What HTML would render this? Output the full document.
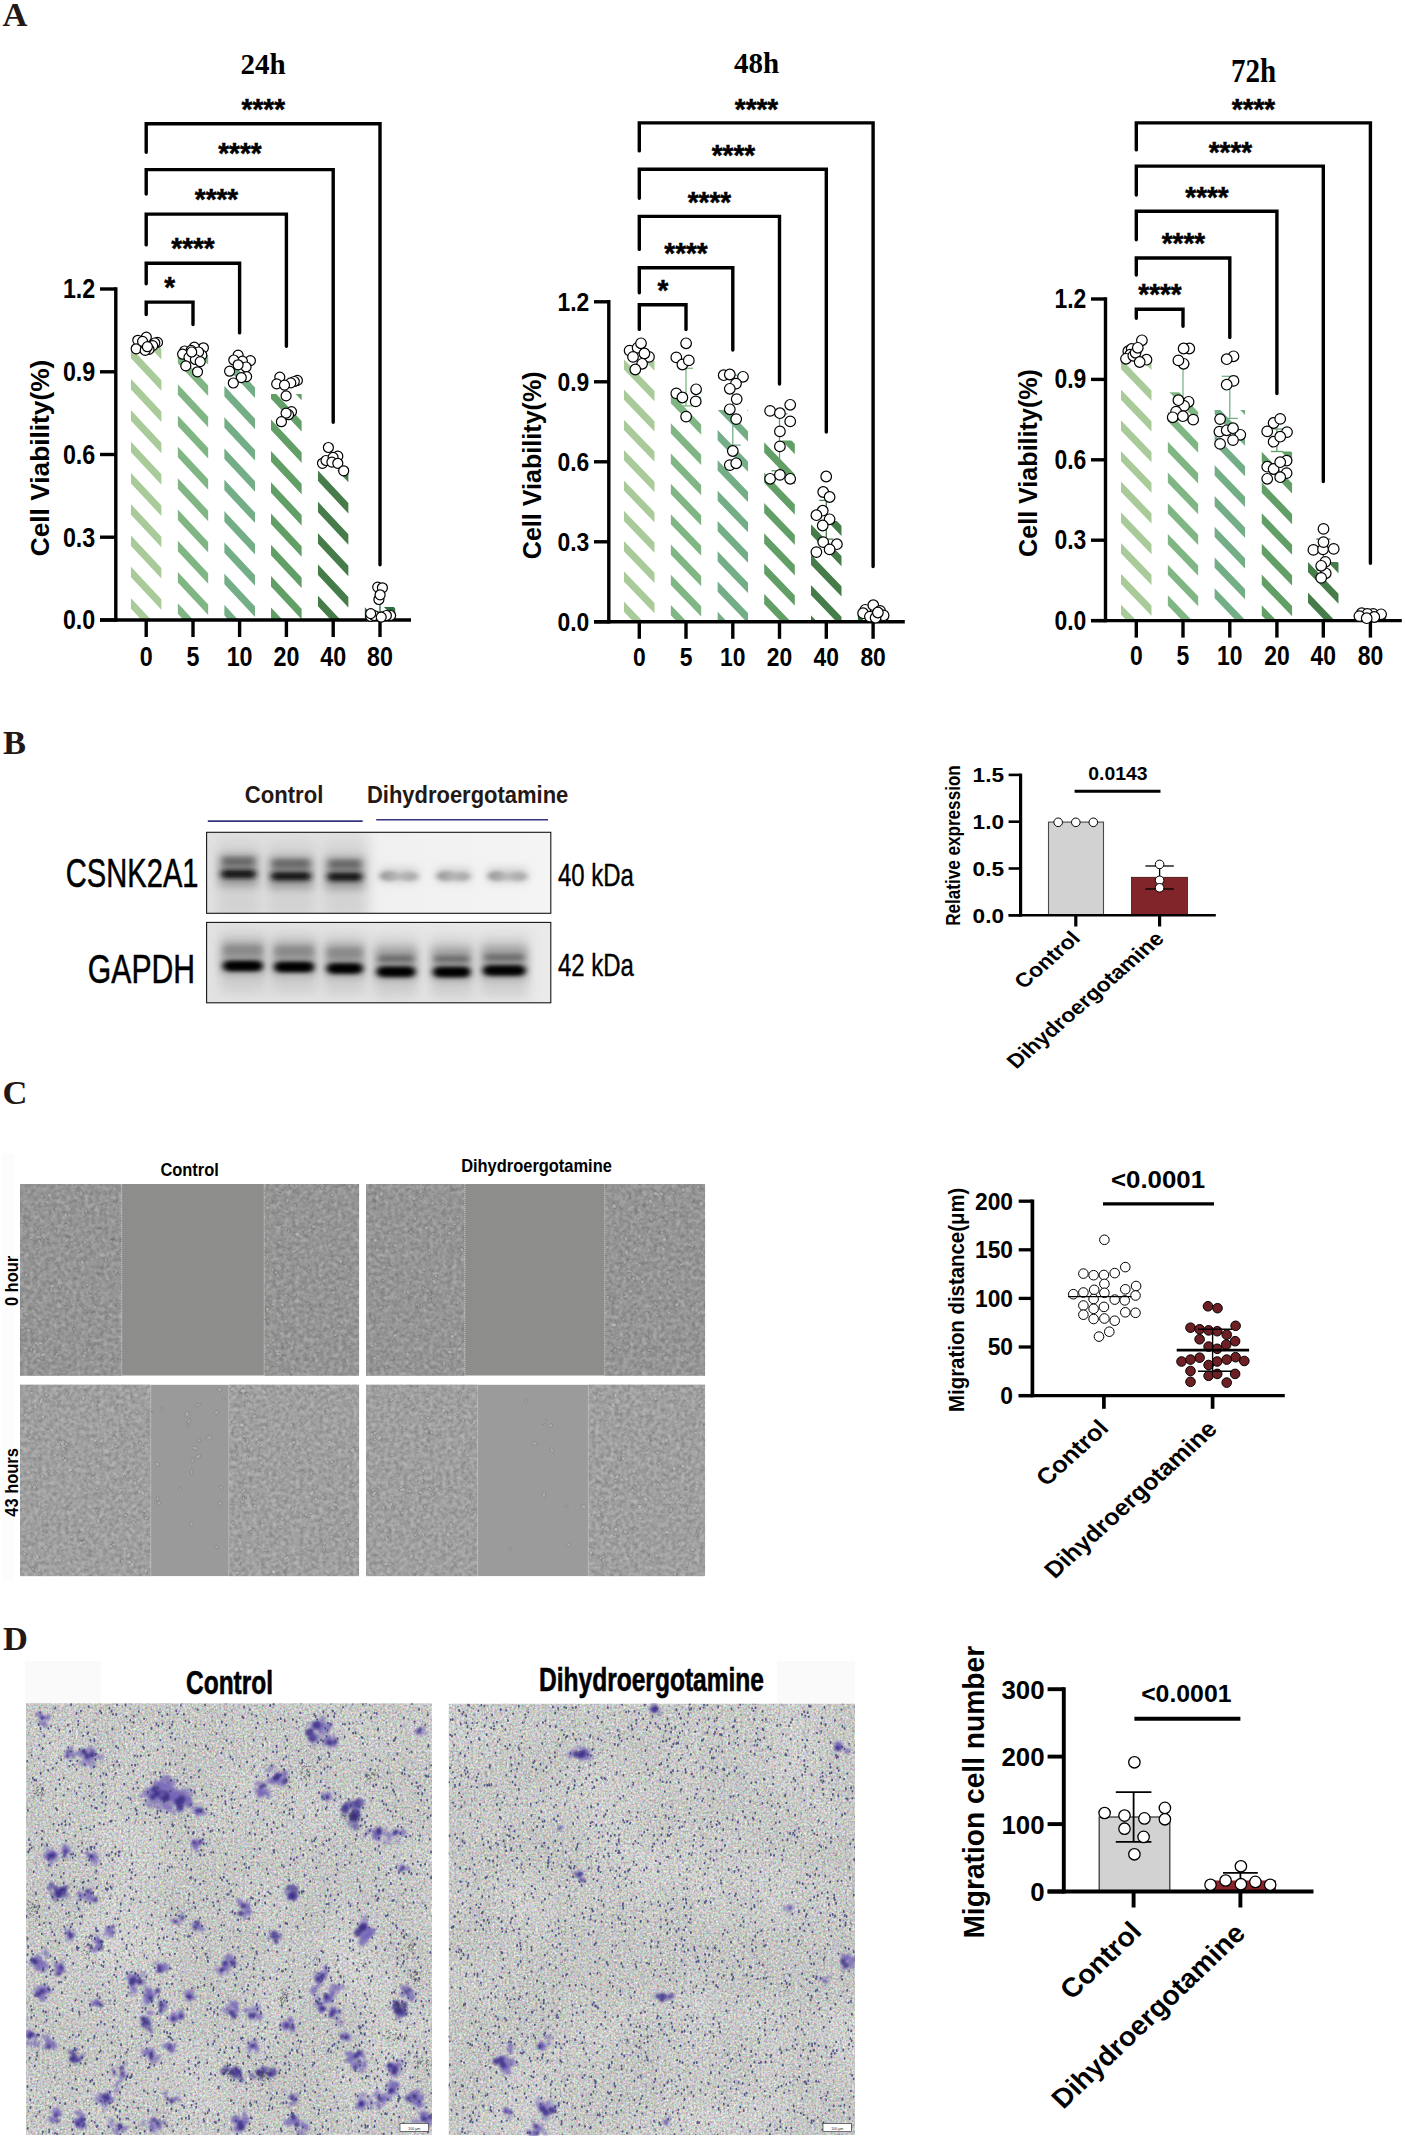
<!DOCTYPE html>
<html><head><meta charset="utf-8"><title>Figure</title>
<style>html,body{margin:0;padding:0;background:#fff}svg{display:block}</style></head><body>
<svg width="1405" height="2144" viewBox="0 0 1405 2144">
<rect width="1405" height="2144" fill="#fff"/>
<defs>
<filter id="blur2" x="-20%" y="-50%" width="140%" height="200%"><feGaussianBlur stdDeviation="2.2 1.6"/></filter>
<filter id="blur3" x="-20%" y="-80%" width="140%" height="260%"><feGaussianBlur stdDeviation="3 2.4"/></filter>
<filter id="blur1" x="-20%" y="-20%" width="140%" height="140%"><feGaussianBlur stdDeviation="1"/></filter>
<filter id="cellTex" x="0" y="0" width="100%" height="100%" color-interpolation-filters="sRGB">
 <feTurbulence type="fractalNoise" baseFrequency="0.21" numOctaves="2" seed="3" result="n"/>
 <feColorMatrix in="n" type="matrix" values="0 0 0 0 1  0 0 0 0 1  0 0 0 0 1  0.45 0 0 0 -0.16"/>
 <feComposite in2="SourceGraphic" operator="in"/>
</filter>
<filter id="cellTex2" x="0" y="0" width="100%" height="100%" color-interpolation-filters="sRGB">
 <feTurbulence type="fractalNoise" baseFrequency="0.26" numOctaves="2" seed="11" result="n"/>
 <feColorMatrix in="n" type="matrix" values="0 0 0 0 0.15  0 0 0 0 0.15  0 0 0 0 0.15  0.45 0 0 0 -0.16"/>
 <feComposite in2="SourceGraphic" operator="in"/>
</filter>
<filter id="grain" x="0" y="0" width="100%" height="100%" color-interpolation-filters="sRGB">
 <feTurbulence type="fractalNoise" baseFrequency="0.55" numOctaves="2" seed="7" result="n"/>
 <feColorMatrix in="n" type="matrix" values="2.4 0 0 0 -0.7  0 2.4 0 0 -0.7  0 0 2.4 0 -0.7  0 0 0 0 0.2"/>
 <feComposite in2="SourceGraphic" operator="in"/>
</filter>
<filter id="grainD" x="0" y="0" width="100%" height="100%" color-interpolation-filters="sRGB">
 <feTurbulence type="fractalNoise" baseFrequency="0.42" numOctaves="2" seed="33" result="n"/>
 <feColorMatrix in="n" type="matrix" values="0 0 0 0 0.6  0 0 0 0 0.62  0 0 0 0 0.6  1.8 0 0 0 -0.78"/>
 <feComposite in2="SourceGraphic" operator="in"/>
</filter>
<filter id="lowf" x="0" y="0" width="100%" height="100%" color-interpolation-filters="sRGB">
 <feTurbulence type="fractalNoise" baseFrequency="0.012" numOctaves="2" seed="4" result="n"/>
 <feColorMatrix in="n" type="matrix" values="0 0 0 0 1  0 0 0 0 1  0 0 0 0 1  1.2 0 0 0 -0.45"/>
 <feComposite in2="SourceGraphic" operator="in"/>
</filter>
<filter id="grainW" x="0" y="0" width="100%" height="100%" color-interpolation-filters="sRGB">
 <feTurbulence type="fractalNoise" baseFrequency="0.42" numOctaves="2" seed="21" result="n"/>
 <feColorMatrix in="n" type="matrix" values="0 0 0 0 1  0 0 0 0 1  0 0 0 0 1  2.4 0 0 0 -0.95"/>
 <feComposite in2="SourceGraphic" operator="in"/>
</filter>
</defs>
<text transform="translate(2.6,26.0)" font-family='"Liberation Serif", "Times New Roman", serif' font-size="34.5" font-weight="bold" text-anchor="start" fill="#231815" >A</text>
<text transform="translate(3.0,754.0)" font-family='"Liberation Serif", "Times New Roman", serif' font-size="34.5" font-weight="bold" text-anchor="start" fill="#231815" >B</text>
<text transform="translate(2.5,1104.0)" font-family='"Liberation Serif", "Times New Roman", serif' font-size="34.5" font-weight="bold" text-anchor="start" fill="#231815" >C</text>
<text transform="translate(3.0,1650.0)" font-family='"Liberation Serif", "Times New Roman", serif' font-size="34.5" font-weight="bold" text-anchor="start" fill="#231815" >D</text>
<clipPath id="c1"><rect x="130.8" y="347.0" width="30.8" height="273.0"/></clipPath>
<g clip-path="url(#c1)" fill="#A9CB99">
<path d="M130.8,253.6L130.8,264.1L161.6,297.1L161.6,286.6ZM130.8,284.9L130.8,295.4L161.6,328.4L161.6,317.9ZM130.8,316.2L130.8,326.7L161.6,359.7L161.6,349.2ZM130.8,347.5L130.8,358.0L161.6,391.0L161.6,380.5ZM130.8,378.8L130.8,389.3L161.6,422.3L161.6,411.8ZM130.8,410.1L130.8,420.6L161.6,453.6L161.6,443.1ZM130.8,441.4L130.8,451.9L161.6,484.9L161.6,474.4ZM130.8,472.7L130.8,483.2L161.6,516.2L161.6,505.7ZM130.8,504.0L130.8,514.5L161.6,547.5L161.6,537.0ZM130.8,535.3L130.8,545.8L161.6,578.8L161.6,568.3ZM130.8,566.6L130.8,577.1L161.6,610.1L161.6,599.6ZM130.8,597.9L130.8,608.4L161.6,641.4L161.6,630.9ZM130.8,629.2L130.8,639.7L161.6,672.7L161.6,662.2ZM130.8,660.5L130.8,671.0L161.6,704.0L161.6,693.5Z"/>
</g>
<clipPath id="c2"><rect x="177.6" y="355.0" width="30.8" height="265.0"/></clipPath>
<g clip-path="url(#c2)" fill="#80B684">
<path d="M177.6,258.8L177.6,269.3L208.4,302.3L208.4,291.8ZM177.6,290.1L177.6,300.6L208.4,333.6L208.4,323.1ZM177.6,321.4L177.6,331.9L208.4,364.9L208.4,354.4ZM177.6,352.7L177.6,363.2L208.4,396.2L208.4,385.7ZM177.6,384.0L177.6,394.5L208.4,427.5L208.4,417.0ZM177.6,415.3L177.6,425.8L208.4,458.8L208.4,448.3ZM177.6,446.6L177.6,457.1L208.4,490.1L208.4,479.6ZM177.6,477.9L177.6,488.4L208.4,521.4L208.4,510.9ZM177.6,509.2L177.6,519.7L208.4,552.7L208.4,542.2ZM177.6,540.5L177.6,551.0L208.4,584.0L208.4,573.5ZM177.6,571.8L177.6,582.3L208.4,615.3L208.4,604.8ZM177.6,603.1L177.6,613.6L208.4,646.6L208.4,636.1ZM177.6,634.4L177.6,644.9L208.4,677.9L208.4,667.4ZM177.6,665.7L177.6,676.2L208.4,709.2L208.4,698.7Z"/>
</g>
<clipPath id="c3"><rect x="224.2" y="368.0" width="30.8" height="252.0"/></clipPath>
<g clip-path="url(#c3)" fill="#73AE87">
<path d="M224.2,291.8L224.2,302.3L255.0,335.3L255.0,324.8ZM224.2,323.1L224.2,333.6L255.0,366.6L255.0,356.1ZM224.2,354.4L224.2,364.9L255.0,397.9L255.0,387.4ZM224.2,385.7L224.2,396.2L255.0,429.2L255.0,418.7ZM224.2,417.0L224.2,427.5L255.0,460.5L255.0,450.0ZM224.2,448.3L224.2,458.8L255.0,491.8L255.0,481.3ZM224.2,479.6L224.2,490.1L255.0,523.1L255.0,512.6ZM224.2,510.9L224.2,521.4L255.0,554.4L255.0,543.9ZM224.2,542.2L224.2,552.7L255.0,585.7L255.0,575.2ZM224.2,573.5L224.2,584.0L255.0,617.0L255.0,606.5ZM224.2,604.8L224.2,615.3L255.0,648.3L255.0,637.8ZM224.2,636.1L224.2,646.6L255.0,679.6L255.0,669.1ZM224.2,667.4L224.2,677.9L255.0,710.9L255.0,700.4Z"/>
</g>
<clipPath id="c4"><rect x="271.0" y="394.0" width="30.8" height="226.0"/></clipPath>
<g clip-path="url(#c4)" fill="#629F66">
<path d="M271.0,294.4L271.0,304.9L301.8,337.9L301.8,327.4ZM271.0,325.7L271.0,336.2L301.8,369.2L301.8,358.7ZM271.0,357.0L271.0,367.5L301.8,400.5L301.8,390.0ZM271.0,388.3L271.0,398.8L301.8,431.8L301.8,421.3ZM271.0,419.6L271.0,430.1L301.8,463.1L301.8,452.6ZM271.0,450.9L271.0,461.4L301.8,494.4L301.8,483.9ZM271.0,482.2L271.0,492.7L301.8,525.7L301.8,515.2ZM271.0,513.5L271.0,524.0L301.8,557.0L301.8,546.5ZM271.0,544.8L271.0,555.3L301.8,588.3L301.8,577.8ZM271.0,576.1L271.0,586.6L301.8,619.6L301.8,609.1ZM271.0,607.4L271.0,617.9L301.8,650.9L301.8,640.4ZM271.0,638.7L271.0,649.2L301.8,682.2L301.8,671.7ZM271.0,670.0L271.0,680.5L301.8,713.5L301.8,703.0Z"/>
</g>
<clipPath id="c5"><rect x="317.8" y="470.3" width="30.8" height="149.7"/></clipPath>
<g clip-path="url(#c5)" fill="#467C4A">
<path d="M317.8,376.4L317.8,386.9L348.6,419.9L348.6,409.4ZM317.8,407.7L317.8,418.2L348.6,451.2L348.6,440.7ZM317.8,439.0L317.8,449.5L348.6,482.5L348.6,472.0ZM317.8,470.3L317.8,480.8L348.6,513.8L348.6,503.3ZM317.8,501.6L317.8,512.1L348.6,545.1L348.6,534.6ZM317.8,532.9L317.8,543.4L348.6,576.4L348.6,565.9ZM317.8,564.2L317.8,574.7L348.6,607.7L348.6,597.2ZM317.8,595.5L317.8,606.0L348.6,639.0L348.6,628.5ZM317.8,626.8L317.8,637.3L348.6,670.3L348.6,659.8ZM317.8,658.1L317.8,668.6L348.6,701.6L348.6,691.1Z"/>
</g>
<clipPath id="c6"><rect x="364.6" y="607.0" width="30.8" height="13.0"/></clipPath>
<g clip-path="url(#c6)" fill="#2E6B3A">
<path d="M364.6,513.1L364.6,523.6L395.4,556.6L395.4,546.1ZM364.6,544.4L364.6,554.9L395.4,587.9L395.4,577.4ZM364.6,575.7L364.6,586.2L395.4,619.2L395.4,608.7ZM364.6,607.0L364.6,617.5L395.4,650.5L395.4,640.0ZM364.6,638.3L364.6,648.8L395.4,681.8L395.4,671.3ZM364.6,669.6L364.6,680.1L395.4,713.1L395.4,702.6Z"/>
</g>
<line x1="380.0" y1="593.0" x2="380.0" y2="612.0" stroke="#2E6B3A" stroke-width="1.3" stroke-linecap="butt" />
<line x1="376.0" y1="593.0" x2="384.0" y2="593.0" stroke="#2E6B3A" stroke-width="1.3" stroke-linecap="butt" />
<line x1="376.0" y1="612.0" x2="384.0" y2="612.0" stroke="#2E6B3A" stroke-width="1.3" stroke-linecap="butt" />
<line x1="115.8" y1="287.3" x2="115.8" y2="621.7" stroke="#000" stroke-width="3.4" stroke-linecap="butt" />
<line x1="100.0" y1="620.0" x2="411.0" y2="620.0" stroke="#000" stroke-width="3.4" stroke-linecap="butt" />
<line x1="100.0" y1="289.0" x2="115.8" y2="289.0" stroke="#000" stroke-width="3.4" stroke-linecap="butt" />
<text transform="translate(95.3,298.4) scale(0.826,1)" font-family='"Liberation Sans", Arial, sans-serif' font-size="28.2" font-weight="bold" text-anchor="end" fill="#000" >1.2</text>
<line x1="100.0" y1="371.8" x2="115.8" y2="371.8" stroke="#000" stroke-width="3.4" stroke-linecap="butt" />
<text transform="translate(95.3,381.1) scale(0.826,1)" font-family='"Liberation Sans", Arial, sans-serif' font-size="28.2" font-weight="bold" text-anchor="end" fill="#000" >0.9</text>
<line x1="100.0" y1="454.5" x2="115.8" y2="454.5" stroke="#000" stroke-width="3.4" stroke-linecap="butt" />
<text transform="translate(95.3,463.9) scale(0.826,1)" font-family='"Liberation Sans", Arial, sans-serif' font-size="28.2" font-weight="bold" text-anchor="end" fill="#000" >0.6</text>
<line x1="100.0" y1="537.2" x2="115.8" y2="537.2" stroke="#000" stroke-width="3.4" stroke-linecap="butt" />
<text transform="translate(95.3,546.6) scale(0.826,1)" font-family='"Liberation Sans", Arial, sans-serif' font-size="28.2" font-weight="bold" text-anchor="end" fill="#000" >0.3</text>
<line x1="100.0" y1="620.0" x2="115.8" y2="620.0" stroke="#000" stroke-width="3.4" stroke-linecap="butt" />
<text transform="translate(95.3,629.4) scale(0.826,1)" font-family='"Liberation Sans", Arial, sans-serif' font-size="28.2" font-weight="bold" text-anchor="end" fill="#000" >0.0</text>
<line x1="146.2" y1="620.0" x2="146.2" y2="637.0" stroke="#000" stroke-width="3.4" stroke-linecap="butt" />
<text transform="translate(146.2,665.5) scale(0.826,1)" font-family='"Liberation Sans", Arial, sans-serif' font-size="28.2" font-weight="bold" text-anchor="middle" fill="#000" >0</text>
<line x1="193.0" y1="620.0" x2="193.0" y2="637.0" stroke="#000" stroke-width="3.4" stroke-linecap="butt" />
<text transform="translate(193.0,665.5) scale(0.826,1)" font-family='"Liberation Sans", Arial, sans-serif' font-size="28.2" font-weight="bold" text-anchor="middle" fill="#000" >5</text>
<line x1="239.6" y1="620.0" x2="239.6" y2="637.0" stroke="#000" stroke-width="3.4" stroke-linecap="butt" />
<text transform="translate(239.6,665.5) scale(0.826,1)" font-family='"Liberation Sans", Arial, sans-serif' font-size="28.2" font-weight="bold" text-anchor="middle" fill="#000" >10</text>
<line x1="286.4" y1="620.0" x2="286.4" y2="637.0" stroke="#000" stroke-width="3.4" stroke-linecap="butt" />
<text transform="translate(286.4,665.5) scale(0.826,1)" font-family='"Liberation Sans", Arial, sans-serif' font-size="28.2" font-weight="bold" text-anchor="middle" fill="#000" >20</text>
<line x1="333.2" y1="620.0" x2="333.2" y2="637.0" stroke="#000" stroke-width="3.4" stroke-linecap="butt" />
<text transform="translate(333.2,665.5) scale(0.826,1)" font-family='"Liberation Sans", Arial, sans-serif' font-size="28.2" font-weight="bold" text-anchor="middle" fill="#000" >40</text>
<line x1="380.0" y1="620.0" x2="380.0" y2="637.0" stroke="#000" stroke-width="3.4" stroke-linecap="butt" />
<text transform="translate(380.0,665.5) scale(0.826,1)" font-family='"Liberation Sans", Arial, sans-serif' font-size="28.2" font-weight="bold" text-anchor="middle" fill="#000" >80</text>
<text transform="translate(49.0,458.0) rotate(-90) scale(1.03,1)" font-family='"Liberation Sans", Arial, sans-serif' font-size="25.5" font-weight="bold" text-anchor="middle" fill="#000" >Cell Viability(%)</text>
<g fill="#fff" stroke="#000" stroke-width="1.2">
<circle cx="146.3" cy="337.1" r="5.0"/>
<circle cx="137.8" cy="340.3" r="5.0"/>
<circle cx="157.5" cy="342.4" r="5.0"/>
<circle cx="154.8" cy="343.0" r="5.0"/>
<circle cx="152.7" cy="345.6" r="5.0"/>
<circle cx="136.2" cy="348.8" r="5.0"/>
<circle cx="149.0" cy="349.4" r="5.0"/>
<circle cx="145.2" cy="350.4" r="5.0"/>
<circle cx="142.6" cy="341.4" r="5.0"/>
<circle cx="147.4" cy="346.7" r="5.0"/>
</g>
<g fill="#fff" stroke="#000" stroke-width="1.2">
<circle cx="203.4" cy="347.8" r="5.0"/>
<circle cx="194.3" cy="347.2" r="5.0"/>
<circle cx="184.7" cy="351.0" r="5.0"/>
<circle cx="191.1" cy="350.4" r="5.0"/>
<circle cx="201.8" cy="355.2" r="5.0"/>
<circle cx="182.6" cy="354.2" r="5.0"/>
<circle cx="198.6" cy="352.0" r="5.0"/>
<circle cx="189.0" cy="357.4" r="5.0"/>
<circle cx="195.4" cy="359.5" r="5.0"/>
<circle cx="200.2" cy="361.6" r="5.0"/>
<circle cx="185.8" cy="365.9" r="5.0"/>
<circle cx="197.5" cy="371.8" r="5.0"/>
<circle cx="191.7" cy="352.0" r="5.0"/>
</g>
<g fill="#fff" stroke="#000" stroke-width="1.2">
<circle cx="238.1" cy="355.2" r="5.0"/>
<circle cx="250.4" cy="360.6" r="5.0"/>
<circle cx="242.4" cy="361.1" r="5.0"/>
<circle cx="246.1" cy="367.0" r="5.0"/>
<circle cx="233.8" cy="360.0" r="5.0"/>
<circle cx="238.1" cy="364.8" r="5.0"/>
<circle cx="229.6" cy="371.2" r="5.0"/>
<circle cx="246.6" cy="376.6" r="5.0"/>
<circle cx="241.3" cy="377.6" r="5.0"/>
<circle cx="233.3" cy="383.0" r="5.0"/>
</g>
<g fill="#fff" stroke="#000" stroke-width="1.2">
<circle cx="297.4" cy="380.4" r="5.0"/>
<circle cx="294.3" cy="381.5" r="5.0"/>
<circle cx="290.8" cy="382.9" r="5.0"/>
<circle cx="279.8" cy="377.1" r="5.0"/>
<circle cx="276.7" cy="383.9" r="5.0"/>
<circle cx="284.5" cy="385.1" r="5.0"/>
<circle cx="286.1" cy="395.9" r="5.0"/>
<circle cx="291.5" cy="411.6" r="5.0"/>
<circle cx="288.5" cy="414.7" r="5.0"/>
<circle cx="286.1" cy="413.2" r="5.0"/>
<circle cx="281.4" cy="421.7" r="5.0"/>
</g>
<g fill="#fff" stroke="#000" stroke-width="1.2">
<circle cx="328.4" cy="447.5" r="5.0"/>
<circle cx="322.5" cy="463.3" r="5.0"/>
<circle cx="326.0" cy="460.5" r="5.0"/>
<circle cx="337.8" cy="456.2" r="5.0"/>
<circle cx="333.1" cy="457.4" r="5.0"/>
<circle cx="331.9" cy="462.1" r="5.0"/>
<circle cx="337.8" cy="463.3" r="5.0"/>
<circle cx="343.7" cy="470.8" r="5.0"/>
</g>
<g fill="#fff" stroke="#000" stroke-width="1.2">
<circle cx="377.7" cy="587.1" r="5.0"/>
<circle cx="382.4" cy="587.8" r="5.0"/>
<circle cx="378.9" cy="599.5" r="5.0"/>
<circle cx="380.1" cy="594.8" r="5.0"/>
<circle cx="370.7" cy="616.4" r="5.0"/>
<circle cx="374.2" cy="615.5" r="5.0"/>
<circle cx="390.6" cy="615.5" r="5.0"/>
<circle cx="386.4" cy="615.5" r="5.0"/>
<circle cx="370.7" cy="613.6" r="5.0"/>
<circle cx="381.2" cy="617.1" r="5.0"/>
</g>
<path d="M146.2,152.2L146.2,123.8L380.0,123.8L380.0,564.7" stroke="#000" stroke-width="3.4" fill="none" stroke-linejoin="miter" stroke-linecap="round"/>
<path d="M146.2,194.0L146.2,169.6L333.2,169.6L333.2,422.2" stroke="#000" stroke-width="3.4" fill="none" stroke-linejoin="miter" stroke-linecap="round"/>
<path d="M146.2,244.9L146.2,214.1L286.4,214.1L286.4,346.3" stroke="#000" stroke-width="3.4" fill="none" stroke-linejoin="miter" stroke-linecap="round"/>
<path d="M146.2,283.7L146.2,263.3L239.6,263.3L239.6,332.9" stroke="#000" stroke-width="3.4" fill="none" stroke-linejoin="miter" stroke-linecap="round"/>
<path d="M146.2,314.5L146.2,302.1L193.0,302.1L193.0,324.5" stroke="#000" stroke-width="3.4" fill="none" stroke-linejoin="miter" stroke-linecap="round"/>
<text transform="translate(263.3,119.0) scale(0.93,1)" font-family='"Liberation Sans", Arial, sans-serif' font-size="30" font-weight="bold" text-anchor="middle" fill="#000" stroke="#000" stroke-width="0.5">****</text>
<text transform="translate(239.9,163.0) scale(0.93,1)" font-family='"Liberation Sans", Arial, sans-serif' font-size="30" font-weight="bold" text-anchor="middle" fill="#000" stroke="#000" stroke-width="0.5">****</text>
<text transform="translate(216.5,208.5) scale(0.93,1)" font-family='"Liberation Sans", Arial, sans-serif' font-size="30" font-weight="bold" text-anchor="middle" fill="#000" stroke="#000" stroke-width="0.5">****</text>
<text transform="translate(193.0,257.7) scale(0.93,1)" font-family='"Liberation Sans", Arial, sans-serif' font-size="30" font-weight="bold" text-anchor="middle" fill="#000" stroke="#000" stroke-width="0.5">****</text>
<text transform="translate(169.6,297.2) scale(0.93,1)" font-family='"Liberation Sans", Arial, sans-serif' font-size="30" font-weight="bold" text-anchor="middle" fill="#000" stroke="#000" stroke-width="0.5">*</text>
<text transform="translate(263.0,73.6)" font-family='"Liberation Serif", "Times New Roman", serif' font-size="29" font-weight="bold" text-anchor="middle" fill="#000" >24h</text>
<clipPath id="c7"><rect x="623.9" y="358.1" width="30.8" height="263.7"/></clipPath>
<g clip-path="url(#c7)" fill="#A9CB99">
<path d="M623.9,268.3L623.9,278.5L654.7,310.5L654.7,300.3ZM623.9,298.6L623.9,308.8L654.7,340.8L654.7,330.6ZM623.9,328.9L623.9,339.1L654.7,371.1L654.7,360.9ZM623.9,359.2L623.9,369.4L654.7,401.4L654.7,391.2ZM623.9,389.5L623.9,399.7L654.7,431.7L654.7,421.5ZM623.9,419.8L623.9,430.0L654.7,462.0L654.7,451.8ZM623.9,450.1L623.9,460.3L654.7,492.3L654.7,482.1ZM623.9,480.4L623.9,490.6L654.7,522.6L654.7,512.4ZM623.9,510.7L623.9,520.9L654.7,552.9L654.7,542.7ZM623.9,541.0L623.9,551.2L654.7,583.2L654.7,573.0ZM623.9,571.3L623.9,581.5L654.7,613.5L654.7,603.3ZM623.9,601.6L623.9,611.8L654.7,643.8L654.7,633.6ZM623.9,631.9L623.9,642.1L654.7,674.1L654.7,663.9ZM623.9,662.2L623.9,672.4L654.7,704.4L654.7,694.2Z"/>
</g>
<clipPath id="c8"><rect x="670.6" y="396.7" width="30.8" height="225.1"/></clipPath>
<g clip-path="url(#c8)" fill="#80B684">
<path d="M670.6,301.8L670.6,312.0L701.4,344.0L701.4,333.8ZM670.6,332.1L670.6,342.3L701.4,374.3L701.4,364.1ZM670.6,362.4L670.6,372.6L701.4,404.6L701.4,394.4ZM670.6,392.7L670.6,402.9L701.4,434.9L701.4,424.7ZM670.6,423.0L670.6,433.2L701.4,465.2L701.4,455.0ZM670.6,453.3L670.6,463.5L701.4,495.5L701.4,485.3ZM670.6,483.6L670.6,493.8L701.4,525.8L701.4,515.6ZM670.6,513.9L670.6,524.1L701.4,556.1L701.4,545.9ZM670.6,544.2L670.6,554.4L701.4,586.4L701.4,576.2ZM670.6,574.5L670.6,584.7L701.4,616.7L701.4,606.5ZM670.6,604.8L670.6,615.0L701.4,647.0L701.4,636.8ZM670.6,635.1L670.6,645.3L701.4,677.3L701.4,667.1ZM670.6,665.4L670.6,675.6L701.4,707.6L701.4,697.4Z"/>
</g>
<clipPath id="c9"><rect x="717.4" y="410.0" width="30.8" height="211.8"/></clipPath>
<g clip-path="url(#c9)" fill="#73AE87">
<path d="M717.4,308.6L717.4,318.8L748.2,350.8L748.2,340.6ZM717.4,338.9L717.4,349.1L748.2,381.1L748.2,370.9ZM717.4,369.2L717.4,379.4L748.2,411.4L748.2,401.2ZM717.4,399.5L717.4,409.7L748.2,441.7L748.2,431.5ZM717.4,429.8L717.4,440.0L748.2,472.0L748.2,461.8ZM717.4,460.1L717.4,470.3L748.2,502.3L748.2,492.1ZM717.4,490.4L717.4,500.6L748.2,532.6L748.2,522.4ZM717.4,520.7L717.4,530.9L748.2,562.9L748.2,552.7ZM717.4,551.0L717.4,561.2L748.2,593.2L748.2,583.0ZM717.4,581.3L717.4,591.5L748.2,623.5L748.2,613.3ZM717.4,611.6L717.4,621.8L748.2,653.8L748.2,643.6ZM717.4,641.9L717.4,652.1L748.2,684.1L748.2,673.9ZM717.4,672.2L717.4,682.4L748.2,714.4L748.2,704.2Z"/>
</g>
<clipPath id="c10"><rect x="764.1" y="440.5" width="30.8" height="181.3"/></clipPath>
<g clip-path="url(#c10)" fill="#629F66">
<path d="M764.1,351.4L764.1,361.6L794.9,393.6L794.9,383.4ZM764.1,381.7L764.1,391.9L794.9,423.9L794.9,413.7ZM764.1,412.0L764.1,422.2L794.9,454.2L794.9,444.0ZM764.1,442.3L764.1,452.5L794.9,484.5L794.9,474.3ZM764.1,472.6L764.1,482.8L794.9,514.8L794.9,504.6ZM764.1,502.9L764.1,513.1L794.9,545.1L794.9,534.9ZM764.1,533.2L764.1,543.4L794.9,575.4L794.9,565.2ZM764.1,563.5L764.1,573.7L794.9,605.7L794.9,595.5ZM764.1,593.8L764.1,604.0L794.9,636.0L794.9,625.8ZM764.1,624.1L764.1,634.3L794.9,666.3L794.9,656.1ZM764.1,654.4L764.1,664.6L794.9,696.6L794.9,686.4Z"/>
</g>
<clipPath id="c11"><rect x="810.9" y="521.0" width="30.8" height="100.8"/></clipPath>
<g clip-path="url(#c11)" fill="#467C4A">
<path d="M810.9,433.4L810.9,443.6L841.7,475.6L841.7,465.4ZM810.9,463.7L810.9,473.9L841.7,505.9L841.7,495.7ZM810.9,494.0L810.9,504.2L841.7,536.2L841.7,526.0ZM810.9,524.3L810.9,534.5L841.7,566.5L841.7,556.3ZM810.9,554.6L810.9,564.8L841.7,596.8L841.7,586.6ZM810.9,584.9L810.9,595.1L841.7,627.1L841.7,616.9ZM810.9,615.2L810.9,625.4L841.7,657.4L841.7,647.2ZM810.9,645.5L810.9,655.7L841.7,687.7L841.7,677.5ZM810.9,675.8L810.9,686.0L841.7,718.0L841.7,707.8Z"/>
</g>
<clipPath id="c12"><rect x="857.7" y="614.0" width="30.8" height="7.8"/></clipPath>
<g clip-path="url(#c12)" fill="#2E6B3A">
<path d="M857.7,523.1L857.7,533.3L888.5,565.3L888.5,555.1ZM857.7,553.4L857.7,563.6L888.5,595.6L888.5,585.4ZM857.7,583.7L857.7,593.9L888.5,625.9L888.5,615.7ZM857.7,614.0L857.7,624.2L888.5,656.2L888.5,646.0ZM857.7,644.3L857.7,654.5L888.5,686.5L888.5,676.3ZM857.7,674.6L857.7,684.8L888.5,716.8L888.5,706.6Z"/>
</g>
<line x1="686.0" y1="368.3" x2="686.0" y2="405.9" stroke="#80B684" stroke-width="1.3" stroke-linecap="butt" />
<line x1="679.0" y1="368.3" x2="693.0" y2="368.3" stroke="#80B684" stroke-width="1.3" stroke-linecap="butt" />
<line x1="679.0" y1="405.9" x2="693.0" y2="405.9" stroke="#80B684" stroke-width="1.3" stroke-linecap="butt" />
<line x1="732.8" y1="375.2" x2="732.8" y2="445.1" stroke="#73AE87" stroke-width="1.3" stroke-linecap="butt" />
<line x1="724.8" y1="375.2" x2="740.8" y2="375.2" stroke="#73AE87" stroke-width="1.3" stroke-linecap="butt" />
<line x1="724.8" y1="445.1" x2="740.8" y2="445.1" stroke="#73AE87" stroke-width="1.3" stroke-linecap="butt" />
<line x1="779.5" y1="413.9" x2="779.5" y2="470.8" stroke="#629F66" stroke-width="1.3" stroke-linecap="butt" />
<line x1="771.5" y1="413.9" x2="787.5" y2="413.9" stroke="#629F66" stroke-width="1.3" stroke-linecap="butt" />
<line x1="771.5" y1="470.8" x2="787.5" y2="470.8" stroke="#629F66" stroke-width="1.3" stroke-linecap="butt" />
<line x1="826.3" y1="500.4" x2="826.3" y2="539.1" stroke="#467C4A" stroke-width="1.3" stroke-linecap="butt" />
<line x1="819.3" y1="500.4" x2="833.3" y2="500.4" stroke="#467C4A" stroke-width="1.3" stroke-linecap="butt" />
<line x1="819.3" y1="539.1" x2="833.3" y2="539.1" stroke="#467C4A" stroke-width="1.3" stroke-linecap="butt" />
<line x1="608.8" y1="300.1" x2="608.8" y2="623.5" stroke="#000" stroke-width="3.4" stroke-linecap="butt" />
<line x1="594.0" y1="621.8" x2="904.8" y2="621.8" stroke="#000" stroke-width="3.4" stroke-linecap="butt" />
<line x1="594.0" y1="301.8" x2="608.8" y2="301.8" stroke="#000" stroke-width="3.4" stroke-linecap="butt" />
<text transform="translate(589.3,310.7) scale(0.86,1)" font-family='"Liberation Sans", Arial, sans-serif' font-size="26.6" font-weight="bold" text-anchor="end" fill="#000" >1.2</text>
<line x1="594.0" y1="381.8" x2="608.8" y2="381.8" stroke="#000" stroke-width="3.4" stroke-linecap="butt" />
<text transform="translate(589.3,390.7) scale(0.86,1)" font-family='"Liberation Sans", Arial, sans-serif' font-size="26.6" font-weight="bold" text-anchor="end" fill="#000" >0.9</text>
<line x1="594.0" y1="461.8" x2="608.8" y2="461.8" stroke="#000" stroke-width="3.4" stroke-linecap="butt" />
<text transform="translate(589.3,470.7) scale(0.86,1)" font-family='"Liberation Sans", Arial, sans-serif' font-size="26.6" font-weight="bold" text-anchor="end" fill="#000" >0.6</text>
<line x1="594.0" y1="541.8" x2="608.8" y2="541.8" stroke="#000" stroke-width="3.4" stroke-linecap="butt" />
<text transform="translate(589.3,550.7) scale(0.86,1)" font-family='"Liberation Sans", Arial, sans-serif' font-size="26.6" font-weight="bold" text-anchor="end" fill="#000" >0.3</text>
<line x1="594.0" y1="621.8" x2="608.8" y2="621.8" stroke="#000" stroke-width="3.4" stroke-linecap="butt" />
<text transform="translate(589.3,630.7) scale(0.86,1)" font-family='"Liberation Sans", Arial, sans-serif' font-size="26.6" font-weight="bold" text-anchor="end" fill="#000" >0.0</text>
<line x1="639.3" y1="621.8" x2="639.3" y2="638.8" stroke="#000" stroke-width="3.4" stroke-linecap="butt" />
<text transform="translate(639.3,665.8) scale(0.86,1)" font-family='"Liberation Sans", Arial, sans-serif' font-size="26.6" font-weight="bold" text-anchor="middle" fill="#000" >0</text>
<line x1="686.0" y1="621.8" x2="686.0" y2="638.8" stroke="#000" stroke-width="3.4" stroke-linecap="butt" />
<text transform="translate(686.0,665.8) scale(0.86,1)" font-family='"Liberation Sans", Arial, sans-serif' font-size="26.6" font-weight="bold" text-anchor="middle" fill="#000" >5</text>
<line x1="732.8" y1="621.8" x2="732.8" y2="638.8" stroke="#000" stroke-width="3.4" stroke-linecap="butt" />
<text transform="translate(732.8,665.8) scale(0.86,1)" font-family='"Liberation Sans", Arial, sans-serif' font-size="26.6" font-weight="bold" text-anchor="middle" fill="#000" >10</text>
<line x1="779.5" y1="621.8" x2="779.5" y2="638.8" stroke="#000" stroke-width="3.4" stroke-linecap="butt" />
<text transform="translate(779.5,665.8) scale(0.86,1)" font-family='"Liberation Sans", Arial, sans-serif' font-size="26.6" font-weight="bold" text-anchor="middle" fill="#000" >20</text>
<line x1="826.3" y1="621.8" x2="826.3" y2="638.8" stroke="#000" stroke-width="3.4" stroke-linecap="butt" />
<text transform="translate(826.3,665.8) scale(0.86,1)" font-family='"Liberation Sans", Arial, sans-serif' font-size="26.6" font-weight="bold" text-anchor="middle" fill="#000" >40</text>
<line x1="873.1" y1="621.8" x2="873.1" y2="638.8" stroke="#000" stroke-width="3.4" stroke-linecap="butt" />
<text transform="translate(873.1,665.8) scale(0.86,1)" font-family='"Liberation Sans", Arial, sans-serif' font-size="26.6" font-weight="bold" text-anchor="middle" fill="#000" >80</text>
<text transform="translate(541.0,465.3) rotate(-90) scale(0.985,1)" font-family='"Liberation Sans", Arial, sans-serif' font-size="25.5" font-weight="bold" text-anchor="middle" fill="#000" >Cell Viability(%)</text>
<g fill="#fff" stroke="#000" stroke-width="1.2">
<circle cx="629.6" cy="350.6" r="5.3"/>
<circle cx="637.6" cy="347.8" r="5.3"/>
<circle cx="641.0" cy="343.3" r="5.3"/>
<circle cx="649.0" cy="356.9" r="5.3"/>
<circle cx="633.0" cy="356.9" r="5.3"/>
<circle cx="644.4" cy="353.5" r="5.3"/>
<circle cx="642.1" cy="363.8" r="5.3"/>
<circle cx="635.3" cy="369.5" r="5.3"/>
</g>
<g fill="#fff" stroke="#000" stroke-width="1.2">
<circle cx="686.1" cy="343.3" r="5.3"/>
<circle cx="676.3" cy="357.4" r="5.3"/>
<circle cx="682.4" cy="364.5" r="5.3"/>
<circle cx="688.8" cy="360.4" r="5.3"/>
<circle cx="696.1" cy="389.3" r="5.3"/>
<circle cx="676.3" cy="393.4" r="5.3"/>
<circle cx="695.7" cy="401.4" r="5.3"/>
<circle cx="682.4" cy="397.5" r="5.3"/>
<circle cx="686.1" cy="416.6" r="5.3"/>
</g>
<g fill="#fff" stroke="#000" stroke-width="1.2">
<circle cx="723.7" cy="375.2" r="5.3"/>
<circle cx="743.0" cy="376.8" r="5.3"/>
<circle cx="729.8" cy="374.5" r="5.3"/>
<circle cx="736.0" cy="383.6" r="5.3"/>
<circle cx="729.8" cy="388.8" r="5.3"/>
<circle cx="736.7" cy="399.1" r="5.3"/>
<circle cx="729.8" cy="409.3" r="5.3"/>
<circle cx="736.2" cy="419.1" r="5.3"/>
<circle cx="732.8" cy="451.0" r="5.3"/>
<circle cx="729.8" cy="465.1" r="5.3"/>
<circle cx="736.2" cy="463.3" r="5.3"/>
</g>
<g fill="#fff" stroke="#000" stroke-width="1.2">
<circle cx="790.2" cy="404.8" r="5.3"/>
<circle cx="770.1" cy="410.9" r="5.3"/>
<circle cx="779.9" cy="413.2" r="5.3"/>
<circle cx="790.2" cy="421.4" r="5.3"/>
<circle cx="779.9" cy="431.4" r="5.3"/>
<circle cx="779.9" cy="446.4" r="5.3"/>
<circle cx="770.1" cy="478.8" r="5.3"/>
<circle cx="790.2" cy="478.8" r="5.3"/>
<circle cx="779.9" cy="474.9" r="5.3"/>
</g>
<g fill="#fff" stroke="#000" stroke-width="1.2">
<circle cx="826.2" cy="476.5" r="5.3"/>
<circle cx="823.2" cy="492.0" r="5.3"/>
<circle cx="829.6" cy="497.0" r="5.3"/>
<circle cx="822.7" cy="510.7" r="5.3"/>
<circle cx="816.4" cy="515.2" r="5.3"/>
<circle cx="829.6" cy="519.3" r="5.3"/>
<circle cx="822.7" cy="525.5" r="5.3"/>
<circle cx="836.9" cy="544.2" r="5.3"/>
<circle cx="823.2" cy="542.1" r="5.3"/>
<circle cx="816.4" cy="552.1" r="5.3"/>
<circle cx="829.6" cy="549.4" r="5.3"/>
</g>
<g fill="#fff" stroke="#000" stroke-width="1.2">
<circle cx="865.3" cy="609.8" r="5.3"/>
<circle cx="873.3" cy="605.2" r="5.3"/>
<circle cx="863.1" cy="613.2" r="5.3"/>
<circle cx="880.1" cy="610.9" r="5.3"/>
<circle cx="883.6" cy="615.4" r="5.3"/>
<circle cx="869.9" cy="616.6" r="5.3"/>
<circle cx="875.6" cy="617.7" r="5.3"/>
<circle cx="877.9" cy="612.5" r="5.3"/>
</g>
<path d="M639.3,150.9L639.3,122.9L873.1,122.9L873.1,566.5" stroke="#000" stroke-width="3.4" fill="none" stroke-linejoin="miter" stroke-linecap="round"/>
<path d="M639.3,198.3L639.3,169.3L826.3,169.3L826.3,432.0" stroke="#000" stroke-width="3.4" fill="none" stroke-linejoin="miter" stroke-linecap="round"/>
<path d="M639.3,249.4L639.3,216.4L779.5,216.4L779.5,384.0" stroke="#000" stroke-width="3.4" fill="none" stroke-linejoin="miter" stroke-linecap="round"/>
<path d="M639.3,292.7L639.3,267.7L732.8,267.7L732.8,350.0" stroke="#000" stroke-width="3.4" fill="none" stroke-linejoin="miter" stroke-linecap="round"/>
<path d="M639.3,329.4L639.3,304.8L686.0,304.8L686.0,329.5" stroke="#000" stroke-width="3.4" fill="none" stroke-linejoin="miter" stroke-linecap="round"/>
<text transform="translate(756.5,118.5) scale(0.93,1)" font-family='"Liberation Sans", Arial, sans-serif' font-size="30" font-weight="bold" text-anchor="middle" fill="#000" stroke="#000" stroke-width="0.5">****</text>
<text transform="translate(733.4,164.5) scale(0.93,1)" font-family='"Liberation Sans", Arial, sans-serif' font-size="30" font-weight="bold" text-anchor="middle" fill="#000" stroke="#000" stroke-width="0.5">****</text>
<text transform="translate(709.4,211.5) scale(0.93,1)" font-family='"Liberation Sans", Arial, sans-serif' font-size="30" font-weight="bold" text-anchor="middle" fill="#000" stroke="#000" stroke-width="0.5">****</text>
<text transform="translate(686.0,262.9) scale(0.93,1)" font-family='"Liberation Sans", Arial, sans-serif' font-size="30" font-weight="bold" text-anchor="middle" fill="#000" stroke="#000" stroke-width="0.5">****</text>
<text transform="translate(663.0,299.5) scale(0.93,1)" font-family='"Liberation Sans", Arial, sans-serif' font-size="30" font-weight="bold" text-anchor="middle" fill="#000" stroke="#000" stroke-width="0.5">*</text>
<text transform="translate(756.5,73.2)" font-family='"Liberation Serif", "Times New Roman", serif' font-size="29" font-weight="bold" text-anchor="middle" fill="#000" >48h</text>
<clipPath id="c13"><rect x="1120.9" y="361.5" width="30.8" height="259.1"/></clipPath>
<g clip-path="url(#c13)" fill="#A9CB99">
<path d="M1120.9,266.7L1120.9,276.9L1151.7,308.9L1151.7,298.7ZM1120.9,297.4L1120.9,307.6L1151.7,339.6L1151.7,329.4ZM1120.9,328.1L1120.9,338.3L1151.7,370.3L1151.7,360.1ZM1120.9,358.8L1120.9,369.0L1151.7,401.0L1151.7,390.8ZM1120.9,389.5L1120.9,399.7L1151.7,431.7L1151.7,421.5ZM1120.9,420.2L1120.9,430.4L1151.7,462.4L1151.7,452.2ZM1120.9,450.9L1120.9,461.1L1151.7,493.1L1151.7,482.9ZM1120.9,481.6L1120.9,491.8L1151.7,523.8L1151.7,513.6ZM1120.9,512.3L1120.9,522.5L1151.7,554.5L1151.7,544.3ZM1120.9,543.0L1120.9,553.2L1151.7,585.2L1151.7,575.0ZM1120.9,573.7L1120.9,583.9L1151.7,615.9L1151.7,605.7ZM1120.9,604.4L1120.9,614.6L1151.7,646.6L1151.7,636.4ZM1120.9,635.1L1120.9,645.3L1151.7,677.3L1151.7,667.1ZM1120.9,665.8L1120.9,676.0L1151.7,708.0L1151.7,697.8Z"/>
</g>
<clipPath id="c14"><rect x="1167.6" y="392.2" width="30.8" height="228.4"/></clipPath>
<g clip-path="url(#c14)" fill="#80B684">
<path d="M1167.6,318.8L1167.6,329.0L1198.4,361.0L1198.4,350.8ZM1167.6,349.5L1167.6,359.7L1198.4,391.7L1198.4,381.5ZM1167.6,380.2L1167.6,390.4L1198.4,422.4L1198.4,412.2ZM1167.6,410.9L1167.6,421.1L1198.4,453.1L1198.4,442.9ZM1167.6,441.6L1167.6,451.8L1198.4,483.8L1198.4,473.6ZM1167.6,472.3L1167.6,482.5L1198.4,514.5L1198.4,504.3ZM1167.6,503.0L1167.6,513.2L1198.4,545.2L1198.4,535.0ZM1167.6,533.7L1167.6,543.9L1198.4,575.9L1198.4,565.7ZM1167.6,564.4L1167.6,574.6L1198.4,606.6L1198.4,596.4ZM1167.6,595.1L1167.6,605.3L1198.4,637.3L1198.4,627.1ZM1167.6,625.8L1167.6,636.0L1198.4,668.0L1198.4,657.8ZM1167.6,656.5L1167.6,666.7L1198.4,698.7L1198.4,688.5Z"/>
</g>
<clipPath id="c15"><rect x="1214.4" y="410.0" width="30.8" height="210.6"/></clipPath>
<g clip-path="url(#c15)" fill="#73AE87">
<path d="M1214.4,311.6L1214.4,321.8L1245.2,353.8L1245.2,343.6ZM1214.4,342.3L1214.4,352.5L1245.2,384.5L1245.2,374.3ZM1214.4,373.0L1214.4,383.2L1245.2,415.2L1245.2,405.0ZM1214.4,403.7L1214.4,413.9L1245.2,445.9L1245.2,435.7ZM1214.4,434.4L1214.4,444.6L1245.2,476.6L1245.2,466.4ZM1214.4,465.1L1214.4,475.3L1245.2,507.3L1245.2,497.1ZM1214.4,495.8L1214.4,506.0L1245.2,538.0L1245.2,527.8ZM1214.4,526.5L1214.4,536.7L1245.2,568.7L1245.2,558.5ZM1214.4,557.2L1214.4,567.4L1245.2,599.4L1245.2,589.2ZM1214.4,587.9L1214.4,598.1L1245.2,630.1L1245.2,619.9ZM1214.4,618.6L1214.4,628.8L1245.2,660.8L1245.2,650.6ZM1214.4,649.3L1214.4,659.5L1245.2,691.5L1245.2,681.3ZM1214.4,680.0L1214.4,690.2L1245.2,722.2L1245.2,712.0Z"/>
</g>
<clipPath id="c16"><rect x="1261.5" y="451.5" width="30.8" height="169.1"/></clipPath>
<g clip-path="url(#c16)" fill="#629F66">
<path d="M1261.5,359.4L1261.5,369.6L1292.3,401.6L1292.3,391.4ZM1261.5,390.1L1261.5,400.3L1292.3,432.3L1292.3,422.1ZM1261.5,420.8L1261.5,431.0L1292.3,463.0L1292.3,452.8ZM1261.5,451.5L1261.5,461.7L1292.3,493.7L1292.3,483.5ZM1261.5,482.2L1261.5,492.4L1292.3,524.4L1292.3,514.2ZM1261.5,512.9L1261.5,523.1L1292.3,555.1L1292.3,544.9ZM1261.5,543.6L1261.5,553.8L1292.3,585.8L1292.3,575.6ZM1261.5,574.3L1261.5,584.5L1292.3,616.5L1292.3,606.3ZM1261.5,605.0L1261.5,615.2L1292.3,647.2L1292.3,637.0ZM1261.5,635.7L1261.5,645.9L1292.3,677.9L1292.3,667.7ZM1261.5,666.4L1261.5,676.6L1292.3,708.6L1292.3,698.4Z"/>
</g>
<clipPath id="c17"><rect x="1307.9" y="561.9" width="30.8" height="58.7"/></clipPath>
<g clip-path="url(#c17)" fill="#467C4A">
<path d="M1307.9,469.8L1307.9,480.0L1338.7,512.0L1338.7,501.8ZM1307.9,500.5L1307.9,510.7L1338.7,542.7L1338.7,532.5ZM1307.9,531.2L1307.9,541.4L1338.7,573.4L1338.7,563.2ZM1307.9,561.9L1307.9,572.1L1338.7,604.1L1338.7,593.9ZM1307.9,592.6L1307.9,602.8L1338.7,634.8L1338.7,624.6ZM1307.9,623.3L1307.9,633.5L1338.7,665.5L1338.7,655.3ZM1307.9,654.0L1307.9,664.2L1338.7,696.2L1338.7,686.0Z"/>
</g>
<clipPath id="c18"><rect x="1355.0" y="614.0" width="30.8" height="6.6"/></clipPath>
<g clip-path="url(#c18)" fill="#2E6B3A">
<path d="M1355.0,521.9L1355.0,532.1L1385.8,564.1L1385.8,553.9ZM1355.0,552.6L1355.0,562.8L1385.8,594.8L1385.8,584.6ZM1355.0,583.3L1355.0,593.5L1385.8,625.5L1385.8,615.3ZM1355.0,614.0L1355.0,624.2L1385.8,656.2L1385.8,646.0ZM1355.0,644.7L1355.0,654.9L1385.8,686.9L1385.8,676.7ZM1355.0,675.4L1355.0,685.6L1385.8,717.6L1385.8,707.4Z"/>
</g>
<line x1="1183.0" y1="363.8" x2="1183.0" y2="420.0" stroke="#80B684" stroke-width="1.3" stroke-linecap="butt" />
<line x1="1176.0" y1="363.8" x2="1190.0" y2="363.8" stroke="#80B684" stroke-width="1.3" stroke-linecap="butt" />
<line x1="1176.0" y1="420.0" x2="1190.0" y2="420.0" stroke="#80B684" stroke-width="1.3" stroke-linecap="butt" />
<line x1="1229.8" y1="376.3" x2="1229.8" y2="418.4" stroke="#73AE87" stroke-width="1.3" stroke-linecap="butt" />
<line x1="1221.8" y1="376.3" x2="1237.8" y2="376.3" stroke="#73AE87" stroke-width="1.3" stroke-linecap="butt" />
<line x1="1221.8" y1="418.4" x2="1237.8" y2="418.4" stroke="#73AE87" stroke-width="1.3" stroke-linecap="butt" />
<line x1="1276.9" y1="429.0" x2="1276.9" y2="451.5" stroke="#629F66" stroke-width="1.3" stroke-linecap="butt" />
<line x1="1270.9" y1="429.0" x2="1282.9" y2="429.0" stroke="#629F66" stroke-width="1.3" stroke-linecap="butt" />
<line x1="1270.9" y1="451.5" x2="1282.9" y2="451.5" stroke="#629F66" stroke-width="1.3" stroke-linecap="butt" />
<line x1="1323.3" y1="539.1" x2="1323.3" y2="570.0" stroke="#467C4A" stroke-width="1.3" stroke-linecap="butt" />
<line x1="1316.3" y1="539.1" x2="1330.3" y2="539.1" stroke="#467C4A" stroke-width="1.3" stroke-linecap="butt" />
<line x1="1316.3" y1="570.0" x2="1330.3" y2="570.0" stroke="#467C4A" stroke-width="1.3" stroke-linecap="butt" />
<line x1="1105.5" y1="297.3" x2="1105.5" y2="622.3" stroke="#000" stroke-width="3.4" stroke-linecap="butt" />
<line x1="1091.0" y1="620.6" x2="1401.8" y2="620.6" stroke="#000" stroke-width="3.4" stroke-linecap="butt" />
<line x1="1091.0" y1="299.0" x2="1105.5" y2="299.0" stroke="#000" stroke-width="3.4" stroke-linecap="butt" />
<text transform="translate(1086.3,307.9) scale(0.855,1)" font-family='"Liberation Sans", Arial, sans-serif' font-size="26.8" font-weight="bold" text-anchor="end" fill="#000" >1.2</text>
<line x1="1091.0" y1="379.4" x2="1105.5" y2="379.4" stroke="#000" stroke-width="3.4" stroke-linecap="butt" />
<text transform="translate(1086.3,388.3) scale(0.855,1)" font-family='"Liberation Sans", Arial, sans-serif' font-size="26.8" font-weight="bold" text-anchor="end" fill="#000" >0.9</text>
<line x1="1091.0" y1="459.8" x2="1105.5" y2="459.8" stroke="#000" stroke-width="3.4" stroke-linecap="butt" />
<text transform="translate(1086.3,468.7) scale(0.855,1)" font-family='"Liberation Sans", Arial, sans-serif' font-size="26.8" font-weight="bold" text-anchor="end" fill="#000" >0.6</text>
<line x1="1091.0" y1="540.2" x2="1105.5" y2="540.2" stroke="#000" stroke-width="3.4" stroke-linecap="butt" />
<text transform="translate(1086.3,549.1) scale(0.855,1)" font-family='"Liberation Sans", Arial, sans-serif' font-size="26.8" font-weight="bold" text-anchor="end" fill="#000" >0.3</text>
<line x1="1091.0" y1="620.6" x2="1105.5" y2="620.6" stroke="#000" stroke-width="3.4" stroke-linecap="butt" />
<text transform="translate(1086.3,629.5) scale(0.855,1)" font-family='"Liberation Sans", Arial, sans-serif' font-size="26.8" font-weight="bold" text-anchor="end" fill="#000" >0.0</text>
<line x1="1136.3" y1="620.6" x2="1136.3" y2="637.6" stroke="#000" stroke-width="3.4" stroke-linecap="butt" />
<text transform="translate(1136.3,665.1) scale(0.855,1)" font-family='"Liberation Sans", Arial, sans-serif' font-size="26.8" font-weight="bold" text-anchor="middle" fill="#000" >0</text>
<line x1="1183.0" y1="620.6" x2="1183.0" y2="637.6" stroke="#000" stroke-width="3.4" stroke-linecap="butt" />
<text transform="translate(1183.0,665.1) scale(0.855,1)" font-family='"Liberation Sans", Arial, sans-serif' font-size="26.8" font-weight="bold" text-anchor="middle" fill="#000" >5</text>
<line x1="1229.8" y1="620.6" x2="1229.8" y2="637.6" stroke="#000" stroke-width="3.4" stroke-linecap="butt" />
<text transform="translate(1229.8,665.1) scale(0.855,1)" font-family='"Liberation Sans", Arial, sans-serif' font-size="26.8" font-weight="bold" text-anchor="middle" fill="#000" >10</text>
<line x1="1276.9" y1="620.6" x2="1276.9" y2="637.6" stroke="#000" stroke-width="3.4" stroke-linecap="butt" />
<text transform="translate(1276.9,665.1) scale(0.855,1)" font-family='"Liberation Sans", Arial, sans-serif' font-size="26.8" font-weight="bold" text-anchor="middle" fill="#000" >20</text>
<line x1="1323.3" y1="620.6" x2="1323.3" y2="637.6" stroke="#000" stroke-width="3.4" stroke-linecap="butt" />
<text transform="translate(1323.3,665.1) scale(0.855,1)" font-family='"Liberation Sans", Arial, sans-serif' font-size="26.8" font-weight="bold" text-anchor="middle" fill="#000" >40</text>
<line x1="1370.4" y1="620.6" x2="1370.4" y2="637.6" stroke="#000" stroke-width="3.4" stroke-linecap="butt" />
<text transform="translate(1370.4,665.1) scale(0.855,1)" font-family='"Liberation Sans", Arial, sans-serif' font-size="26.8" font-weight="bold" text-anchor="middle" fill="#000" >80</text>
<text transform="translate(1037.0,463.0) rotate(-90) scale(0.985,1)" font-family='"Liberation Sans", Arial, sans-serif' font-size="25.5" font-weight="bold" text-anchor="middle" fill="#000" >Cell Viability(%)</text>
<g fill="#fff" stroke="#000" stroke-width="1.2">
<circle cx="1141.9" cy="340.3" r="5.3"/>
<circle cx="1128.3" cy="351.2" r="5.3"/>
<circle cx="1131.7" cy="349.0" r="5.3"/>
<circle cx="1130.1" cy="354.7" r="5.3"/>
<circle cx="1126.0" cy="358.8" r="5.3"/>
<circle cx="1133.3" cy="355.8" r="5.3"/>
<circle cx="1135.6" cy="352.8" r="5.3"/>
<circle cx="1146.5" cy="359.7" r="5.3"/>
<circle cx="1137.8" cy="347.8" r="5.3"/>
<circle cx="1139.7" cy="362.0" r="5.3"/>
</g>
<g fill="#fff" stroke="#000" stroke-width="1.2">
<circle cx="1189.3" cy="348.5" r="5.3"/>
<circle cx="1183.6" cy="348.5" r="5.3"/>
<circle cx="1183.6" cy="363.8" r="5.3"/>
<circle cx="1178.4" cy="360.4" r="5.3"/>
<circle cx="1188.6" cy="401.8" r="5.3"/>
<circle cx="1184.1" cy="405.9" r="5.3"/>
<circle cx="1178.4" cy="400.2" r="5.3"/>
<circle cx="1176.1" cy="411.6" r="5.3"/>
<circle cx="1172.7" cy="417.3" r="5.3"/>
<circle cx="1193.2" cy="419.6" r="5.3"/>
<circle cx="1182.9" cy="416.2" r="5.3"/>
</g>
<g fill="#fff" stroke="#000" stroke-width="1.2">
<circle cx="1233.5" cy="356.3" r="5.3"/>
<circle cx="1226.7" cy="359.2" r="5.3"/>
<circle cx="1233.5" cy="380.9" r="5.3"/>
<circle cx="1226.7" cy="384.7" r="5.3"/>
<circle cx="1220.1" cy="419.1" r="5.3"/>
<circle cx="1219.4" cy="431.6" r="5.3"/>
<circle cx="1226.7" cy="430.3" r="5.3"/>
<circle cx="1240.3" cy="434.8" r="5.3"/>
<circle cx="1233.0" cy="428.2" r="5.3"/>
<circle cx="1233.0" cy="440.1" r="5.3"/>
<circle cx="1220.1" cy="443.9" r="5.3"/>
</g>
<g fill="#fff" stroke="#000" stroke-width="1.2">
<circle cx="1273.6" cy="423.0" r="5.3"/>
<circle cx="1280.2" cy="418.9" r="5.3"/>
<circle cx="1267.2" cy="431.4" r="5.3"/>
<circle cx="1287.0" cy="432.1" r="5.3"/>
<circle cx="1273.6" cy="441.7" r="5.3"/>
<circle cx="1280.2" cy="436.7" r="5.3"/>
<circle cx="1286.6" cy="460.6" r="5.3"/>
<circle cx="1267.2" cy="466.7" r="5.3"/>
<circle cx="1273.6" cy="469.0" r="5.3"/>
<circle cx="1280.2" cy="462.2" r="5.3"/>
<circle cx="1286.6" cy="473.1" r="5.3"/>
<circle cx="1267.2" cy="478.8" r="5.3"/>
<circle cx="1280.2" cy="477.2" r="5.3"/>
</g>
<g fill="#fff" stroke="#000" stroke-width="1.2">
<circle cx="1323.5" cy="528.9" r="5.3"/>
<circle cx="1313.4" cy="549.9" r="5.3"/>
<circle cx="1333.7" cy="548.9" r="5.3"/>
<circle cx="1323.0" cy="549.4" r="5.3"/>
<circle cx="1323.5" cy="542.1" r="5.3"/>
<circle cx="1325.3" cy="561.9" r="5.3"/>
<circle cx="1325.7" cy="573.3" r="5.3"/>
<circle cx="1321.2" cy="565.8" r="5.3"/>
<circle cx="1321.2" cy="577.9" r="5.3"/>
</g>
<g fill="#fff" stroke="#000" stroke-width="1.2">
<circle cx="1361.7" cy="613.2" r="5.3"/>
<circle cx="1373.1" cy="613.9" r="5.3"/>
<circle cx="1367.4" cy="613.9" r="5.3"/>
<circle cx="1381.1" cy="614.3" r="5.3"/>
<circle cx="1359.4" cy="616.1" r="5.3"/>
<circle cx="1374.3" cy="617.0" r="5.3"/>
<circle cx="1366.7" cy="618.2" r="5.3"/>
</g>
<path d="M1136.3,149.9L1136.3,122.9L1370.4,122.9L1370.4,563.3" stroke="#000" stroke-width="3.4" fill="none" stroke-linejoin="miter" stroke-linecap="round"/>
<path d="M1136.3,195.1L1136.3,166.1L1323.3,166.1L1323.3,481.6" stroke="#000" stroke-width="3.4" fill="none" stroke-linejoin="miter" stroke-linecap="round"/>
<path d="M1136.3,239.8L1136.3,211.3L1276.9,211.3L1276.9,393.5" stroke="#000" stroke-width="3.4" fill="none" stroke-linejoin="miter" stroke-linecap="round"/>
<path d="M1136.3,275.0L1136.3,258.0L1229.8,258.0L1229.8,337.5" stroke="#000" stroke-width="3.4" fill="none" stroke-linejoin="miter" stroke-linecap="round"/>
<path d="M1136.3,318.3L1136.3,309.3L1183.0,309.3L1183.0,326.3" stroke="#000" stroke-width="3.4" fill="none" stroke-linejoin="miter" stroke-linecap="round"/>
<text transform="translate(1253.5,118.5) scale(0.93,1)" font-family='"Liberation Sans", Arial, sans-serif' font-size="30" font-weight="bold" text-anchor="middle" fill="#000" stroke="#000" stroke-width="0.5">****</text>
<text transform="translate(1230.4,162.0) scale(0.93,1)" font-family='"Liberation Sans", Arial, sans-serif' font-size="30" font-weight="bold" text-anchor="middle" fill="#000" stroke="#000" stroke-width="0.5">****</text>
<text transform="translate(1207.0,206.8) scale(0.93,1)" font-family='"Liberation Sans", Arial, sans-serif' font-size="30" font-weight="bold" text-anchor="middle" fill="#000" stroke="#000" stroke-width="0.5">****</text>
<text transform="translate(1183.4,253.3) scale(0.93,1)" font-family='"Liberation Sans", Arial, sans-serif' font-size="30" font-weight="bold" text-anchor="middle" fill="#000" stroke="#000" stroke-width="0.5">****</text>
<text transform="translate(1160.0,303.5) scale(0.93,1)" font-family='"Liberation Sans", Arial, sans-serif' font-size="30" font-weight="bold" text-anchor="middle" fill="#000" stroke="#000" stroke-width="0.5">****</text>
<text transform="translate(1253.5,82.2) scale(1,1.19)" font-family='"Liberation Serif", "Times New Roman", serif' font-size="29" font-weight="bold" text-anchor="middle" fill="#000" >72h</text>
<text transform="translate(284.0,803.0) scale(0.9,1)" font-family='"Liberation Sans", Arial, sans-serif' font-size="24.6" font-weight="bold" text-anchor="middle" fill="#231815" >Control</text>
<text transform="translate(467.6,803.0) scale(0.893,1)" font-family='"Liberation Sans", Arial, sans-serif' font-size="24.6" font-weight="bold" text-anchor="middle" fill="#231815" >Dihydroergotamine</text>
<line x1="207.8" y1="821.1" x2="362.7" y2="821.1" stroke="#33337f" stroke-width="1.6" stroke-linecap="butt" />
<line x1="376.2" y1="819.7" x2="548.0" y2="819.7" stroke="#33337f" stroke-width="1.6" stroke-linecap="butt" />
<text transform="translate(198.5,886.6) scale(0.71,1)" font-family='"Liberation Sans", Arial, sans-serif' font-size="41" font-weight="normal" text-anchor="end" fill="#000" stroke="#000" stroke-width="0.55">CSNK2A1</text>
<text transform="translate(195.0,983.0) scale(0.735,1)" font-family='"Liberation Sans", Arial, sans-serif' font-size="41" font-weight="normal" text-anchor="end" fill="#000" stroke="#000" stroke-width="0.55">GAPDH</text>
<text transform="translate(558.0,886.0) scale(0.76,1)" font-family='"Liberation Sans", Arial, sans-serif' font-size="31.5" font-weight="normal" text-anchor="start" fill="#000" stroke="#000" stroke-width="0.4">40 kDa</text>
<text transform="translate(558.0,975.5) scale(0.76,1)" font-family='"Liberation Sans", Arial, sans-serif' font-size="31.5" font-weight="normal" text-anchor="start" fill="#000" stroke="#000" stroke-width="0.4">42 kDa</text>
<clipPath id="bl1"><rect x="206.6" y="832.3" width="344.2" height="81"/></clipPath>
<clipPath id="bl2"><rect x="206.6" y="922.4" width="344.2" height="80.4"/></clipPath>
<linearGradient id="blg" x1="0" x2="1" y1="0" y2="0"><stop offset="0" stop-color="#e2e2e2"/><stop offset="0.44" stop-color="#e4e4e4"/><stop offset="0.5" stop-color="#f0f0f0"/><stop offset="1" stop-color="#f4f4f4"/></linearGradient>
<linearGradient id="blg2" x1="0" x2="1" y1="0" y2="0"><stop offset="0" stop-color="#e3e3e3"/><stop offset="1" stop-color="#eaeaea"/></linearGradient>
<filter id="bA" x="-30%" y="-100%" width="160%" height="300%"><feGaussianBlur stdDeviation="3.2 2.1"/></filter>
<filter id="bB" x="-30%" y="-100%" width="160%" height="300%"><feGaussianBlur stdDeviation="5 4"/></filter>
<filter id="bC" x="-30%" y="-100%" width="160%" height="300%"><feGaussianBlur stdDeviation="6 7"/></filter>
<rect x="206.6" y="832.3" width="344.2" height="81" fill="url(#blg)"/>
<rect x="206.6" y="922.4" width="344.2" height="80.4" fill="url(#blg2)"/>
<g clip-path="url(#bl1)">
<rect x="217.2" y="840" width="42.5" height="80" fill="#cfcfcf" filter="url(#bC)" opacity="0.8"/>
<rect x="219.2" y="854.3" width="38.5" height="32" fill="#9a9a9a" filter="url(#bB)"/>
<rect x="223.2" y="857.3" width="30.5" height="9" fill="#6a6a6a" filter="url(#bA)"/>
<rect x="221.2" y="869.8" width="34.5" height="8.5" rx="4" fill="#161616" filter="url(#bA)"/>
<rect x="267.2" y="840" width="47.5" height="80" fill="#cfcfcf" filter="url(#bC)" opacity="0.8"/>
<rect x="269.2" y="856.5" width="43.5" height="32" fill="#9a9a9a" filter="url(#bB)"/>
<rect x="273.2" y="859.5" width="35.5" height="9" fill="#6a6a6a" filter="url(#bA)"/>
<rect x="271.2" y="872.0" width="39.5" height="8.5" rx="4" fill="#161616" filter="url(#bA)"/>
<rect x="323.5" y="840" width="42.5" height="80" fill="#cfcfcf" filter="url(#bC)" opacity="0.8"/>
<rect x="325.5" y="857" width="38.5" height="32" fill="#9a9a9a" filter="url(#bB)"/>
<rect x="329.5" y="860" width="30.5" height="9" fill="#6a6a6a" filter="url(#bA)"/>
<rect x="327.5" y="872.5" width="34.5" height="8.5" rx="4" fill="#161616" filter="url(#bA)"/>
<rect x="380" y="868" width="38" height="14" fill="#cfcfcf" filter="url(#bB)"/>
<ellipse cx="388" cy="876" rx="8" ry="4" fill="#8e8e8e" filter="url(#bA)"/>
<ellipse cx="410" cy="876.5" rx="8" ry="3.6" fill="#a0a0a0" filter="url(#bA)"/>
<rect x="386" y="874" width="26" height="5" fill="#b4b4b4" filter="url(#bA)"/>
<rect x="437" y="868" width="33.30000000000001" height="14" fill="#cfcfcf" filter="url(#bB)"/>
<ellipse cx="445" cy="876" rx="8" ry="4" fill="#8e8e8e" filter="url(#bA)"/>
<ellipse cx="462.3" cy="876.5" rx="8" ry="3.6" fill="#a0a0a0" filter="url(#bA)"/>
<rect x="443" y="874" width="21.30000000000001" height="5" fill="#b4b4b4" filter="url(#bA)"/>
<rect x="488" y="868" width="39" height="14" fill="#cfcfcf" filter="url(#bB)"/>
<ellipse cx="496" cy="876" rx="8" ry="4" fill="#8e8e8e" filter="url(#bA)"/>
<ellipse cx="519" cy="876.5" rx="8" ry="3.6" fill="#a0a0a0" filter="url(#bA)"/>
<rect x="494" y="874" width="27" height="5" fill="#b4b4b4" filter="url(#bA)"/>
</g>
<g clip-path="url(#bl2)">
<rect x="220" y="932" width="45.80000000000001" height="60" fill="#c6c6c6" filter="url(#bC)" opacity="0.8"/>
<rect x="222" y="942" width="41.80000000000001" height="32" fill="#9c9c9c" filter="url(#bB)"/>
<rect x="225" y="946" width="35.80000000000001" height="9" fill="#8a8a8a" filter="url(#bA)"/>
<rect x="223" y="961" width="39.80000000000001" height="10" rx="5" fill="#000" filter="url(#bA)"/>
<rect x="228" y="963" width="29.80000000000001" height="6" rx="3" fill="#000" filter="url(#bA)" opacity="0.7"/>
<rect x="271.3" y="933" width="45.69999999999999" height="60" fill="#c6c6c6" filter="url(#bC)" opacity="0.8"/>
<rect x="273.3" y="943" width="41.69999999999999" height="32" fill="#9c9c9c" filter="url(#bB)"/>
<rect x="276.3" y="947" width="35.69999999999999" height="9" fill="#8a8a8a" filter="url(#bA)"/>
<rect x="274.3" y="962" width="39.69999999999999" height="10" rx="5" fill="#000" filter="url(#bA)"/>
<rect x="279.3" y="964" width="29.69999999999999" height="6" rx="3" fill="#000" filter="url(#bA)" opacity="0.7"/>
<rect x="323.8" y="934.5" width="41.89999999999998" height="60" fill="#c6c6c6" filter="url(#bC)" opacity="0.8"/>
<rect x="325.8" y="944.5" width="37.89999999999998" height="32" fill="#9c9c9c" filter="url(#bB)"/>
<rect x="328.8" y="948.5" width="31.899999999999977" height="9" fill="#8a8a8a" filter="url(#bA)"/>
<rect x="326.8" y="963.5" width="35.89999999999998" height="10" rx="5" fill="#000" filter="url(#bA)"/>
<rect x="331.8" y="965.5" width="25.899999999999977" height="6" rx="3" fill="#000" filter="url(#bA)" opacity="0.7"/>
<rect x="373.8" y="937.7" width="44.39999999999998" height="60" fill="#c6c6c6" filter="url(#bC)" opacity="0.8"/>
<rect x="375.8" y="947.7" width="40.39999999999998" height="32" fill="#9c9c9c" filter="url(#bB)"/>
<rect x="378.8" y="955.7" width="34.39999999999998" height="6" fill="#6a6a6a" filter="url(#bA)"/>
<rect x="376.8" y="966.7" width="38.39999999999998" height="10" rx="5" fill="#000" filter="url(#bA)"/>
<rect x="381.8" y="968.7" width="28.399999999999977" height="6" rx="3" fill="#000" filter="url(#bA)" opacity="0.7"/>
<rect x="430.2" y="938" width="43.10000000000002" height="60" fill="#c6c6c6" filter="url(#bC)" opacity="0.8"/>
<rect x="432.2" y="948" width="39.10000000000002" height="32" fill="#9c9c9c" filter="url(#bB)"/>
<rect x="435.2" y="956" width="33.10000000000002" height="6" fill="#6a6a6a" filter="url(#bA)"/>
<rect x="433.2" y="967" width="37.10000000000002" height="10" rx="5" fill="#000" filter="url(#bA)"/>
<rect x="438.2" y="969" width="27.100000000000023" height="6" rx="3" fill="#000" filter="url(#bA)" opacity="0.7"/>
<rect x="480.1" y="936.5" width="48.299999999999955" height="60" fill="#c6c6c6" filter="url(#bC)" opacity="0.8"/>
<rect x="482.1" y="946.5" width="44.299999999999955" height="32" fill="#9c9c9c" filter="url(#bB)"/>
<rect x="485.1" y="954.5" width="38.299999999999955" height="6" fill="#6a6a6a" filter="url(#bA)"/>
<rect x="483.1" y="965.5" width="42.299999999999955" height="10" rx="5" fill="#000" filter="url(#bA)"/>
<rect x="488.1" y="967.5" width="32.299999999999955" height="6" rx="3" fill="#000" filter="url(#bA)" opacity="0.7"/>
</g>
<rect x="206.6" y="832.3" width="344.2" height="81" fill="none" stroke="#151515" stroke-width="1.1"/>
<rect x="206.6" y="922.4" width="344.2" height="80.4" fill="none" stroke="#151515" stroke-width="1.1"/>
<rect x="1048.5" y="822.1" width="55" height="93" fill="#D2D2D2" stroke="#4d4644" stroke-width="1.1"/>
<rect x="1131.6" y="877.3" width="55.8" height="38" fill="#82252B" stroke="#3a1012" stroke-width="0.8"/>
<line x1="1159.6" y1="866.0" x2="1159.6" y2="889.0" stroke="#000" stroke-width="1.3" stroke-linecap="butt" />
<line x1="1145.4" y1="866.0" x2="1173.8" y2="866.0" stroke="#000" stroke-width="1.3" stroke-linecap="butt" />
<line x1="1145.4" y1="889.0" x2="1173.8" y2="889.0" stroke="#000" stroke-width="1.3" stroke-linecap="butt" />
<line x1="1020.6" y1="773.6" x2="1020.6" y2="916.6" stroke="#000" stroke-width="3.2" stroke-linecap="butt" />
<line x1="1008.6" y1="915.3" x2="1215.8" y2="915.3" stroke="#000" stroke-width="2.6" stroke-linecap="butt" />
<line x1="1008.6" y1="774.9" x2="1020.6" y2="774.9" stroke="#000" stroke-width="2.6" stroke-linecap="butt" />
<text transform="translate(1004.0,782.3) scale(1.083,1)" font-family='"Liberation Sans", Arial, sans-serif' font-size="20.9" font-weight="bold" text-anchor="end" fill="#000" >1.5</text>
<line x1="1008.6" y1="821.7" x2="1020.6" y2="821.7" stroke="#000" stroke-width="2.6" stroke-linecap="butt" />
<text transform="translate(1004.0,829.1) scale(1.083,1)" font-family='"Liberation Sans", Arial, sans-serif' font-size="20.9" font-weight="bold" text-anchor="end" fill="#000" >1.0</text>
<line x1="1008.6" y1="868.5" x2="1020.6" y2="868.5" stroke="#000" stroke-width="2.6" stroke-linecap="butt" />
<text transform="translate(1004.0,875.9) scale(1.083,1)" font-family='"Liberation Sans", Arial, sans-serif' font-size="20.9" font-weight="bold" text-anchor="end" fill="#000" >0.5</text>
<line x1="1008.6" y1="915.3" x2="1020.6" y2="915.3" stroke="#000" stroke-width="2.6" stroke-linecap="butt" />
<text transform="translate(1004.0,922.7) scale(1.083,1)" font-family='"Liberation Sans", Arial, sans-serif' font-size="20.9" font-weight="bold" text-anchor="end" fill="#000" >0.0</text>
<line x1="1075.8" y1="915.3" x2="1075.8" y2="926.5" stroke="#000" stroke-width="3.2" stroke-linecap="butt" />
<line x1="1159.6" y1="915.3" x2="1159.6" y2="926.5" stroke="#000" stroke-width="3.2" stroke-linecap="butt" />
<g fill="#fff" stroke="#000" stroke-width="1">
<circle cx="1058.2" cy="822.3" r="4.3"/>
<circle cx="1075.8" cy="822.3" r="4.3"/>
<circle cx="1093.3" cy="822.3" r="4.3"/>
</g>
<g fill="#fff" stroke="#000" stroke-width="1">
<circle cx="1159.6" cy="864.4" r="4.3"/>
<circle cx="1159.6" cy="880.3" r="4.3"/>
<circle cx="1159.6" cy="887.8" r="4.3"/>
</g>
<line x1="1074.6" y1="791.3" x2="1160.5" y2="791.3" stroke="#000" stroke-width="3" stroke-linecap="butt" />
<text transform="translate(1117.9,780.2) scale(1.04,1)" font-family='"Liberation Sans", Arial, sans-serif' font-size="18.6" font-weight="bold" text-anchor="middle" fill="#000" >0.0143</text>
<text transform="translate(959.6,845.5) scale(1.2,1) rotate(-90)" font-family='"Liberation Sans", Arial, sans-serif' font-size="17.1" font-weight="bold" text-anchor="middle" fill="#000" >Relative expression</text>
<text transform="translate(1081.5,939.5) scale(1.15,1) rotate(-45)" font-family='"Liberation Sans", Arial, sans-serif' font-size="20" font-weight="bold" text-anchor="end" fill="#000" >Control</text>
<text transform="translate(1165.3,940.0) scale(1.15,1) rotate(-45)" font-family='"Liberation Sans", Arial, sans-serif' font-size="20" font-weight="bold" text-anchor="end" fill="#000" >Dihydroergotamine</text>
<rect x="2.5" y="1154" width="11.5" height="426" fill="#fcfcfc"/>
<clipPath id="sc1"><rect x="20" y="1184" width="339.2" height="191.7"/></clipPath>
<g clip-path="url(#sc1)">
<rect x="20" y="1184" width="339.2" height="191.7" fill="#8d8d8c"/>
<rect x="20" y="1184" width="101.7" height="191.7" fill="#979797"/>
<rect x="264.2" y="1184" width="95.0" height="191.7" fill="#979797"/>
<rect x="20" y="1184" width="101.7" height="191.7" fill="#fff" filter="url(#cellTex)"/>
<rect x="264.2" y="1184" width="95.0" height="191.7" fill="#fff" filter="url(#cellTex)"/>
<rect x="20" y="1184" width="101.7" height="191.7" fill="#fff" filter="url(#cellTex2)"/>
<rect x="264.2" y="1184" width="95.0" height="191.7" fill="#fff" filter="url(#cellTex2)"/>
<g fill="#fff" fill-opacity="0.16" stroke="#2a2a2a" stroke-opacity="0.28" stroke-width="0.6">
<ellipse cx="110.5" cy="1314.8" rx="2.7" ry="2.1" transform="rotate(47 110.5 1314.8)"/>
<ellipse cx="84.1" cy="1355.9" rx="2.9" ry="1.7" transform="rotate(30 84.1 1355.9)"/>
<ellipse cx="62.2" cy="1372.5" rx="1.4" ry="1.4" transform="rotate(171 62.2 1372.5)"/>
<ellipse cx="65.9" cy="1225.2" rx="1.8" ry="2.1" transform="rotate(60 65.9 1225.2)"/>
<ellipse cx="63.8" cy="1303.8" rx="2.8" ry="1.6" transform="rotate(15 63.8 1303.8)"/>
<ellipse cx="78.0" cy="1192.6" rx="1.4" ry="1.2" transform="rotate(125 78.0 1192.6)"/>
<ellipse cx="49.7" cy="1315.6" rx="1.5" ry="1.1" transform="rotate(4 49.7 1315.6)"/>
<ellipse cx="91.0" cy="1347.3" rx="1.6" ry="1.3" transform="rotate(2 91.0 1347.3)"/>
<ellipse cx="85.0" cy="1242.5" rx="1.5" ry="1.8" transform="rotate(108 85.0 1242.5)"/>
<ellipse cx="65.7" cy="1214.7" rx="2.5" ry="1.7" transform="rotate(78 65.7 1214.7)"/>
<ellipse cx="38.1" cy="1360.3" rx="2.9" ry="1.8" transform="rotate(179 38.1 1360.3)"/>
<ellipse cx="78.7" cy="1250.7" rx="1.4" ry="1.7" transform="rotate(94 78.7 1250.7)"/>
<ellipse cx="64.6" cy="1372.3" rx="2.9" ry="1.1" transform="rotate(159 64.6 1372.3)"/>
<ellipse cx="22.2" cy="1308.3" rx="1.8" ry="1.9" transform="rotate(171 22.2 1308.3)"/>
<ellipse cx="73.8" cy="1329.2" rx="1.3" ry="1.8" transform="rotate(21 73.8 1329.2)"/>
<ellipse cx="66.5" cy="1248.6" rx="1.3" ry="1.9" transform="rotate(17 66.5 1248.6)"/>
<ellipse cx="47.1" cy="1202.1" rx="2.5" ry="1.4" transform="rotate(8 47.1 1202.1)"/>
<ellipse cx="24.7" cy="1227.2" rx="2.2" ry="1.0" transform="rotate(4 24.7 1227.2)"/>
<ellipse cx="87.1" cy="1285.0" rx="1.5" ry="1.4" transform="rotate(23 87.1 1285.0)"/>
<ellipse cx="48.9" cy="1258.8" rx="1.6" ry="1.2" transform="rotate(41 48.9 1258.8)"/>
<ellipse cx="51.4" cy="1290.2" rx="3.0" ry="1.8" transform="rotate(81 51.4 1290.2)"/>
<ellipse cx="22.3" cy="1221.4" rx="2.5" ry="1.5" transform="rotate(152 22.3 1221.4)"/>
<ellipse cx="110.8" cy="1241.6" rx="1.9" ry="1.4" transform="rotate(122 110.8 1241.6)"/>
<ellipse cx="31.6" cy="1237.8" rx="3.0" ry="1.4" transform="rotate(175 31.6 1237.8)"/>
<ellipse cx="60.7" cy="1343.1" rx="2.1" ry="1.1" transform="rotate(104 60.7 1343.1)"/>
<ellipse cx="42.6" cy="1358.3" rx="2.6" ry="1.6" transform="rotate(166 42.6 1358.3)"/>
<ellipse cx="75.4" cy="1367.4" rx="2.6" ry="1.2" transform="rotate(53 75.4 1367.4)"/>
<ellipse cx="104.7" cy="1204.7" rx="3.2" ry="1.0" transform="rotate(135 104.7 1204.7)"/>
<ellipse cx="82.4" cy="1262.2" rx="2.4" ry="1.7" transform="rotate(65 82.4 1262.2)"/>
<ellipse cx="49.6" cy="1195.4" rx="2.5" ry="2.1" transform="rotate(68 49.6 1195.4)"/>
<ellipse cx="105.8" cy="1260.6" rx="1.7" ry="2.0" transform="rotate(167 105.8 1260.6)"/>
<ellipse cx="31.0" cy="1349.5" rx="1.8" ry="1.9" transform="rotate(53 31.0 1349.5)"/>
<ellipse cx="118.7" cy="1249.2" rx="1.6" ry="1.1" transform="rotate(24 118.7 1249.2)"/>
<ellipse cx="30.9" cy="1339.9" rx="1.2" ry="1.1" transform="rotate(43 30.9 1339.9)"/>
<ellipse cx="35.8" cy="1331.6" rx="1.2" ry="1.8" transform="rotate(63 35.8 1331.6)"/>
<ellipse cx="36.3" cy="1229.1" rx="2.3" ry="1.3" transform="rotate(70 36.3 1229.1)"/>
<ellipse cx="59.9" cy="1286.6" rx="2.6" ry="1.3" transform="rotate(110 59.9 1286.6)"/>
<ellipse cx="91.8" cy="1241.7" rx="2.7" ry="1.1" transform="rotate(89 91.8 1241.7)"/>
<ellipse cx="56.4" cy="1209.6" rx="2.5" ry="2.0" transform="rotate(87 56.4 1209.6)"/>
<ellipse cx="56.5" cy="1355.8" rx="3.2" ry="1.8" transform="rotate(101 56.5 1355.8)"/>
<ellipse cx="84.4" cy="1318.0" rx="2.6" ry="1.6" transform="rotate(135 84.4 1318.0)"/>
<ellipse cx="94.9" cy="1307.1" rx="2.3" ry="1.4" transform="rotate(39 94.9 1307.1)"/>
<ellipse cx="71.6" cy="1243.6" rx="2.1" ry="1.2" transform="rotate(163 71.6 1243.6)"/>
<ellipse cx="34.6" cy="1351.1" rx="2.3" ry="2.1" transform="rotate(159 34.6 1351.1)"/>
<ellipse cx="38.7" cy="1237.5" rx="3.2" ry="1.8" transform="rotate(15 38.7 1237.5)"/>
<ellipse cx="47.8" cy="1204.0" rx="1.8" ry="1.1" transform="rotate(7 47.8 1204.0)"/>
<ellipse cx="26.3" cy="1274.7" rx="2.6" ry="1.6" transform="rotate(121 26.3 1274.7)"/>
<ellipse cx="85.9" cy="1211.3" rx="2.6" ry="1.6" transform="rotate(75 85.9 1211.3)"/>
<ellipse cx="115.9" cy="1271.5" rx="2.6" ry="1.9" transform="rotate(87 115.9 1271.5)"/>
<ellipse cx="37.0" cy="1221.7" rx="1.8" ry="1.2" transform="rotate(72 37.0 1221.7)"/>
<ellipse cx="28.6" cy="1330.4" rx="2.7" ry="1.8" transform="rotate(21 28.6 1330.4)"/>
<ellipse cx="43.2" cy="1354.7" rx="2.9" ry="1.9" transform="rotate(156 43.2 1354.7)"/>
<ellipse cx="42.2" cy="1240.2" rx="2.1" ry="1.6" transform="rotate(66 42.2 1240.2)"/>
<ellipse cx="45.9" cy="1338.5" rx="1.6" ry="1.7" transform="rotate(147 45.9 1338.5)"/>
<ellipse cx="36.7" cy="1248.9" rx="2.0" ry="1.3" transform="rotate(165 36.7 1248.9)"/>
<ellipse cx="107.8" cy="1210.2" rx="1.3" ry="1.7" transform="rotate(91 107.8 1210.2)"/>
<ellipse cx="25.6" cy="1348.3" rx="3.0" ry="1.7" transform="rotate(16 25.6 1348.3)"/>
<ellipse cx="40.8" cy="1343.1" rx="2.6" ry="1.5" transform="rotate(168 40.8 1343.1)"/>
<ellipse cx="26.2" cy="1314.4" rx="2.9" ry="2.0" transform="rotate(17 26.2 1314.4)"/>
<ellipse cx="90.8" cy="1291.8" rx="2.5" ry="1.2" transform="rotate(173 90.8 1291.8)"/>
<ellipse cx="116.6" cy="1208.0" rx="2.3" ry="1.6" transform="rotate(80 116.6 1208.0)"/>
<ellipse cx="54.8" cy="1230.6" rx="2.7" ry="1.6" transform="rotate(81 54.8 1230.6)"/>
<ellipse cx="71.5" cy="1239.6" rx="3.0" ry="1.9" transform="rotate(47 71.5 1239.6)"/>
<ellipse cx="52.0" cy="1286.1" rx="2.5" ry="2.1" transform="rotate(167 52.0 1286.1)"/>
<ellipse cx="28.2" cy="1348.5" rx="1.2" ry="1.7" transform="rotate(139 28.2 1348.5)"/>
<ellipse cx="39.4" cy="1228.9" rx="1.3" ry="1.5" transform="rotate(150 39.4 1228.9)"/>
<ellipse cx="22.1" cy="1327.8" rx="2.0" ry="2.1" transform="rotate(101 22.1 1327.8)"/>
<ellipse cx="67.2" cy="1239.8" rx="2.9" ry="1.6" transform="rotate(126 67.2 1239.8)"/>
<ellipse cx="86.6" cy="1339.7" rx="1.8" ry="1.1" transform="rotate(34 86.6 1339.7)"/>
<ellipse cx="82.8" cy="1208.4" rx="1.3" ry="1.4" transform="rotate(119 82.8 1208.4)"/>
<ellipse cx="39.6" cy="1241.0" rx="1.4" ry="2.2" transform="rotate(164 39.6 1241.0)"/>
<ellipse cx="118.4" cy="1305.3" rx="2.0" ry="1.3" transform="rotate(61 118.4 1305.3)"/>
<ellipse cx="337.2" cy="1288.0" rx="1.5" ry="2.1" transform="rotate(154 337.2 1288.0)"/>
<ellipse cx="267.2" cy="1203.4" rx="2.2" ry="1.6" transform="rotate(149 267.2 1203.4)"/>
<ellipse cx="285.3" cy="1370.6" rx="1.9" ry="1.2" transform="rotate(176 285.3 1370.6)"/>
<ellipse cx="335.6" cy="1334.8" rx="1.5" ry="2.2" transform="rotate(55 335.6 1334.8)"/>
<ellipse cx="308.6" cy="1349.6" rx="1.4" ry="1.0" transform="rotate(111 308.6 1349.6)"/>
<ellipse cx="312.6" cy="1364.0" rx="3.1" ry="1.4" transform="rotate(135 312.6 1364.0)"/>
<ellipse cx="268.3" cy="1320.7" rx="2.1" ry="1.4" transform="rotate(51 268.3 1320.7)"/>
<ellipse cx="309.0" cy="1271.2" rx="1.8" ry="1.0" transform="rotate(6 309.0 1271.2)"/>
<ellipse cx="268.0" cy="1345.3" rx="2.0" ry="1.6" transform="rotate(165 268.0 1345.3)"/>
<ellipse cx="273.9" cy="1339.4" rx="3.0" ry="1.5" transform="rotate(127 273.9 1339.4)"/>
<ellipse cx="268.4" cy="1259.9" rx="1.2" ry="1.9" transform="rotate(175 268.4 1259.9)"/>
<ellipse cx="350.6" cy="1284.7" rx="2.8" ry="1.8" transform="rotate(1 350.6 1284.7)"/>
<ellipse cx="294.9" cy="1205.1" rx="2.1" ry="1.4" transform="rotate(5 294.9 1205.1)"/>
<ellipse cx="267.3" cy="1208.0" rx="2.3" ry="2.0" transform="rotate(115 267.3 1208.0)"/>
<ellipse cx="346.1" cy="1229.1" rx="1.7" ry="1.4" transform="rotate(13 346.1 1229.1)"/>
<ellipse cx="313.8" cy="1208.0" rx="1.3" ry="2.0" transform="rotate(45 313.8 1208.0)"/>
<ellipse cx="307.1" cy="1272.8" rx="1.3" ry="1.0" transform="rotate(156 307.1 1272.8)"/>
<ellipse cx="349.2" cy="1328.0" rx="2.1" ry="1.2" transform="rotate(28 349.2 1328.0)"/>
<ellipse cx="313.7" cy="1226.6" rx="2.4" ry="2.2" transform="rotate(169 313.7 1226.6)"/>
<ellipse cx="288.5" cy="1230.8" rx="1.3" ry="2.1" transform="rotate(174 288.5 1230.8)"/>
<ellipse cx="341.9" cy="1322.4" rx="2.4" ry="2.1" transform="rotate(57 341.9 1322.4)"/>
<ellipse cx="311.0" cy="1358.5" rx="2.4" ry="1.4" transform="rotate(36 311.0 1358.5)"/>
<ellipse cx="292.0" cy="1347.7" rx="2.4" ry="1.9" transform="rotate(152 292.0 1347.7)"/>
<ellipse cx="332.8" cy="1285.5" rx="1.3" ry="1.9" transform="rotate(42 332.8 1285.5)"/>
<ellipse cx="282.5" cy="1192.4" rx="2.2" ry="1.8" transform="rotate(19 282.5 1192.4)"/>
<ellipse cx="275.9" cy="1272.0" rx="2.2" ry="1.3" transform="rotate(163 275.9 1272.0)"/>
<ellipse cx="305.8" cy="1232.8" rx="2.8" ry="1.9" transform="rotate(56 305.8 1232.8)"/>
<ellipse cx="297.9" cy="1266.2" rx="1.3" ry="2.1" transform="rotate(37 297.9 1266.2)"/>
<ellipse cx="286.0" cy="1321.5" rx="2.1" ry="1.8" transform="rotate(27 286.0 1321.5)"/>
<ellipse cx="326.3" cy="1366.3" rx="3.1" ry="1.0" transform="rotate(26 326.3 1366.3)"/>
<ellipse cx="286.0" cy="1295.3" rx="2.2" ry="1.6" transform="rotate(46 286.0 1295.3)"/>
<ellipse cx="276.1" cy="1272.8" rx="1.7" ry="1.8" transform="rotate(176 276.1 1272.8)"/>
<ellipse cx="278.4" cy="1354.0" rx="3.1" ry="1.5" transform="rotate(5 278.4 1354.0)"/>
<ellipse cx="297.4" cy="1234.3" rx="2.6" ry="2.2" transform="rotate(173 297.4 1234.3)"/>
<ellipse cx="286.0" cy="1228.7" rx="2.0" ry="1.3" transform="rotate(117 286.0 1228.7)"/>
<ellipse cx="322.3" cy="1188.1" rx="1.7" ry="1.5" transform="rotate(76 322.3 1188.1)"/>
<ellipse cx="333.8" cy="1201.1" rx="1.4" ry="1.5" transform="rotate(32 333.8 1201.1)"/>
<ellipse cx="277.6" cy="1368.4" rx="2.6" ry="1.1" transform="rotate(135 277.6 1368.4)"/>
<ellipse cx="277.0" cy="1362.6" rx="1.6" ry="1.4" transform="rotate(8 277.0 1362.6)"/>
<ellipse cx="287.1" cy="1211.8" rx="2.6" ry="2.1" transform="rotate(20 287.1 1211.8)"/>
<ellipse cx="289.1" cy="1342.4" rx="2.3" ry="2.0" transform="rotate(57 289.1 1342.4)"/>
<ellipse cx="272.6" cy="1269.2" rx="2.0" ry="1.1" transform="rotate(114 272.6 1269.2)"/>
<ellipse cx="333.2" cy="1292.5" rx="2.6" ry="1.9" transform="rotate(157 333.2 1292.5)"/>
<ellipse cx="330.5" cy="1244.9" rx="3.0" ry="2.1" transform="rotate(153 330.5 1244.9)"/>
<ellipse cx="349.9" cy="1187.0" rx="2.9" ry="2.0" transform="rotate(61 349.9 1187.0)"/>
<ellipse cx="281.5" cy="1333.4" rx="2.9" ry="1.5" transform="rotate(9 281.5 1333.4)"/>
<ellipse cx="280.0" cy="1242.6" rx="2.5" ry="1.9" transform="rotate(18 280.0 1242.6)"/>
<ellipse cx="273.0" cy="1304.6" rx="2.1" ry="1.6" transform="rotate(165 273.0 1304.6)"/>
<ellipse cx="267.5" cy="1309.0" rx="2.0" ry="1.7" transform="rotate(37 267.5 1309.0)"/>
<ellipse cx="340.8" cy="1261.6" rx="2.2" ry="1.7" transform="rotate(75 340.8 1261.6)"/>
<ellipse cx="278.5" cy="1283.4" rx="1.5" ry="1.6" transform="rotate(123 278.5 1283.4)"/>
<ellipse cx="346.5" cy="1282.8" rx="2.3" ry="1.7" transform="rotate(102 346.5 1282.8)"/>
<ellipse cx="288.9" cy="1258.1" rx="1.3" ry="1.1" transform="rotate(141 288.9 1258.1)"/>
<ellipse cx="278.0" cy="1193.5" rx="3.1" ry="1.2" transform="rotate(19 278.0 1193.5)"/>
<ellipse cx="277.8" cy="1275.3" rx="2.3" ry="1.3" transform="rotate(140 277.8 1275.3)"/>
<ellipse cx="336.9" cy="1273.5" rx="1.6" ry="1.2" transform="rotate(159 336.9 1273.5)"/>
<ellipse cx="283.8" cy="1357.3" rx="1.9" ry="2.2" transform="rotate(59 283.8 1357.3)"/>
<ellipse cx="332.0" cy="1195.4" rx="1.9" ry="1.9" transform="rotate(161 332.0 1195.4)"/>
<ellipse cx="347.0" cy="1359.7" rx="3.1" ry="1.8" transform="rotate(79 347.0 1359.7)"/>
<ellipse cx="282.6" cy="1305.2" rx="2.8" ry="1.7" transform="rotate(36 282.6 1305.2)"/>
<ellipse cx="322.1" cy="1304.9" rx="2.1" ry="1.2" transform="rotate(134 322.1 1304.9)"/>
<ellipse cx="281.1" cy="1194.4" rx="2.6" ry="1.7" transform="rotate(176 281.1 1194.4)"/>
<ellipse cx="293.7" cy="1251.6" rx="2.9" ry="1.7" transform="rotate(157 293.7 1251.6)"/>
<ellipse cx="340.3" cy="1306.5" rx="1.7" ry="1.6" transform="rotate(176 340.3 1306.5)"/>
<ellipse cx="267.2" cy="1310.0" rx="3.0" ry="1.9" transform="rotate(86 267.2 1310.0)"/>
<ellipse cx="324.4" cy="1280.3" rx="1.9" ry="2.2" transform="rotate(163 324.4 1280.3)"/>
<ellipse cx="287.3" cy="1200.8" rx="2.8" ry="1.6" transform="rotate(103 287.3 1200.8)"/>
</g>
<path d="M41.9,1368.7Q46.4,1365.5 47.3,1365.6M80.4,1206.1Q83.2,1203.6 84.0,1201.6M36.0,1242.3Q34.8,1242.1 30.1,1239.5M97.8,1346.8Q94.5,1348.5 93.8,1351.2M101.3,1237.5Q99.9,1239.0 102.4,1242.1M35.0,1274.5Q35.9,1279.0 36.4,1281.5M50.9,1293.1Q54.4,1293.5 58.4,1292.7M82.5,1215.2Q84.0,1212.0 85.6,1212.1M91.6,1313.1Q92.2,1310.9 95.8,1312.0M26.2,1337.6Q25.7,1338.7 25.0,1341.2M110.4,1192.5Q113.7,1188.7 113.5,1186.8M87.4,1194.3Q85.3,1192.6 87.0,1190.6M108.9,1321.1Q110.4,1319.2 110.5,1314.7M23.7,1237.8Q26.6,1237.0 26.2,1239.9M114.6,1239.5Q112.8,1238.9 110.1,1239.1M43.6,1198.1Q45.5,1198.3 45.7,1195.8M24.7,1195.7Q21.3,1196.9 20.6,1201.0M88.3,1347.3Q86.3,1351.2 88.1,1355.1M65.3,1342.9Q69.2,1343.0 71.0,1342.0M33.5,1343.3Q36.8,1346.4 36.7,1346.2M90.3,1272.1Q88.0,1272.4 89.0,1276.4M30.0,1291.6Q28.1,1289.4 23.4,1287.8M29.8,1309.8Q28.7,1309.7 30.6,1305.7M87.1,1252.5Q86.1,1252.5 87.1,1249.2M65.6,1319.4Q65.2,1315.6 65.8,1313.0M67.7,1323.9Q65.9,1323.9 64.6,1323.9M78.4,1269.0Q75.9,1268.3 71.4,1269.1M27.8,1337.3Q26.4,1337.1 25.1,1335.8M117.6,1251.8Q117.9,1255.0 121.1,1255.6M34.6,1373.1Q39.7,1372.5 40.7,1373.9M50.6,1210.9Q47.4,1209.7 45.7,1207.2M75.6,1302.7Q77.7,1301.8 78.4,1298.4M63.5,1289.5Q65.1,1290.0 67.8,1288.7M118.6,1253.4Q117.9,1251.6 119.8,1250.2M51.6,1247.1Q50.0,1244.7 47.5,1241.6M22.7,1345.7Q22.4,1342.6 22.3,1342.3M24.6,1291.4Q21.7,1287.1 19.5,1286.1M51.0,1259.9Q53.6,1263.2 57.8,1263.6M54.5,1332.7Q53.0,1332.6 50.1,1333.9M59.6,1356.2Q57.4,1356.6 52.6,1354.8M107.3,1363.2Q110.3,1364.7 112.3,1365.4M39.4,1282.2Q41.0,1282.6 44.4,1281.6M95.7,1301.5Q97.9,1299.9 100.9,1296.0M109.9,1238.7Q114.3,1238.7 116.3,1241.3M91.9,1282.7Q90.5,1285.5 92.3,1285.8M34.4,1343.4Q36.9,1344.2 36.7,1346.8M64.5,1309.5Q66.3,1309.4 68.0,1309.8M58.2,1347.7Q60.1,1351.2 61.9,1350.7M94.6,1273.4Q99.6,1274.5 102.2,1273.0M102.6,1228.5Q99.2,1226.9 97.5,1228.6M24.3,1217.5Q28.7,1220.0 30.6,1221.2M81.4,1255.2Q85.4,1256.5 87.0,1260.5M83.3,1234.4Q85.5,1236.9 86.3,1238.1M86.5,1345.9Q91.2,1343.7 91.9,1343.9M109.6,1260.7Q106.5,1260.4 103.5,1260.7M63.1,1219.3Q64.7,1222.5 68.4,1224.2M59.8,1303.9Q60.5,1302.0 57.6,1298.4M84.2,1215.5Q81.7,1218.7 78.5,1219.6M49.3,1313.8Q49.6,1315.4 50.0,1318.3M39.9,1267.7Q42.5,1269.5 46.4,1269.4M93.9,1297.5Q90.1,1296.1 86.4,1298.0M90.4,1255.0Q92.3,1252.2 92.9,1248.6M46.9,1302.2Q48.7,1302.8 52.8,1306.9M43.7,1361.8Q44.7,1360.9 42.8,1357.4M70.5,1247.7Q71.5,1247.8 74.0,1246.5M30.2,1331.8Q25.6,1328.3 24.7,1328.0M105.3,1207.6Q104.2,1208.7 102.9,1210.0M81.8,1256.7Q82.1,1260.0 85.3,1261.8M94.2,1339.1Q90.2,1340.6 87.9,1340.5M105.5,1257.3Q104.1,1257.5 99.4,1258.5M33.9,1284.5Q34.3,1283.1 32.1,1278.3M59.6,1194.9Q61.9,1196.5 65.6,1195.1M104.8,1319.5Q108.8,1318.6 109.0,1319.8M26.4,1250.6Q25.3,1249.6 21.2,1251.0M77.2,1237.3Q76.4,1237.6 73.3,1234.5M93.3,1217.6Q91.3,1221.9 92.8,1222.7M77.3,1355.0Q76.3,1352.7 73.8,1348.3M76.2,1250.9Q73.5,1249.1 71.9,1246.5M89.7,1317.8Q88.2,1317.0 86.2,1319.0M114.6,1240.5Q114.1,1237.7 114.9,1234.8M87.5,1302.6Q89.3,1304.9 92.1,1304.0M95.8,1228.6Q98.6,1229.3 102.0,1228.0M40.5,1289.3Q40.9,1290.3 38.7,1294.6M26.2,1363.9Q26.7,1362.8 30.2,1362.3M101.2,1270.3Q104.2,1267.1 103.2,1264.0M66.2,1235.0Q69.8,1238.9 71.1,1239.7M84.1,1219.5Q85.7,1218.7 91.3,1217.6M105.4,1224.1Q107.0,1222.5 105.5,1217.3M35.3,1188.6Q34.3,1190.4 33.6,1194.4M86.7,1314.3Q86.5,1311.3 90.0,1312.2M80.8,1191.3Q80.4,1190.3 83.7,1192.4M30.0,1295.2Q27.7,1297.0 26.0,1295.8M309.6,1304.7Q306.6,1304.7 305.9,1303.0M346.4,1341.2Q347.4,1338.2 348.0,1338.4M290.7,1221.9Q288.6,1220.9 287.3,1222.4M332.7,1186.9Q336.1,1186.4 338.6,1183.2M295.9,1360.7Q296.0,1358.3 298.1,1356.9M296.7,1228.8Q295.9,1225.1 294.3,1222.6M272.4,1204.0Q273.2,1201.4 271.3,1198.0M278.3,1271.5Q282.6,1270.8 283.5,1267.2M308.4,1293.2Q309.1,1289.4 311.1,1287.2M291.3,1272.2Q293.8,1274.3 292.8,1279.4M339.8,1325.7Q338.7,1323.1 337.5,1320.8M279.6,1190.3Q280.1,1189.9 278.4,1193.0M293.9,1265.0Q294.4,1267.2 292.5,1268.8M288.5,1370.2Q289.6,1373.1 291.4,1376.3M353.7,1200.5Q354.4,1200.5 352.5,1204.3M338.4,1329.6Q338.4,1329.5 340.1,1332.6M295.5,1186.0Q294.5,1185.1 292.7,1183.5M330.6,1275.6Q326.7,1274.1 325.4,1275.7M342.7,1187.0Q342.5,1184.3 344.3,1181.6M311.1,1303.5Q306.2,1302.2 304.2,1300.9M331.6,1268.8Q333.1,1268.0 336.8,1270.4M328.0,1341.9Q327.8,1341.3 324.0,1339.5M341.9,1327.3Q339.7,1327.4 334.8,1330.3M295.3,1189.2Q295.3,1190.7 298.2,1196.1M326.4,1294.3Q324.8,1298.8 325.3,1301.1M330.8,1346.6Q327.5,1348.1 327.6,1349.3M351.6,1357.0Q346.8,1355.9 344.4,1354.6M298.7,1302.3Q303.0,1305.9 303.6,1306.6M279.8,1295.2Q278.2,1298.1 278.8,1299.4M323.9,1302.8Q325.4,1303.1 327.5,1301.8M296.3,1371.9Q295.3,1370.5 295.1,1366.3M337.8,1304.7Q340.1,1300.1 339.6,1297.9M312.5,1212.2Q317.4,1210.1 320.0,1210.6M332.8,1239.8Q329.0,1240.9 327.6,1243.1M302.9,1315.8Q305.5,1318.0 305.9,1319.0M356.4,1325.4Q355.1,1327.8 351.9,1326.4M304.9,1256.6Q304.9,1255.9 301.7,1257.5M320.9,1354.0Q321.5,1355.5 324.5,1357.6M350.1,1260.6Q346.2,1257.8 345.8,1257.0M357.2,1199.8Q357.9,1197.2 358.7,1193.4M337.6,1331.7Q339.7,1332.7 342.6,1336.4M342.5,1264.5Q345.2,1263.4 348.8,1266.2M273.9,1189.1Q273.8,1185.2 277.0,1182.7M335.7,1227.5Q338.6,1227.5 340.6,1227.8M305.8,1236.2Q306.3,1232.3 307.3,1230.2M314.9,1327.4Q310.7,1330.7 309.1,1330.2M343.1,1365.4Q340.7,1360.9 342.2,1358.5M296.9,1292.5Q296.8,1295.6 295.0,1297.8M281.5,1347.9Q281.2,1343.5 283.4,1342.4M314.9,1352.9Q319.0,1351.6 321.6,1353.1M280.4,1246.5Q282.2,1246.3 287.9,1248.2M290.4,1371.6Q291.6,1375.8 292.8,1376.4M271.0,1187.3Q272.7,1186.8 273.3,1183.3M277.0,1329.5Q279.9,1329.9 281.5,1326.6M326.9,1369.8Q324.7,1373.2 324.7,1374.9M346.8,1243.3Q342.1,1242.5 339.1,1245.0M289.8,1281.8Q288.8,1283.6 287.9,1288.2M277.1,1245.9Q281.0,1243.2 281.0,1241.8M337.5,1201.4Q336.3,1203.8 338.7,1207.7M308.5,1196.9Q306.8,1200.1 308.0,1202.1M269.7,1318.7Q265.1,1319.9 263.6,1318.7M328.1,1227.9Q326.3,1231.4 327.4,1234.0M346.5,1344.5Q343.7,1344.3 342.2,1340.5M337.4,1239.8Q339.9,1239.1 343.7,1241.4M269.4,1371.1Q268.8,1369.5 269.0,1367.6M309.4,1312.0Q307.7,1312.6 303.5,1312.1M294.3,1189.5Q293.1,1187.7 295.5,1184.8M284.1,1313.6Q282.8,1313.6 278.1,1310.1M282.7,1296.0Q280.1,1292.0 278.6,1290.2M338.7,1268.4Q340.8,1265.8 342.8,1267.1M326.9,1355.5Q326.3,1355.1 327.1,1352.4M283.8,1222.2Q282.5,1224.5 277.6,1225.4M343.0,1344.2Q345.4,1344.4 344.8,1347.4M301.6,1368.2Q301.2,1370.4 298.2,1371.0M309.5,1233.1Q306.6,1232.3 304.6,1233.6M282.6,1355.0Q282.0,1356.9 285.2,1357.4M291.2,1367.9Q291.3,1369.7 293.5,1369.9M312.1,1306.6Q311.4,1310.4 307.5,1313.1M315.3,1255.1Q318.4,1253.4 321.1,1252.2M286.0,1288.9Q283.6,1287.8 282.8,1286.9M317.7,1254.5Q317.1,1256.7 312.6,1256.0M343.4,1213.2Q342.8,1212.1 340.3,1213.0M292.0,1188.7Q288.6,1187.3 288.8,1183.8M355.4,1273.6Q350.9,1272.7 349.0,1268.9M320.7,1337.5Q316.6,1337.9 314.0,1335.3M304.9,1288.4Q302.8,1287.4 301.2,1289.4" fill="none" stroke="#3a3a3a" stroke-opacity="0.22" stroke-width="0.7"/>
<line x1="121.7" y1="1184.0" x2="121.7" y2="1375.7" stroke="#e8e8e8" stroke-width="0.6" stroke-linecap="butt" stroke-dasharray="1.2 0.8"/>
<line x1="264.2" y1="1184.0" x2="264.2" y2="1375.7" stroke="#e8e8e8" stroke-width="0.6" stroke-linecap="butt" stroke-dasharray="1.2 0.8"/>
</g>
<clipPath id="sc2"><rect x="366" y="1184" width="339.2" height="191.7"/></clipPath>
<g clip-path="url(#sc2)">
<rect x="366" y="1184" width="339.2" height="191.7" fill="#8d8d8c"/>
<rect x="366" y="1184" width="98.8" height="191.7" fill="#979797"/>
<rect x="604.7" y="1184" width="100.5" height="191.7" fill="#979797"/>
<rect x="366" y="1184" width="98.8" height="191.7" fill="#fff" filter="url(#cellTex)"/>
<rect x="604.7" y="1184" width="100.5" height="191.7" fill="#fff" filter="url(#cellTex)"/>
<rect x="366" y="1184" width="98.8" height="191.7" fill="#fff" filter="url(#cellTex2)"/>
<rect x="604.7" y="1184" width="100.5" height="191.7" fill="#fff" filter="url(#cellTex2)"/>
<g fill="#fff" fill-opacity="0.16" stroke="#2a2a2a" stroke-opacity="0.28" stroke-width="0.6">
<ellipse cx="432.7" cy="1203.2" rx="2.4" ry="2.0" transform="rotate(150 432.7 1203.2)"/>
<ellipse cx="416.8" cy="1304.4" rx="1.9" ry="1.6" transform="rotate(19 416.8 1304.4)"/>
<ellipse cx="432.7" cy="1298.7" rx="1.8" ry="1.5" transform="rotate(133 432.7 1298.7)"/>
<ellipse cx="410.1" cy="1366.1" rx="3.1" ry="2.0" transform="rotate(16 410.1 1366.1)"/>
<ellipse cx="375.1" cy="1240.2" rx="1.9" ry="1.8" transform="rotate(149 375.1 1240.2)"/>
<ellipse cx="421.3" cy="1306.0" rx="2.3" ry="1.0" transform="rotate(95 421.3 1306.0)"/>
<ellipse cx="388.2" cy="1264.3" rx="1.2" ry="1.8" transform="rotate(164 388.2 1264.3)"/>
<ellipse cx="374.5" cy="1294.9" rx="1.2" ry="1.4" transform="rotate(29 374.5 1294.9)"/>
<ellipse cx="449.6" cy="1322.7" rx="3.0" ry="1.3" transform="rotate(129 449.6 1322.7)"/>
<ellipse cx="434.3" cy="1281.9" rx="3.0" ry="1.7" transform="rotate(51 434.3 1281.9)"/>
<ellipse cx="436.0" cy="1276.3" rx="1.6" ry="1.7" transform="rotate(9 436.0 1276.3)"/>
<ellipse cx="410.6" cy="1290.5" rx="1.2" ry="1.8" transform="rotate(16 410.6 1290.5)"/>
<ellipse cx="429.6" cy="1250.0" rx="1.3" ry="2.2" transform="rotate(12 429.6 1250.0)"/>
<ellipse cx="382.8" cy="1280.9" rx="1.7" ry="1.6" transform="rotate(85 382.8 1280.9)"/>
<ellipse cx="422.7" cy="1288.0" rx="1.8" ry="1.3" transform="rotate(125 422.7 1288.0)"/>
<ellipse cx="408.7" cy="1283.7" rx="3.0" ry="1.0" transform="rotate(50 408.7 1283.7)"/>
<ellipse cx="421.4" cy="1196.1" rx="2.7" ry="1.5" transform="rotate(57 421.4 1196.1)"/>
<ellipse cx="386.4" cy="1367.5" rx="1.3" ry="2.0" transform="rotate(127 386.4 1367.5)"/>
<ellipse cx="453.1" cy="1317.6" rx="1.9" ry="1.7" transform="rotate(166 453.1 1317.6)"/>
<ellipse cx="371.9" cy="1345.5" rx="2.5" ry="1.2" transform="rotate(174 371.9 1345.5)"/>
<ellipse cx="396.4" cy="1186.9" rx="1.7" ry="1.6" transform="rotate(5 396.4 1186.9)"/>
<ellipse cx="424.1" cy="1269.4" rx="1.9" ry="1.9" transform="rotate(111 424.1 1269.4)"/>
<ellipse cx="459.5" cy="1349.2" rx="2.9" ry="2.1" transform="rotate(153 459.5 1349.2)"/>
<ellipse cx="414.1" cy="1198.8" rx="2.1" ry="1.7" transform="rotate(174 414.1 1198.8)"/>
<ellipse cx="430.0" cy="1293.8" rx="1.4" ry="1.8" transform="rotate(7 430.0 1293.8)"/>
<ellipse cx="381.6" cy="1194.1" rx="2.7" ry="2.1" transform="rotate(107 381.6 1194.1)"/>
<ellipse cx="376.3" cy="1324.7" rx="1.5" ry="1.9" transform="rotate(122 376.3 1324.7)"/>
<ellipse cx="457.6" cy="1217.1" rx="1.7" ry="1.4" transform="rotate(14 457.6 1217.1)"/>
<ellipse cx="457.6" cy="1302.9" rx="1.4" ry="1.6" transform="rotate(18 457.6 1302.9)"/>
<ellipse cx="459.4" cy="1253.5" rx="1.2" ry="1.9" transform="rotate(60 459.4 1253.5)"/>
<ellipse cx="429.6" cy="1332.9" rx="1.3" ry="1.7" transform="rotate(171 429.6 1332.9)"/>
<ellipse cx="389.6" cy="1232.8" rx="2.5" ry="1.1" transform="rotate(148 389.6 1232.8)"/>
<ellipse cx="444.0" cy="1363.7" rx="2.9" ry="1.7" transform="rotate(83 444.0 1363.7)"/>
<ellipse cx="418.8" cy="1305.4" rx="3.2" ry="1.2" transform="rotate(89 418.8 1305.4)"/>
<ellipse cx="410.7" cy="1232.1" rx="1.5" ry="1.9" transform="rotate(105 410.7 1232.1)"/>
<ellipse cx="433.3" cy="1234.3" rx="2.2" ry="1.2" transform="rotate(27 433.3 1234.3)"/>
<ellipse cx="380.8" cy="1307.8" rx="2.9" ry="1.7" transform="rotate(140 380.8 1307.8)"/>
<ellipse cx="375.5" cy="1283.3" rx="1.5" ry="1.6" transform="rotate(45 375.5 1283.3)"/>
<ellipse cx="392.1" cy="1358.4" rx="2.3" ry="1.3" transform="rotate(88 392.1 1358.4)"/>
<ellipse cx="395.0" cy="1335.2" rx="2.0" ry="2.0" transform="rotate(107 395.0 1335.2)"/>
<ellipse cx="429.8" cy="1300.2" rx="2.4" ry="1.1" transform="rotate(142 429.8 1300.2)"/>
<ellipse cx="426.2" cy="1228.0" rx="2.2" ry="2.1" transform="rotate(118 426.2 1228.0)"/>
<ellipse cx="420.4" cy="1285.6" rx="1.3" ry="1.6" transform="rotate(78 420.4 1285.6)"/>
<ellipse cx="428.9" cy="1254.0" rx="1.5" ry="2.0" transform="rotate(45 428.9 1254.0)"/>
<ellipse cx="389.4" cy="1267.7" rx="3.1" ry="1.8" transform="rotate(25 389.4 1267.7)"/>
<ellipse cx="377.1" cy="1279.9" rx="1.3" ry="1.3" transform="rotate(20 377.1 1279.9)"/>
<ellipse cx="449.9" cy="1352.2" rx="2.9" ry="1.8" transform="rotate(7 449.9 1352.2)"/>
<ellipse cx="394.1" cy="1341.4" rx="1.3" ry="1.6" transform="rotate(143 394.1 1341.4)"/>
<ellipse cx="392.3" cy="1251.1" rx="2.5" ry="1.8" transform="rotate(28 392.3 1251.1)"/>
<ellipse cx="442.9" cy="1201.6" rx="1.5" ry="1.4" transform="rotate(36 442.9 1201.6)"/>
<ellipse cx="411.2" cy="1252.0" rx="2.7" ry="2.0" transform="rotate(139 411.2 1252.0)"/>
<ellipse cx="449.4" cy="1233.4" rx="2.5" ry="1.9" transform="rotate(151 449.4 1233.4)"/>
<ellipse cx="407.9" cy="1354.2" rx="1.9" ry="2.1" transform="rotate(121 407.9 1354.2)"/>
<ellipse cx="374.1" cy="1358.1" rx="2.7" ry="1.7" transform="rotate(172 374.1 1358.1)"/>
<ellipse cx="452.0" cy="1336.5" rx="2.7" ry="1.9" transform="rotate(21 452.0 1336.5)"/>
<ellipse cx="423.6" cy="1187.2" rx="2.2" ry="1.2" transform="rotate(127 423.6 1187.2)"/>
<ellipse cx="454.7" cy="1224.4" rx="2.3" ry="1.3" transform="rotate(176 454.7 1224.4)"/>
<ellipse cx="414.9" cy="1218.6" rx="2.5" ry="1.6" transform="rotate(93 414.9 1218.6)"/>
<ellipse cx="410.6" cy="1215.5" rx="1.4" ry="1.7" transform="rotate(23 410.6 1215.5)"/>
<ellipse cx="404.8" cy="1292.0" rx="2.8" ry="1.2" transform="rotate(68 404.8 1292.0)"/>
<ellipse cx="378.8" cy="1230.8" rx="3.1" ry="1.9" transform="rotate(12 378.8 1230.8)"/>
<ellipse cx="461.1" cy="1249.0" rx="2.3" ry="1.9" transform="rotate(40 461.1 1249.0)"/>
<ellipse cx="395.2" cy="1245.4" rx="2.4" ry="2.2" transform="rotate(28 395.2 1245.4)"/>
<ellipse cx="460.0" cy="1293.8" rx="2.1" ry="1.1" transform="rotate(129 460.0 1293.8)"/>
<ellipse cx="375.3" cy="1344.3" rx="1.7" ry="2.0" transform="rotate(135 375.3 1344.3)"/>
<ellipse cx="403.0" cy="1240.2" rx="2.3" ry="1.6" transform="rotate(73 403.0 1240.2)"/>
<ellipse cx="462.1" cy="1250.0" rx="1.9" ry="1.9" transform="rotate(80 462.1 1250.0)"/>
<ellipse cx="392.5" cy="1264.6" rx="1.4" ry="1.2" transform="rotate(147 392.5 1264.6)"/>
<ellipse cx="412.3" cy="1270.9" rx="2.1" ry="1.2" transform="rotate(22 412.3 1270.9)"/>
<ellipse cx="607.8" cy="1297.2" rx="1.8" ry="1.8" transform="rotate(58 607.8 1297.2)"/>
<ellipse cx="682.0" cy="1360.3" rx="1.9" ry="1.7" transform="rotate(30 682.0 1360.3)"/>
<ellipse cx="664.5" cy="1239.2" rx="2.1" ry="2.0" transform="rotate(157 664.5 1239.2)"/>
<ellipse cx="646.8" cy="1313.4" rx="2.3" ry="1.5" transform="rotate(15 646.8 1313.4)"/>
<ellipse cx="611.7" cy="1213.4" rx="2.0" ry="1.4" transform="rotate(34 611.7 1213.4)"/>
<ellipse cx="635.1" cy="1250.0" rx="2.7" ry="2.0" transform="rotate(143 635.1 1250.0)"/>
<ellipse cx="661.2" cy="1194.1" rx="2.9" ry="1.9" transform="rotate(21 661.2 1194.1)"/>
<ellipse cx="630.0" cy="1271.2" rx="1.6" ry="2.2" transform="rotate(113 630.0 1271.2)"/>
<ellipse cx="661.8" cy="1232.5" rx="2.0" ry="1.7" transform="rotate(139 661.8 1232.5)"/>
<ellipse cx="639.5" cy="1265.3" rx="1.9" ry="1.6" transform="rotate(58 639.5 1265.3)"/>
<ellipse cx="630.2" cy="1291.3" rx="3.0" ry="2.1" transform="rotate(170 630.2 1291.3)"/>
<ellipse cx="640.8" cy="1364.9" rx="1.5" ry="1.3" transform="rotate(38 640.8 1364.9)"/>
<ellipse cx="666.9" cy="1234.0" rx="1.8" ry="1.1" transform="rotate(125 666.9 1234.0)"/>
<ellipse cx="667.6" cy="1272.4" rx="2.4" ry="2.0" transform="rotate(172 667.6 1272.4)"/>
<ellipse cx="627.8" cy="1346.2" rx="2.4" ry="1.9" transform="rotate(26 627.8 1346.2)"/>
<ellipse cx="699.9" cy="1255.8" rx="1.4" ry="1.6" transform="rotate(59 699.9 1255.8)"/>
<ellipse cx="676.8" cy="1304.9" rx="2.8" ry="2.0" transform="rotate(142 676.8 1304.9)"/>
<ellipse cx="642.3" cy="1281.8" rx="2.2" ry="1.8" transform="rotate(110 642.3 1281.8)"/>
<ellipse cx="663.4" cy="1249.0" rx="2.2" ry="1.5" transform="rotate(142 663.4 1249.0)"/>
<ellipse cx="699.0" cy="1313.3" rx="1.9" ry="1.3" transform="rotate(176 699.0 1313.3)"/>
<ellipse cx="698.3" cy="1343.2" rx="3.0" ry="1.7" transform="rotate(133 698.3 1343.2)"/>
<ellipse cx="655.0" cy="1193.4" rx="2.3" ry="2.2" transform="rotate(68 655.0 1193.4)"/>
<ellipse cx="671.8" cy="1210.1" rx="2.5" ry="1.5" transform="rotate(175 671.8 1210.1)"/>
<ellipse cx="657.3" cy="1315.5" rx="1.9" ry="1.4" transform="rotate(142 657.3 1315.5)"/>
<ellipse cx="655.5" cy="1303.2" rx="3.0" ry="1.1" transform="rotate(64 655.5 1303.2)"/>
<ellipse cx="692.7" cy="1309.4" rx="2.8" ry="1.8" transform="rotate(131 692.7 1309.4)"/>
<ellipse cx="614.1" cy="1206.0" rx="2.7" ry="1.9" transform="rotate(56 614.1 1206.0)"/>
<ellipse cx="650.2" cy="1350.0" rx="3.0" ry="1.3" transform="rotate(178 650.2 1350.0)"/>
<ellipse cx="702.2" cy="1252.5" rx="2.2" ry="1.2" transform="rotate(77 702.2 1252.5)"/>
<ellipse cx="626.0" cy="1238.3" rx="2.5" ry="2.0" transform="rotate(75 626.0 1238.3)"/>
<ellipse cx="701.2" cy="1203.7" rx="2.6" ry="2.2" transform="rotate(21 701.2 1203.7)"/>
<ellipse cx="627.9" cy="1270.9" rx="1.7" ry="2.0" transform="rotate(94 627.9 1270.9)"/>
<ellipse cx="607.1" cy="1247.2" rx="2.0" ry="1.8" transform="rotate(37 607.1 1247.2)"/>
<ellipse cx="681.7" cy="1264.4" rx="2.4" ry="1.5" transform="rotate(167 681.7 1264.4)"/>
<ellipse cx="613.9" cy="1324.9" rx="2.9" ry="2.2" transform="rotate(6 613.9 1324.9)"/>
<ellipse cx="626.6" cy="1252.3" rx="2.9" ry="1.8" transform="rotate(86 626.6 1252.3)"/>
<ellipse cx="669.1" cy="1282.5" rx="3.0" ry="1.6" transform="rotate(74 669.1 1282.5)"/>
<ellipse cx="623.6" cy="1319.1" rx="1.4" ry="1.6" transform="rotate(18 623.6 1319.1)"/>
<ellipse cx="654.7" cy="1308.1" rx="2.9" ry="1.7" transform="rotate(127 654.7 1308.1)"/>
<ellipse cx="621.5" cy="1257.6" rx="1.3" ry="1.6" transform="rotate(66 621.5 1257.6)"/>
<ellipse cx="657.0" cy="1194.1" rx="3.1" ry="2.0" transform="rotate(34 657.0 1194.1)"/>
<ellipse cx="688.5" cy="1294.5" rx="2.6" ry="1.7" transform="rotate(171 688.5 1294.5)"/>
<ellipse cx="618.6" cy="1347.3" rx="2.7" ry="1.8" transform="rotate(179 618.6 1347.3)"/>
<ellipse cx="698.6" cy="1186.8" rx="1.7" ry="1.8" transform="rotate(106 698.6 1186.8)"/>
<ellipse cx="661.7" cy="1287.3" rx="2.6" ry="1.1" transform="rotate(36 661.7 1287.3)"/>
<ellipse cx="633.5" cy="1278.6" rx="2.3" ry="1.5" transform="rotate(62 633.5 1278.6)"/>
<ellipse cx="667.0" cy="1207.6" rx="1.6" ry="2.2" transform="rotate(126 667.0 1207.6)"/>
<ellipse cx="624.7" cy="1262.3" rx="1.8" ry="1.6" transform="rotate(154 624.7 1262.3)"/>
<ellipse cx="683.0" cy="1190.0" rx="2.5" ry="2.1" transform="rotate(74 683.0 1190.0)"/>
<ellipse cx="638.2" cy="1218.8" rx="1.8" ry="2.1" transform="rotate(59 638.2 1218.8)"/>
<ellipse cx="630.5" cy="1261.0" rx="3.0" ry="1.0" transform="rotate(0 630.5 1261.0)"/>
<ellipse cx="673.5" cy="1192.8" rx="1.7" ry="1.5" transform="rotate(80 673.5 1192.8)"/>
<ellipse cx="636.9" cy="1310.2" rx="1.8" ry="1.7" transform="rotate(158 636.9 1310.2)"/>
<ellipse cx="679.7" cy="1351.5" rx="1.5" ry="1.5" transform="rotate(113 679.7 1351.5)"/>
<ellipse cx="639.0" cy="1245.1" rx="1.4" ry="1.4" transform="rotate(171 639.0 1245.1)"/>
<ellipse cx="645.6" cy="1197.9" rx="1.9" ry="1.0" transform="rotate(138 645.6 1197.9)"/>
<ellipse cx="625.7" cy="1296.5" rx="3.1" ry="1.6" transform="rotate(167 625.7 1296.5)"/>
<ellipse cx="656.6" cy="1217.6" rx="2.1" ry="1.1" transform="rotate(108 656.6 1217.6)"/>
<ellipse cx="644.6" cy="1292.4" rx="1.5" ry="1.4" transform="rotate(154 644.6 1292.4)"/>
<ellipse cx="669.0" cy="1312.8" rx="1.8" ry="1.3" transform="rotate(79 669.0 1312.8)"/>
<ellipse cx="616.8" cy="1337.9" rx="1.7" ry="1.1" transform="rotate(26 616.8 1337.9)"/>
<ellipse cx="639.5" cy="1236.3" rx="2.9" ry="1.7" transform="rotate(102 639.5 1236.3)"/>
<ellipse cx="692.2" cy="1246.1" rx="1.7" ry="1.9" transform="rotate(98 692.2 1246.1)"/>
<ellipse cx="650.9" cy="1201.5" rx="2.8" ry="1.8" transform="rotate(52 650.9 1201.5)"/>
<ellipse cx="689.5" cy="1244.8" rx="1.6" ry="1.9" transform="rotate(17 689.5 1244.8)"/>
<ellipse cx="615.0" cy="1225.2" rx="2.2" ry="1.6" transform="rotate(151 615.0 1225.2)"/>
<ellipse cx="691.5" cy="1356.3" rx="1.9" ry="1.5" transform="rotate(30 691.5 1356.3)"/>
<ellipse cx="622.4" cy="1264.5" rx="1.9" ry="1.1" transform="rotate(88 622.4 1264.5)"/>
<ellipse cx="663.8" cy="1354.0" rx="1.7" ry="2.1" transform="rotate(29 663.8 1354.0)"/>
<ellipse cx="651.3" cy="1218.7" rx="2.9" ry="1.2" transform="rotate(62 651.3 1218.7)"/>
<ellipse cx="614.9" cy="1350.6" rx="2.9" ry="1.2" transform="rotate(122 614.9 1350.6)"/>
</g>
<path d="M381.9,1361.3Q379.3,1361.5 379.1,1359.1M424.1,1301.1Q427.2,1305.9 426.8,1308.2M456.9,1215.5Q455.8,1218.4 451.8,1220.0M461.2,1215.0Q459.9,1218.3 456.2,1218.8M451.7,1251.2Q456.4,1249.9 457.7,1247.9M378.0,1348.5Q380.6,1351.0 383.0,1351.2M437.4,1356.9Q442.9,1357.1 445.2,1357.8M384.9,1301.4Q384.0,1302.6 379.4,1301.3M414.1,1206.2Q415.8,1203.9 413.5,1199.9M407.0,1323.7Q410.7,1321.3 414.1,1321.5M388.1,1217.4Q387.4,1219.4 386.0,1224.8M383.2,1296.4Q388.0,1295.5 390.2,1293.9M388.0,1275.2Q387.4,1273.5 389.7,1271.2M387.8,1241.7Q389.3,1244.5 389.9,1245.2M450.5,1191.6Q450.9,1189.6 454.8,1189.8M412.5,1296.1Q413.4,1299.4 414.2,1299.9M445.7,1191.4Q448.7,1189.2 449.0,1188.1M385.5,1345.1Q382.0,1346.9 378.7,1347.9M428.0,1258.9Q427.5,1261.3 426.0,1265.4M377.1,1238.0Q379.5,1239.2 380.8,1242.0M383.4,1336.0Q382.2,1331.5 380.0,1330.9M393.3,1345.4Q390.9,1346.4 390.6,1347.7M430.7,1289.3Q429.1,1291.8 430.5,1292.7M407.8,1338.8Q410.4,1334.9 411.6,1332.4M411.1,1316.5Q410.4,1318.3 410.1,1321.6M422.4,1275.2Q424.7,1275.8 429.3,1273.8M384.9,1215.3Q386.6,1218.1 385.3,1221.5M440.2,1373.4Q436.9,1372.7 433.1,1370.6M373.1,1219.5Q373.1,1224.3 371.9,1227.3M430.2,1335.0Q426.4,1333.2 426.0,1333.9M421.6,1373.2Q422.4,1371.5 420.5,1369.9M377.5,1364.1Q373.7,1365.0 372.5,1367.0M449.8,1346.9Q451.2,1344.6 449.3,1339.4M377.0,1187.8Q375.3,1189.4 373.5,1190.0M387.2,1324.5Q387.3,1322.8 385.9,1321.8M434.0,1330.7Q432.7,1327.2 431.7,1327.1M461.2,1289.2Q462.3,1287.2 464.9,1287.1M441.7,1239.3Q443.4,1239.0 441.4,1235.5M407.4,1327.4Q406.5,1328.0 404.2,1329.0M411.6,1302.4Q409.0,1301.6 408.4,1298.3M371.5,1355.0Q370.9,1356.3 367.4,1360.3M375.1,1201.8Q374.5,1201.9 370.1,1201.5M438.4,1334.4Q443.1,1338.4 444.1,1339.6M423.9,1296.8Q424.0,1295.7 422.8,1292.0M369.8,1313.6Q371.5,1315.2 369.2,1317.2M389.6,1302.2Q385.1,1300.5 383.9,1299.9M458.9,1237.4Q456.0,1233.3 454.6,1231.4M410.7,1365.7Q408.0,1365.2 405.1,1367.5M407.4,1233.1Q409.2,1229.0 412.9,1228.7M379.5,1336.4Q378.0,1333.1 376.1,1331.0M383.9,1204.6Q383.3,1200.9 381.6,1200.5M420.3,1304.6Q418.6,1307.0 418.5,1310.3M423.1,1372.0Q421.0,1375.3 418.9,1376.0M386.8,1271.5Q386.7,1274.1 384.2,1274.5M433.8,1301.8Q431.8,1301.9 427.7,1303.9M442.2,1362.0Q441.2,1363.5 441.2,1366.7M429.8,1366.3Q426.1,1370.0 426.1,1373.4M443.1,1224.1Q444.3,1225.8 448.1,1225.1M395.6,1298.8Q398.7,1296.4 399.3,1297.1M451.7,1364.2Q454.1,1366.1 456.1,1369.0M396.8,1330.4Q395.6,1333.6 393.8,1333.7M408.7,1322.7Q409.4,1319.4 410.9,1318.7M453.8,1361.2Q455.4,1359.9 460.7,1361.9M382.8,1198.8Q383.9,1198.8 386.8,1198.2M371.6,1191.2Q372.7,1193.3 370.4,1196.1M374.3,1286.5Q373.5,1285.6 370.3,1283.4M443.8,1364.5Q446.2,1368.6 447.0,1371.5M428.6,1211.7Q427.1,1213.8 429.5,1215.6M375.9,1205.3Q376.1,1201.4 373.4,1198.6M382.3,1322.4Q384.7,1321.6 386.0,1324.5M370.0,1186.4Q369.5,1187.2 370.8,1189.4M459.9,1233.9Q462.3,1233.8 465.1,1232.6M372.2,1362.8Q371.9,1357.9 371.8,1355.7M425.1,1195.0Q420.4,1195.2 418.3,1199.1M430.9,1301.9Q434.5,1303.7 434.5,1308.6M431.7,1222.2Q430.8,1222.0 431.5,1218.1M445.7,1319.4Q444.3,1318.3 442.2,1320.2M417.6,1224.0Q417.6,1224.6 420.9,1225.4M371.9,1227.9Q371.2,1231.2 374.2,1230.7M381.4,1222.8Q382.5,1219.8 383.3,1219.7M380.8,1317.7Q379.1,1317.1 374.7,1320.0M420.1,1238.5Q416.8,1237.1 415.7,1236.6M460.3,1202.2Q459.2,1197.5 459.7,1196.7M373.3,1296.9Q373.2,1294.7 370.3,1293.4M444.9,1214.3Q446.6,1212.4 450.8,1214.2M420.7,1219.5Q419.3,1223.6 421.3,1226.8M376.8,1258.4Q375.4,1255.7 372.2,1255.2M414.0,1360.4Q415.6,1357.6 415.6,1353.1M395.4,1304.6Q396.7,1308.5 398.0,1310.2M675.6,1343.4Q679.5,1341.0 683.5,1342.4M608.8,1272.1Q604.2,1272.9 602.2,1273.3M685.4,1206.3Q680.6,1208.5 679.2,1208.2M651.3,1195.5Q648.9,1197.8 650.3,1199.1M672.0,1268.5Q670.1,1271.6 669.3,1271.3M661.1,1241.6Q659.8,1243.9 656.8,1245.1M689.9,1352.2Q691.4,1348.2 691.3,1346.7M682.3,1217.9Q681.6,1215.8 679.4,1215.3M631.4,1315.9Q632.8,1314.3 637.6,1313.4M682.4,1333.5Q679.6,1336.0 678.0,1336.4M660.2,1257.6Q663.3,1254.4 665.3,1254.2M630.4,1193.8Q630.0,1196.7 629.2,1198.8M654.1,1234.4Q650.4,1233.8 648.3,1235.0M635.4,1335.5Q632.8,1333.5 632.3,1332.6M684.9,1254.1Q688.2,1257.7 689.9,1259.7M645.9,1204.8Q646.2,1201.0 642.7,1200.3M698.3,1334.6Q698.6,1332.0 695.6,1328.8M675.9,1216.9Q675.0,1216.8 671.8,1216.6M622.2,1343.8Q623.9,1338.4 625.8,1337.0M622.3,1319.0Q620.1,1316.2 621.0,1312.7M702.7,1315.7Q704.5,1315.7 706.1,1315.2M658.4,1262.3Q658.8,1260.4 660.8,1257.2M618.4,1256.6Q619.6,1254.8 617.6,1253.6M609.1,1308.6Q605.0,1310.7 604.4,1311.5M686.5,1223.2Q688.2,1227.9 686.5,1230.6M696.4,1275.3Q693.9,1274.2 692.5,1276.7M629.2,1275.0Q626.7,1277.0 626.3,1281.8M649.3,1340.5Q648.0,1338.4 648.5,1334.4M678.4,1341.0Q678.1,1339.6 680.4,1336.5M631.7,1239.6Q634.3,1240.1 634.4,1243.8M634.7,1210.9Q636.2,1212.5 640.0,1212.4M638.3,1261.6Q639.4,1264.4 643.7,1263.9M680.1,1273.8Q677.6,1269.8 677.9,1266.6M639.8,1358.0Q642.0,1358.1 644.6,1354.8M633.9,1192.5Q636.1,1191.3 640.6,1192.0M657.9,1245.6Q655.8,1246.9 655.0,1251.1M643.5,1329.4Q642.7,1332.2 643.3,1333.8M637.7,1201.5Q635.3,1201.9 633.5,1200.8M628.3,1195.4Q630.8,1195.8 630.5,1192.8M654.1,1259.5Q653.4,1254.6 652.7,1253.3M643.8,1364.4Q641.7,1367.8 641.6,1367.5M676.8,1333.5Q676.0,1329.9 678.2,1326.0M662.9,1191.4Q666.5,1194.9 667.7,1196.7M644.5,1208.8Q643.7,1204.3 644.1,1203.8M661.4,1255.2Q662.0,1258.6 660.8,1261.6M701.1,1301.4Q698.6,1301.1 693.9,1303.3M611.2,1262.5Q610.2,1264.2 609.1,1267.7M632.2,1307.1Q635.0,1304.6 636.7,1303.3M625.0,1281.7Q628.3,1280.7 628.5,1280.9M681.3,1238.4Q680.6,1235.1 682.0,1232.6M618.0,1327.7Q618.5,1330.1 621.9,1330.1M670.4,1340.9Q670.2,1340.7 668.3,1343.5M691.8,1365.9Q690.7,1370.5 692.3,1372.6M701.8,1250.2Q701.0,1252.9 703.0,1256.0M650.3,1297.9Q654.3,1296.2 654.3,1297.2M680.6,1260.9Q679.6,1261.6 676.6,1262.0M630.8,1237.1Q628.1,1234.5 628.0,1232.0M637.8,1236.2Q633.6,1235.1 630.9,1235.5M694.0,1201.3Q693.3,1201.1 696.3,1196.9M621.3,1262.7Q619.9,1262.3 616.9,1264.9M673.6,1296.0Q669.2,1295.0 666.2,1293.3M656.4,1246.8Q655.3,1243.9 653.9,1243.1M674.1,1300.6Q676.3,1301.8 678.7,1301.7M672.3,1304.5Q674.4,1306.1 676.0,1306.4M692.3,1322.4Q694.2,1324.7 694.2,1325.8M664.4,1307.3Q666.0,1310.2 666.2,1313.1M698.9,1264.0Q702.8,1263.3 703.8,1262.7M654.7,1345.8Q656.8,1346.1 658.1,1347.7M666.6,1221.7Q669.4,1218.1 671.3,1217.8M638.8,1293.4Q637.3,1291.7 637.5,1290.6M608.7,1227.4Q607.7,1224.2 608.0,1224.2M703.2,1246.7Q701.7,1246.3 699.5,1245.9M615.7,1296.2Q613.1,1300.1 613.4,1303.8M697.2,1280.1Q701.6,1280.2 702.4,1283.9M694.1,1296.6Q697.5,1294.7 697.2,1289.6M697.3,1267.1Q694.3,1272.3 693.2,1273.5M695.2,1260.8Q697.8,1257.2 700.2,1254.9M674.3,1206.0Q676.7,1204.5 678.5,1201.8M647.5,1233.6Q646.5,1229.8 648.8,1229.7M645.9,1334.6Q646.6,1336.2 650.2,1338.7M616.4,1230.9Q619.6,1229.2 619.4,1225.3M609.6,1288.6Q607.1,1289.1 604.9,1291.2M694.6,1196.2Q693.3,1193.3 692.5,1190.9M677.4,1311.9Q674.1,1309.0 670.2,1308.4M639.9,1351.5Q644.2,1351.1 646.3,1348.9M615.4,1239.1Q615.8,1237.7 614.0,1234.7M687.3,1250.7Q684.1,1250.5 682.8,1246.7M680.3,1216.5Q678.5,1213.6 679.7,1209.1M624.6,1335.6Q626.1,1333.5 627.8,1331.2M664.9,1217.6Q660.6,1216.4 657.2,1217.9M696.2,1372.6Q693.5,1374.3 692.5,1375.7" fill="none" stroke="#3a3a3a" stroke-opacity="0.22" stroke-width="0.7"/>
<line x1="464.8" y1="1184.0" x2="464.8" y2="1375.7" stroke="#e8e8e8" stroke-width="0.6" stroke-linecap="butt" stroke-dasharray="1.2 0.8"/>
<line x1="604.7" y1="1184.0" x2="604.7" y2="1375.7" stroke="#e8e8e8" stroke-width="0.6" stroke-linecap="butt" stroke-dasharray="1.2 0.8"/>
</g>
<clipPath id="sc3"><rect x="20" y="1384.6" width="339.2" height="191.7"/></clipPath>
<g clip-path="url(#sc3)">
<rect x="20" y="1384.6" width="339.2" height="191.7" fill="#9a9a9a"/>
<rect x="20" y="1384.6" width="130.7" height="191.7" fill="#a3a3a3"/>
<rect x="228.8" y="1384.6" width="130.4" height="191.7" fill="#a3a3a3"/>
<rect x="20" y="1384.6" width="130.7" height="191.7" fill="#fff" filter="url(#cellTex)"/>
<rect x="228.8" y="1384.6" width="130.4" height="191.7" fill="#fff" filter="url(#cellTex)"/>
<rect x="20" y="1384.6" width="130.7" height="191.7" fill="#fff" filter="url(#cellTex2)"/>
<rect x="228.8" y="1384.6" width="130.4" height="191.7" fill="#fff" filter="url(#cellTex2)"/>
<g fill="#fff" fill-opacity="0.16" stroke="#2a2a2a" stroke-opacity="0.28" stroke-width="0.6">
<ellipse cx="137.8" cy="1412.4" rx="2.3" ry="1.6" transform="rotate(173 137.8 1412.4)"/>
<ellipse cx="70.2" cy="1470.4" rx="2.4" ry="1.5" transform="rotate(164 70.2 1470.4)"/>
<ellipse cx="133.3" cy="1522.4" rx="1.3" ry="2.2" transform="rotate(99 133.3 1522.4)"/>
<ellipse cx="97.7" cy="1488.4" rx="2.2" ry="2.1" transform="rotate(49 97.7 1488.4)"/>
<ellipse cx="40.0" cy="1574.2" rx="1.7" ry="1.3" transform="rotate(79 40.0 1574.2)"/>
<ellipse cx="135.7" cy="1457.2" rx="1.2" ry="1.3" transform="rotate(41 135.7 1457.2)"/>
<ellipse cx="24.6" cy="1554.1" rx="2.7" ry="1.2" transform="rotate(44 24.6 1554.1)"/>
<ellipse cx="146.2" cy="1518.1" rx="2.1" ry="1.7" transform="rotate(177 146.2 1518.1)"/>
<ellipse cx="52.3" cy="1505.2" rx="1.2" ry="1.6" transform="rotate(42 52.3 1505.2)"/>
<ellipse cx="65.1" cy="1460.4" rx="2.1" ry="2.1" transform="rotate(66 65.1 1460.4)"/>
<ellipse cx="24.4" cy="1543.8" rx="3.0" ry="2.0" transform="rotate(53 24.4 1543.8)"/>
<ellipse cx="66.9" cy="1530.4" rx="1.4" ry="1.1" transform="rotate(91 66.9 1530.4)"/>
<ellipse cx="51.1" cy="1473.5" rx="1.5" ry="2.2" transform="rotate(89 51.1 1473.5)"/>
<ellipse cx="65.9" cy="1443.8" rx="1.7" ry="1.9" transform="rotate(143 65.9 1443.8)"/>
<ellipse cx="122.1" cy="1561.4" rx="2.4" ry="1.5" transform="rotate(76 122.1 1561.4)"/>
<ellipse cx="38.8" cy="1455.3" rx="2.2" ry="2.0" transform="rotate(104 38.8 1455.3)"/>
<ellipse cx="34.4" cy="1487.3" rx="1.9" ry="2.0" transform="rotate(151 34.4 1487.3)"/>
<ellipse cx="97.4" cy="1510.1" rx="2.0" ry="1.3" transform="rotate(144 97.4 1510.1)"/>
<ellipse cx="119.9" cy="1491.1" rx="3.1" ry="2.0" transform="rotate(126 119.9 1491.1)"/>
<ellipse cx="35.4" cy="1566.9" rx="1.4" ry="1.2" transform="rotate(22 35.4 1566.9)"/>
<ellipse cx="44.5" cy="1517.9" rx="2.3" ry="1.2" transform="rotate(36 44.5 1517.9)"/>
<ellipse cx="116.2" cy="1446.2" rx="1.6" ry="2.0" transform="rotate(47 116.2 1446.2)"/>
<ellipse cx="32.9" cy="1484.2" rx="2.7" ry="1.0" transform="rotate(113 32.9 1484.2)"/>
<ellipse cx="45.4" cy="1549.8" rx="2.1" ry="1.4" transform="rotate(60 45.4 1549.8)"/>
<ellipse cx="31.7" cy="1393.3" rx="2.2" ry="1.6" transform="rotate(29 31.7 1393.3)"/>
<ellipse cx="36.6" cy="1470.4" rx="3.0" ry="1.1" transform="rotate(121 36.6 1470.4)"/>
<ellipse cx="140.1" cy="1442.9" rx="1.9" ry="1.7" transform="rotate(42 140.1 1442.9)"/>
<ellipse cx="25.7" cy="1414.5" rx="3.0" ry="1.5" transform="rotate(158 25.7 1414.5)"/>
<ellipse cx="43.7" cy="1527.7" rx="1.7" ry="1.4" transform="rotate(134 43.7 1527.7)"/>
<ellipse cx="148.6" cy="1571.3" rx="2.8" ry="1.1" transform="rotate(115 148.6 1571.3)"/>
<ellipse cx="114.1" cy="1437.8" rx="2.3" ry="1.4" transform="rotate(123 114.1 1437.8)"/>
<ellipse cx="118.4" cy="1515.2" rx="1.6" ry="1.0" transform="rotate(46 118.4 1515.2)"/>
<ellipse cx="83.6" cy="1397.9" rx="2.7" ry="1.9" transform="rotate(126 83.6 1397.9)"/>
<ellipse cx="86.8" cy="1568.3" rx="2.1" ry="1.4" transform="rotate(151 86.8 1568.3)"/>
<ellipse cx="96.5" cy="1488.3" rx="2.1" ry="1.2" transform="rotate(48 96.5 1488.3)"/>
<ellipse cx="71.8" cy="1536.9" rx="2.0" ry="1.4" transform="rotate(26 71.8 1536.9)"/>
<ellipse cx="125.8" cy="1451.2" rx="2.0" ry="1.1" transform="rotate(128 125.8 1451.2)"/>
<ellipse cx="66.9" cy="1444.3" rx="1.9" ry="1.3" transform="rotate(65 66.9 1444.3)"/>
<ellipse cx="62.6" cy="1442.8" rx="2.8" ry="2.1" transform="rotate(95 62.6 1442.8)"/>
<ellipse cx="42.6" cy="1417.0" rx="1.9" ry="2.1" transform="rotate(172 42.6 1417.0)"/>
<ellipse cx="35.4" cy="1406.4" rx="3.0" ry="1.9" transform="rotate(88 35.4 1406.4)"/>
<ellipse cx="107.6" cy="1490.0" rx="1.5" ry="2.1" transform="rotate(7 107.6 1490.0)"/>
<ellipse cx="66.9" cy="1393.3" rx="1.3" ry="1.2" transform="rotate(31 66.9 1393.3)"/>
<ellipse cx="139.8" cy="1491.4" rx="2.5" ry="2.0" transform="rotate(106 139.8 1491.4)"/>
<ellipse cx="48.4" cy="1431.5" rx="1.4" ry="1.5" transform="rotate(145 48.4 1431.5)"/>
<ellipse cx="144.5" cy="1511.1" rx="1.6" ry="2.0" transform="rotate(115 144.5 1511.1)"/>
<ellipse cx="83.8" cy="1542.3" rx="2.0" ry="2.0" transform="rotate(76 83.8 1542.3)"/>
<ellipse cx="94.8" cy="1440.7" rx="1.6" ry="1.9" transform="rotate(153 94.8 1440.7)"/>
<ellipse cx="31.5" cy="1431.9" rx="2.8" ry="2.2" transform="rotate(108 31.5 1431.9)"/>
<ellipse cx="142.5" cy="1492.5" rx="3.1" ry="1.6" transform="rotate(76 142.5 1492.5)"/>
<ellipse cx="130.8" cy="1572.2" rx="1.6" ry="1.2" transform="rotate(62 130.8 1572.2)"/>
<ellipse cx="39.7" cy="1418.2" rx="2.2" ry="2.2" transform="rotate(147 39.7 1418.2)"/>
<ellipse cx="60.1" cy="1442.3" rx="1.8" ry="2.0" transform="rotate(56 60.1 1442.3)"/>
<ellipse cx="37.4" cy="1556.8" rx="2.9" ry="1.7" transform="rotate(77 37.4 1556.8)"/>
<ellipse cx="42.1" cy="1476.3" rx="1.9" ry="2.0" transform="rotate(34 42.1 1476.3)"/>
<ellipse cx="128.6" cy="1562.1" rx="3.1" ry="2.0" transform="rotate(18 128.6 1562.1)"/>
<ellipse cx="109.2" cy="1469.4" rx="1.3" ry="1.1" transform="rotate(104 109.2 1469.4)"/>
<ellipse cx="125.3" cy="1479.0" rx="1.6" ry="1.1" transform="rotate(103 125.3 1479.0)"/>
<ellipse cx="66.7" cy="1393.9" rx="2.9" ry="1.6" transform="rotate(122 66.7 1393.9)"/>
<ellipse cx="35.6" cy="1570.0" rx="2.5" ry="1.0" transform="rotate(123 35.6 1570.0)"/>
<ellipse cx="28.9" cy="1441.5" rx="2.4" ry="2.1" transform="rotate(103 28.9 1441.5)"/>
<ellipse cx="26.9" cy="1543.7" rx="1.9" ry="2.0" transform="rotate(94 26.9 1543.7)"/>
<ellipse cx="96.1" cy="1403.9" rx="2.7" ry="1.3" transform="rotate(132 96.1 1403.9)"/>
<ellipse cx="92.2" cy="1528.7" rx="3.0" ry="1.2" transform="rotate(153 92.2 1528.7)"/>
<ellipse cx="46.6" cy="1395.2" rx="1.7" ry="1.8" transform="rotate(34 46.6 1395.2)"/>
<ellipse cx="101.1" cy="1441.1" rx="3.1" ry="1.8" transform="rotate(127 101.1 1441.1)"/>
<ellipse cx="28.3" cy="1472.3" rx="2.8" ry="2.0" transform="rotate(27 28.3 1472.3)"/>
<ellipse cx="131.9" cy="1445.5" rx="3.0" ry="1.5" transform="rotate(115 131.9 1445.5)"/>
<ellipse cx="113.9" cy="1544.5" rx="2.3" ry="1.4" transform="rotate(177 113.9 1544.5)"/>
<ellipse cx="131.4" cy="1472.7" rx="2.8" ry="2.1" transform="rotate(144 131.4 1472.7)"/>
<ellipse cx="125.3" cy="1515.3" rx="1.8" ry="1.6" transform="rotate(8 125.3 1515.3)"/>
<ellipse cx="81.5" cy="1542.8" rx="2.4" ry="2.0" transform="rotate(159 81.5 1542.8)"/>
<ellipse cx="98.2" cy="1520.5" rx="2.9" ry="2.0" transform="rotate(63 98.2 1520.5)"/>
<ellipse cx="72.3" cy="1406.5" rx="1.4" ry="1.2" transform="rotate(80 72.3 1406.5)"/>
<ellipse cx="67.8" cy="1447.9" rx="1.4" ry="1.4" transform="rotate(152 67.8 1447.9)"/>
<ellipse cx="118.6" cy="1452.8" rx="1.6" ry="1.4" transform="rotate(145 118.6 1452.8)"/>
<ellipse cx="123.9" cy="1464.2" rx="1.5" ry="1.7" transform="rotate(31 123.9 1464.2)"/>
<ellipse cx="101.3" cy="1416.7" rx="1.7" ry="1.1" transform="rotate(32 101.3 1416.7)"/>
<ellipse cx="93.3" cy="1477.7" rx="1.6" ry="1.7" transform="rotate(127 93.3 1477.7)"/>
<ellipse cx="63.0" cy="1457.8" rx="1.8" ry="1.7" transform="rotate(85 63.0 1457.8)"/>
<ellipse cx="63.9" cy="1449.4" rx="2.0" ry="2.0" transform="rotate(148 63.9 1449.4)"/>
<ellipse cx="124.6" cy="1477.7" rx="1.4" ry="1.1" transform="rotate(105 124.6 1477.7)"/>
<ellipse cx="128.9" cy="1555.0" rx="3.1" ry="2.0" transform="rotate(113 128.9 1555.0)"/>
<ellipse cx="54.5" cy="1455.2" rx="1.8" ry="1.5" transform="rotate(64 54.5 1455.2)"/>
<ellipse cx="110.6" cy="1546.4" rx="3.1" ry="1.4" transform="rotate(173 110.6 1546.4)"/>
<ellipse cx="46.3" cy="1426.9" rx="1.8" ry="1.5" transform="rotate(143 46.3 1426.9)"/>
<ellipse cx="41.3" cy="1400.6" rx="3.2" ry="1.7" transform="rotate(104 41.3 1400.6)"/>
<ellipse cx="84.1" cy="1437.9" rx="1.5" ry="1.4" transform="rotate(36 84.1 1437.9)"/>
<ellipse cx="145.9" cy="1571.0" rx="2.5" ry="1.8" transform="rotate(110 145.9 1571.0)"/>
<ellipse cx="89.8" cy="1463.9" rx="2.4" ry="1.3" transform="rotate(171 89.8 1463.9)"/>
<ellipse cx="134.9" cy="1483.1" rx="1.6" ry="2.1" transform="rotate(3 134.9 1483.1)"/>
<ellipse cx="141.9" cy="1447.6" rx="2.5" ry="1.7" transform="rotate(1 141.9 1447.6)"/>
<ellipse cx="33.1" cy="1568.9" rx="1.5" ry="1.8" transform="rotate(53 33.1 1568.9)"/>
<ellipse cx="293.7" cy="1442.2" rx="2.5" ry="1.7" transform="rotate(28 293.7 1442.2)"/>
<ellipse cx="311.9" cy="1493.0" rx="3.2" ry="2.1" transform="rotate(126 311.9 1493.0)"/>
<ellipse cx="232.5" cy="1565.6" rx="1.4" ry="1.1" transform="rotate(51 232.5 1565.6)"/>
<ellipse cx="273.7" cy="1438.5" rx="2.4" ry="1.2" transform="rotate(145 273.7 1438.5)"/>
<ellipse cx="286.5" cy="1557.9" rx="3.2" ry="1.6" transform="rotate(151 286.5 1557.9)"/>
<ellipse cx="351.9" cy="1555.6" rx="2.9" ry="1.7" transform="rotate(28 351.9 1555.6)"/>
<ellipse cx="308.4" cy="1548.8" rx="2.8" ry="1.1" transform="rotate(161 308.4 1548.8)"/>
<ellipse cx="261.4" cy="1463.0" rx="2.1" ry="1.7" transform="rotate(113 261.4 1463.0)"/>
<ellipse cx="297.6" cy="1461.4" rx="2.2" ry="1.6" transform="rotate(61 297.6 1461.4)"/>
<ellipse cx="309.2" cy="1461.9" rx="2.0" ry="1.1" transform="rotate(70 309.2 1461.9)"/>
<ellipse cx="242.7" cy="1492.2" rx="1.9" ry="1.8" transform="rotate(154 242.7 1492.2)"/>
<ellipse cx="347.1" cy="1552.8" rx="3.0" ry="1.3" transform="rotate(119 347.1 1552.8)"/>
<ellipse cx="327.4" cy="1413.0" rx="3.1" ry="1.0" transform="rotate(33 327.4 1413.0)"/>
<ellipse cx="273.7" cy="1571.8" rx="2.0" ry="2.2" transform="rotate(97 273.7 1571.8)"/>
<ellipse cx="323.1" cy="1497.3" rx="1.9" ry="2.2" transform="rotate(143 323.1 1497.3)"/>
<ellipse cx="271.6" cy="1480.6" rx="1.3" ry="1.7" transform="rotate(60 271.6 1480.6)"/>
<ellipse cx="243.8" cy="1436.2" rx="1.7" ry="1.8" transform="rotate(7 243.8 1436.2)"/>
<ellipse cx="356.6" cy="1540.6" rx="1.7" ry="1.9" transform="rotate(80 356.6 1540.6)"/>
<ellipse cx="350.7" cy="1482.6" rx="1.4" ry="1.4" transform="rotate(162 350.7 1482.6)"/>
<ellipse cx="349.6" cy="1401.5" rx="1.6" ry="1.9" transform="rotate(128 349.6 1401.5)"/>
<ellipse cx="232.6" cy="1388.9" rx="3.0" ry="1.9" transform="rotate(149 232.6 1388.9)"/>
<ellipse cx="255.0" cy="1499.0" rx="2.2" ry="1.1" transform="rotate(160 255.0 1499.0)"/>
<ellipse cx="324.7" cy="1543.4" rx="1.8" ry="2.0" transform="rotate(35 324.7 1543.4)"/>
<ellipse cx="331.9" cy="1462.0" rx="1.8" ry="1.8" transform="rotate(79 331.9 1462.0)"/>
<ellipse cx="264.2" cy="1392.0" rx="3.2" ry="2.1" transform="rotate(67 264.2 1392.0)"/>
<ellipse cx="247.6" cy="1457.3" rx="1.6" ry="1.3" transform="rotate(85 247.6 1457.3)"/>
<ellipse cx="328.3" cy="1389.8" rx="2.4" ry="1.8" transform="rotate(138 328.3 1389.8)"/>
<ellipse cx="243.1" cy="1391.0" rx="3.1" ry="2.2" transform="rotate(170 243.1 1391.0)"/>
<ellipse cx="301.4" cy="1391.5" rx="1.7" ry="1.9" transform="rotate(62 301.4 1391.5)"/>
<ellipse cx="290.1" cy="1407.5" rx="1.6" ry="1.8" transform="rotate(154 290.1 1407.5)"/>
<ellipse cx="332.3" cy="1550.3" rx="1.5" ry="1.2" transform="rotate(35 332.3 1550.3)"/>
<ellipse cx="242.4" cy="1501.9" rx="2.4" ry="1.1" transform="rotate(177 242.4 1501.9)"/>
<ellipse cx="322.7" cy="1560.3" rx="1.9" ry="1.4" transform="rotate(93 322.7 1560.3)"/>
<ellipse cx="315.9" cy="1499.0" rx="2.2" ry="1.5" transform="rotate(110 315.9 1499.0)"/>
<ellipse cx="261.2" cy="1445.7" rx="3.2" ry="1.4" transform="rotate(142 261.2 1445.7)"/>
<ellipse cx="306.1" cy="1514.7" rx="1.8" ry="1.9" transform="rotate(63 306.1 1514.7)"/>
<ellipse cx="258.9" cy="1546.7" rx="2.1" ry="2.0" transform="rotate(35 258.9 1546.7)"/>
<ellipse cx="280.7" cy="1471.8" rx="2.6" ry="2.2" transform="rotate(50 280.7 1471.8)"/>
<ellipse cx="348.0" cy="1541.4" rx="1.8" ry="2.0" transform="rotate(80 348.0 1541.4)"/>
<ellipse cx="311.6" cy="1473.0" rx="2.6" ry="1.5" transform="rotate(96 311.6 1473.0)"/>
<ellipse cx="329.7" cy="1483.6" rx="1.3" ry="1.9" transform="rotate(139 329.7 1483.6)"/>
<ellipse cx="243.5" cy="1498.3" rx="2.5" ry="1.2" transform="rotate(97 243.5 1498.3)"/>
<ellipse cx="327.3" cy="1462.1" rx="1.5" ry="2.1" transform="rotate(29 327.3 1462.1)"/>
<ellipse cx="242.9" cy="1405.1" rx="1.3" ry="1.2" transform="rotate(166 242.9 1405.1)"/>
<ellipse cx="292.6" cy="1509.1" rx="3.2" ry="1.4" transform="rotate(105 292.6 1509.1)"/>
<ellipse cx="291.2" cy="1425.6" rx="2.4" ry="1.6" transform="rotate(113 291.2 1425.6)"/>
<ellipse cx="323.8" cy="1546.1" rx="2.3" ry="1.1" transform="rotate(106 323.8 1546.1)"/>
<ellipse cx="276.5" cy="1412.5" rx="1.4" ry="1.6" transform="rotate(165 276.5 1412.5)"/>
<ellipse cx="233.9" cy="1503.6" rx="2.6" ry="1.1" transform="rotate(161 233.9 1503.6)"/>
<ellipse cx="250.9" cy="1532.0" rx="1.6" ry="1.5" transform="rotate(142 250.9 1532.0)"/>
<ellipse cx="276.4" cy="1562.7" rx="2.8" ry="1.5" transform="rotate(28 276.4 1562.7)"/>
<ellipse cx="236.7" cy="1446.4" rx="1.3" ry="1.0" transform="rotate(68 236.7 1446.4)"/>
<ellipse cx="291.0" cy="1392.5" rx="2.8" ry="1.0" transform="rotate(82 291.0 1392.5)"/>
<ellipse cx="310.5" cy="1513.3" rx="2.6" ry="1.3" transform="rotate(6 310.5 1513.3)"/>
<ellipse cx="345.7" cy="1515.2" rx="1.9" ry="1.8" transform="rotate(46 345.7 1515.2)"/>
<ellipse cx="234.3" cy="1421.6" rx="2.6" ry="2.0" transform="rotate(162 234.3 1421.6)"/>
<ellipse cx="238.8" cy="1562.7" rx="1.2" ry="1.9" transform="rotate(91 238.8 1562.7)"/>
<ellipse cx="321.6" cy="1532.2" rx="2.6" ry="1.1" transform="rotate(37 321.6 1532.2)"/>
<ellipse cx="237.3" cy="1572.8" rx="2.7" ry="1.8" transform="rotate(11 237.3 1572.8)"/>
<ellipse cx="329.6" cy="1441.5" rx="2.0" ry="1.3" transform="rotate(156 329.6 1441.5)"/>
<ellipse cx="342.2" cy="1523.1" rx="3.1" ry="2.0" transform="rotate(164 342.2 1523.1)"/>
<ellipse cx="328.2" cy="1537.0" rx="1.6" ry="1.0" transform="rotate(159 328.2 1537.0)"/>
<ellipse cx="284.5" cy="1456.1" rx="1.7" ry="2.2" transform="rotate(109 284.5 1456.1)"/>
<ellipse cx="239.5" cy="1539.5" rx="1.6" ry="2.0" transform="rotate(46 239.5 1539.5)"/>
<ellipse cx="352.8" cy="1449.9" rx="3.1" ry="2.1" transform="rotate(138 352.8 1449.9)"/>
<ellipse cx="303.0" cy="1476.2" rx="1.7" ry="1.1" transform="rotate(96 303.0 1476.2)"/>
<ellipse cx="331.5" cy="1428.0" rx="1.6" ry="1.3" transform="rotate(123 331.5 1428.0)"/>
<ellipse cx="349.4" cy="1522.7" rx="1.2" ry="1.7" transform="rotate(52 349.4 1522.7)"/>
<ellipse cx="343.4" cy="1532.9" rx="1.3" ry="1.2" transform="rotate(26 343.4 1532.9)"/>
<ellipse cx="356.6" cy="1448.6" rx="2.6" ry="1.1" transform="rotate(34 356.6 1448.6)"/>
<ellipse cx="282.3" cy="1518.7" rx="2.4" ry="1.7" transform="rotate(48 282.3 1518.7)"/>
<ellipse cx="335.5" cy="1504.8" rx="3.2" ry="1.9" transform="rotate(27 335.5 1504.8)"/>
<ellipse cx="260.7" cy="1453.0" rx="3.0" ry="1.4" transform="rotate(97 260.7 1453.0)"/>
<ellipse cx="254.9" cy="1505.6" rx="2.3" ry="1.3" transform="rotate(12 254.9 1505.6)"/>
<ellipse cx="352.9" cy="1485.0" rx="1.9" ry="1.5" transform="rotate(167 352.9 1485.0)"/>
<ellipse cx="279.9" cy="1527.2" rx="2.0" ry="1.8" transform="rotate(35 279.9 1527.2)"/>
<ellipse cx="307.4" cy="1395.0" rx="2.1" ry="2.1" transform="rotate(35 307.4 1395.0)"/>
<ellipse cx="347.7" cy="1466.1" rx="2.0" ry="2.1" transform="rotate(114 347.7 1466.1)"/>
<ellipse cx="284.8" cy="1570.8" rx="1.6" ry="1.2" transform="rotate(169 284.8 1570.8)"/>
<ellipse cx="354.1" cy="1433.3" rx="1.4" ry="1.8" transform="rotate(151 354.1 1433.3)"/>
<ellipse cx="232.6" cy="1522.6" rx="1.8" ry="1.8" transform="rotate(67 232.6 1522.6)"/>
<ellipse cx="254.6" cy="1416.4" rx="2.6" ry="1.7" transform="rotate(170 254.6 1416.4)"/>
<ellipse cx="244.1" cy="1490.7" rx="2.1" ry="1.6" transform="rotate(86 244.1 1490.7)"/>
<ellipse cx="351.2" cy="1494.1" rx="3.0" ry="1.2" transform="rotate(11 351.2 1494.1)"/>
<ellipse cx="247.7" cy="1394.5" rx="2.7" ry="1.8" transform="rotate(38 247.7 1394.5)"/>
<ellipse cx="320.4" cy="1521.0" rx="1.2" ry="1.3" transform="rotate(59 320.4 1521.0)"/>
<ellipse cx="352.1" cy="1498.4" rx="1.9" ry="1.4" transform="rotate(127 352.1 1498.4)"/>
<ellipse cx="247.5" cy="1441.4" rx="2.9" ry="1.6" transform="rotate(86 247.5 1441.4)"/>
<ellipse cx="352.8" cy="1550.6" rx="2.0" ry="2.0" transform="rotate(68 352.8 1550.6)"/>
<ellipse cx="242.0" cy="1425.2" rx="2.2" ry="2.0" transform="rotate(137 242.0 1425.2)"/>
<ellipse cx="314.3" cy="1394.5" rx="3.0" ry="1.3" transform="rotate(62 314.3 1394.5)"/>
<ellipse cx="337.8" cy="1506.9" rx="2.5" ry="1.1" transform="rotate(118 337.8 1506.9)"/>
<ellipse cx="343.0" cy="1394.3" rx="2.1" ry="1.6" transform="rotate(51 343.0 1394.3)"/>
<ellipse cx="209.2" cy="1437.8" rx="3.0" ry="1.9" transform="rotate(151 209.2 1437.8)"/>
<ellipse cx="157.6" cy="1498.9" rx="2.9" ry="1.3" transform="rotate(83 157.6 1498.9)"/>
<ellipse cx="221.5" cy="1487.6" rx="2.4" ry="1.5" transform="rotate(62 221.5 1487.6)"/>
<ellipse cx="199.2" cy="1440.4" rx="1.6" ry="1.8" transform="rotate(81 199.2 1440.4)"/>
<ellipse cx="188.4" cy="1425.7" rx="1.6" ry="1.0" transform="rotate(44 188.4 1425.7)"/>
<ellipse cx="198.1" cy="1404.8" rx="2.9" ry="1.2" transform="rotate(162 198.1 1404.8)"/>
<ellipse cx="191.6" cy="1523.9" rx="2.3" ry="1.8" transform="rotate(89 191.6 1523.9)"/>
<ellipse cx="219.5" cy="1389.6" rx="2.4" ry="1.9" transform="rotate(48 219.5 1389.6)"/>
<ellipse cx="198.2" cy="1456.5" rx="2.6" ry="1.8" transform="rotate(151 198.2 1456.5)"/>
<ellipse cx="220.0" cy="1503.4" rx="2.5" ry="1.6" transform="rotate(43 220.0 1503.4)"/>
<ellipse cx="191.6" cy="1472.0" rx="2.8" ry="1.3" transform="rotate(91 191.6 1472.0)"/>
<ellipse cx="223.8" cy="1398.6" rx="1.5" ry="1.2" transform="rotate(98 223.8 1398.6)"/>
<ellipse cx="216.7" cy="1546.9" rx="1.7" ry="1.6" transform="rotate(48 216.7 1546.9)"/>
<ellipse cx="216.5" cy="1412.6" rx="2.2" ry="2.0" transform="rotate(147 216.5 1412.6)"/>
<ellipse cx="158.9" cy="1503.0" rx="1.8" ry="1.9" transform="rotate(152 158.9 1503.0)"/>
<ellipse cx="157.3" cy="1464.3" rx="2.7" ry="1.8" transform="rotate(31 157.3 1464.3)"/>
<ellipse cx="192.4" cy="1460.8" rx="3.0" ry="1.3" transform="rotate(105 192.4 1460.8)"/>
<ellipse cx="188.8" cy="1421.0" rx="3.1" ry="1.3" transform="rotate(124 188.8 1421.0)"/>
<ellipse cx="180.1" cy="1488.4" rx="1.8" ry="1.0" transform="rotate(35 180.1 1488.4)"/>
<ellipse cx="162.3" cy="1408.8" rx="1.6" ry="1.0" transform="rotate(93 162.3 1408.8)"/>
<ellipse cx="194.9" cy="1448.1" rx="3.1" ry="1.7" transform="rotate(15 194.9 1448.1)"/>
<ellipse cx="187.1" cy="1414.2" rx="2.9" ry="2.0" transform="rotate(77 187.1 1414.2)"/>
</g>
<path d="M129.1,1420.5Q130.7,1421.0 134.1,1418.9M38.9,1478.3Q40.5,1476.9 42.1,1475.0M91.6,1455.9Q88.4,1457.0 86.7,1455.0M94.3,1500.3Q93.5,1498.7 89.4,1494.6M117.0,1481.5Q115.1,1480.4 114.5,1479.1M88.6,1524.1Q91.3,1525.4 92.1,1526.2M37.8,1500.9Q36.2,1505.3 37.0,1507.1M135.4,1486.5Q135.8,1486.0 140.1,1484.6M23.9,1539.7Q24.1,1541.1 27.1,1541.7M131.0,1437.8Q135.2,1433.5 135.5,1432.9M26.6,1436.2Q27.8,1436.6 29.4,1440.3M67.6,1504.7Q67.3,1508.1 65.9,1511.4M118.5,1431.5Q123.6,1432.4 125.7,1430.9M31.0,1436.5Q34.1,1437.0 36.4,1441.2M139.0,1525.5Q142.1,1522.8 142.8,1523.7M129.0,1446.7Q131.3,1445.8 135.1,1444.7M39.2,1431.9Q33.5,1433.6 31.8,1433.0M82.2,1477.3Q83.6,1480.6 86.6,1482.4M129.5,1565.3Q129.9,1563.3 133.1,1561.5M32.0,1408.4Q34.3,1409.9 35.0,1407.8M23.0,1521.9Q22.0,1520.3 24.6,1518.0M93.2,1526.9Q94.1,1524.8 92.6,1523.5M54.7,1474.9Q52.6,1475.4 51.6,1477.1M47.0,1529.3Q45.5,1532.3 47.0,1533.5M115.2,1501.7Q116.2,1503.5 118.7,1501.6M27.6,1451.4Q29.8,1452.3 35.0,1454.4M63.8,1398.8Q66.8,1397.5 67.6,1396.3M92.3,1436.3Q91.2,1432.0 92.3,1430.3M111.6,1529.6Q112.6,1530.2 116.3,1528.5M112.1,1528.4Q109.9,1528.3 109.9,1530.6M128.3,1471.6Q130.9,1472.8 131.9,1473.2M143.3,1488.4Q146.9,1487.4 147.2,1485.6M131.4,1516.6Q127.1,1513.8 124.8,1512.9M112.2,1507.7Q109.7,1510.9 108.3,1511.1M95.4,1563.7Q99.3,1561.5 102.0,1560.5M121.8,1435.8Q124.3,1437.4 128.7,1439.3M44.4,1440.9Q45.6,1441.8 47.5,1443.7M147.6,1412.3Q151.4,1411.0 154.0,1412.1M102.7,1563.4Q103.1,1560.8 101.4,1557.7M94.1,1544.3Q94.0,1540.5 97.6,1539.8M135.7,1567.7Q135.5,1566.7 133.2,1561.8M50.1,1413.7Q50.6,1416.5 50.9,1417.3M98.2,1400.0Q98.5,1401.8 96.0,1406.3M63.7,1549.3Q62.2,1550.8 58.0,1554.3M90.3,1550.8Q91.8,1555.1 91.1,1557.6M44.7,1549.9Q41.8,1548.1 41.8,1547.7M70.6,1515.0Q68.0,1516.0 66.1,1519.7M125.3,1431.2Q124.5,1433.8 121.7,1433.9M141.5,1389.0Q145.4,1386.6 147.3,1387.3M146.3,1415.8Q148.6,1411.8 152.5,1411.0M94.8,1463.6Q100.0,1465.5 102.2,1463.7M41.2,1467.3Q38.5,1464.4 36.9,1462.2M72.1,1416.4Q72.3,1414.9 73.5,1411.5M146.5,1432.0Q150.3,1435.1 152.8,1435.6M34.6,1420.3Q37.0,1422.0 37.6,1422.8M133.5,1411.8Q131.4,1413.6 129.6,1414.3M87.2,1391.3Q85.7,1388.8 84.3,1389.7M59.7,1501.4Q62.2,1498.1 61.9,1498.6M109.2,1496.7Q114.1,1497.7 116.1,1495.1M76.6,1536.3Q79.7,1534.0 79.1,1529.1M84.2,1541.1Q79.5,1539.5 76.8,1539.6M116.9,1396.9Q118.8,1394.3 121.1,1393.2M68.9,1426.0Q66.1,1429.7 64.5,1431.3M70.8,1504.3Q72.2,1498.6 73.2,1496.9M120.9,1404.1Q117.5,1403.9 113.7,1407.6M50.4,1410.6Q49.8,1411.1 45.4,1412.5M109.5,1418.7Q108.4,1422.1 107.7,1422.6M112.9,1432.5Q115.4,1431.7 116.6,1432.3M23.4,1547.4Q24.1,1546.0 23.8,1541.7M79.1,1531.2Q81.2,1531.4 84.1,1534.5M92.6,1551.7Q89.2,1550.9 86.9,1546.8M36.4,1487.0Q36.2,1489.6 38.1,1489.8M120.9,1413.5Q121.8,1410.8 122.4,1410.3M126.1,1437.1Q122.3,1441.6 122.0,1442.7M56.5,1519.8Q53.7,1516.8 51.8,1516.4M87.1,1434.4Q88.0,1439.7 89.8,1440.9M95.2,1398.3Q98.5,1398.0 101.3,1396.2M59.4,1397.1Q58.3,1397.0 55.4,1398.8M143.8,1425.2Q144.9,1422.8 149.8,1420.7M58.3,1407.9Q57.8,1402.6 57.9,1400.0M89.5,1462.5Q91.4,1459.1 90.7,1456.6M111.8,1394.5Q112.7,1396.3 111.9,1398.9M69.8,1528.0Q72.9,1527.5 74.6,1524.2M48.4,1397.6Q47.8,1398.4 49.4,1402.2M81.2,1541.1Q83.1,1540.5 84.2,1537.1M60.6,1448.7Q62.5,1447.4 60.5,1444.5M55.0,1393.6Q55.4,1392.1 57.6,1389.4M98.7,1446.2Q96.5,1445.6 93.7,1441.6M85.7,1565.0Q88.1,1568.5 87.3,1569.5M35.5,1497.7Q38.6,1496.6 39.4,1497.1M70.2,1397.7Q71.0,1394.0 75.0,1392.2M84.0,1481.8Q85.3,1480.0 86.6,1477.6M55.2,1515.7Q57.0,1517.9 59.3,1519.1M109.5,1403.0Q111.3,1402.2 113.6,1401.7M132.7,1428.3Q129.9,1428.1 129.1,1428.2M98.6,1503.4Q101.4,1501.4 102.1,1498.8M130.8,1550.2Q133.1,1553.6 137.6,1553.9M23.5,1425.4Q23.7,1420.7 24.8,1417.6M126.0,1549.2Q125.7,1552.5 128.1,1553.3M100.1,1490.9Q100.6,1494.2 101.2,1496.8M105.1,1535.8Q103.0,1537.9 102.8,1539.1M88.1,1485.9Q87.2,1487.4 89.2,1489.5M83.3,1572.5Q87.6,1573.5 88.9,1572.2M98.5,1508.0Q99.6,1507.8 101.2,1506.6M106.8,1467.3Q110.9,1467.5 113.5,1468.4M38.4,1526.2Q39.7,1530.2 39.0,1532.3M50.0,1400.6Q53.5,1401.1 55.0,1403.5M96.9,1493.5Q96.1,1495.0 93.0,1495.0M134.4,1458.3Q132.7,1458.7 128.7,1455.3M41.6,1508.0Q43.7,1506.6 46.9,1505.7M126.2,1436.2Q124.3,1435.6 124.4,1433.3M113.6,1405.5Q114.1,1401.9 116.3,1400.1M138.3,1462.1Q138.8,1462.5 139.8,1465.4M44.9,1483.5Q46.5,1482.7 51.0,1481.2M90.6,1477.7Q89.8,1475.0 92.2,1473.8M138.7,1402.4Q142.1,1404.3 143.0,1406.5M56.7,1419.5Q56.3,1417.3 55.3,1414.9M126.3,1493.9Q125.6,1493.2 122.6,1495.9M67.7,1573.5Q67.4,1571.7 63.5,1569.1M65.0,1447.0Q65.3,1450.9 62.2,1451.0M264.0,1517.3Q261.6,1518.8 258.7,1517.4M311.0,1553.0Q312.0,1556.5 311.1,1556.6M286.7,1420.0Q288.4,1418.7 288.3,1413.5M322.2,1549.6Q320.9,1553.5 323.0,1553.5M309.0,1570.5Q308.6,1564.8 307.2,1562.9M333.5,1487.1Q331.5,1485.7 326.3,1487.4M330.8,1509.4Q330.3,1511.4 328.2,1513.3M302.9,1490.1Q298.1,1489.0 295.5,1489.2M249.6,1453.1Q249.3,1448.9 250.8,1446.4M350.0,1555.1Q350.9,1557.7 353.0,1557.5M283.0,1459.7Q285.5,1459.2 286.6,1462.3M249.5,1482.1Q251.4,1479.4 250.7,1474.7M303.7,1429.0Q302.7,1431.9 305.3,1433.8M350.9,1394.9Q352.8,1390.1 355.2,1388.6M345.8,1522.0Q345.1,1519.7 344.4,1518.3M277.9,1505.2Q280.6,1506.1 281.5,1504.3M329.6,1464.9Q330.9,1463.3 334.0,1459.5M308.4,1491.0Q305.4,1494.0 304.7,1496.1M346.2,1420.1Q349.7,1422.4 350.0,1423.3M354.6,1561.0Q351.1,1564.7 349.8,1565.6M335.5,1527.0Q335.5,1529.5 337.1,1531.8M339.3,1562.9Q340.3,1560.9 340.4,1559.1M295.2,1451.2Q298.4,1450.3 298.1,1447.5M254.0,1536.2Q255.2,1534.6 258.9,1535.5M268.9,1550.6Q267.7,1552.6 264.0,1551.3M305.0,1515.8Q301.1,1513.6 300.7,1511.8M337.0,1552.7Q336.0,1550.8 333.7,1550.5M300.0,1451.9Q298.0,1447.6 300.0,1445.1M273.3,1535.4Q271.2,1533.6 270.9,1530.4M292.0,1470.2Q294.4,1472.9 298.1,1471.7M283.0,1571.4Q285.4,1572.3 286.1,1575.6M239.3,1558.1Q240.4,1562.7 240.4,1565.3M308.3,1454.8Q308.5,1453.6 309.1,1451.6M262.7,1454.7Q265.2,1458.0 267.4,1460.9M326.0,1513.9Q328.2,1517.6 329.5,1517.5M306.0,1441.5Q304.8,1437.4 306.1,1436.2M349.2,1510.0Q348.6,1509.2 346.2,1508.9M325.5,1410.2Q325.3,1411.0 326.2,1413.5M343.9,1518.3Q342.9,1517.6 341.1,1513.0M311.7,1488.7Q311.8,1488.6 314.2,1490.5M267.3,1535.5Q264.4,1539.3 265.3,1542.4M336.0,1474.4Q333.4,1470.8 334.8,1468.3M344.4,1435.9Q342.1,1440.6 340.9,1442.8M261.0,1526.0Q260.5,1521.5 261.4,1520.9M237.5,1463.4Q237.8,1464.9 241.0,1463.4M249.8,1409.5Q250.5,1408.1 249.1,1403.9M264.9,1406.8Q264.2,1408.4 266.6,1409.9M336.6,1508.9Q332.2,1511.4 329.9,1510.7M354.2,1492.4Q352.0,1496.2 353.4,1496.4M274.6,1406.8Q271.0,1405.3 269.3,1407.7M341.4,1468.1Q341.8,1465.7 343.1,1463.2M249.5,1437.1Q245.1,1439.6 242.4,1438.4M355.6,1538.1Q351.3,1537.8 349.7,1540.0M323.2,1405.1Q327.1,1404.2 327.9,1399.4M261.2,1436.9Q260.4,1441.0 256.3,1441.4M302.8,1410.9Q304.3,1405.9 306.6,1404.6M243.7,1483.2Q240.3,1484.4 238.4,1482.4M341.2,1448.4Q338.6,1446.0 336.3,1442.6M233.6,1558.5Q237.4,1560.7 238.7,1561.4M292.8,1477.1Q294.0,1476.6 291.9,1474.0M268.2,1444.4Q271.8,1444.5 275.3,1441.4M311.6,1480.1Q309.1,1482.4 306.4,1481.3M325.7,1529.0Q328.5,1529.8 329.0,1526.8M331.9,1563.3Q331.2,1567.0 333.5,1568.0M240.3,1551.3Q237.8,1547.3 237.6,1543.9M330.9,1499.8Q326.0,1498.5 323.9,1500.4M241.3,1489.8Q242.4,1487.2 243.7,1484.7M287.9,1533.6Q285.9,1535.6 282.7,1535.6M306.4,1468.4Q304.3,1473.0 304.3,1473.9M241.6,1397.3Q242.1,1392.6 239.6,1391.3M334.7,1536.7Q330.6,1534.5 328.9,1534.9M275.9,1543.7Q278.0,1544.3 282.1,1546.9M328.3,1479.5Q328.4,1478.0 332.3,1476.6M314.2,1566.4Q311.0,1564.1 309.9,1562.3M352.0,1549.7Q356.5,1553.0 357.9,1552.4M339.1,1542.8Q336.7,1541.7 332.3,1539.2M346.4,1481.1Q344.3,1480.0 342.3,1481.7M297.3,1408.7Q298.1,1408.2 302.6,1406.7M346.5,1525.5Q343.8,1527.0 343.6,1530.1M302.6,1527.2Q305.6,1527.3 307.7,1527.9M236.5,1454.3Q235.8,1452.5 234.5,1450.5M325.8,1394.1Q324.8,1395.5 327.5,1399.8M269.1,1493.0Q268.7,1492.7 272.1,1489.5M307.3,1539.1Q310.2,1540.1 309.9,1543.7M350.4,1466.7Q351.3,1465.9 351.8,1461.8M286.2,1464.5Q283.2,1462.6 283.0,1463.2M267.8,1468.5Q265.3,1469.5 264.2,1472.6M256.8,1407.9Q259.1,1408.4 259.8,1407.0M308.6,1562.1Q309.1,1559.1 310.8,1556.2M272.2,1534.7Q276.2,1537.3 277.1,1538.8M263.0,1564.8Q260.9,1562.6 260.9,1559.8M237.3,1451.3Q239.3,1451.8 237.4,1455.6M339.6,1459.4Q337.4,1461.1 336.7,1461.0M312.9,1392.9Q312.2,1393.3 308.1,1392.7M263.9,1467.3Q260.1,1469.0 257.5,1468.5M316.6,1388.6Q316.7,1387.8 318.1,1383.3M271.1,1532.4Q275.6,1532.0 277.4,1528.7M298.3,1421.9Q296.4,1423.9 296.0,1424.6M288.0,1566.8Q285.5,1570.7 284.2,1573.5M253.3,1528.0Q252.4,1527.9 250.3,1531.0M271.7,1558.5Q267.3,1561.6 266.5,1561.0M339.3,1492.6Q338.7,1494.4 335.8,1494.0M340.1,1486.0Q340.3,1482.9 340.2,1481.3M286.2,1448.3Q287.8,1447.5 291.9,1445.4M252.5,1549.4Q255.3,1549.7 256.5,1549.9M232.0,1433.1Q232.4,1430.3 234.1,1426.5M240.8,1529.9Q244.2,1531.5 244.9,1535.4M280.4,1516.0Q279.2,1516.6 282.0,1513.2M354.0,1448.9Q355.6,1445.6 354.6,1445.3M255.8,1424.3Q255.6,1428.1 256.0,1430.1M308.8,1509.1Q312.6,1508.6 314.5,1509.3M243.6,1456.7Q243.4,1453.6 240.4,1453.8M330.8,1412.9Q334.6,1412.2 335.7,1413.8M350.1,1573.4Q351.5,1574.5 354.6,1573.9M284.6,1441.5Q282.5,1440.4 280.4,1443.0M337.5,1532.1Q341.1,1529.8 342.8,1530.8M291.0,1544.5Q286.6,1542.4 285.6,1539.2M327.2,1484.7Q328.4,1484.2 330.9,1487.5M300.3,1470.9Q305.0,1470.1 306.1,1466.7M329.3,1548.2Q328.6,1546.6 330.4,1542.6" fill="none" stroke="#3a3a3a" stroke-opacity="0.22" stroke-width="0.7"/>
<line x1="150.7" y1="1384.6" x2="150.7" y2="1576.3" stroke="#e8e8e8" stroke-width="0.6" stroke-linecap="butt" stroke-dasharray="1.2 0.8"/>
<line x1="228.8" y1="1384.6" x2="228.8" y2="1576.3" stroke="#e8e8e8" stroke-width="0.6" stroke-linecap="butt" stroke-dasharray="1.2 0.8"/>
</g>
<clipPath id="sc4"><rect x="366" y="1384.6" width="339.2" height="191.7"/></clipPath>
<g clip-path="url(#sc4)">
<rect x="366" y="1384.6" width="339.2" height="191.7" fill="#9b9b9b"/>
<rect x="366" y="1384.6" width="111.6" height="191.7" fill="#a3a3a3"/>
<rect x="588.3" y="1384.6" width="116.9" height="191.7" fill="#a3a3a3"/>
<rect x="366" y="1384.6" width="111.6" height="191.7" fill="#fff" filter="url(#cellTex)"/>
<rect x="588.3" y="1384.6" width="116.9" height="191.7" fill="#fff" filter="url(#cellTex)"/>
<rect x="366" y="1384.6" width="111.6" height="191.7" fill="#fff" filter="url(#cellTex2)"/>
<rect x="588.3" y="1384.6" width="116.9" height="191.7" fill="#fff" filter="url(#cellTex2)"/>
<g fill="#fff" fill-opacity="0.16" stroke="#2a2a2a" stroke-opacity="0.28" stroke-width="0.6">
<ellipse cx="402.8" cy="1503.0" rx="1.2" ry="2.2" transform="rotate(148 402.8 1503.0)"/>
<ellipse cx="475.5" cy="1436.0" rx="1.6" ry="1.1" transform="rotate(35 475.5 1436.0)"/>
<ellipse cx="370.6" cy="1516.4" rx="1.9" ry="2.0" transform="rotate(137 370.6 1516.4)"/>
<ellipse cx="405.6" cy="1417.9" rx="1.9" ry="1.0" transform="rotate(117 405.6 1417.9)"/>
<ellipse cx="388.4" cy="1414.5" rx="3.0" ry="1.5" transform="rotate(170 388.4 1414.5)"/>
<ellipse cx="473.5" cy="1511.2" rx="1.7" ry="1.2" transform="rotate(44 473.5 1511.2)"/>
<ellipse cx="447.3" cy="1482.7" rx="1.8" ry="1.0" transform="rotate(63 447.3 1482.7)"/>
<ellipse cx="410.3" cy="1399.6" rx="1.7" ry="1.4" transform="rotate(75 410.3 1399.6)"/>
<ellipse cx="421.1" cy="1492.8" rx="2.9" ry="1.4" transform="rotate(17 421.1 1492.8)"/>
<ellipse cx="400.6" cy="1427.1" rx="2.4" ry="1.6" transform="rotate(58 400.6 1427.1)"/>
<ellipse cx="378.2" cy="1527.6" rx="2.4" ry="1.7" transform="rotate(127 378.2 1527.6)"/>
<ellipse cx="460.0" cy="1393.2" rx="1.6" ry="1.6" transform="rotate(126 460.0 1393.2)"/>
<ellipse cx="422.3" cy="1481.4" rx="1.8" ry="1.3" transform="rotate(157 422.3 1481.4)"/>
<ellipse cx="473.8" cy="1480.4" rx="2.1" ry="1.2" transform="rotate(108 473.8 1480.4)"/>
<ellipse cx="390.8" cy="1504.0" rx="1.8" ry="1.6" transform="rotate(156 390.8 1504.0)"/>
<ellipse cx="401.5" cy="1487.0" rx="1.8" ry="1.6" transform="rotate(156 401.5 1487.0)"/>
<ellipse cx="421.0" cy="1567.7" rx="2.0" ry="1.5" transform="rotate(116 421.0 1567.7)"/>
<ellipse cx="421.9" cy="1512.7" rx="1.8" ry="1.0" transform="rotate(76 421.9 1512.7)"/>
<ellipse cx="374.9" cy="1433.2" rx="2.4" ry="1.8" transform="rotate(164 374.9 1433.2)"/>
<ellipse cx="441.0" cy="1490.8" rx="1.9" ry="1.6" transform="rotate(52 441.0 1490.8)"/>
<ellipse cx="379.0" cy="1487.0" rx="2.5" ry="1.4" transform="rotate(133 379.0 1487.0)"/>
<ellipse cx="425.0" cy="1444.7" rx="2.9" ry="1.0" transform="rotate(48 425.0 1444.7)"/>
<ellipse cx="402.5" cy="1512.9" rx="1.7" ry="2.2" transform="rotate(19 402.5 1512.9)"/>
<ellipse cx="416.4" cy="1474.8" rx="2.7" ry="1.3" transform="rotate(29 416.4 1474.8)"/>
<ellipse cx="448.1" cy="1534.4" rx="2.4" ry="2.1" transform="rotate(71 448.1 1534.4)"/>
<ellipse cx="416.3" cy="1480.2" rx="1.5" ry="2.0" transform="rotate(11 416.3 1480.2)"/>
<ellipse cx="376.3" cy="1557.5" rx="2.1" ry="1.2" transform="rotate(160 376.3 1557.5)"/>
<ellipse cx="388.4" cy="1471.7" rx="1.2" ry="1.2" transform="rotate(87 388.4 1471.7)"/>
<ellipse cx="443.4" cy="1410.9" rx="2.7" ry="1.8" transform="rotate(121 443.4 1410.9)"/>
<ellipse cx="471.9" cy="1476.8" rx="1.2" ry="1.1" transform="rotate(157 471.9 1476.8)"/>
<ellipse cx="379.7" cy="1437.9" rx="2.5" ry="1.9" transform="rotate(136 379.7 1437.9)"/>
<ellipse cx="428.2" cy="1447.9" rx="3.0" ry="1.0" transform="rotate(46 428.2 1447.9)"/>
<ellipse cx="474.2" cy="1421.9" rx="2.9" ry="1.7" transform="rotate(114 474.2 1421.9)"/>
<ellipse cx="436.1" cy="1471.0" rx="2.9" ry="1.1" transform="rotate(51 436.1 1471.0)"/>
<ellipse cx="451.0" cy="1525.0" rx="2.5" ry="1.8" transform="rotate(53 451.0 1525.0)"/>
<ellipse cx="432.7" cy="1493.6" rx="2.8" ry="1.3" transform="rotate(51 432.7 1493.6)"/>
<ellipse cx="402.5" cy="1425.4" rx="2.7" ry="1.6" transform="rotate(12 402.5 1425.4)"/>
<ellipse cx="464.0" cy="1484.8" rx="2.8" ry="1.9" transform="rotate(72 464.0 1484.8)"/>
<ellipse cx="402.5" cy="1489.7" rx="3.1" ry="2.0" transform="rotate(172 402.5 1489.7)"/>
<ellipse cx="429.6" cy="1488.9" rx="1.8" ry="1.7" transform="rotate(100 429.6 1488.9)"/>
<ellipse cx="450.0" cy="1543.8" rx="3.0" ry="1.3" transform="rotate(116 450.0 1543.8)"/>
<ellipse cx="375.1" cy="1439.3" rx="2.4" ry="1.0" transform="rotate(155 375.1 1439.3)"/>
<ellipse cx="426.0" cy="1431.5" rx="2.0" ry="1.9" transform="rotate(16 426.0 1431.5)"/>
<ellipse cx="466.1" cy="1510.0" rx="2.3" ry="1.2" transform="rotate(113 466.1 1510.0)"/>
<ellipse cx="391.9" cy="1399.7" rx="2.9" ry="1.4" transform="rotate(139 391.9 1399.7)"/>
<ellipse cx="420.1" cy="1492.3" rx="2.0" ry="2.0" transform="rotate(140 420.1 1492.3)"/>
<ellipse cx="409.8" cy="1491.2" rx="1.8" ry="2.1" transform="rotate(82 409.8 1491.2)"/>
<ellipse cx="432.7" cy="1494.5" rx="1.4" ry="1.4" transform="rotate(140 432.7 1494.5)"/>
<ellipse cx="431.4" cy="1432.6" rx="1.5" ry="2.0" transform="rotate(146 431.4 1432.6)"/>
<ellipse cx="463.2" cy="1419.8" rx="2.3" ry="1.5" transform="rotate(77 463.2 1419.8)"/>
<ellipse cx="406.8" cy="1506.9" rx="2.3" ry="1.1" transform="rotate(7 406.8 1506.9)"/>
<ellipse cx="387.0" cy="1538.7" rx="2.9" ry="1.8" transform="rotate(66 387.0 1538.7)"/>
<ellipse cx="425.2" cy="1506.9" rx="1.5" ry="2.2" transform="rotate(165 425.2 1506.9)"/>
<ellipse cx="371.8" cy="1434.4" rx="1.7" ry="2.0" transform="rotate(164 371.8 1434.4)"/>
<ellipse cx="469.5" cy="1466.9" rx="2.3" ry="1.2" transform="rotate(5 469.5 1466.9)"/>
<ellipse cx="436.6" cy="1489.4" rx="3.0" ry="2.1" transform="rotate(97 436.6 1489.4)"/>
<ellipse cx="374.0" cy="1493.6" rx="3.1" ry="1.6" transform="rotate(116 374.0 1493.6)"/>
<ellipse cx="423.3" cy="1470.6" rx="2.0" ry="1.3" transform="rotate(81 423.3 1470.6)"/>
<ellipse cx="453.7" cy="1525.6" rx="1.3" ry="1.3" transform="rotate(13 453.7 1525.6)"/>
<ellipse cx="377.8" cy="1388.3" rx="2.7" ry="1.2" transform="rotate(119 377.8 1388.3)"/>
<ellipse cx="457.4" cy="1415.7" rx="1.7" ry="1.1" transform="rotate(24 457.4 1415.7)"/>
<ellipse cx="473.6" cy="1551.3" rx="3.1" ry="1.2" transform="rotate(77 473.6 1551.3)"/>
<ellipse cx="427.6" cy="1399.0" rx="2.5" ry="2.0" transform="rotate(167 427.6 1399.0)"/>
<ellipse cx="461.1" cy="1443.6" rx="2.8" ry="1.2" transform="rotate(83 461.1 1443.6)"/>
<ellipse cx="375.9" cy="1404.5" rx="1.4" ry="1.4" transform="rotate(134 375.9 1404.5)"/>
<ellipse cx="428.1" cy="1418.0" rx="1.8" ry="1.4" transform="rotate(21 428.1 1418.0)"/>
<ellipse cx="385.5" cy="1564.3" rx="2.8" ry="1.8" transform="rotate(16 385.5 1564.3)"/>
<ellipse cx="422.9" cy="1534.6" rx="2.8" ry="1.3" transform="rotate(68 422.9 1534.6)"/>
<ellipse cx="433.7" cy="1414.9" rx="2.4" ry="1.1" transform="rotate(147 433.7 1414.9)"/>
<ellipse cx="392.0" cy="1454.9" rx="2.6" ry="1.7" transform="rotate(178 392.0 1454.9)"/>
<ellipse cx="439.0" cy="1436.3" rx="1.5" ry="1.9" transform="rotate(130 439.0 1436.3)"/>
<ellipse cx="388.9" cy="1540.3" rx="2.0" ry="1.2" transform="rotate(27 388.9 1540.3)"/>
<ellipse cx="415.7" cy="1534.3" rx="2.2" ry="1.4" transform="rotate(116 415.7 1534.3)"/>
<ellipse cx="370.1" cy="1524.4" rx="2.6" ry="1.5" transform="rotate(12 370.1 1524.4)"/>
<ellipse cx="411.6" cy="1556.2" rx="3.1" ry="1.9" transform="rotate(127 411.6 1556.2)"/>
<ellipse cx="473.7" cy="1437.5" rx="3.0" ry="2.1" transform="rotate(150 473.7 1437.5)"/>
<ellipse cx="393.0" cy="1508.1" rx="1.3" ry="1.3" transform="rotate(151 393.0 1508.1)"/>
<ellipse cx="383.5" cy="1507.7" rx="1.6" ry="2.2" transform="rotate(168 383.5 1507.7)"/>
<ellipse cx="471.8" cy="1497.1" rx="3.2" ry="1.2" transform="rotate(105 471.8 1497.1)"/>
<ellipse cx="601.8" cy="1498.9" rx="3.2" ry="1.9" transform="rotate(142 601.8 1498.9)"/>
<ellipse cx="692.5" cy="1549.7" rx="2.4" ry="1.9" transform="rotate(28 692.5 1549.7)"/>
<ellipse cx="618.5" cy="1522.2" rx="2.6" ry="1.5" transform="rotate(84 618.5 1522.2)"/>
<ellipse cx="628.2" cy="1535.9" rx="2.1" ry="1.4" transform="rotate(40 628.2 1535.9)"/>
<ellipse cx="642.0" cy="1552.6" rx="1.7" ry="1.0" transform="rotate(65 642.0 1552.6)"/>
<ellipse cx="630.4" cy="1555.3" rx="2.3" ry="1.7" transform="rotate(54 630.4 1555.3)"/>
<ellipse cx="636.0" cy="1483.6" rx="2.2" ry="1.6" transform="rotate(173 636.0 1483.6)"/>
<ellipse cx="657.7" cy="1452.6" rx="2.7" ry="1.2" transform="rotate(21 657.7 1452.6)"/>
<ellipse cx="634.2" cy="1486.3" rx="2.4" ry="1.1" transform="rotate(116 634.2 1486.3)"/>
<ellipse cx="695.7" cy="1432.9" rx="2.0" ry="1.6" transform="rotate(142 695.7 1432.9)"/>
<ellipse cx="686.2" cy="1508.1" rx="2.3" ry="1.2" transform="rotate(94 686.2 1508.1)"/>
<ellipse cx="599.4" cy="1393.0" rx="1.5" ry="2.0" transform="rotate(47 599.4 1393.0)"/>
<ellipse cx="607.9" cy="1529.9" rx="2.1" ry="1.1" transform="rotate(117 607.9 1529.9)"/>
<ellipse cx="699.7" cy="1390.5" rx="3.1" ry="1.7" transform="rotate(133 699.7 1390.5)"/>
<ellipse cx="658.8" cy="1463.4" rx="1.9" ry="1.9" transform="rotate(80 658.8 1463.4)"/>
<ellipse cx="672.6" cy="1496.1" rx="2.9" ry="1.5" transform="rotate(56 672.6 1496.1)"/>
<ellipse cx="632.6" cy="1490.8" rx="2.6" ry="1.7" transform="rotate(9 632.6 1490.8)"/>
<ellipse cx="702.2" cy="1468.4" rx="1.4" ry="1.9" transform="rotate(26 702.2 1468.4)"/>
<ellipse cx="590.9" cy="1552.8" rx="2.3" ry="1.7" transform="rotate(70 590.9 1552.8)"/>
<ellipse cx="600.5" cy="1558.4" rx="1.3" ry="1.4" transform="rotate(136 600.5 1558.4)"/>
<ellipse cx="668.7" cy="1414.6" rx="2.0" ry="1.3" transform="rotate(59 668.7 1414.6)"/>
<ellipse cx="613.1" cy="1405.0" rx="2.9" ry="2.0" transform="rotate(71 613.1 1405.0)"/>
<ellipse cx="615.9" cy="1529.2" rx="2.3" ry="2.0" transform="rotate(95 615.9 1529.2)"/>
<ellipse cx="639.5" cy="1507.0" rx="2.7" ry="2.2" transform="rotate(116 639.5 1507.0)"/>
<ellipse cx="647.9" cy="1480.9" rx="1.6" ry="1.2" transform="rotate(130 647.9 1480.9)"/>
<ellipse cx="641.8" cy="1453.0" rx="2.2" ry="1.2" transform="rotate(12 641.8 1453.0)"/>
<ellipse cx="621.9" cy="1479.8" rx="2.2" ry="1.9" transform="rotate(59 621.9 1479.8)"/>
<ellipse cx="666.6" cy="1440.6" rx="3.2" ry="1.8" transform="rotate(85 666.6 1440.6)"/>
<ellipse cx="635.3" cy="1492.0" rx="1.5" ry="1.8" transform="rotate(161 635.3 1492.0)"/>
<ellipse cx="679.3" cy="1416.0" rx="2.5" ry="1.2" transform="rotate(147 679.3 1416.0)"/>
<ellipse cx="633.9" cy="1471.6" rx="2.0" ry="1.9" transform="rotate(153 633.9 1471.6)"/>
<ellipse cx="618.2" cy="1563.3" rx="1.7" ry="1.0" transform="rotate(145 618.2 1563.3)"/>
<ellipse cx="693.8" cy="1417.8" rx="1.2" ry="1.4" transform="rotate(8 693.8 1417.8)"/>
<ellipse cx="693.1" cy="1446.0" rx="1.2" ry="1.7" transform="rotate(64 693.1 1446.0)"/>
<ellipse cx="601.6" cy="1393.4" rx="2.1" ry="1.7" transform="rotate(172 601.6 1393.4)"/>
<ellipse cx="656.4" cy="1555.5" rx="2.0" ry="2.0" transform="rotate(31 656.4 1555.5)"/>
<ellipse cx="682.9" cy="1466.1" rx="2.3" ry="2.0" transform="rotate(21 682.9 1466.1)"/>
<ellipse cx="658.1" cy="1484.4" rx="2.2" ry="1.3" transform="rotate(165 658.1 1484.4)"/>
<ellipse cx="629.8" cy="1491.5" rx="1.6" ry="1.2" transform="rotate(62 629.8 1491.5)"/>
<ellipse cx="595.9" cy="1573.2" rx="1.5" ry="1.3" transform="rotate(82 595.9 1573.2)"/>
<ellipse cx="631.2" cy="1438.5" rx="1.2" ry="1.2" transform="rotate(143 631.2 1438.5)"/>
<ellipse cx="625.4" cy="1532.0" rx="2.5" ry="2.1" transform="rotate(31 625.4 1532.0)"/>
<ellipse cx="655.6" cy="1398.6" rx="1.9" ry="1.9" transform="rotate(84 655.6 1398.6)"/>
<ellipse cx="698.4" cy="1529.5" rx="1.3" ry="1.7" transform="rotate(50 698.4 1529.5)"/>
<ellipse cx="592.3" cy="1516.9" rx="2.7" ry="1.2" transform="rotate(154 592.3 1516.9)"/>
<ellipse cx="681.9" cy="1499.6" rx="2.3" ry="1.6" transform="rotate(155 681.9 1499.6)"/>
<ellipse cx="682.8" cy="1448.5" rx="2.6" ry="1.2" transform="rotate(167 682.8 1448.5)"/>
<ellipse cx="679.6" cy="1542.9" rx="3.0" ry="1.2" transform="rotate(118 679.6 1542.9)"/>
<ellipse cx="670.9" cy="1510.2" rx="2.6" ry="2.0" transform="rotate(102 670.9 1510.2)"/>
<ellipse cx="671.8" cy="1395.3" rx="2.5" ry="1.8" transform="rotate(163 671.8 1395.3)"/>
<ellipse cx="648.5" cy="1440.8" rx="3.1" ry="1.3" transform="rotate(104 648.5 1440.8)"/>
<ellipse cx="675.1" cy="1574.1" rx="1.9" ry="1.9" transform="rotate(136 675.1 1574.1)"/>
<ellipse cx="603.2" cy="1560.4" rx="1.4" ry="2.1" transform="rotate(155 603.2 1560.4)"/>
<ellipse cx="647.2" cy="1536.4" rx="1.4" ry="1.0" transform="rotate(53 647.2 1536.4)"/>
<ellipse cx="616.8" cy="1476.6" rx="3.0" ry="1.7" transform="rotate(118 616.8 1476.6)"/>
<ellipse cx="663.5" cy="1389.9" rx="2.3" ry="1.5" transform="rotate(62 663.5 1389.9)"/>
<ellipse cx="622.8" cy="1458.4" rx="2.3" ry="1.7" transform="rotate(26 622.8 1458.4)"/>
<ellipse cx="602.9" cy="1526.7" rx="1.9" ry="2.0" transform="rotate(58 602.9 1526.7)"/>
<ellipse cx="640.3" cy="1518.2" rx="1.9" ry="1.7" transform="rotate(177 640.3 1518.2)"/>
<ellipse cx="598.6" cy="1515.7" rx="2.7" ry="2.1" transform="rotate(172 598.6 1515.7)"/>
<ellipse cx="623.8" cy="1451.7" rx="2.1" ry="1.8" transform="rotate(43 623.8 1451.7)"/>
<ellipse cx="619.6" cy="1458.4" rx="1.9" ry="1.6" transform="rotate(83 619.6 1458.4)"/>
<ellipse cx="667.0" cy="1532.2" rx="2.6" ry="1.9" transform="rotate(11 667.0 1532.2)"/>
<ellipse cx="674.1" cy="1468.7" rx="2.3" ry="1.9" transform="rotate(89 674.1 1468.7)"/>
<ellipse cx="615.0" cy="1494.8" rx="1.8" ry="1.5" transform="rotate(110 615.0 1494.8)"/>
<ellipse cx="650.3" cy="1421.3" rx="2.0" ry="1.0" transform="rotate(74 650.3 1421.3)"/>
<ellipse cx="697.7" cy="1515.0" rx="1.6" ry="1.7" transform="rotate(118 697.7 1515.0)"/>
<ellipse cx="668.1" cy="1506.1" rx="1.4" ry="2.0" transform="rotate(158 668.1 1506.1)"/>
<ellipse cx="605.7" cy="1503.7" rx="1.3" ry="1.2" transform="rotate(116 605.7 1503.7)"/>
<ellipse cx="664.6" cy="1495.5" rx="2.1" ry="2.2" transform="rotate(180 664.6 1495.5)"/>
<ellipse cx="615.5" cy="1480.4" rx="1.9" ry="1.3" transform="rotate(161 615.5 1480.4)"/>
<ellipse cx="701.5" cy="1405.5" rx="1.9" ry="2.1" transform="rotate(163 701.5 1405.5)"/>
<ellipse cx="673.0" cy="1481.4" rx="2.7" ry="2.0" transform="rotate(113 673.0 1481.4)"/>
<ellipse cx="686.3" cy="1568.9" rx="1.5" ry="1.2" transform="rotate(110 686.3 1568.9)"/>
<ellipse cx="634.9" cy="1528.7" rx="2.9" ry="1.3" transform="rotate(23 634.9 1528.7)"/>
<ellipse cx="615.6" cy="1395.6" rx="2.6" ry="1.7" transform="rotate(97 615.6 1395.6)"/>
<ellipse cx="701.6" cy="1425.4" rx="3.1" ry="2.0" transform="rotate(77 701.6 1425.4)"/>
<ellipse cx="612.7" cy="1572.6" rx="3.0" ry="1.2" transform="rotate(132 612.7 1572.6)"/>
<ellipse cx="645.6" cy="1499.1" rx="2.6" ry="2.1" transform="rotate(26 645.6 1499.1)"/>
<ellipse cx="675.2" cy="1428.7" rx="1.5" ry="1.1" transform="rotate(19 675.2 1428.7)"/>
<ellipse cx="642.5" cy="1494.7" rx="2.5" ry="1.4" transform="rotate(116 642.5 1494.7)"/>
<ellipse cx="691.9" cy="1487.8" rx="2.1" ry="1.0" transform="rotate(34 691.9 1487.8)"/>
<ellipse cx="694.6" cy="1508.3" rx="2.4" ry="1.6" transform="rotate(78 694.6 1508.3)"/>
<ellipse cx="509.9" cy="1548.7" rx="1.6" ry="1.2" transform="rotate(85 509.9 1548.7)"/>
<ellipse cx="543.9" cy="1494.6" rx="3.0" ry="1.7" transform="rotate(99 543.9 1494.6)"/>
<ellipse cx="550.5" cy="1425.7" rx="2.5" ry="1.6" transform="rotate(149 550.5 1425.7)"/>
<ellipse cx="568.8" cy="1544.9" rx="2.1" ry="1.7" transform="rotate(160 568.8 1544.9)"/>
<ellipse cx="534.6" cy="1443.5" rx="2.9" ry="1.6" transform="rotate(26 534.6 1443.5)"/>
<ellipse cx="566.3" cy="1506.4" rx="2.1" ry="1.0" transform="rotate(161 566.3 1506.4)"/>
<ellipse cx="525.8" cy="1400.9" rx="1.6" ry="1.2" transform="rotate(82 525.8 1400.9)"/>
<ellipse cx="552.0" cy="1450.3" rx="2.7" ry="1.5" transform="rotate(57 552.0 1450.3)"/>
<ellipse cx="544.1" cy="1422.2" rx="3.0" ry="1.0" transform="rotate(131 544.1 1422.2)"/>
<ellipse cx="583.5" cy="1507.0" rx="2.8" ry="1.9" transform="rotate(32 583.5 1507.0)"/>
</g>
<path d="M371.1,1511.8Q373.0,1509.1 373.2,1507.8M373.2,1476.9Q369.5,1477.1 368.8,1475.1M451.9,1487.5Q449.8,1487.9 448.2,1487.3M459.1,1529.0Q460.6,1525.7 461.5,1525.8M418.8,1438.0Q421.5,1437.7 422.4,1438.5M424.5,1411.9Q423.9,1411.4 420.3,1412.0M437.0,1436.7Q437.3,1431.5 436.2,1430.2M440.9,1554.4Q442.2,1555.7 447.3,1554.2M457.2,1481.5Q457.1,1485.5 455.2,1486.2M457.1,1559.8Q453.6,1562.2 453.9,1566.5M467.4,1531.1Q468.0,1534.7 466.9,1535.2M417.9,1527.5Q415.3,1530.4 415.6,1534.8M444.0,1402.5Q441.5,1403.1 438.6,1403.3M426.6,1549.8Q426.4,1547.5 425.7,1543.1M408.7,1508.8Q411.4,1506.6 413.0,1505.5M442.7,1401.0Q440.4,1401.3 437.0,1403.5M400.6,1477.6Q398.6,1476.8 393.4,1475.6M388.5,1534.1Q387.9,1534.5 387.7,1538.9M412.4,1572.7Q414.7,1575.2 416.4,1573.7M458.6,1410.2Q459.1,1409.2 461.0,1408.1M446.9,1476.0Q447.8,1477.3 446.1,1479.9M424.6,1480.8Q423.9,1480.4 423.1,1477.6M375.5,1491.3Q373.1,1491.5 369.2,1493.2M443.6,1481.2Q440.2,1481.9 439.3,1486.6M414.6,1473.7Q416.8,1476.2 417.2,1475.7M370.2,1554.9Q374.1,1554.3 376.8,1555.7M447.2,1415.5Q447.7,1411.8 447.2,1410.6M378.9,1554.7Q375.1,1553.3 374.6,1555.2M410.3,1401.2Q413.1,1402.5 414.5,1404.7M467.0,1472.7Q464.0,1473.5 460.8,1471.9M391.9,1441.8Q390.1,1441.3 384.8,1442.0M448.7,1455.1Q450.9,1458.7 450.5,1462.3M381.6,1465.8Q385.0,1465.8 385.3,1469.4M464.0,1452.4Q464.8,1449.3 466.2,1448.7M463.2,1445.2Q468.5,1442.4 470.5,1442.2M440.8,1565.5Q441.8,1563.3 444.4,1560.7M418.1,1538.4Q419.7,1537.6 419.4,1534.9M442.2,1512.9Q443.3,1514.9 444.5,1517.8M424.6,1428.5Q428.9,1427.5 429.5,1428.3M433.3,1486.5Q433.9,1489.0 432.2,1491.0M413.6,1430.4Q416.8,1427.7 417.1,1425.8M397.0,1452.1Q398.8,1453.1 402.5,1452.5M372.1,1491.1Q369.6,1487.4 371.0,1485.0M402.8,1407.1Q407.3,1407.9 410.7,1406.3M428.6,1512.2Q428.5,1510.9 424.8,1512.0M432.9,1569.9Q435.7,1569.1 437.6,1569.6M390.5,1535.0Q391.5,1531.7 389.6,1528.7M397.9,1533.2Q400.3,1535.9 399.9,1539.9M393.2,1564.9Q391.0,1566.2 387.1,1565.7M407.9,1510.0Q411.4,1511.2 412.2,1516.4M403.6,1516.1Q399.3,1515.0 396.2,1516.0M393.5,1458.5Q394.6,1461.8 395.8,1461.8M424.1,1449.5Q420.7,1446.5 416.6,1447.3M416.6,1533.9Q419.0,1533.7 418.7,1536.1M429.2,1428.6Q429.0,1429.9 430.1,1434.3M414.8,1387.0Q410.1,1386.7 408.4,1382.5M406.8,1519.4Q407.9,1521.5 408.6,1525.4M465.5,1458.3Q469.8,1456.2 470.3,1454.7M470.7,1515.8Q473.7,1516.5 473.5,1513.4M441.3,1549.3Q440.8,1548.9 438.1,1550.4M414.7,1408.2Q411.7,1408.0 412.5,1410.6M467.6,1495.0Q472.7,1493.6 474.1,1490.9M465.7,1546.5Q469.9,1546.7 472.0,1550.0M442.9,1443.2Q440.9,1444.6 441.8,1446.7M474.3,1512.7Q470.9,1513.2 469.5,1515.9M474.2,1508.1Q475.7,1511.6 477.0,1513.5M376.3,1433.1Q375.7,1434.4 374.8,1435.9M435.4,1569.9Q434.8,1571.7 432.0,1571.5M424.8,1450.3Q424.8,1448.6 425.9,1446.4M414.3,1476.9Q417.6,1480.0 420.0,1481.4M474.4,1414.4Q470.8,1414.2 469.8,1415.2M403.7,1435.9Q408.3,1438.4 409.5,1439.8M430.4,1478.9Q430.6,1480.9 427.0,1484.6M408.8,1481.1Q413.7,1479.9 414.6,1478.5M414.9,1406.8Q417.1,1410.1 418.9,1413.4M454.5,1494.0Q456.8,1491.0 455.2,1490.1M373.9,1492.2Q376.0,1488.3 379.0,1487.7M400.4,1471.2Q400.3,1467.9 401.5,1464.4M442.3,1475.4Q438.4,1474.1 437.2,1473.6M418.9,1497.8Q420.9,1499.9 420.5,1504.7M374.1,1450.0Q377.6,1446.3 378.1,1445.3M463.4,1491.9Q464.6,1495.8 468.3,1497.9M385.2,1508.3Q386.3,1506.1 387.4,1505.4M388.3,1489.5Q388.9,1484.8 387.8,1484.1M396.3,1512.4Q394.2,1516.8 394.2,1518.4M455.7,1522.2Q455.9,1525.1 457.3,1524.9M417.3,1467.1Q413.7,1466.1 413.4,1462.0M455.9,1550.9Q456.9,1554.5 456.5,1554.3M454.8,1550.1Q452.6,1550.2 450.1,1550.7M404.8,1399.6Q403.9,1396.6 402.9,1396.5M447.2,1393.8Q445.5,1392.0 447.1,1389.8M373.2,1450.0Q378.1,1447.3 380.4,1447.2M430.3,1442.0Q427.9,1439.0 426.4,1439.7M462.9,1516.4Q465.3,1516.3 469.2,1513.5M446.2,1403.5Q449.5,1406.2 450.5,1406.2M427.6,1431.5Q428.5,1432.5 431.1,1434.5M417.1,1505.3Q414.9,1507.9 414.6,1510.4M441.4,1554.8Q441.4,1556.9 440.2,1558.0M462.5,1508.8Q458.8,1510.4 456.3,1513.8M456.6,1567.9Q456.3,1563.6 453.1,1562.1M438.1,1409.0Q436.8,1406.5 434.1,1406.8M369.7,1421.6Q366.5,1424.6 365.4,1425.7M692.8,1426.4Q694.6,1424.1 695.5,1422.9M695.7,1431.9Q696.6,1428.6 698.6,1426.6M690.4,1489.1Q685.0,1490.0 683.3,1490.3M628.7,1417.4Q627.3,1418.7 629.4,1422.5M701.4,1528.2Q699.9,1529.7 699.0,1534.1M640.1,1464.0Q641.1,1460.7 644.5,1459.3M609.4,1530.1Q610.6,1531.3 613.6,1534.9M630.2,1572.4Q633.0,1569.5 632.2,1568.1M603.3,1512.8Q600.6,1514.0 599.4,1513.9M615.9,1412.9Q618.1,1412.3 617.5,1415.7M683.4,1460.0Q685.5,1459.4 686.1,1462.5M601.0,1387.7Q601.6,1392.6 600.9,1393.7M628.9,1507.3Q628.1,1506.9 630.6,1510.4M602.7,1566.0Q602.1,1562.0 601.9,1558.6M593.6,1423.8Q597.6,1424.1 598.7,1423.1M596.8,1398.6Q596.9,1396.8 596.6,1393.3M609.4,1486.4Q606.5,1483.1 607.3,1482.9M678.4,1400.6Q678.8,1403.6 675.5,1404.8M597.8,1481.8Q600.1,1482.4 603.4,1483.6M702.1,1398.4Q698.1,1402.1 695.8,1401.8M696.9,1530.2Q696.2,1532.4 693.6,1536.8M701.6,1533.8Q703.3,1530.6 703.7,1530.4M619.7,1421.5Q621.7,1419.3 625.0,1419.9M688.4,1566.2Q688.2,1562.5 689.2,1562.1M698.4,1409.9Q695.3,1407.5 693.7,1408.7M650.9,1401.1Q649.3,1400.6 648.8,1397.3M649.9,1521.3Q652.0,1524.2 653.9,1528.1M678.0,1435.6Q675.9,1439.4 677.3,1442.8M625.4,1541.3Q626.9,1542.8 625.3,1545.9M601.9,1521.6Q601.0,1520.0 597.8,1515.3M624.6,1419.4Q621.1,1416.9 620.6,1413.2M682.8,1438.6Q682.0,1440.6 683.5,1441.9M668.3,1476.1Q666.1,1474.2 662.5,1475.5M619.8,1459.6Q621.3,1456.8 620.8,1453.2M616.3,1413.7Q614.6,1415.5 615.7,1416.8M624.7,1483.7Q622.0,1482.3 618.8,1482.5M685.5,1525.8Q684.8,1529.3 686.2,1529.5M636.3,1504.5Q639.1,1503.4 644.1,1505.4M637.4,1567.9Q640.0,1569.1 639.7,1574.1M640.7,1514.1Q636.8,1513.0 634.9,1514.0M646.2,1435.1Q647.7,1435.3 653.2,1437.5M613.2,1535.2Q616.9,1535.6 620.0,1536.4M630.6,1433.6Q629.6,1432.9 631.7,1429.8M664.8,1566.6Q665.4,1568.5 668.9,1571.2M653.1,1432.0Q650.2,1434.9 651.2,1437.0M702.0,1434.1Q702.0,1436.6 704.7,1441.4M632.7,1528.5Q631.0,1528.2 626.1,1525.1M607.2,1420.9Q605.3,1422.0 603.8,1420.1M690.0,1436.0Q692.8,1435.0 694.9,1438.0M655.7,1470.5Q654.7,1467.3 653.8,1467.4M687.8,1526.7Q688.7,1531.2 688.2,1532.8M640.8,1390.2Q641.7,1385.1 643.7,1382.9M692.6,1412.0Q690.5,1413.9 690.8,1419.4M597.8,1499.6Q599.4,1503.5 597.6,1505.0M694.9,1424.0Q698.6,1422.3 700.6,1420.8M657.3,1564.5Q659.4,1559.9 658.1,1556.7M647.8,1556.2Q647.4,1554.0 650.8,1554.5M653.3,1478.2Q656.9,1479.7 658.2,1482.7M649.2,1468.3Q645.4,1471.9 645.0,1473.6M595.1,1440.9Q596.7,1441.2 600.4,1442.9M625.7,1424.1Q629.0,1424.8 631.6,1428.3M607.1,1482.7Q609.6,1479.9 610.3,1478.7M687.4,1411.3Q690.9,1411.3 692.3,1410.5M703.0,1529.7Q705.9,1529.7 707.1,1527.8M663.4,1435.7Q661.6,1437.6 660.2,1436.4M604.0,1445.0Q602.2,1445.9 598.9,1445.9M601.8,1513.3Q599.5,1509.5 597.9,1507.1M678.7,1527.0Q676.8,1530.6 677.1,1531.6M652.1,1560.5Q649.7,1562.2 648.8,1560.9M686.1,1430.6Q684.9,1432.0 685.2,1437.2M682.8,1525.3Q683.1,1524.8 684.4,1522.3M597.6,1459.9Q598.6,1455.4 602.0,1453.8M668.2,1513.6Q666.5,1515.7 668.0,1516.7M689.4,1539.7Q689.2,1535.4 692.5,1532.7M682.0,1545.1Q686.0,1545.8 687.3,1545.0M648.8,1557.0Q646.1,1558.2 644.9,1558.3M660.1,1511.9Q662.5,1513.3 667.8,1511.8M660.7,1475.3Q663.0,1476.3 665.8,1473.5M644.5,1422.7Q644.9,1420.3 647.8,1420.3M689.6,1491.3Q693.0,1493.5 694.3,1492.0M595.8,1497.2Q594.5,1496.6 593.2,1492.5M609.5,1474.1Q608.0,1470.4 610.2,1470.0M679.0,1498.3Q677.6,1497.0 679.8,1494.3M633.9,1522.8Q635.6,1526.1 633.6,1529.9M620.5,1487.3Q618.0,1484.3 618.4,1484.6M683.0,1441.5Q683.7,1445.0 683.8,1447.1M666.4,1444.1Q662.8,1446.8 662.7,1450.6M701.7,1484.7Q697.1,1483.9 694.0,1484.2M617.2,1483.9Q618.1,1482.8 618.9,1478.7M666.1,1471.1Q666.5,1470.0 667.6,1467.2M620.6,1562.0Q623.4,1565.5 622.3,1566.1M642.5,1511.4Q644.0,1510.6 645.1,1507.9M619.8,1433.5Q620.9,1435.1 623.5,1433.8M649.2,1439.6Q648.9,1435.7 650.2,1435.0M673.9,1574.2Q672.8,1570.4 673.4,1570.5M614.0,1451.9Q617.7,1452.9 617.7,1455.5M667.8,1425.7Q670.9,1426.0 671.3,1422.8M690.5,1455.4Q688.1,1455.6 687.4,1457.3M651.2,1410.6Q651.8,1412.9 648.8,1416.2M637.4,1390.3Q637.5,1387.5 639.2,1387.1M686.0,1471.1Q686.6,1469.9 685.6,1467.3M616.9,1524.4Q615.2,1527.2 614.5,1528.9M669.3,1551.5Q670.4,1550.3 674.9,1548.2M612.6,1509.6Q610.6,1510.0 609.7,1508.7M628.8,1391.7Q629.1,1389.5 629.4,1383.9M619.4,1571.3Q616.5,1574.9 616.0,1574.8M702.1,1455.5Q704.5,1451.8 703.3,1451.0" fill="none" stroke="#3a3a3a" stroke-opacity="0.22" stroke-width="0.7"/>
<line x1="477.6" y1="1384.6" x2="477.6" y2="1576.3" stroke="#e8e8e8" stroke-width="0.6" stroke-linecap="butt" stroke-dasharray="1.2 0.8"/>
<line x1="588.3" y1="1384.6" x2="588.3" y2="1576.3" stroke="#e8e8e8" stroke-width="0.6" stroke-linecap="butt" stroke-dasharray="1.2 0.8"/>
</g>
<text transform="translate(189.6,1175.6) scale(0.875,1)" font-family='"Liberation Sans", Arial, sans-serif' font-size="18.8" font-weight="bold" text-anchor="middle" fill="#000" >Control</text>
<text transform="translate(536.5,1172.0) scale(0.875,1)" font-family='"Liberation Sans", Arial, sans-serif' font-size="18.8" font-weight="bold" text-anchor="middle" fill="#000" >Dihydroergotamine</text>
<text transform="translate(17.5,1281.0) rotate(-90) scale(0.875,1)" font-family='"Liberation Sans", Arial, sans-serif' font-size="18.8" font-weight="bold" text-anchor="middle" fill="#000" >0 hour</text>
<text transform="translate(17.5,1482.4) rotate(-90) scale(0.875,1)" font-family='"Liberation Sans", Arial, sans-serif' font-size="18.8" font-weight="bold" text-anchor="middle" fill="#000" >43 hours</text>
<line x1="1032.4" y1="1199.5" x2="1032.4" y2="1397.2" stroke="#000" stroke-width="3.7" stroke-linecap="butt" />
<line x1="1018.7" y1="1395.6" x2="1284.8" y2="1395.6" stroke="#000" stroke-width="3.3" stroke-linecap="butt" />
<line x1="1018.7" y1="1201.2" x2="1032.4" y2="1201.2" stroke="#000" stroke-width="3.3" stroke-linecap="butt" />
<text transform="translate(1013.0,1209.6) scale(0.95,1)" font-family='"Liberation Sans", Arial, sans-serif' font-size="24" font-weight="bold" text-anchor="end" fill="#000" >200</text>
<line x1="1018.7" y1="1249.8" x2="1032.4" y2="1249.8" stroke="#000" stroke-width="3.3" stroke-linecap="butt" />
<text transform="translate(1013.0,1258.2) scale(0.95,1)" font-family='"Liberation Sans", Arial, sans-serif' font-size="24" font-weight="bold" text-anchor="end" fill="#000" >150</text>
<line x1="1018.7" y1="1298.4" x2="1032.4" y2="1298.4" stroke="#000" stroke-width="3.3" stroke-linecap="butt" />
<text transform="translate(1013.0,1306.8) scale(0.95,1)" font-family='"Liberation Sans", Arial, sans-serif' font-size="24" font-weight="bold" text-anchor="end" fill="#000" >100</text>
<line x1="1018.7" y1="1347.0" x2="1032.4" y2="1347.0" stroke="#000" stroke-width="3.3" stroke-linecap="butt" />
<text transform="translate(1013.0,1355.4) scale(0.95,1)" font-family='"Liberation Sans", Arial, sans-serif' font-size="24" font-weight="bold" text-anchor="end" fill="#000" >50</text>
<line x1="1018.7" y1="1395.6" x2="1032.4" y2="1395.6" stroke="#000" stroke-width="3.3" stroke-linecap="butt" />
<text transform="translate(1013.0,1404.0) scale(0.95,1)" font-family='"Liberation Sans", Arial, sans-serif' font-size="24" font-weight="bold" text-anchor="end" fill="#000" >0</text>
<line x1="1103.9" y1="1395.6" x2="1103.9" y2="1408.8" stroke="#000" stroke-width="3.7" stroke-linecap="butt" />
<line x1="1212.6" y1="1395.6" x2="1212.6" y2="1408.8" stroke="#000" stroke-width="3.7" stroke-linecap="butt" />
<line x1="1103.0" y1="1203.9" x2="1214.0" y2="1203.9" stroke="#000" stroke-width="3.2" stroke-linecap="butt" />
<text transform="translate(1158.0,1187.9) scale(1.1,1)" font-family='"Liberation Sans", Arial, sans-serif' font-size="23.5" font-weight="bold" text-anchor="middle" fill="#000" >&lt;0.0001</text>
<text transform="translate(964.0,1299.8) scale(1.12,1) rotate(-90)" font-family='"Liberation Sans", Arial, sans-serif' font-size="20.4" font-weight="bold" text-anchor="middle" fill="#000" >Migration distance(μm)</text>
<g fill="#fff" stroke="#000" stroke-width="1">
<circle cx="1104.4" cy="1239.8" r="4.8"/>
<circle cx="1125.3" cy="1267.1" r="4.8"/>
<circle cx="1083.4" cy="1273.6" r="4.8"/>
<circle cx="1093.6" cy="1275.2" r="4.8"/>
<circle cx="1103.9" cy="1275.0" r="4.8"/>
<circle cx="1114.7" cy="1273.1" r="4.8"/>
<circle cx="1104.4" cy="1283.9" r="4.8"/>
<circle cx="1136.1" cy="1286.0" r="4.8"/>
<circle cx="1094.2" cy="1289.8" r="4.8"/>
<circle cx="1125.3" cy="1289.3" r="4.8"/>
<circle cx="1073.3" cy="1294.2" r="4.8"/>
<circle cx="1083.4" cy="1292.5" r="4.8"/>
<circle cx="1104.4" cy="1292.8" r="4.8"/>
<circle cx="1135.5" cy="1295.5" r="4.8"/>
<circle cx="1093.6" cy="1299.0" r="4.8"/>
<circle cx="1114.7" cy="1299.6" r="4.8"/>
<circle cx="1124.7" cy="1300.4" r="4.8"/>
<circle cx="1083.4" cy="1305.5" r="4.8"/>
<circle cx="1103.9" cy="1306.9" r="4.8"/>
<circle cx="1093.6" cy="1308.8" r="4.8"/>
<circle cx="1083.4" cy="1314.7" r="4.8"/>
<circle cx="1125.3" cy="1312.3" r="4.8"/>
<circle cx="1135.5" cy="1312.8" r="4.8"/>
<circle cx="1093.6" cy="1319.0" r="4.8"/>
<circle cx="1104.4" cy="1318.5" r="4.8"/>
<circle cx="1114.7" cy="1320.7" r="4.8"/>
<circle cx="1109.3" cy="1331.7" r="4.8"/>
<circle cx="1099.0" cy="1336.6" r="4.8"/>
</g>
<line x1="1068.0" y1="1296.6" x2="1131.5" y2="1296.6" stroke="#000" stroke-width="1.1" stroke-linecap="butt" />
<g fill="#6E1F24" stroke="#000" stroke-width="1">
<circle cx="1208.0" cy="1306.3" r="4.8"/>
<circle cx="1217.5" cy="1308.2" r="4.8"/>
<circle cx="1235.6" cy="1325.8" r="4.8"/>
<circle cx="1190.5" cy="1327.7" r="4.8"/>
<circle cx="1199.6" cy="1329.3" r="4.8"/>
<circle cx="1208.6" cy="1330.4" r="4.8"/>
<circle cx="1217.2" cy="1331.2" r="4.8"/>
<circle cx="1226.7" cy="1334.7" r="4.8"/>
<circle cx="1199.6" cy="1339.3" r="4.8"/>
<circle cx="1235.1" cy="1341.2" r="4.8"/>
<circle cx="1208.6" cy="1346.6" r="4.8"/>
<circle cx="1217.2" cy="1348.8" r="4.8"/>
<circle cx="1226.2" cy="1344.7" r="4.8"/>
<circle cx="1199.6" cy="1357.7" r="4.8"/>
<circle cx="1235.6" cy="1357.2" r="4.8"/>
<circle cx="1181.5" cy="1361.5" r="4.8"/>
<circle cx="1190.5" cy="1359.6" r="4.8"/>
<circle cx="1208.6" cy="1365.0" r="4.8"/>
<circle cx="1217.2" cy="1361.5" r="4.8"/>
<circle cx="1226.7" cy="1359.6" r="4.8"/>
<circle cx="1244.3" cy="1361.0" r="4.8"/>
<circle cx="1190.5" cy="1371.0" r="4.8"/>
<circle cx="1208.6" cy="1375.8" r="4.8"/>
<circle cx="1217.2" cy="1373.9" r="4.8"/>
<circle cx="1235.1" cy="1373.9" r="4.8"/>
<circle cx="1190.5" cy="1381.8" r="4.8"/>
<circle cx="1226.7" cy="1382.6" r="4.8"/>
</g>
<line x1="1176.7" y1="1350.1" x2="1249.1" y2="1350.1" stroke="#000" stroke-width="2.6" stroke-linecap="butt" />
<line x1="1212.6" y1="1329.3" x2="1212.6" y2="1371.2" stroke="#000" stroke-width="1.4" stroke-linecap="butt" />
<line x1="1198.0" y1="1329.3" x2="1232.0" y2="1329.3" stroke="#000" stroke-width="1.4" stroke-linecap="butt" />
<line x1="1198.0" y1="1371.2" x2="1232.0" y2="1371.2" stroke="#000" stroke-width="1.4" stroke-linecap="butt" />
<text transform="translate(1110.0,1429.5) scale(1.1,1) rotate(-45)" font-family='"Liberation Sans", Arial, sans-serif' font-size="23" font-weight="bold" text-anchor="end" fill="#000" >Control</text>
<text transform="translate(1218.5,1430.5) scale(1.1,1) rotate(-45)" font-family='"Liberation Sans", Arial, sans-serif' font-size="23" font-weight="bold" text-anchor="end" fill="#000" >Dihydroergotamine</text>
<rect x="25" y="1661" width="76" height="43" fill="#fbfafa"/>
<rect x="777" y="1661" width="78" height="43" fill="#fbfafa"/>
<text transform="translate(229.5,1693.7) scale(0.72,1)" font-family='"Liberation Sans", Arial, sans-serif' font-size="34" font-weight="bold" text-anchor="middle" fill="#000" stroke="#000" stroke-width="0.6">Control</text>
<text transform="translate(651.5,1690.9) scale(0.722,1)" font-family='"Liberation Sans", Arial, sans-serif' font-size="34" font-weight="bold" text-anchor="middle" fill="#000" stroke="#000" stroke-width="0.6">Dihydroergotamine</text>
<clipPath id="tw1"><rect x="26" y="1703.2" width="406" height="431.7"/></clipPath>
<g clip-path="url(#tw1)">
<rect x="26" y="1703.2" width="406" height="431.7" fill="#d5d7d4"/>
<rect x="26" y="1703.2" width="406" height="431.7" fill="#fff" filter="url(#lowf)"/>
<rect x="26" y="1703.2" width="406" height="431.7" fill="#fff" filter="url(#grainW)"/>
<rect x="26" y="1703.2" width="406" height="431.7" fill="#fff" filter="url(#grainD)"/>
<rect x="26" y="1703.2" width="406" height="431.7" fill="#fff" filter="url(#grain)"/>
<g filter="url(#blur1)">
<ellipse cx="38.9" cy="1713.8" rx="4.0" ry="2.4" fill="#7564b8" opacity="0.65" transform="rotate(166 38.9 1713.8)"/>
<ellipse cx="45.7" cy="1717.9" rx="4.4" ry="2.0" fill="#7564b8" opacity="0.71" transform="rotate(20 45.7 1717.9)"/>
<ellipse cx="40.2" cy="1717.7" rx="3.4" ry="1.9" fill="#7564b8" opacity="0.36" transform="rotate(39 40.2 1717.7)"/>
<ellipse cx="41.2" cy="1723.8" rx="3.9" ry="1.3" fill="#7564b8" opacity="0.67" transform="rotate(25 41.2 1723.8)"/>
<ellipse cx="41.3" cy="1716.2" rx="2.0" ry="2.3" fill="#7564b8" opacity="0.43" transform="rotate(39 41.3 1716.2)"/>
<ellipse cx="48.5" cy="1716.6" rx="2.7" ry="2.4" fill="#7564b8" opacity="0.57" transform="rotate(122 48.5 1716.6)"/>
<ellipse cx="44.4" cy="1724.1" rx="3.7" ry="2.5" fill="#7564b8" opacity="0.71" transform="rotate(54 44.4 1724.1)"/>
<circle cx="41.7" cy="1718.1" r="1.9" fill="#3d3088" opacity="0.8"/>
<circle cx="42.8" cy="1717.8" r="1.9" fill="#3d3088" opacity="0.8"/>
<ellipse cx="86.7" cy="1760.8" rx="3.2" ry="3.3" fill="#7564b8" opacity="0.49" transform="rotate(56 86.7 1760.8)"/>
<ellipse cx="91.1" cy="1749.6" rx="4.5" ry="2.9" fill="#7564b8" opacity="0.63" transform="rotate(10 91.1 1749.6)"/>
<ellipse cx="89.8" cy="1754.5" rx="6.2" ry="3.7" fill="#7564b8" opacity="0.36" transform="rotate(142 89.8 1754.5)"/>
<ellipse cx="84.6" cy="1759.3" rx="3.2" ry="1.9" fill="#7564b8" opacity="0.42" transform="rotate(172 84.6 1759.3)"/>
<ellipse cx="91.4" cy="1762.2" rx="6.9" ry="3.9" fill="#7564b8" opacity="0.49" transform="rotate(64 91.4 1762.2)"/>
<ellipse cx="80.6" cy="1753.4" rx="3.6" ry="3.4" fill="#7564b8" opacity="0.67" transform="rotate(155 80.6 1753.4)"/>
<ellipse cx="100.0" cy="1757.3" rx="3.6" ry="2.5" fill="#7564b8" opacity="0.59" transform="rotate(165 100.0 1757.3)"/>
<ellipse cx="82.9" cy="1763.8" rx="5.4" ry="2.5" fill="#7564b8" opacity="0.48" transform="rotate(32 82.9 1763.8)"/>
<ellipse cx="91.2" cy="1755.9" rx="6.0" ry="4.0" fill="#7564b8" opacity="0.41" transform="rotate(9 91.2 1755.9)"/>
<circle cx="92.5" cy="1754.3" r="3.0" fill="#3d3088" opacity="0.8"/>
<circle cx="86.9" cy="1755.9" r="3.0" fill="#3d3088" opacity="0.8"/>
<circle cx="84.1" cy="1751.5" r="3.0" fill="#3d3088" opacity="0.8"/>
<ellipse cx="66.3" cy="1755.5" rx="2.1" ry="2.4" fill="#7564b8" opacity="0.36" transform="rotate(89 66.3 1755.5)"/>
<ellipse cx="70.2" cy="1753.3" rx="3.8" ry="2.4" fill="#7564b8" opacity="0.60" transform="rotate(142 70.2 1753.3)"/>
<ellipse cx="71.8" cy="1756.6" rx="2.4" ry="2.3" fill="#7564b8" opacity="0.47" transform="rotate(82 71.8 1756.6)"/>
<ellipse cx="75.2" cy="1754.6" rx="4.4" ry="1.7" fill="#7564b8" opacity="0.55" transform="rotate(131 75.2 1754.6)"/>
<ellipse cx="66.9" cy="1755.0" rx="3.0" ry="1.3" fill="#7564b8" opacity="0.50" transform="rotate(178 66.9 1755.0)"/>
<ellipse cx="73.4" cy="1753.6" rx="3.2" ry="1.6" fill="#7564b8" opacity="0.39" transform="rotate(49 73.4 1753.6)"/>
<ellipse cx="70.5" cy="1748.7" rx="2.9" ry="2.2" fill="#7564b8" opacity="0.66" transform="rotate(125 70.5 1748.7)"/>
<circle cx="67.7" cy="1751.9" r="1.9" fill="#3d3088" opacity="0.8"/>
<circle cx="67.4" cy="1756.8" r="1.9" fill="#3d3088" opacity="0.8"/>
<ellipse cx="164.8" cy="1805.3" rx="10.2" ry="5.4" fill="#7564b8" opacity="0.47" transform="rotate(170 164.8 1805.3)"/>
<ellipse cx="160.4" cy="1788.2" rx="5.3" ry="4.9" fill="#7564b8" opacity="0.45" transform="rotate(121 160.4 1788.2)"/>
<ellipse cx="152.5" cy="1799.8" rx="9.4" ry="5.8" fill="#7564b8" opacity="0.49" transform="rotate(116 152.5 1799.8)"/>
<ellipse cx="165.4" cy="1781.9" rx="7.5" ry="5.9" fill="#7564b8" opacity="0.70" transform="rotate(124 165.4 1781.9)"/>
<ellipse cx="185.8" cy="1793.6" rx="8.6" ry="4.8" fill="#7564b8" opacity="0.42" transform="rotate(151 185.8 1793.6)"/>
<ellipse cx="174.7" cy="1793.1" rx="9.7" ry="5.5" fill="#7564b8" opacity="0.64" transform="rotate(31 174.7 1793.1)"/>
<ellipse cx="168.4" cy="1786.4" rx="9.5" ry="4.4" fill="#7564b8" opacity="0.60" transform="rotate(139 168.4 1786.4)"/>
<ellipse cx="158.4" cy="1787.1" rx="5.4" ry="3.5" fill="#7564b8" opacity="0.53" transform="rotate(117 158.4 1787.1)"/>
<ellipse cx="168.8" cy="1808.1" rx="9.3" ry="3.1" fill="#7564b8" opacity="0.54" transform="rotate(41 168.8 1808.1)"/>
<ellipse cx="170.4" cy="1797.9" rx="7.3" ry="3.6" fill="#7564b8" opacity="0.43" transform="rotate(6 170.4 1797.9)"/>
<ellipse cx="159.0" cy="1798.1" rx="9.2" ry="5.0" fill="#7564b8" opacity="0.45" transform="rotate(163 159.0 1798.1)"/>
<ellipse cx="174.4" cy="1796.5" rx="7.0" ry="4.4" fill="#7564b8" opacity="0.40" transform="rotate(150 174.4 1796.5)"/>
<circle cx="165.6" cy="1797.4" r="4.9" fill="#3d3088" opacity="0.8"/>
<circle cx="164.8" cy="1795.1" r="4.9" fill="#3d3088" opacity="0.8"/>
<circle cx="162.2" cy="1795.2" r="4.9" fill="#3d3088" opacity="0.8"/>
<circle cx="155.8" cy="1790.5" r="4.9" fill="#3d3088" opacity="0.8"/>
<ellipse cx="184.0" cy="1796.8" rx="8.1" ry="4.0" fill="#7564b8" opacity="0.50" transform="rotate(26 184.0 1796.8)"/>
<ellipse cx="175.1" cy="1798.1" rx="8.8" ry="4.9" fill="#7564b8" opacity="0.59" transform="rotate(63 175.1 1798.1)"/>
<ellipse cx="181.6" cy="1802.3" rx="4.5" ry="3.8" fill="#7564b8" opacity="0.60" transform="rotate(25 181.6 1802.3)"/>
<ellipse cx="172.8" cy="1793.3" rx="5.9" ry="3.4" fill="#7564b8" opacity="0.44" transform="rotate(52 172.8 1793.3)"/>
<ellipse cx="187.2" cy="1801.5" rx="8.8" ry="4.8" fill="#7564b8" opacity="0.59" transform="rotate(47 187.2 1801.5)"/>
<ellipse cx="188.4" cy="1801.6" rx="6.1" ry="3.1" fill="#7564b8" opacity="0.74" transform="rotate(89 188.4 1801.6)"/>
<ellipse cx="179.9" cy="1809.1" rx="4.6" ry="4.0" fill="#7564b8" opacity="0.53" transform="rotate(53 179.9 1809.1)"/>
<ellipse cx="183.7" cy="1791.5" rx="4.1" ry="3.7" fill="#7564b8" opacity="0.46" transform="rotate(168 183.7 1791.5)"/>
<ellipse cx="182.3" cy="1798.1" rx="5.3" ry="2.7" fill="#7564b8" opacity="0.75" transform="rotate(53 182.3 1798.1)"/>
<ellipse cx="176.1" cy="1798.2" rx="7.2" ry="3.9" fill="#7564b8" opacity="0.65" transform="rotate(21 176.1 1798.2)"/>
<circle cx="181.6" cy="1799.3" r="3.8" fill="#3d3088" opacity="0.8"/>
<circle cx="178.1" cy="1801.8" r="3.8" fill="#3d3088" opacity="0.8"/>
<circle cx="180.1" cy="1806.9" r="3.8" fill="#3d3088" opacity="0.8"/>
<ellipse cx="150.1" cy="1791.5" rx="6.2" ry="3.1" fill="#7564b8" opacity="0.36" transform="rotate(45 150.1 1791.5)"/>
<ellipse cx="144.2" cy="1793.5" rx="6.8" ry="3.0" fill="#7564b8" opacity="0.36" transform="rotate(140 144.2 1793.5)"/>
<ellipse cx="148.9" cy="1793.3" rx="6.0" ry="3.2" fill="#7564b8" opacity="0.54" transform="rotate(164 148.9 1793.3)"/>
<ellipse cx="150.9" cy="1793.7" rx="6.6" ry="2.2" fill="#7564b8" opacity="0.47" transform="rotate(149 150.9 1793.7)"/>
<ellipse cx="162.9" cy="1794.2" rx="6.0" ry="2.8" fill="#7564b8" opacity="0.46" transform="rotate(141 162.9 1794.2)"/>
<ellipse cx="156.8" cy="1789.1" rx="5.1" ry="3.0" fill="#7564b8" opacity="0.55" transform="rotate(60 156.8 1789.1)"/>
<ellipse cx="158.2" cy="1795.7" rx="6.4" ry="2.0" fill="#7564b8" opacity="0.44" transform="rotate(148 158.2 1795.7)"/>
<ellipse cx="156.4" cy="1783.7" rx="3.3" ry="3.4" fill="#7564b8" opacity="0.74" transform="rotate(180 156.4 1783.7)"/>
<ellipse cx="154.1" cy="1789.1" rx="6.6" ry="2.3" fill="#7564b8" opacity="0.61" transform="rotate(171 154.1 1789.1)"/>
<circle cx="154.2" cy="1788.9" r="3.0" fill="#3d3088" opacity="0.8"/>
<circle cx="152.8" cy="1797.0" r="3.0" fill="#3d3088" opacity="0.8"/>
<circle cx="157.0" cy="1793.8" r="3.0" fill="#3d3088" opacity="0.8"/>
<ellipse cx="197.5" cy="1812.5" rx="4.3" ry="1.4" fill="#7564b8" opacity="0.39" transform="rotate(68 197.5 1812.5)"/>
<ellipse cx="200.5" cy="1812.0" rx="4.1" ry="2.6" fill="#7564b8" opacity="0.70" transform="rotate(24 200.5 1812.0)"/>
<ellipse cx="196.5" cy="1812.7" rx="4.2" ry="2.2" fill="#7564b8" opacity="0.73" transform="rotate(67 196.5 1812.7)"/>
<ellipse cx="204.6" cy="1813.3" rx="2.9" ry="2.4" fill="#7564b8" opacity="0.55" transform="rotate(164 204.6 1813.3)"/>
<ellipse cx="194.7" cy="1809.7" rx="3.2" ry="2.3" fill="#7564b8" opacity="0.45" transform="rotate(135 194.7 1809.7)"/>
<ellipse cx="197.5" cy="1811.2" rx="3.1" ry="2.0" fill="#7564b8" opacity="0.64" transform="rotate(32 197.5 1811.2)"/>
<ellipse cx="198.2" cy="1806.3" rx="2.7" ry="2.5" fill="#7564b8" opacity="0.39" transform="rotate(22 198.2 1806.3)"/>
<circle cx="198.0" cy="1810.5" r="2.2" fill="#3d3088" opacity="0.8"/>
<circle cx="201.2" cy="1809.6" r="2.2" fill="#3d3088" opacity="0.8"/>
<ellipse cx="313.7" cy="1741.3" rx="4.6" ry="4.7" fill="#7564b8" opacity="0.37" transform="rotate(27 313.7 1741.3)"/>
<ellipse cx="328.5" cy="1727.8" rx="5.6" ry="2.8" fill="#7564b8" opacity="0.74" transform="rotate(120 328.5 1727.8)"/>
<ellipse cx="320.5" cy="1727.4" rx="7.8" ry="3.5" fill="#7564b8" opacity="0.44" transform="rotate(60 320.5 1727.4)"/>
<ellipse cx="314.3" cy="1726.7" rx="6.5" ry="2.9" fill="#7564b8" opacity="0.68" transform="rotate(117 314.3 1726.7)"/>
<ellipse cx="321.3" cy="1724.1" rx="9.1" ry="4.0" fill="#7564b8" opacity="0.59" transform="rotate(103 321.3 1724.1)"/>
<ellipse cx="318.5" cy="1724.1" rx="4.9" ry="2.6" fill="#7564b8" opacity="0.43" transform="rotate(7 318.5 1724.1)"/>
<ellipse cx="324.8" cy="1725.9" rx="8.6" ry="2.5" fill="#7564b8" opacity="0.54" transform="rotate(160 324.8 1725.9)"/>
<ellipse cx="313.8" cy="1726.0" rx="7.0" ry="2.8" fill="#7564b8" opacity="0.41" transform="rotate(29 313.8 1726.0)"/>
<ellipse cx="314.4" cy="1735.3" rx="9.2" ry="2.9" fill="#7564b8" opacity="0.45" transform="rotate(50 314.4 1735.3)"/>
<ellipse cx="321.8" cy="1735.3" rx="5.7" ry="3.9" fill="#7564b8" opacity="0.36" transform="rotate(166 321.8 1735.3)"/>
<circle cx="312.3" cy="1737.9" r="4.1" fill="#3d3088" opacity="0.8"/>
<circle cx="316.6" cy="1725.0" r="4.1" fill="#3d3088" opacity="0.8"/>
<circle cx="309.2" cy="1732.5" r="4.1" fill="#3d3088" opacity="0.8"/>
<ellipse cx="332.9" cy="1744.2" rx="4.1" ry="3.1" fill="#7564b8" opacity="0.64" transform="rotate(29 332.9 1744.2)"/>
<ellipse cx="328.2" cy="1740.6" rx="3.9" ry="1.8" fill="#7564b8" opacity="0.51" transform="rotate(175 328.2 1740.6)"/>
<ellipse cx="325.4" cy="1742.6" rx="4.8" ry="2.3" fill="#7564b8" opacity="0.64" transform="rotate(129 325.4 1742.6)"/>
<ellipse cx="329.7" cy="1742.5" rx="5.5" ry="3.6" fill="#7564b8" opacity="0.61" transform="rotate(78 329.7 1742.5)"/>
<ellipse cx="328.4" cy="1739.6" rx="3.2" ry="3.3" fill="#7564b8" opacity="0.51" transform="rotate(8 328.4 1739.6)"/>
<ellipse cx="314.9" cy="1735.6" rx="4.9" ry="2.4" fill="#7564b8" opacity="0.39" transform="rotate(13 314.9 1735.6)"/>
<ellipse cx="332.1" cy="1736.6" rx="6.5" ry="1.8" fill="#7564b8" opacity="0.45" transform="rotate(9 332.1 1736.6)"/>
<ellipse cx="326.7" cy="1740.6" rx="4.0" ry="2.5" fill="#7564b8" opacity="0.47" transform="rotate(9 326.7 1740.6)"/>
<circle cx="335.2" cy="1741.4" r="2.8" fill="#3d3088" opacity="0.8"/>
<circle cx="329.4" cy="1742.7" r="2.8" fill="#3d3088" opacity="0.8"/>
<ellipse cx="417.6" cy="1732.8" rx="2.2" ry="1.6" fill="#7564b8" opacity="0.39" transform="rotate(98 417.6 1732.8)"/>
<ellipse cx="424.2" cy="1728.8" rx="4.1" ry="1.4" fill="#7564b8" opacity="0.36" transform="rotate(97 424.2 1728.8)"/>
<ellipse cx="416.7" cy="1731.0" rx="2.9" ry="2.0" fill="#7564b8" opacity="0.64" transform="rotate(164 416.7 1731.0)"/>
<ellipse cx="419.4" cy="1733.8" rx="4.1" ry="1.4" fill="#7564b8" opacity="0.40" transform="rotate(56 419.4 1733.8)"/>
<ellipse cx="425.0" cy="1733.4" rx="4.0" ry="1.6" fill="#7564b8" opacity="0.40" transform="rotate(15 425.0 1733.4)"/>
<ellipse cx="420.6" cy="1732.0" rx="3.1" ry="1.9" fill="#7564b8" opacity="0.45" transform="rotate(11 420.6 1732.0)"/>
<ellipse cx="420.3" cy="1729.8" rx="2.5" ry="1.5" fill="#7564b8" opacity="0.50" transform="rotate(18 420.3 1729.8)"/>
<circle cx="419.2" cy="1731.5" r="1.9" fill="#3d3088" opacity="0.8"/>
<circle cx="420.6" cy="1728.3" r="1.9" fill="#3d3088" opacity="0.8"/>
<ellipse cx="282.7" cy="1774.3" rx="6.2" ry="3.1" fill="#7564b8" opacity="0.53" transform="rotate(147 282.7 1774.3)"/>
<ellipse cx="270.4" cy="1768.7" rx="6.1" ry="3.3" fill="#7564b8" opacity="0.46" transform="rotate(146 270.4 1768.7)"/>
<ellipse cx="275.2" cy="1780.3" rx="3.5" ry="2.2" fill="#7564b8" opacity="0.46" transform="rotate(122 275.2 1780.3)"/>
<ellipse cx="276.7" cy="1780.2" rx="6.3" ry="3.0" fill="#7564b8" opacity="0.36" transform="rotate(9 276.7 1780.2)"/>
<ellipse cx="280.2" cy="1781.8" rx="6.6" ry="3.9" fill="#7564b8" opacity="0.59" transform="rotate(42 280.2 1781.8)"/>
<ellipse cx="273.0" cy="1780.5" rx="4.5" ry="1.8" fill="#7564b8" opacity="0.58" transform="rotate(149 273.0 1780.5)"/>
<ellipse cx="276.8" cy="1776.4" rx="5.3" ry="2.2" fill="#7564b8" opacity="0.63" transform="rotate(80 276.8 1776.4)"/>
<ellipse cx="285.0" cy="1775.3" rx="3.7" ry="2.5" fill="#7564b8" opacity="0.72" transform="rotate(83 285.0 1775.3)"/>
<ellipse cx="272.4" cy="1780.6" rx="6.3" ry="3.9" fill="#7564b8" opacity="0.56" transform="rotate(175 272.4 1780.6)"/>
<circle cx="275.9" cy="1777.8" r="3.0" fill="#3d3088" opacity="0.8"/>
<circle cx="278.3" cy="1775.7" r="3.0" fill="#3d3088" opacity="0.8"/>
<circle cx="284.9" cy="1781.2" r="3.0" fill="#3d3088" opacity="0.8"/>
<ellipse cx="267.2" cy="1791.6" rx="4.2" ry="3.0" fill="#7564b8" opacity="0.51" transform="rotate(39 267.2 1791.6)"/>
<ellipse cx="261.7" cy="1793.1" rx="4.4" ry="2.1" fill="#7564b8" opacity="0.65" transform="rotate(43 261.7 1793.1)"/>
<ellipse cx="260.4" cy="1792.9" rx="5.8" ry="3.0" fill="#7564b8" opacity="0.69" transform="rotate(111 260.4 1792.9)"/>
<ellipse cx="260.4" cy="1791.8" rx="5.3" ry="2.3" fill="#7564b8" opacity="0.37" transform="rotate(31 260.4 1791.8)"/>
<ellipse cx="267.2" cy="1794.1" rx="5.5" ry="1.8" fill="#7564b8" opacity="0.67" transform="rotate(58 267.2 1794.1)"/>
<ellipse cx="259.0" cy="1783.4" rx="4.6" ry="2.9" fill="#7564b8" opacity="0.50" transform="rotate(2 259.0 1783.4)"/>
<ellipse cx="257.0" cy="1790.1" rx="3.2" ry="2.2" fill="#7564b8" opacity="0.48" transform="rotate(5 257.0 1790.1)"/>
<ellipse cx="260.7" cy="1794.1" rx="4.1" ry="2.7" fill="#7564b8" opacity="0.51" transform="rotate(177 260.7 1794.1)"/>
<circle cx="264.4" cy="1785.4" r="2.4" fill="#3d3088" opacity="0.8"/>
<circle cx="260.9" cy="1787.1" r="2.4" fill="#3d3088" opacity="0.8"/>
<ellipse cx="322.7" cy="1798.2" rx="2.9" ry="1.9" fill="#7564b8" opacity="0.62" transform="rotate(94 322.7 1798.2)"/>
<ellipse cx="327.7" cy="1800.7" rx="2.2" ry="1.6" fill="#7564b8" opacity="0.58" transform="rotate(137 327.7 1800.7)"/>
<ellipse cx="327.4" cy="1797.0" rx="4.3" ry="1.5" fill="#7564b8" opacity="0.64" transform="rotate(13 327.4 1797.0)"/>
<ellipse cx="328.0" cy="1795.0" rx="4.4" ry="2.4" fill="#7564b8" opacity="0.63" transform="rotate(151 328.0 1795.0)"/>
<ellipse cx="327.6" cy="1795.4" rx="2.5" ry="1.8" fill="#7564b8" opacity="0.71" transform="rotate(43 327.6 1795.4)"/>
<ellipse cx="331.6" cy="1798.9" rx="3.0" ry="1.1" fill="#7564b8" opacity="0.51" transform="rotate(32 331.6 1798.9)"/>
<ellipse cx="324.2" cy="1794.2" rx="4.3" ry="2.0" fill="#7564b8" opacity="0.50" transform="rotate(20 324.2 1794.2)"/>
<circle cx="327.0" cy="1797.3" r="1.9" fill="#3d3088" opacity="0.8"/>
<circle cx="327.5" cy="1797.7" r="1.9" fill="#3d3088" opacity="0.8"/>
<ellipse cx="355.0" cy="1813.2" rx="5.5" ry="3.0" fill="#4a3d98" opacity="0.60" transform="rotate(162 355.0 1813.2)"/>
<ellipse cx="356.1" cy="1823.3" rx="7.8" ry="2.9" fill="#4a3d98" opacity="0.38" transform="rotate(102 356.1 1823.3)"/>
<ellipse cx="357.8" cy="1805.1" rx="7.6" ry="3.4" fill="#4a3d98" opacity="0.52" transform="rotate(95 357.8 1805.1)"/>
<ellipse cx="356.0" cy="1813.1" rx="5.4" ry="3.9" fill="#4a3d98" opacity="0.74" transform="rotate(34 356.0 1813.1)"/>
<ellipse cx="354.8" cy="1816.5" rx="6.8" ry="3.9" fill="#4a3d98" opacity="0.42" transform="rotate(34 354.8 1816.5)"/>
<ellipse cx="344.7" cy="1811.1" rx="7.5" ry="4.3" fill="#4a3d98" opacity="0.37" transform="rotate(87 344.7 1811.1)"/>
<ellipse cx="359.5" cy="1802.9" rx="5.6" ry="4.6" fill="#4a3d98" opacity="0.61" transform="rotate(167 359.5 1802.9)"/>
<ellipse cx="353.1" cy="1825.1" rx="8.2" ry="3.6" fill="#4a3d98" opacity="0.39" transform="rotate(35 353.1 1825.1)"/>
<ellipse cx="353.3" cy="1818.1" rx="4.8" ry="3.9" fill="#4a3d98" opacity="0.39" transform="rotate(136 353.3 1818.1)"/>
<ellipse cx="350.9" cy="1804.9" rx="8.0" ry="4.2" fill="#4a3d98" opacity="0.72" transform="rotate(172 350.9 1804.9)"/>
<circle cx="345.0" cy="1809.0" r="3.8" fill="#3d3088" opacity="0.8"/>
<circle cx="353.2" cy="1817.0" r="3.8" fill="#3d3088" opacity="0.8"/>
<circle cx="354.2" cy="1816.9" r="3.8" fill="#3d3088" opacity="0.8"/>
<ellipse cx="375.2" cy="1835.9" rx="5.6" ry="3.2" fill="#7564b8" opacity="0.38" transform="rotate(73 375.2 1835.9)"/>
<ellipse cx="374.5" cy="1831.2" rx="3.4" ry="2.9" fill="#7564b8" opacity="0.50" transform="rotate(123 374.5 1831.2)"/>
<ellipse cx="367.2" cy="1832.7" rx="6.5" ry="1.8" fill="#7564b8" opacity="0.65" transform="rotate(130 367.2 1832.7)"/>
<ellipse cx="378.1" cy="1834.5" rx="4.8" ry="2.4" fill="#7564b8" opacity="0.64" transform="rotate(165 378.1 1834.5)"/>
<ellipse cx="376.0" cy="1834.9" rx="4.9" ry="3.1" fill="#7564b8" opacity="0.67" transform="rotate(104 376.0 1834.9)"/>
<ellipse cx="377.6" cy="1836.3" rx="6.2" ry="2.8" fill="#7564b8" opacity="0.37" transform="rotate(76 377.6 1836.3)"/>
<ellipse cx="379.3" cy="1839.0" rx="3.3" ry="2.2" fill="#7564b8" opacity="0.39" transform="rotate(86 379.3 1839.0)"/>
<ellipse cx="384.3" cy="1831.8" rx="4.4" ry="3.6" fill="#7564b8" opacity="0.39" transform="rotate(64 384.3 1831.8)"/>
<circle cx="378.9" cy="1832.1" r="2.8" fill="#3d3088" opacity="0.8"/>
<circle cx="379.0" cy="1829.7" r="2.8" fill="#3d3088" opacity="0.8"/>
<ellipse cx="399.4" cy="1832.6" rx="3.8" ry="2.0" fill="#7564b8" opacity="0.56" transform="rotate(10 399.4 1832.6)"/>
<ellipse cx="398.6" cy="1841.9" rx="3.7" ry="2.1" fill="#7564b8" opacity="0.38" transform="rotate(50 398.6 1841.9)"/>
<ellipse cx="401.9" cy="1830.8" rx="3.9" ry="1.4" fill="#7564b8" opacity="0.51" transform="rotate(140 401.9 1830.8)"/>
<ellipse cx="392.3" cy="1834.3" rx="5.1" ry="2.4" fill="#7564b8" opacity="0.60" transform="rotate(6 392.3 1834.3)"/>
<ellipse cx="402.8" cy="1833.3" rx="3.6" ry="2.8" fill="#7564b8" opacity="0.68" transform="rotate(165 402.8 1833.3)"/>
<ellipse cx="387.0" cy="1841.6" rx="4.7" ry="2.8" fill="#7564b8" opacity="0.41" transform="rotate(141 387.0 1841.6)"/>
<ellipse cx="388.2" cy="1836.9" rx="5.4" ry="1.7" fill="#7564b8" opacity="0.52" transform="rotate(49 388.2 1836.9)"/>
<circle cx="394.9" cy="1832.7" r="2.2" fill="#3d3088" opacity="0.8"/>
<circle cx="396.1" cy="1831.4" r="2.2" fill="#3d3088" opacity="0.8"/>
<ellipse cx="198.3" cy="1844.8" rx="2.6" ry="2.0" fill="#7564b8" opacity="0.71" transform="rotate(159 198.3 1844.8)"/>
<ellipse cx="196.6" cy="1842.0" rx="4.9" ry="2.9" fill="#7564b8" opacity="0.59" transform="rotate(25 196.6 1842.0)"/>
<ellipse cx="197.1" cy="1849.4" rx="5.2" ry="1.4" fill="#7564b8" opacity="0.42" transform="rotate(77 197.1 1849.4)"/>
<ellipse cx="195.8" cy="1847.3" rx="3.5" ry="2.6" fill="#7564b8" opacity="0.41" transform="rotate(93 195.8 1847.3)"/>
<ellipse cx="201.9" cy="1840.5" rx="2.7" ry="1.5" fill="#7564b8" opacity="0.61" transform="rotate(67 201.9 1840.5)"/>
<ellipse cx="193.6" cy="1844.3" rx="4.1" ry="2.9" fill="#7564b8" opacity="0.45" transform="rotate(102 193.6 1844.3)"/>
<ellipse cx="196.0" cy="1845.8" rx="4.6" ry="1.6" fill="#7564b8" opacity="0.54" transform="rotate(127 196.0 1845.8)"/>
<circle cx="200.2" cy="1841.5" r="2.2" fill="#3d3088" opacity="0.8"/>
<circle cx="194.1" cy="1842.6" r="2.2" fill="#3d3088" opacity="0.8"/>
<ellipse cx="46.7" cy="1848.2" rx="3.2" ry="2.7" fill="#7564b8" opacity="0.37" transform="rotate(69 46.7 1848.2)"/>
<ellipse cx="52.4" cy="1854.1" rx="4.1" ry="2.6" fill="#7564b8" opacity="0.61" transform="rotate(166 52.4 1854.1)"/>
<ellipse cx="49.1" cy="1857.3" rx="5.7" ry="3.6" fill="#7564b8" opacity="0.73" transform="rotate(178 49.1 1857.3)"/>
<ellipse cx="52.0" cy="1855.9" rx="6.5" ry="1.8" fill="#7564b8" opacity="0.53" transform="rotate(133 52.0 1855.9)"/>
<ellipse cx="48.5" cy="1852.5" rx="6.5" ry="2.3" fill="#7564b8" opacity="0.57" transform="rotate(149 48.5 1852.5)"/>
<ellipse cx="55.6" cy="1856.5" rx="4.9" ry="2.9" fill="#7564b8" opacity="0.43" transform="rotate(82 55.6 1856.5)"/>
<ellipse cx="54.7" cy="1854.0" rx="4.3" ry="2.0" fill="#7564b8" opacity="0.74" transform="rotate(47 54.7 1854.0)"/>
<ellipse cx="51.6" cy="1861.1" rx="5.8" ry="2.2" fill="#7564b8" opacity="0.68" transform="rotate(113 51.6 1861.1)"/>
<circle cx="49.9" cy="1855.8" r="2.8" fill="#3d3088" opacity="0.8"/>
<circle cx="52.9" cy="1855.5" r="2.8" fill="#3d3088" opacity="0.8"/>
<ellipse cx="67.6" cy="1847.6" rx="5.1" ry="1.6" fill="#7564b8" opacity="0.40" transform="rotate(9 67.6 1847.6)"/>
<ellipse cx="64.5" cy="1845.7" rx="2.4" ry="1.4" fill="#7564b8" opacity="0.68" transform="rotate(89 64.5 1845.7)"/>
<ellipse cx="65.6" cy="1849.6" rx="4.2" ry="1.5" fill="#7564b8" opacity="0.64" transform="rotate(110 65.6 1849.6)"/>
<ellipse cx="62.9" cy="1848.6" rx="5.2" ry="1.5" fill="#7564b8" opacity="0.38" transform="rotate(123 62.9 1848.6)"/>
<ellipse cx="66.0" cy="1851.0" rx="3.8" ry="2.4" fill="#7564b8" opacity="0.71" transform="rotate(130 66.0 1851.0)"/>
<ellipse cx="69.5" cy="1852.5" rx="4.9" ry="1.5" fill="#7564b8" opacity="0.65" transform="rotate(47 69.5 1852.5)"/>
<ellipse cx="64.8" cy="1850.5" rx="4.7" ry="2.2" fill="#7564b8" opacity="0.71" transform="rotate(84 64.8 1850.5)"/>
<circle cx="65.7" cy="1851.6" r="2.2" fill="#3d3088" opacity="0.8"/>
<circle cx="64.4" cy="1855.7" r="2.2" fill="#3d3088" opacity="0.8"/>
<ellipse cx="59.4" cy="1894.1" rx="4.6" ry="2.0" fill="#4a3d98" opacity="0.52" transform="rotate(112 59.4 1894.1)"/>
<ellipse cx="57.1" cy="1889.7" rx="3.8" ry="2.9" fill="#4a3d98" opacity="0.62" transform="rotate(80 57.1 1889.7)"/>
<ellipse cx="49.4" cy="1887.4" rx="3.8" ry="2.4" fill="#4a3d98" opacity="0.55" transform="rotate(97 49.4 1887.4)"/>
<ellipse cx="63.8" cy="1888.6" rx="5.8" ry="2.7" fill="#4a3d98" opacity="0.66" transform="rotate(150 63.8 1888.6)"/>
<ellipse cx="58.2" cy="1894.4" rx="4.2" ry="2.6" fill="#4a3d98" opacity="0.71" transform="rotate(48 58.2 1894.4)"/>
<ellipse cx="54.1" cy="1887.2" rx="7.0" ry="2.1" fill="#4a3d98" opacity="0.66" transform="rotate(61 54.1 1887.2)"/>
<ellipse cx="64.3" cy="1896.2" rx="6.6" ry="3.1" fill="#4a3d98" opacity="0.37" transform="rotate(175 64.3 1896.2)"/>
<ellipse cx="53.8" cy="1896.7" rx="6.1" ry="2.4" fill="#4a3d98" opacity="0.51" transform="rotate(59 53.8 1896.7)"/>
<ellipse cx="60.3" cy="1893.1" rx="6.1" ry="2.7" fill="#4a3d98" opacity="0.70" transform="rotate(11 60.3 1893.1)"/>
<circle cx="58.3" cy="1893.9" r="3.0" fill="#3d3088" opacity="0.8"/>
<circle cx="63.8" cy="1890.3" r="3.0" fill="#3d3088" opacity="0.8"/>
<circle cx="61.7" cy="1890.0" r="3.0" fill="#3d3088" opacity="0.8"/>
<ellipse cx="92.0" cy="1897.6" rx="3.3" ry="1.5" fill="#7564b8" opacity="0.58" transform="rotate(52 92.0 1897.6)"/>
<ellipse cx="92.4" cy="1898.1" rx="5.6" ry="3.2" fill="#7564b8" opacity="0.54" transform="rotate(18 92.4 1898.1)"/>
<ellipse cx="89.0" cy="1893.2" rx="4.3" ry="1.6" fill="#7564b8" opacity="0.74" transform="rotate(98 89.0 1893.2)"/>
<ellipse cx="85.9" cy="1896.3" rx="4.4" ry="3.2" fill="#7564b8" opacity="0.52" transform="rotate(38 85.9 1896.3)"/>
<ellipse cx="80.1" cy="1894.3" rx="3.8" ry="2.6" fill="#7564b8" opacity="0.72" transform="rotate(59 80.1 1894.3)"/>
<ellipse cx="90.5" cy="1890.7" rx="3.1" ry="1.6" fill="#7564b8" opacity="0.73" transform="rotate(84 90.5 1890.7)"/>
<ellipse cx="80.6" cy="1898.2" rx="4.5" ry="2.4" fill="#7564b8" opacity="0.46" transform="rotate(134 80.6 1898.2)"/>
<ellipse cx="88.6" cy="1899.5" rx="5.1" ry="2.5" fill="#7564b8" opacity="0.40" transform="rotate(36 88.6 1899.5)"/>
<circle cx="87.4" cy="1891.4" r="2.4" fill="#3d3088" opacity="0.8"/>
<circle cx="95.5" cy="1900.2" r="2.4" fill="#3d3088" opacity="0.8"/>
<ellipse cx="93.2" cy="1860.9" rx="2.7" ry="2.1" fill="#7564b8" opacity="0.60" transform="rotate(154 93.2 1860.9)"/>
<ellipse cx="94.6" cy="1864.0" rx="2.7" ry="2.3" fill="#7564b8" opacity="0.45" transform="rotate(64 94.6 1864.0)"/>
<ellipse cx="97.2" cy="1861.1" rx="2.8" ry="2.6" fill="#7564b8" opacity="0.48" transform="rotate(107 97.2 1861.1)"/>
<ellipse cx="89.1" cy="1856.1" rx="5.0" ry="2.9" fill="#7564b8" opacity="0.46" transform="rotate(60 89.1 1856.1)"/>
<ellipse cx="93.1" cy="1857.9" rx="3.7" ry="2.0" fill="#7564b8" opacity="0.74" transform="rotate(23 93.1 1857.9)"/>
<ellipse cx="88.3" cy="1854.3" rx="4.6" ry="1.4" fill="#7564b8" opacity="0.73" transform="rotate(56 88.3 1854.3)"/>
<ellipse cx="94.9" cy="1855.0" rx="3.7" ry="2.7" fill="#7564b8" opacity="0.62" transform="rotate(61 94.9 1855.0)"/>
<circle cx="91.4" cy="1856.6" r="2.2" fill="#3d3088" opacity="0.8"/>
<circle cx="91.0" cy="1856.3" r="2.2" fill="#3d3088" opacity="0.8"/>
<ellipse cx="403.2" cy="1868.0" rx="3.2" ry="1.1" fill="#7564b8" opacity="0.67" transform="rotate(139 403.2 1868.0)"/>
<ellipse cx="403.1" cy="1869.0" rx="3.3" ry="1.8" fill="#7564b8" opacity="0.40" transform="rotate(36 403.1 1869.0)"/>
<ellipse cx="408.5" cy="1868.8" rx="2.6" ry="2.3" fill="#7564b8" opacity="0.61" transform="rotate(69 408.5 1868.8)"/>
<ellipse cx="401.3" cy="1868.0" rx="2.7" ry="1.1" fill="#7564b8" opacity="0.61" transform="rotate(105 401.3 1868.0)"/>
<ellipse cx="402.5" cy="1866.2" rx="3.1" ry="1.5" fill="#7564b8" opacity="0.64" transform="rotate(67 402.5 1866.2)"/>
<ellipse cx="398.5" cy="1866.8" rx="3.1" ry="2.1" fill="#7564b8" opacity="0.37" transform="rotate(47 398.5 1866.8)"/>
<ellipse cx="403.6" cy="1868.3" rx="2.1" ry="1.1" fill="#7564b8" opacity="0.66" transform="rotate(19 403.6 1868.3)"/>
<circle cx="400.7" cy="1870.3" r="1.9" fill="#3d3088" opacity="0.8"/>
<circle cx="403.4" cy="1867.7" r="1.9" fill="#3d3088" opacity="0.8"/>
<ellipse cx="292.6" cy="1895.0" rx="5.6" ry="3.1" fill="#4a3d98" opacity="0.60" transform="rotate(150 292.6 1895.0)"/>
<ellipse cx="288.5" cy="1890.8" rx="5.8" ry="2.8" fill="#4a3d98" opacity="0.36" transform="rotate(159 288.5 1890.8)"/>
<ellipse cx="296.4" cy="1895.0" rx="3.0" ry="2.2" fill="#4a3d98" opacity="0.39" transform="rotate(66 296.4 1895.0)"/>
<ellipse cx="296.1" cy="1896.7" rx="2.8" ry="2.4" fill="#4a3d98" opacity="0.47" transform="rotate(131 296.1 1896.7)"/>
<ellipse cx="291.6" cy="1896.8" rx="6.1" ry="3.3" fill="#4a3d98" opacity="0.63" transform="rotate(39 291.6 1896.8)"/>
<ellipse cx="289.8" cy="1897.8" rx="4.2" ry="1.6" fill="#4a3d98" opacity="0.53" transform="rotate(138 289.8 1897.8)"/>
<ellipse cx="290.6" cy="1887.3" rx="5.2" ry="3.0" fill="#4a3d98" opacity="0.70" transform="rotate(165 290.6 1887.3)"/>
<ellipse cx="294.7" cy="1890.9" rx="5.1" ry="2.8" fill="#4a3d98" opacity="0.70" transform="rotate(128 294.7 1890.9)"/>
<circle cx="291.9" cy="1895.7" r="2.6" fill="#3d3088" opacity="0.8"/>
<circle cx="292.6" cy="1896.9" r="2.6" fill="#3d3088" opacity="0.8"/>
<ellipse cx="239.5" cy="1901.6" rx="3.7" ry="2.8" fill="#7564b8" opacity="0.69" transform="rotate(66 239.5 1901.6)"/>
<ellipse cx="247.8" cy="1912.0" rx="4.4" ry="2.0" fill="#7564b8" opacity="0.47" transform="rotate(1 247.8 1912.0)"/>
<ellipse cx="245.5" cy="1912.4" rx="3.4" ry="1.7" fill="#7564b8" opacity="0.57" transform="rotate(172 245.5 1912.4)"/>
<ellipse cx="244.7" cy="1905.1" rx="6.5" ry="1.9" fill="#7564b8" opacity="0.41" transform="rotate(1 244.7 1905.1)"/>
<ellipse cx="248.4" cy="1910.8" rx="5.8" ry="2.7" fill="#7564b8" opacity="0.67" transform="rotate(81 248.4 1910.8)"/>
<ellipse cx="248.1" cy="1905.6" rx="5.0" ry="2.0" fill="#7564b8" opacity="0.52" transform="rotate(79 248.1 1905.6)"/>
<ellipse cx="244.2" cy="1905.7" rx="4.1" ry="3.4" fill="#7564b8" opacity="0.38" transform="rotate(97 244.2 1905.7)"/>
<ellipse cx="244.0" cy="1915.1" rx="5.2" ry="1.9" fill="#7564b8" opacity="0.64" transform="rotate(73 244.0 1915.1)"/>
<circle cx="240.3" cy="1913.6" r="2.8" fill="#3d3088" opacity="0.8"/>
<circle cx="243.2" cy="1906.2" r="2.8" fill="#3d3088" opacity="0.8"/>
<ellipse cx="195.6" cy="1923.4" rx="4.0" ry="1.5" fill="#7564b8" opacity="0.61" transform="rotate(165 195.6 1923.4)"/>
<ellipse cx="195.7" cy="1924.3" rx="3.9" ry="2.1" fill="#7564b8" opacity="0.53" transform="rotate(27 195.7 1924.3)"/>
<ellipse cx="195.7" cy="1928.9" rx="2.6" ry="2.5" fill="#7564b8" opacity="0.45" transform="rotate(52 195.7 1928.9)"/>
<ellipse cx="199.0" cy="1926.7" rx="5.2" ry="1.8" fill="#7564b8" opacity="0.39" transform="rotate(62 199.0 1926.7)"/>
<ellipse cx="197.8" cy="1924.5" rx="3.4" ry="1.7" fill="#7564b8" opacity="0.62" transform="rotate(83 197.8 1924.5)"/>
<ellipse cx="202.2" cy="1929.2" rx="3.4" ry="2.5" fill="#7564b8" opacity="0.53" transform="rotate(157 202.2 1929.2)"/>
<ellipse cx="198.8" cy="1926.0" rx="3.3" ry="1.8" fill="#7564b8" opacity="0.68" transform="rotate(90 198.8 1926.0)"/>
<circle cx="194.9" cy="1927.2" r="2.2" fill="#3d3088" opacity="0.8"/>
<circle cx="198.0" cy="1922.6" r="2.2" fill="#3d3088" opacity="0.8"/>
<ellipse cx="174.3" cy="1920.4" rx="3.5" ry="1.7" fill="#7564b8" opacity="0.52" transform="rotate(24 174.3 1920.4)"/>
<ellipse cx="172.7" cy="1921.4" rx="2.8" ry="1.6" fill="#7564b8" opacity="0.59" transform="rotate(106 172.7 1921.4)"/>
<ellipse cx="179.9" cy="1922.0" rx="3.8" ry="1.2" fill="#7564b8" opacity="0.39" transform="rotate(136 179.9 1922.0)"/>
<ellipse cx="179.4" cy="1918.4" rx="2.2" ry="2.0" fill="#7564b8" opacity="0.46" transform="rotate(118 179.4 1918.4)"/>
<ellipse cx="181.7" cy="1919.8" rx="2.4" ry="1.6" fill="#7564b8" opacity="0.63" transform="rotate(92 181.7 1919.8)"/>
<ellipse cx="181.9" cy="1914.5" rx="3.5" ry="2.3" fill="#7564b8" opacity="0.42" transform="rotate(85 181.9 1914.5)"/>
<ellipse cx="176.7" cy="1922.9" rx="2.3" ry="2.3" fill="#7564b8" opacity="0.50" transform="rotate(141 176.7 1922.9)"/>
<circle cx="182.6" cy="1917.5" r="1.9" fill="#3d3088" opacity="0.8"/>
<circle cx="175.6" cy="1921.4" r="1.9" fill="#3d3088" opacity="0.8"/>
<ellipse cx="276.0" cy="1935.5" rx="4.6" ry="2.5" fill="#4a3d98" opacity="0.53" transform="rotate(50 276.0 1935.5)"/>
<ellipse cx="275.8" cy="1938.8" rx="5.2" ry="2.0" fill="#4a3d98" opacity="0.45" transform="rotate(111 275.8 1938.8)"/>
<ellipse cx="269.5" cy="1937.4" rx="3.8" ry="1.8" fill="#4a3d98" opacity="0.36" transform="rotate(147 269.5 1937.4)"/>
<ellipse cx="272.7" cy="1933.2" rx="3.9" ry="2.3" fill="#4a3d98" opacity="0.55" transform="rotate(162 272.7 1933.2)"/>
<ellipse cx="274.7" cy="1932.5" rx="3.4" ry="2.4" fill="#4a3d98" opacity="0.41" transform="rotate(168 274.7 1932.5)"/>
<ellipse cx="278.2" cy="1936.7" rx="3.2" ry="2.2" fill="#4a3d98" opacity="0.37" transform="rotate(40 278.2 1936.7)"/>
<ellipse cx="280.4" cy="1935.1" rx="3.1" ry="2.1" fill="#4a3d98" opacity="0.36" transform="rotate(22 280.4 1935.1)"/>
<circle cx="276.4" cy="1941.6" r="2.2" fill="#3d3088" opacity="0.8"/>
<circle cx="273.5" cy="1937.1" r="2.2" fill="#3d3088" opacity="0.8"/>
<ellipse cx="367.9" cy="1933.7" rx="9.0" ry="4.3" fill="#7564b8" opacity="0.72" transform="rotate(150 367.9 1933.7)"/>
<ellipse cx="366.2" cy="1928.0" rx="4.8" ry="3.0" fill="#7564b8" opacity="0.38" transform="rotate(32 366.2 1928.0)"/>
<ellipse cx="364.0" cy="1925.7" rx="4.1" ry="3.1" fill="#7564b8" opacity="0.69" transform="rotate(153 364.0 1925.7)"/>
<ellipse cx="364.0" cy="1922.9" rx="8.6" ry="3.8" fill="#7564b8" opacity="0.50" transform="rotate(103 364.0 1922.9)"/>
<ellipse cx="365.0" cy="1934.1" rx="5.3" ry="3.5" fill="#7564b8" opacity="0.40" transform="rotate(15 365.0 1934.1)"/>
<ellipse cx="365.4" cy="1938.3" rx="8.8" ry="3.6" fill="#7564b8" opacity="0.68" transform="rotate(134 365.4 1938.3)"/>
<ellipse cx="360.9" cy="1929.6" rx="6.0" ry="3.1" fill="#7564b8" opacity="0.60" transform="rotate(154 360.9 1929.6)"/>
<ellipse cx="366.6" cy="1927.7" rx="4.7" ry="2.3" fill="#7564b8" opacity="0.58" transform="rotate(41 366.6 1927.7)"/>
<ellipse cx="370.4" cy="1932.7" rx="5.1" ry="2.8" fill="#7564b8" opacity="0.62" transform="rotate(105 370.4 1932.7)"/>
<ellipse cx="363.4" cy="1942.0" rx="5.0" ry="4.8" fill="#7564b8" opacity="0.40" transform="rotate(107 363.4 1942.0)"/>
<circle cx="363.6" cy="1926.7" r="3.8" fill="#3d3088" opacity="0.8"/>
<circle cx="357.7" cy="1933.1" r="3.8" fill="#3d3088" opacity="0.8"/>
<circle cx="361.3" cy="1928.3" r="3.8" fill="#3d3088" opacity="0.8"/>
<ellipse cx="72.9" cy="1935.1" rx="3.8" ry="2.2" fill="#7564b8" opacity="0.39" transform="rotate(134 72.9 1935.1)"/>
<ellipse cx="68.5" cy="1937.4" rx="4.0" ry="2.7" fill="#7564b8" opacity="0.47" transform="rotate(101 68.5 1937.4)"/>
<ellipse cx="66.7" cy="1930.8" rx="3.3" ry="1.8" fill="#7564b8" opacity="0.54" transform="rotate(108 66.7 1930.8)"/>
<ellipse cx="69.6" cy="1932.5" rx="3.7" ry="2.3" fill="#7564b8" opacity="0.43" transform="rotate(18 69.6 1932.5)"/>
<ellipse cx="71.5" cy="1933.7" rx="3.9" ry="1.8" fill="#7564b8" opacity="0.36" transform="rotate(49 71.5 1933.7)"/>
<ellipse cx="72.7" cy="1937.1" rx="5.1" ry="1.5" fill="#7564b8" opacity="0.49" transform="rotate(125 72.7 1937.1)"/>
<ellipse cx="70.3" cy="1933.5" rx="3.1" ry="1.8" fill="#7564b8" opacity="0.71" transform="rotate(80 70.3 1933.5)"/>
<circle cx="70.7" cy="1936.6" r="2.2" fill="#3d3088" opacity="0.8"/>
<circle cx="69.5" cy="1934.1" r="2.2" fill="#3d3088" opacity="0.8"/>
<ellipse cx="96.4" cy="1941.0" rx="3.8" ry="2.2" fill="#7564b8" opacity="0.66" transform="rotate(172 96.4 1941.0)"/>
<ellipse cx="98.4" cy="1945.3" rx="3.9" ry="2.4" fill="#7564b8" opacity="0.48" transform="rotate(123 98.4 1945.3)"/>
<ellipse cx="95.9" cy="1949.6" rx="4.2" ry="2.5" fill="#7564b8" opacity="0.72" transform="rotate(127 95.9 1949.6)"/>
<ellipse cx="97.8" cy="1940.5" rx="3.1" ry="2.4" fill="#7564b8" opacity="0.60" transform="rotate(11 97.8 1940.5)"/>
<ellipse cx="99.3" cy="1943.4" rx="3.9" ry="2.2" fill="#7564b8" opacity="0.64" transform="rotate(138 99.3 1943.4)"/>
<ellipse cx="90.9" cy="1947.7" rx="3.7" ry="2.3" fill="#7564b8" opacity="0.75" transform="rotate(58 90.9 1947.7)"/>
<ellipse cx="97.2" cy="1937.2" rx="2.7" ry="2.6" fill="#7564b8" opacity="0.61" transform="rotate(97 97.2 1937.2)"/>
<circle cx="100.3" cy="1941.6" r="2.2" fill="#3d3088" opacity="0.8"/>
<circle cx="100.8" cy="1948.0" r="2.2" fill="#3d3088" opacity="0.8"/>
<ellipse cx="109.2" cy="1927.9" rx="4.4" ry="2.2" fill="#7564b8" opacity="0.68" transform="rotate(12 109.2 1927.9)"/>
<ellipse cx="106.7" cy="1934.0" rx="4.4" ry="2.2" fill="#7564b8" opacity="0.48" transform="rotate(139 106.7 1934.0)"/>
<ellipse cx="108.3" cy="1930.1" rx="3.6" ry="2.3" fill="#7564b8" opacity="0.64" transform="rotate(175 108.3 1930.1)"/>
<ellipse cx="109.2" cy="1931.2" rx="3.6" ry="1.9" fill="#7564b8" opacity="0.37" transform="rotate(173 109.2 1931.2)"/>
<ellipse cx="111.2" cy="1934.2" rx="2.1" ry="1.4" fill="#7564b8" opacity="0.72" transform="rotate(50 111.2 1934.2)"/>
<ellipse cx="111.0" cy="1936.2" rx="2.6" ry="2.0" fill="#7564b8" opacity="0.58" transform="rotate(161 111.0 1936.2)"/>
<ellipse cx="110.0" cy="1931.4" rx="2.6" ry="1.6" fill="#7564b8" opacity="0.35" transform="rotate(22 110.0 1931.4)"/>
<circle cx="113.6" cy="1932.3" r="1.9" fill="#3d3088" opacity="0.8"/>
<circle cx="113.2" cy="1926.6" r="1.9" fill="#3d3088" opacity="0.8"/>
<ellipse cx="227.2" cy="1966.6" rx="4.1" ry="3.0" fill="#7564b8" opacity="0.54" transform="rotate(21 227.2 1966.6)"/>
<ellipse cx="225.7" cy="1963.4" rx="3.5" ry="3.3" fill="#7564b8" opacity="0.39" transform="rotate(79 225.7 1963.4)"/>
<ellipse cx="229.8" cy="1958.3" rx="6.3" ry="2.3" fill="#7564b8" opacity="0.73" transform="rotate(8 229.8 1958.3)"/>
<ellipse cx="233.0" cy="1961.0" rx="3.0" ry="2.2" fill="#7564b8" opacity="0.75" transform="rotate(129 233.0 1961.0)"/>
<ellipse cx="228.6" cy="1955.7" rx="3.0" ry="2.3" fill="#7564b8" opacity="0.54" transform="rotate(164 228.6 1955.7)"/>
<ellipse cx="231.4" cy="1962.5" rx="6.7" ry="2.8" fill="#7564b8" opacity="0.47" transform="rotate(15 231.4 1962.5)"/>
<ellipse cx="224.4" cy="1966.3" rx="4.7" ry="2.3" fill="#7564b8" opacity="0.73" transform="rotate(86 224.4 1966.3)"/>
<ellipse cx="226.5" cy="1971.2" rx="3.9" ry="2.6" fill="#7564b8" opacity="0.39" transform="rotate(43 226.5 1971.2)"/>
<circle cx="233.2" cy="1963.8" r="2.8" fill="#3d3088" opacity="0.8"/>
<circle cx="225.1" cy="1963.3" r="2.8" fill="#3d3088" opacity="0.8"/>
<ellipse cx="218.4" cy="1967.8" rx="3.2" ry="1.5" fill="#7564b8" opacity="0.36" transform="rotate(22 218.4 1967.8)"/>
<ellipse cx="219.9" cy="1971.6" rx="4.1" ry="1.7" fill="#7564b8" opacity="0.44" transform="rotate(56 219.9 1971.6)"/>
<ellipse cx="218.0" cy="1971.5" rx="4.5" ry="2.0" fill="#7564b8" opacity="0.38" transform="rotate(15 218.0 1971.5)"/>
<ellipse cx="223.6" cy="1968.6" rx="3.0" ry="2.3" fill="#7564b8" opacity="0.37" transform="rotate(160 223.6 1968.6)"/>
<ellipse cx="224.8" cy="1969.5" rx="2.3" ry="1.9" fill="#7564b8" opacity="0.68" transform="rotate(107 224.8 1969.5)"/>
<ellipse cx="220.9" cy="1973.7" rx="2.4" ry="2.0" fill="#7564b8" opacity="0.42" transform="rotate(80 220.9 1973.7)"/>
<ellipse cx="225.9" cy="1967.0" rx="3.6" ry="2.4" fill="#7564b8" opacity="0.40" transform="rotate(171 225.9 1967.0)"/>
<circle cx="221.9" cy="1969.6" r="2.1" fill="#3d3088" opacity="0.8"/>
<circle cx="221.6" cy="1970.2" r="2.1" fill="#3d3088" opacity="0.8"/>
<ellipse cx="163.7" cy="1966.5" rx="5.2" ry="2.7" fill="#7564b8" opacity="0.72" transform="rotate(131 163.7 1966.5)"/>
<ellipse cx="163.1" cy="1968.2" rx="4.4" ry="2.8" fill="#7564b8" opacity="0.62" transform="rotate(7 163.1 1968.2)"/>
<ellipse cx="158.6" cy="1969.6" rx="2.9" ry="1.7" fill="#7564b8" opacity="0.56" transform="rotate(67 158.6 1969.6)"/>
<ellipse cx="160.1" cy="1970.6" rx="5.2" ry="2.3" fill="#7564b8" opacity="0.65" transform="rotate(168 160.1 1970.6)"/>
<ellipse cx="167.8" cy="1968.3" rx="2.7" ry="1.7" fill="#7564b8" opacity="0.65" transform="rotate(136 167.8 1968.3)"/>
<ellipse cx="157.4" cy="1964.2" rx="4.6" ry="2.1" fill="#7564b8" opacity="0.43" transform="rotate(40 157.4 1964.2)"/>
<ellipse cx="161.3" cy="1967.5" rx="5.3" ry="2.9" fill="#7564b8" opacity="0.49" transform="rotate(74 161.3 1967.5)"/>
<circle cx="159.8" cy="1970.7" r="2.2" fill="#3d3088" opacity="0.8"/>
<circle cx="159.1" cy="1967.0" r="2.2" fill="#3d3088" opacity="0.8"/>
<ellipse cx="143.3" cy="1974.5" rx="3.4" ry="2.8" fill="#7564b8" opacity="0.44" transform="rotate(115 143.3 1974.5)"/>
<ellipse cx="132.5" cy="1985.0" rx="4.4" ry="3.1" fill="#7564b8" opacity="0.55" transform="rotate(88 132.5 1985.0)"/>
<ellipse cx="132.8" cy="1976.9" rx="7.0" ry="2.8" fill="#7564b8" opacity="0.67" transform="rotate(167 132.8 1976.9)"/>
<ellipse cx="130.5" cy="1977.4" rx="6.4" ry="3.4" fill="#7564b8" opacity="0.43" transform="rotate(75 130.5 1977.4)"/>
<ellipse cx="135.6" cy="1982.7" rx="5.9" ry="2.5" fill="#7564b8" opacity="0.45" transform="rotate(5 135.6 1982.7)"/>
<ellipse cx="142.2" cy="1982.9" rx="4.6" ry="2.8" fill="#7564b8" opacity="0.62" transform="rotate(163 142.2 1982.9)"/>
<ellipse cx="134.1" cy="1978.6" rx="7.2" ry="2.2" fill="#7564b8" opacity="0.58" transform="rotate(116 134.1 1978.6)"/>
<ellipse cx="132.8" cy="1991.6" rx="5.6" ry="3.4" fill="#7564b8" opacity="0.41" transform="rotate(150 132.8 1991.6)"/>
<ellipse cx="133.6" cy="1988.3" rx="6.1" ry="2.5" fill="#7564b8" opacity="0.46" transform="rotate(59 133.6 1988.3)"/>
<circle cx="139.4" cy="1981.2" r="3.0" fill="#3d3088" opacity="0.8"/>
<circle cx="131.3" cy="1982.5" r="3.0" fill="#3d3088" opacity="0.8"/>
<circle cx="133.8" cy="1979.9" r="3.0" fill="#3d3088" opacity="0.8"/>
<ellipse cx="39.9" cy="1964.9" rx="5.2" ry="2.9" fill="#7564b8" opacity="0.74" transform="rotate(112 39.9 1964.9)"/>
<ellipse cx="45.9" cy="1953.3" rx="4.9" ry="2.6" fill="#7564b8" opacity="0.54" transform="rotate(67 45.9 1953.3)"/>
<ellipse cx="38.3" cy="1958.0" rx="3.5" ry="3.7" fill="#7564b8" opacity="0.56" transform="rotate(135 38.3 1958.0)"/>
<ellipse cx="32.2" cy="1962.1" rx="5.2" ry="1.9" fill="#7564b8" opacity="0.40" transform="rotate(132 32.2 1962.1)"/>
<ellipse cx="36.6" cy="1965.8" rx="6.1" ry="3.2" fill="#7564b8" opacity="0.66" transform="rotate(70 36.6 1965.8)"/>
<ellipse cx="43.1" cy="1969.5" rx="3.8" ry="3.1" fill="#7564b8" opacity="0.63" transform="rotate(49 43.1 1969.5)"/>
<ellipse cx="43.9" cy="1964.0" rx="6.0" ry="2.9" fill="#7564b8" opacity="0.74" transform="rotate(41 43.9 1964.0)"/>
<ellipse cx="37.4" cy="1959.1" rx="5.2" ry="2.3" fill="#7564b8" opacity="0.44" transform="rotate(99 37.4 1959.1)"/>
<circle cx="33.1" cy="1960.0" r="2.8" fill="#3d3088" opacity="0.8"/>
<circle cx="35.3" cy="1961.9" r="2.8" fill="#3d3088" opacity="0.8"/>
<ellipse cx="55.7" cy="1965.4" rx="3.9" ry="1.9" fill="#7564b8" opacity="0.62" transform="rotate(70 55.7 1965.4)"/>
<ellipse cx="61.2" cy="1970.4" rx="3.8" ry="2.7" fill="#7564b8" opacity="0.61" transform="rotate(88 61.2 1970.4)"/>
<ellipse cx="60.3" cy="1966.7" rx="3.7" ry="2.8" fill="#7564b8" opacity="0.62" transform="rotate(77 60.3 1966.7)"/>
<ellipse cx="59.6" cy="1969.3" rx="4.3" ry="3.0" fill="#7564b8" opacity="0.70" transform="rotate(35 59.6 1969.3)"/>
<ellipse cx="60.6" cy="1965.4" rx="5.6" ry="2.0" fill="#7564b8" opacity="0.62" transform="rotate(116 60.6 1965.4)"/>
<ellipse cx="62.4" cy="1969.7" rx="3.9" ry="1.7" fill="#7564b8" opacity="0.62" transform="rotate(13 62.4 1969.7)"/>
<ellipse cx="60.1" cy="1968.1" rx="3.2" ry="3.2" fill="#7564b8" opacity="0.55" transform="rotate(136 60.1 1968.1)"/>
<ellipse cx="57.2" cy="1972.3" rx="3.8" ry="3.2" fill="#7564b8" opacity="0.43" transform="rotate(163 57.2 1972.3)"/>
<circle cx="61.6" cy="1967.4" r="2.4" fill="#3d3088" opacity="0.8"/>
<circle cx="58.5" cy="1973.8" r="2.4" fill="#3d3088" opacity="0.8"/>
<ellipse cx="47.4" cy="1990.4" rx="3.8" ry="2.9" fill="#7564b8" opacity="0.73" transform="rotate(106 47.4 1990.4)"/>
<ellipse cx="44.2" cy="1996.2" rx="5.4" ry="1.8" fill="#7564b8" opacity="0.35" transform="rotate(67 44.2 1996.2)"/>
<ellipse cx="42.2" cy="1999.0" rx="3.3" ry="2.8" fill="#7564b8" opacity="0.62" transform="rotate(57 42.2 1999.0)"/>
<ellipse cx="37.6" cy="1991.1" rx="6.0" ry="2.9" fill="#7564b8" opacity="0.61" transform="rotate(101 37.6 1991.1)"/>
<ellipse cx="43.3" cy="1992.0" rx="3.4" ry="3.5" fill="#7564b8" opacity="0.68" transform="rotate(1 43.3 1992.0)"/>
<ellipse cx="47.3" cy="1990.0" rx="6.2" ry="3.1" fill="#7564b8" opacity="0.50" transform="rotate(20 47.3 1990.0)"/>
<ellipse cx="43.1" cy="1986.7" rx="4.8" ry="2.2" fill="#7564b8" opacity="0.50" transform="rotate(168 43.1 1986.7)"/>
<ellipse cx="39.4" cy="1994.5" rx="6.7" ry="3.7" fill="#7564b8" opacity="0.42" transform="rotate(35 39.4 1994.5)"/>
<circle cx="42.1" cy="1991.0" r="2.8" fill="#3d3088" opacity="0.8"/>
<circle cx="38.2" cy="1994.5" r="2.8" fill="#3d3088" opacity="0.8"/>
<ellipse cx="318.1" cy="1984.8" rx="3.8" ry="2.1" fill="#7564b8" opacity="0.57" transform="rotate(77 318.1 1984.8)"/>
<ellipse cx="320.9" cy="1977.3" rx="6.4" ry="2.2" fill="#7564b8" opacity="0.49" transform="rotate(19 320.9 1977.3)"/>
<ellipse cx="313.9" cy="1990.4" rx="4.4" ry="3.4" fill="#7564b8" opacity="0.74" transform="rotate(125 313.9 1990.4)"/>
<ellipse cx="320.9" cy="1983.2" rx="3.6" ry="2.2" fill="#7564b8" opacity="0.48" transform="rotate(30 320.9 1983.2)"/>
<ellipse cx="316.6" cy="1973.9" rx="4.1" ry="2.2" fill="#7564b8" opacity="0.41" transform="rotate(21 316.6 1973.9)"/>
<ellipse cx="317.3" cy="1979.5" rx="5.0" ry="2.2" fill="#7564b8" opacity="0.66" transform="rotate(48 317.3 1979.5)"/>
<ellipse cx="325.7" cy="1970.3" rx="6.5" ry="2.2" fill="#7564b8" opacity="0.72" transform="rotate(85 325.7 1970.3)"/>
<ellipse cx="322.7" cy="1975.5" rx="5.0" ry="2.2" fill="#7564b8" opacity="0.65" transform="rotate(66 322.7 1975.5)"/>
<circle cx="322.2" cy="1975.9" r="2.8" fill="#3d3088" opacity="0.8"/>
<circle cx="318.3" cy="1979.2" r="2.8" fill="#3d3088" opacity="0.8"/>
<ellipse cx="330.4" cy="1998.4" rx="4.4" ry="2.9" fill="#7564b8" opacity="0.35" transform="rotate(84 330.4 1998.4)"/>
<ellipse cx="339.6" cy="1986.8" rx="5.6" ry="3.1" fill="#7564b8" opacity="0.59" transform="rotate(180 339.6 1986.8)"/>
<ellipse cx="332.2" cy="1989.0" rx="4.9" ry="3.6" fill="#7564b8" opacity="0.57" transform="rotate(108 332.2 1989.0)"/>
<ellipse cx="328.6" cy="2000.0" rx="4.8" ry="3.6" fill="#7564b8" opacity="0.75" transform="rotate(179 328.6 2000.0)"/>
<ellipse cx="332.2" cy="1993.4" rx="3.3" ry="2.4" fill="#7564b8" opacity="0.68" transform="rotate(100 332.2 1993.4)"/>
<ellipse cx="330.8" cy="1995.9" rx="3.9" ry="2.0" fill="#7564b8" opacity="0.41" transform="rotate(134 330.8 1995.9)"/>
<ellipse cx="331.9" cy="1996.3" rx="5.3" ry="2.0" fill="#7564b8" opacity="0.68" transform="rotate(117 331.9 1996.3)"/>
<ellipse cx="336.1" cy="1988.8" rx="5.7" ry="2.2" fill="#7564b8" opacity="0.52" transform="rotate(68 336.1 1988.8)"/>
<circle cx="326.1" cy="1997.7" r="2.8" fill="#3d3088" opacity="0.8"/>
<circle cx="326.3" cy="1995.8" r="2.8" fill="#3d3088" opacity="0.8"/>
<ellipse cx="320.8" cy="2004.6" rx="3.3" ry="2.5" fill="#7564b8" opacity="0.67" transform="rotate(42 320.8 2004.6)"/>
<ellipse cx="321.9" cy="2009.5" rx="4.1" ry="2.2" fill="#7564b8" opacity="0.72" transform="rotate(109 321.9 2009.5)"/>
<ellipse cx="321.3" cy="2009.3" rx="4.3" ry="1.7" fill="#7564b8" opacity="0.51" transform="rotate(12 321.3 2009.3)"/>
<ellipse cx="317.6" cy="1999.2" rx="5.5" ry="2.5" fill="#7564b8" opacity="0.50" transform="rotate(101 317.6 1999.2)"/>
<ellipse cx="319.7" cy="2004.9" rx="4.4" ry="2.4" fill="#7564b8" opacity="0.43" transform="rotate(80 319.7 2004.9)"/>
<ellipse cx="324.8" cy="2001.0" rx="3.7" ry="1.9" fill="#7564b8" opacity="0.60" transform="rotate(99 324.8 2001.0)"/>
<ellipse cx="320.6" cy="2010.0" rx="3.9" ry="2.6" fill="#7564b8" opacity="0.70" transform="rotate(67 320.6 2010.0)"/>
<ellipse cx="317.1" cy="2004.6" rx="4.8" ry="1.9" fill="#7564b8" opacity="0.45" transform="rotate(166 317.1 2004.6)"/>
<circle cx="324.2" cy="2008.7" r="2.4" fill="#3d3088" opacity="0.8"/>
<circle cx="321.8" cy="2008.6" r="2.4" fill="#3d3088" opacity="0.8"/>
<ellipse cx="331.2" cy="2015.6" rx="3.2" ry="3.2" fill="#7564b8" opacity="0.37" transform="rotate(26 331.2 2015.6)"/>
<ellipse cx="333.6" cy="2011.0" rx="3.2" ry="2.9" fill="#7564b8" opacity="0.74" transform="rotate(37 333.6 2011.0)"/>
<ellipse cx="332.9" cy="2010.9" rx="5.8" ry="2.5" fill="#7564b8" opacity="0.71" transform="rotate(119 332.9 2010.9)"/>
<ellipse cx="336.8" cy="2017.8" rx="4.9" ry="1.7" fill="#7564b8" opacity="0.39" transform="rotate(178 336.8 2017.8)"/>
<ellipse cx="338.9" cy="2012.1" rx="2.8" ry="2.7" fill="#7564b8" opacity="0.75" transform="rotate(141 338.9 2012.1)"/>
<ellipse cx="333.0" cy="2010.6" rx="4.7" ry="3.1" fill="#7564b8" opacity="0.55" transform="rotate(13 333.0 2010.6)"/>
<ellipse cx="339.8" cy="2022.3" rx="4.9" ry="3.1" fill="#7564b8" opacity="0.41" transform="rotate(19 339.8 2022.3)"/>
<ellipse cx="332.2" cy="2011.0" rx="4.1" ry="1.9" fill="#7564b8" opacity="0.66" transform="rotate(141 332.2 2011.0)"/>
<circle cx="333.5" cy="2012.2" r="2.4" fill="#3d3088" opacity="0.8"/>
<circle cx="331.5" cy="2014.9" r="2.4" fill="#3d3088" opacity="0.8"/>
<ellipse cx="147.9" cy="1997.6" rx="4.4" ry="3.4" fill="#7564b8" opacity="0.67" transform="rotate(24 147.9 1997.6)"/>
<ellipse cx="147.8" cy="1990.0" rx="4.0" ry="3.3" fill="#7564b8" opacity="0.73" transform="rotate(13 147.8 1990.0)"/>
<ellipse cx="148.6" cy="1993.9" rx="4.4" ry="2.6" fill="#7564b8" opacity="0.69" transform="rotate(114 148.6 1993.9)"/>
<ellipse cx="154.0" cy="1994.7" rx="5.6" ry="2.3" fill="#7564b8" opacity="0.42" transform="rotate(145 154.0 1994.7)"/>
<ellipse cx="148.9" cy="1995.4" rx="5.9" ry="2.5" fill="#7564b8" opacity="0.62" transform="rotate(177 148.9 1995.4)"/>
<ellipse cx="149.1" cy="2001.4" rx="4.7" ry="2.1" fill="#7564b8" opacity="0.56" transform="rotate(174 149.1 2001.4)"/>
<ellipse cx="150.5" cy="1993.7" rx="5.2" ry="2.8" fill="#7564b8" opacity="0.50" transform="rotate(121 150.5 1993.7)"/>
<ellipse cx="146.3" cy="2001.9" rx="4.2" ry="3.2" fill="#7564b8" opacity="0.47" transform="rotate(31 146.3 2001.9)"/>
<circle cx="150.9" cy="1998.0" r="2.6" fill="#3d3088" opacity="0.8"/>
<circle cx="157.7" cy="1990.7" r="2.6" fill="#3d3088" opacity="0.8"/>
<ellipse cx="188.1" cy="1998.1" rx="5.0" ry="2.8" fill="#7564b8" opacity="0.45" transform="rotate(55 188.1 1998.1)"/>
<ellipse cx="188.5" cy="1996.8" rx="3.0" ry="2.0" fill="#7564b8" opacity="0.40" transform="rotate(26 188.5 1996.8)"/>
<ellipse cx="188.0" cy="1994.9" rx="5.1" ry="2.9" fill="#7564b8" opacity="0.62" transform="rotate(49 188.0 1994.9)"/>
<ellipse cx="190.6" cy="1993.5" rx="5.0" ry="2.0" fill="#7564b8" opacity="0.63" transform="rotate(135 190.6 1993.5)"/>
<ellipse cx="188.6" cy="1991.0" rx="3.4" ry="1.6" fill="#7564b8" opacity="0.50" transform="rotate(173 188.6 1991.0)"/>
<ellipse cx="193.3" cy="1997.5" rx="3.3" ry="2.1" fill="#7564b8" opacity="0.70" transform="rotate(31 193.3 1997.5)"/>
<ellipse cx="190.9" cy="1997.2" rx="3.4" ry="2.5" fill="#7564b8" opacity="0.53" transform="rotate(116 190.9 1997.2)"/>
<circle cx="188.3" cy="1996.6" r="2.2" fill="#3d3088" opacity="0.8"/>
<circle cx="189.9" cy="1997.1" r="2.2" fill="#3d3088" opacity="0.8"/>
<ellipse cx="166.1" cy="2007.0" rx="2.7" ry="1.7" fill="#7564b8" opacity="0.66" transform="rotate(91 166.1 2007.0)"/>
<ellipse cx="160.5" cy="2002.7" rx="2.8" ry="2.7" fill="#7564b8" opacity="0.43" transform="rotate(25 160.5 2002.7)"/>
<ellipse cx="160.4" cy="2002.1" rx="3.3" ry="2.0" fill="#7564b8" opacity="0.64" transform="rotate(53 160.4 2002.1)"/>
<ellipse cx="150.0" cy="2012.6" rx="2.8" ry="2.9" fill="#7564b8" opacity="0.70" transform="rotate(179 150.0 2012.6)"/>
<ellipse cx="160.6" cy="2011.1" rx="3.7" ry="1.6" fill="#7564b8" opacity="0.72" transform="rotate(103 160.6 2011.1)"/>
<ellipse cx="162.8" cy="2005.2" rx="3.9" ry="2.9" fill="#7564b8" opacity="0.40" transform="rotate(41 162.8 2005.2)"/>
<ellipse cx="163.5" cy="2005.0" rx="4.7" ry="3.0" fill="#7564b8" opacity="0.66" transform="rotate(110 163.5 2005.0)"/>
<circle cx="160.5" cy="2006.0" r="2.2" fill="#3d3088" opacity="0.8"/>
<circle cx="160.9" cy="2010.7" r="2.2" fill="#3d3088" opacity="0.8"/>
<ellipse cx="179.7" cy="2015.5" rx="2.7" ry="2.6" fill="#7564b8" opacity="0.75" transform="rotate(113 179.7 2015.5)"/>
<ellipse cx="171.2" cy="2017.9" rx="4.6" ry="2.6" fill="#7564b8" opacity="0.55" transform="rotate(163 171.2 2017.9)"/>
<ellipse cx="180.6" cy="2013.3" rx="5.0" ry="2.7" fill="#7564b8" opacity="0.43" transform="rotate(88 180.6 2013.3)"/>
<ellipse cx="175.2" cy="2020.3" rx="5.7" ry="1.9" fill="#7564b8" opacity="0.68" transform="rotate(150 175.2 2020.3)"/>
<ellipse cx="174.7" cy="2018.2" rx="3.2" ry="2.6" fill="#7564b8" opacity="0.63" transform="rotate(64 174.7 2018.2)"/>
<ellipse cx="173.6" cy="2016.4" rx="4.7" ry="2.9" fill="#7564b8" opacity="0.66" transform="rotate(101 173.6 2016.4)"/>
<ellipse cx="175.2" cy="2017.6" rx="3.5" ry="2.2" fill="#7564b8" opacity="0.38" transform="rotate(13 175.2 2017.6)"/>
<ellipse cx="181.2" cy="2016.1" rx="4.4" ry="2.7" fill="#7564b8" opacity="0.70" transform="rotate(114 181.2 2016.1)"/>
<circle cx="173.3" cy="2018.8" r="2.4" fill="#3d3088" opacity="0.8"/>
<circle cx="181.4" cy="2016.6" r="2.4" fill="#3d3088" opacity="0.8"/>
<ellipse cx="149.7" cy="2029.6" rx="4.7" ry="2.1" fill="#4a3d98" opacity="0.63" transform="rotate(49 149.7 2029.6)"/>
<ellipse cx="145.4" cy="2018.7" rx="4.5" ry="1.6" fill="#4a3d98" opacity="0.71" transform="rotate(172 145.4 2018.7)"/>
<ellipse cx="145.8" cy="2020.5" rx="4.9" ry="1.7" fill="#4a3d98" opacity="0.57" transform="rotate(62 145.8 2020.5)"/>
<ellipse cx="142.4" cy="2024.3" rx="2.8" ry="2.2" fill="#4a3d98" opacity="0.44" transform="rotate(32 142.4 2024.3)"/>
<ellipse cx="144.6" cy="2025.4" rx="2.7" ry="3.2" fill="#4a3d98" opacity="0.37" transform="rotate(161 144.6 2025.4)"/>
<ellipse cx="143.8" cy="2024.6" rx="4.0" ry="2.4" fill="#4a3d98" opacity="0.37" transform="rotate(98 143.8 2024.6)"/>
<ellipse cx="148.8" cy="2023.8" rx="4.9" ry="3.0" fill="#4a3d98" opacity="0.42" transform="rotate(73 148.8 2023.8)"/>
<ellipse cx="148.8" cy="2022.6" rx="3.0" ry="1.9" fill="#4a3d98" opacity="0.70" transform="rotate(62 148.8 2022.6)"/>
<circle cx="142.7" cy="2018.7" r="2.4" fill="#3d3088" opacity="0.8"/>
<circle cx="144.4" cy="2022.6" r="2.4" fill="#3d3088" opacity="0.8"/>
<ellipse cx="96.6" cy="2003.1" rx="3.2" ry="2.0" fill="#7564b8" opacity="0.74" transform="rotate(124 96.6 2003.1)"/>
<ellipse cx="93.8" cy="2002.5" rx="3.3" ry="1.4" fill="#7564b8" opacity="0.62" transform="rotate(49 93.8 2002.5)"/>
<ellipse cx="99.9" cy="2005.7" rx="3.2" ry="1.2" fill="#7564b8" opacity="0.49" transform="rotate(173 99.9 2005.7)"/>
<ellipse cx="96.4" cy="2002.6" rx="3.1" ry="2.1" fill="#7564b8" opacity="0.55" transform="rotate(73 96.4 2002.6)"/>
<ellipse cx="97.1" cy="2001.6" rx="3.7" ry="1.7" fill="#7564b8" opacity="0.63" transform="rotate(63 97.1 2001.6)"/>
<ellipse cx="97.9" cy="2001.2" rx="3.2" ry="1.8" fill="#7564b8" opacity="0.36" transform="rotate(23 97.9 2001.2)"/>
<ellipse cx="94.3" cy="2004.0" rx="4.0" ry="2.3" fill="#7564b8" opacity="0.67" transform="rotate(174 94.3 2004.0)"/>
<circle cx="99.6" cy="2003.8" r="1.9" fill="#3d3088" opacity="0.8"/>
<circle cx="101.4" cy="2005.3" r="1.9" fill="#3d3088" opacity="0.8"/>
<ellipse cx="235.1" cy="2015.1" rx="3.3" ry="3.3" fill="#7564b8" opacity="0.43" transform="rotate(42 235.1 2015.1)"/>
<ellipse cx="228.3" cy="2008.1" rx="2.9" ry="2.7" fill="#7564b8" opacity="0.56" transform="rotate(100 228.3 2008.1)"/>
<ellipse cx="226.3" cy="2011.0" rx="5.7" ry="3.2" fill="#7564b8" opacity="0.48" transform="rotate(8 226.3 2011.0)"/>
<ellipse cx="232.8" cy="2011.9" rx="5.0" ry="2.5" fill="#7564b8" opacity="0.65" transform="rotate(150 232.8 2011.9)"/>
<ellipse cx="233.0" cy="2005.3" rx="4.0" ry="3.0" fill="#7564b8" opacity="0.61" transform="rotate(39 233.0 2005.3)"/>
<ellipse cx="237.0" cy="2008.3" rx="4.7" ry="2.0" fill="#7564b8" opacity="0.68" transform="rotate(85 237.0 2008.3)"/>
<ellipse cx="233.4" cy="2003.7" rx="4.6" ry="2.7" fill="#7564b8" opacity="0.54" transform="rotate(43 233.4 2003.7)"/>
<ellipse cx="236.6" cy="2002.7" rx="2.9" ry="1.6" fill="#7564b8" opacity="0.54" transform="rotate(14 236.6 2002.7)"/>
<circle cx="231.5" cy="2012.6" r="2.6" fill="#3d3088" opacity="0.8"/>
<circle cx="234.0" cy="2016.3" r="2.6" fill="#3d3088" opacity="0.8"/>
<ellipse cx="245.5" cy="2010.4" rx="3.2" ry="2.1" fill="#7564b8" opacity="0.60" transform="rotate(139 245.5 2010.4)"/>
<ellipse cx="250.9" cy="2015.8" rx="3.9" ry="2.5" fill="#7564b8" opacity="0.74" transform="rotate(117 250.9 2015.8)"/>
<ellipse cx="257.3" cy="2008.6" rx="4.0" ry="2.4" fill="#7564b8" opacity="0.68" transform="rotate(130 257.3 2008.6)"/>
<ellipse cx="251.1" cy="2016.2" rx="5.0" ry="2.0" fill="#7564b8" opacity="0.46" transform="rotate(45 251.1 2016.2)"/>
<ellipse cx="251.0" cy="2009.5" rx="5.6" ry="2.5" fill="#7564b8" opacity="0.54" transform="rotate(159 251.0 2009.5)"/>
<ellipse cx="256.5" cy="2018.7" rx="5.8" ry="2.1" fill="#7564b8" opacity="0.41" transform="rotate(20 256.5 2018.7)"/>
<ellipse cx="259.4" cy="2015.8" rx="3.9" ry="2.9" fill="#7564b8" opacity="0.68" transform="rotate(5 259.4 2015.8)"/>
<ellipse cx="252.1" cy="2017.6" rx="3.5" ry="1.5" fill="#7564b8" opacity="0.45" transform="rotate(61 252.1 2017.6)"/>
<circle cx="250.3" cy="2015.6" r="2.4" fill="#3d3088" opacity="0.8"/>
<circle cx="254.3" cy="2014.6" r="2.4" fill="#3d3088" opacity="0.8"/>
<ellipse cx="292.1" cy="2030.5" rx="3.8" ry="2.6" fill="#7564b8" opacity="0.47" transform="rotate(161 292.1 2030.5)"/>
<ellipse cx="291.1" cy="2021.5" rx="3.1" ry="2.3" fill="#7564b8" opacity="0.63" transform="rotate(102 291.1 2021.5)"/>
<ellipse cx="285.3" cy="2027.8" rx="3.0" ry="2.4" fill="#7564b8" opacity="0.68" transform="rotate(70 285.3 2027.8)"/>
<ellipse cx="283.6" cy="2024.2" rx="5.3" ry="2.4" fill="#7564b8" opacity="0.50" transform="rotate(139 283.6 2024.2)"/>
<ellipse cx="285.6" cy="2025.3" rx="5.0" ry="3.0" fill="#7564b8" opacity="0.37" transform="rotate(62 285.6 2025.3)"/>
<ellipse cx="289.8" cy="2020.4" rx="4.2" ry="1.8" fill="#7564b8" opacity="0.47" transform="rotate(106 289.8 2020.4)"/>
<ellipse cx="291.4" cy="2020.5" rx="6.2" ry="2.4" fill="#7564b8" opacity="0.38" transform="rotate(61 291.4 2020.5)"/>
<ellipse cx="285.1" cy="2024.8" rx="3.1" ry="3.3" fill="#7564b8" opacity="0.71" transform="rotate(24 285.1 2024.8)"/>
<circle cx="292.5" cy="2027.3" r="2.6" fill="#3d3088" opacity="0.8"/>
<circle cx="287.2" cy="2025.6" r="2.6" fill="#3d3088" opacity="0.8"/>
<ellipse cx="400.2" cy="2010.5" rx="3.3" ry="2.8" fill="#4a3d98" opacity="0.66" transform="rotate(13 400.2 2010.5)"/>
<ellipse cx="397.1" cy="2007.4" rx="6.4" ry="3.8" fill="#4a3d98" opacity="0.70" transform="rotate(96 397.1 2007.4)"/>
<ellipse cx="404.5" cy="2013.2" rx="3.5" ry="3.5" fill="#4a3d98" opacity="0.47" transform="rotate(161 404.5 2013.2)"/>
<ellipse cx="398.0" cy="2014.9" rx="5.2" ry="2.3" fill="#4a3d98" opacity="0.55" transform="rotate(77 398.0 2014.9)"/>
<ellipse cx="403.0" cy="2012.3" rx="5.3" ry="3.3" fill="#4a3d98" opacity="0.49" transform="rotate(111 403.0 2012.3)"/>
<ellipse cx="401.5" cy="2012.8" rx="4.2" ry="3.5" fill="#4a3d98" opacity="0.43" transform="rotate(52 401.5 2012.8)"/>
<ellipse cx="403.3" cy="2009.0" rx="5.4" ry="2.3" fill="#4a3d98" opacity="0.40" transform="rotate(161 403.3 2009.0)"/>
<ellipse cx="398.4" cy="2010.4" rx="4.8" ry="3.7" fill="#4a3d98" opacity="0.65" transform="rotate(162 398.4 2010.4)"/>
<ellipse cx="395.5" cy="2006.0" rx="5.2" ry="1.9" fill="#4a3d98" opacity="0.62" transform="rotate(151 395.5 2006.0)"/>
<circle cx="404.5" cy="2004.4" r="3.0" fill="#3d3088" opacity="0.8"/>
<circle cx="396.4" cy="2002.9" r="3.0" fill="#3d3088" opacity="0.8"/>
<circle cx="398.7" cy="2011.0" r="3.0" fill="#3d3088" opacity="0.8"/>
<ellipse cx="413.0" cy="1998.0" rx="3.9" ry="1.6" fill="#7564b8" opacity="0.74" transform="rotate(112 413.0 1998.0)"/>
<ellipse cx="410.3" cy="1997.6" rx="4.3" ry="2.4" fill="#7564b8" opacity="0.70" transform="rotate(57 410.3 1997.6)"/>
<ellipse cx="407.8" cy="1995.4" rx="3.0" ry="2.5" fill="#7564b8" opacity="0.54" transform="rotate(36 407.8 1995.4)"/>
<ellipse cx="410.2" cy="1992.3" rx="4.1" ry="2.9" fill="#7564b8" opacity="0.67" transform="rotate(153 410.2 1992.3)"/>
<ellipse cx="402.7" cy="1988.2" rx="3.4" ry="2.0" fill="#7564b8" opacity="0.71" transform="rotate(47 402.7 1988.2)"/>
<ellipse cx="405.3" cy="1987.5" rx="2.6" ry="2.3" fill="#7564b8" opacity="0.67" transform="rotate(160 405.3 1987.5)"/>
<ellipse cx="401.9" cy="1994.6" rx="2.5" ry="2.8" fill="#7564b8" opacity="0.62" transform="rotate(146 401.9 1994.6)"/>
<circle cx="405.8" cy="1991.8" r="2.2" fill="#3d3088" opacity="0.8"/>
<circle cx="409.4" cy="1989.4" r="2.2" fill="#3d3088" opacity="0.8"/>
<ellipse cx="34.8" cy="2042.1" rx="5.9" ry="2.0" fill="#7564b8" opacity="0.57" transform="rotate(91 34.8 2042.1)"/>
<ellipse cx="28.9" cy="2043.1" rx="3.8" ry="3.1" fill="#7564b8" opacity="0.51" transform="rotate(26 28.9 2043.1)"/>
<ellipse cx="34.3" cy="2035.1" rx="3.2" ry="1.6" fill="#7564b8" opacity="0.49" transform="rotate(5 34.3 2035.1)"/>
<ellipse cx="37.6" cy="2043.9" rx="3.7" ry="3.0" fill="#7564b8" opacity="0.44" transform="rotate(2 37.6 2043.9)"/>
<ellipse cx="34.1" cy="2035.7" rx="6.1" ry="2.5" fill="#7564b8" opacity="0.45" transform="rotate(8 34.1 2035.7)"/>
<ellipse cx="29.7" cy="2032.8" rx="3.4" ry="2.4" fill="#7564b8" opacity="0.63" transform="rotate(61 29.7 2032.8)"/>
<ellipse cx="29.4" cy="2034.6" rx="4.8" ry="1.7" fill="#7564b8" opacity="0.72" transform="rotate(167 29.4 2034.6)"/>
<ellipse cx="27.7" cy="2033.5" rx="4.2" ry="3.0" fill="#7564b8" opacity="0.58" transform="rotate(128 27.7 2033.5)"/>
<circle cx="29.5" cy="2036.6" r="2.6" fill="#3d3088" opacity="0.8"/>
<circle cx="31.7" cy="2034.0" r="2.6" fill="#3d3088" opacity="0.8"/>
<ellipse cx="45.4" cy="2046.9" rx="3.0" ry="2.8" fill="#7564b8" opacity="0.47" transform="rotate(133 45.4 2046.9)"/>
<ellipse cx="54.7" cy="2047.1" rx="3.8" ry="2.6" fill="#7564b8" opacity="0.39" transform="rotate(109 54.7 2047.1)"/>
<ellipse cx="48.0" cy="2041.9" rx="2.7" ry="2.0" fill="#7564b8" opacity="0.66" transform="rotate(137 48.0 2041.9)"/>
<ellipse cx="49.8" cy="2045.9" rx="5.1" ry="1.8" fill="#7564b8" opacity="0.38" transform="rotate(156 49.8 2045.9)"/>
<ellipse cx="48.6" cy="2041.1" rx="4.5" ry="2.6" fill="#7564b8" opacity="0.68" transform="rotate(34 48.6 2041.1)"/>
<ellipse cx="45.9" cy="2036.5" rx="4.8" ry="2.2" fill="#7564b8" opacity="0.51" transform="rotate(176 45.9 2036.5)"/>
<ellipse cx="53.4" cy="2044.3" rx="3.9" ry="2.8" fill="#7564b8" opacity="0.70" transform="rotate(91 53.4 2044.3)"/>
<circle cx="49.0" cy="2046.9" r="2.2" fill="#3d3088" opacity="0.8"/>
<circle cx="48.3" cy="2046.1" r="2.2" fill="#3d3088" opacity="0.8"/>
<ellipse cx="250.0" cy="2044.6" rx="3.6" ry="2.3" fill="#7564b8" opacity="0.73" transform="rotate(56 250.0 2044.6)"/>
<ellipse cx="255.7" cy="2045.4" rx="2.9" ry="2.2" fill="#7564b8" opacity="0.74" transform="rotate(91 255.7 2045.4)"/>
<ellipse cx="254.8" cy="2040.7" rx="2.8" ry="2.0" fill="#7564b8" opacity="0.73" transform="rotate(4 254.8 2040.7)"/>
<ellipse cx="257.5" cy="2050.4" rx="3.4" ry="1.7" fill="#7564b8" opacity="0.67" transform="rotate(80 257.5 2050.4)"/>
<ellipse cx="255.0" cy="2048.2" rx="3.9" ry="2.0" fill="#7564b8" opacity="0.55" transform="rotate(2 255.0 2048.2)"/>
<ellipse cx="254.4" cy="2046.1" rx="2.7" ry="2.2" fill="#7564b8" opacity="0.73" transform="rotate(124 254.4 2046.1)"/>
<ellipse cx="249.5" cy="2049.5" rx="3.7" ry="1.9" fill="#7564b8" opacity="0.66" transform="rotate(99 249.5 2049.5)"/>
<circle cx="251.8" cy="2045.8" r="1.9" fill="#3d3088" opacity="0.8"/>
<circle cx="253.3" cy="2045.2" r="1.9" fill="#3d3088" opacity="0.8"/>
<ellipse cx="348.2" cy="2038.3" rx="2.3" ry="2.6" fill="#7564b8" opacity="0.43" transform="rotate(84 348.2 2038.3)"/>
<ellipse cx="344.1" cy="2039.4" rx="3.9" ry="1.5" fill="#7564b8" opacity="0.57" transform="rotate(175 344.1 2039.4)"/>
<ellipse cx="345.7" cy="2037.5" rx="2.7" ry="1.4" fill="#7564b8" opacity="0.35" transform="rotate(173 345.7 2037.5)"/>
<ellipse cx="345.3" cy="2035.4" rx="4.5" ry="2.1" fill="#7564b8" opacity="0.43" transform="rotate(159 345.3 2035.4)"/>
<ellipse cx="347.9" cy="2038.8" rx="4.0" ry="2.3" fill="#7564b8" opacity="0.44" transform="rotate(27 347.9 2038.8)"/>
<ellipse cx="342.5" cy="2033.6" rx="3.9" ry="2.4" fill="#7564b8" opacity="0.36" transform="rotate(131 342.5 2033.6)"/>
<ellipse cx="347.7" cy="2035.2" rx="3.8" ry="1.7" fill="#7564b8" opacity="0.70" transform="rotate(40 347.7 2035.2)"/>
<circle cx="346.3" cy="2037.1" r="2.1" fill="#3d3088" opacity="0.8"/>
<circle cx="341.8" cy="2036.6" r="2.1" fill="#3d3088" opacity="0.8"/>
<ellipse cx="356.1" cy="2065.8" rx="4.7" ry="2.3" fill="#7564b8" opacity="0.65" transform="rotate(7 356.1 2065.8)"/>
<ellipse cx="360.3" cy="2052.8" rx="3.7" ry="2.4" fill="#7564b8" opacity="0.37" transform="rotate(143 360.3 2052.8)"/>
<ellipse cx="358.9" cy="2055.6" rx="6.2" ry="2.5" fill="#7564b8" opacity="0.70" transform="rotate(152 358.9 2055.6)"/>
<ellipse cx="357.5" cy="2054.5" rx="4.6" ry="1.6" fill="#7564b8" opacity="0.73" transform="rotate(16 357.5 2054.5)"/>
<ellipse cx="348.4" cy="2053.8" rx="3.4" ry="2.2" fill="#7564b8" opacity="0.47" transform="rotate(2 348.4 2053.8)"/>
<ellipse cx="350.0" cy="2059.0" rx="5.3" ry="2.9" fill="#7564b8" opacity="0.73" transform="rotate(157 350.0 2059.0)"/>
<ellipse cx="353.1" cy="2062.3" rx="5.2" ry="3.1" fill="#7564b8" opacity="0.41" transform="rotate(60 353.1 2062.3)"/>
<ellipse cx="350.6" cy="2054.2" rx="6.0" ry="2.4" fill="#7564b8" opacity="0.63" transform="rotate(12 350.6 2054.2)"/>
<circle cx="359.0" cy="2052.4" r="2.6" fill="#3d3088" opacity="0.8"/>
<circle cx="355.7" cy="2056.1" r="2.6" fill="#3d3088" opacity="0.8"/>
<ellipse cx="363.0" cy="2056.6" rx="2.7" ry="1.5" fill="#7564b8" opacity="0.62" transform="rotate(178 363.0 2056.6)"/>
<ellipse cx="364.6" cy="2066.9" rx="4.4" ry="2.1" fill="#7564b8" opacity="0.41" transform="rotate(91 364.6 2066.9)"/>
<ellipse cx="355.4" cy="2065.6" rx="5.1" ry="2.6" fill="#7564b8" opacity="0.42" transform="rotate(112 355.4 2065.6)"/>
<ellipse cx="350.9" cy="2060.6" rx="5.3" ry="2.8" fill="#7564b8" opacity="0.37" transform="rotate(76 350.9 2060.6)"/>
<ellipse cx="361.2" cy="2070.5" rx="2.6" ry="2.7" fill="#7564b8" opacity="0.60" transform="rotate(116 361.2 2070.5)"/>
<ellipse cx="364.6" cy="2063.1" rx="4.6" ry="2.4" fill="#7564b8" opacity="0.57" transform="rotate(93 364.6 2063.1)"/>
<ellipse cx="360.2" cy="2066.0" rx="4.5" ry="2.0" fill="#7564b8" opacity="0.53" transform="rotate(152 360.2 2066.0)"/>
<circle cx="355.1" cy="2067.9" r="2.2" fill="#3d3088" opacity="0.8"/>
<circle cx="359.2" cy="2061.5" r="2.2" fill="#3d3088" opacity="0.8"/>
<ellipse cx="152.1" cy="2058.9" rx="4.1" ry="2.5" fill="#7564b8" opacity="0.38" transform="rotate(34 152.1 2058.9)"/>
<ellipse cx="151.7" cy="2060.4" rx="5.1" ry="2.1" fill="#7564b8" opacity="0.59" transform="rotate(79 151.7 2060.4)"/>
<ellipse cx="148.6" cy="2052.9" rx="3.7" ry="3.2" fill="#7564b8" opacity="0.70" transform="rotate(22 148.6 2052.9)"/>
<ellipse cx="157.3" cy="2058.9" rx="4.0" ry="2.6" fill="#7564b8" opacity="0.59" transform="rotate(109 157.3 2058.9)"/>
<ellipse cx="153.4" cy="2052.3" rx="5.4" ry="1.9" fill="#7564b8" opacity="0.38" transform="rotate(53 153.4 2052.3)"/>
<ellipse cx="144.5" cy="2052.9" rx="4.5" ry="3.2" fill="#7564b8" opacity="0.43" transform="rotate(68 144.5 2052.9)"/>
<ellipse cx="146.9" cy="2051.3" rx="4.9" ry="2.4" fill="#7564b8" opacity="0.39" transform="rotate(141 146.9 2051.3)"/>
<ellipse cx="152.0" cy="2052.1" rx="5.2" ry="1.5" fill="#7564b8" opacity="0.62" transform="rotate(112 152.0 2052.1)"/>
<circle cx="151.2" cy="2054.6" r="2.4" fill="#3d3088" opacity="0.8"/>
<circle cx="151.4" cy="2057.0" r="2.4" fill="#3d3088" opacity="0.8"/>
<ellipse cx="164.1" cy="2046.5" rx="2.4" ry="2.0" fill="#7564b8" opacity="0.47" transform="rotate(8 164.1 2046.5)"/>
<ellipse cx="170.0" cy="2049.0" rx="2.4" ry="1.2" fill="#7564b8" opacity="0.74" transform="rotate(65 170.0 2049.0)"/>
<ellipse cx="169.6" cy="2044.5" rx="3.3" ry="1.5" fill="#7564b8" opacity="0.73" transform="rotate(38 169.6 2044.5)"/>
<ellipse cx="174.5" cy="2046.3" rx="4.2" ry="1.3" fill="#7564b8" opacity="0.74" transform="rotate(118 174.5 2046.3)"/>
<ellipse cx="166.1" cy="2045.8" rx="3.1" ry="2.4" fill="#7564b8" opacity="0.74" transform="rotate(171 166.1 2045.8)"/>
<ellipse cx="171.8" cy="2050.5" rx="3.8" ry="1.4" fill="#7564b8" opacity="0.71" transform="rotate(135 171.8 2050.5)"/>
<ellipse cx="171.3" cy="2049.3" rx="3.7" ry="2.3" fill="#7564b8" opacity="0.75" transform="rotate(50 171.3 2049.3)"/>
<circle cx="170.8" cy="2045.5" r="1.9" fill="#3d3088" opacity="0.8"/>
<circle cx="168.6" cy="2048.7" r="1.9" fill="#3d3088" opacity="0.8"/>
<ellipse cx="236.1" cy="2073.7" rx="4.3" ry="1.8" fill="#4a3d98" opacity="0.43" transform="rotate(58 236.1 2073.7)"/>
<ellipse cx="237.1" cy="2075.1" rx="3.7" ry="3.5" fill="#4a3d98" opacity="0.52" transform="rotate(111 237.1 2075.1)"/>
<ellipse cx="224.9" cy="2070.3" rx="5.7" ry="3.4" fill="#4a3d98" opacity="0.70" transform="rotate(133 224.9 2070.3)"/>
<ellipse cx="237.9" cy="2070.4" rx="4.9" ry="2.2" fill="#4a3d98" opacity="0.72" transform="rotate(48 237.9 2070.4)"/>
<ellipse cx="238.3" cy="2073.0" rx="4.0" ry="3.0" fill="#4a3d98" opacity="0.58" transform="rotate(39 238.3 2073.0)"/>
<ellipse cx="241.2" cy="2079.2" rx="3.5" ry="2.6" fill="#4a3d98" opacity="0.68" transform="rotate(87 241.2 2079.2)"/>
<ellipse cx="232.8" cy="2073.4" rx="6.1" ry="2.7" fill="#4a3d98" opacity="0.62" transform="rotate(71 232.8 2073.4)"/>
<ellipse cx="234.3" cy="2069.0" rx="3.4" ry="2.3" fill="#4a3d98" opacity="0.65" transform="rotate(155 234.3 2069.0)"/>
<circle cx="231.4" cy="2072.7" r="2.6" fill="#3d3088" opacity="0.8"/>
<circle cx="238.7" cy="2071.5" r="2.6" fill="#3d3088" opacity="0.8"/>
<ellipse cx="261.9" cy="2072.6" rx="5.0" ry="2.6" fill="#4a3d98" opacity="0.58" transform="rotate(107 261.9 2072.6)"/>
<ellipse cx="259.5" cy="2073.6" rx="2.5" ry="2.8" fill="#4a3d98" opacity="0.51" transform="rotate(108 259.5 2073.6)"/>
<ellipse cx="252.2" cy="2075.6" rx="4.6" ry="2.0" fill="#4a3d98" opacity="0.61" transform="rotate(39 252.2 2075.6)"/>
<ellipse cx="261.2" cy="2072.3" rx="5.1" ry="2.2" fill="#4a3d98" opacity="0.41" transform="rotate(177 261.2 2072.3)"/>
<ellipse cx="260.9" cy="2078.2" rx="3.2" ry="1.6" fill="#4a3d98" opacity="0.67" transform="rotate(160 260.9 2078.2)"/>
<ellipse cx="263.4" cy="2069.6" rx="4.3" ry="1.6" fill="#4a3d98" opacity="0.75" transform="rotate(59 263.4 2069.6)"/>
<ellipse cx="258.6" cy="2072.4" rx="3.3" ry="2.2" fill="#4a3d98" opacity="0.54" transform="rotate(74 258.6 2072.4)"/>
<circle cx="258.8" cy="2073.3" r="2.2" fill="#3d3088" opacity="0.8"/>
<circle cx="257.9" cy="2071.3" r="2.2" fill="#3d3088" opacity="0.8"/>
<ellipse cx="270.8" cy="2075.3" rx="4.4" ry="2.6" fill="#4a3d98" opacity="0.52" transform="rotate(21 270.8 2075.3)"/>
<ellipse cx="264.7" cy="2069.6" rx="3.9" ry="3.0" fill="#4a3d98" opacity="0.50" transform="rotate(94 264.7 2069.6)"/>
<ellipse cx="270.0" cy="2073.4" rx="3.0" ry="1.7" fill="#4a3d98" opacity="0.42" transform="rotate(20 270.0 2073.4)"/>
<ellipse cx="272.3" cy="2070.7" rx="3.9" ry="2.3" fill="#4a3d98" opacity="0.46" transform="rotate(156 272.3 2070.7)"/>
<ellipse cx="267.8" cy="2069.2" rx="2.5" ry="1.4" fill="#4a3d98" opacity="0.36" transform="rotate(131 267.8 2069.2)"/>
<ellipse cx="272.0" cy="2073.8" rx="4.0" ry="2.0" fill="#4a3d98" opacity="0.47" transform="rotate(169 272.0 2073.8)"/>
<ellipse cx="273.9" cy="2071.3" rx="4.0" ry="2.9" fill="#4a3d98" opacity="0.63" transform="rotate(42 273.9 2071.3)"/>
<circle cx="268.9" cy="2074.0" r="2.2" fill="#3d3088" opacity="0.8"/>
<circle cx="269.9" cy="2074.4" r="2.2" fill="#3d3088" opacity="0.8"/>
<ellipse cx="391.1" cy="2066.5" rx="3.5" ry="2.5" fill="#7564b8" opacity="0.53" transform="rotate(158 391.1 2066.5)"/>
<ellipse cx="400.6" cy="2062.9" rx="4.2" ry="3.6" fill="#7564b8" opacity="0.46" transform="rotate(105 400.6 2062.9)"/>
<ellipse cx="390.3" cy="2067.8" rx="5.4" ry="2.4" fill="#7564b8" opacity="0.67" transform="rotate(42 390.3 2067.8)"/>
<ellipse cx="394.3" cy="2065.5" rx="3.2" ry="2.8" fill="#7564b8" opacity="0.70" transform="rotate(114 394.3 2065.5)"/>
<ellipse cx="393.6" cy="2074.2" rx="4.5" ry="3.3" fill="#7564b8" opacity="0.47" transform="rotate(30 393.6 2074.2)"/>
<ellipse cx="395.0" cy="2068.5" rx="3.7" ry="2.5" fill="#7564b8" opacity="0.48" transform="rotate(100 395.0 2068.5)"/>
<ellipse cx="390.9" cy="2068.6" rx="6.5" ry="3.4" fill="#7564b8" opacity="0.42" transform="rotate(30 390.9 2068.6)"/>
<ellipse cx="398.1" cy="2072.3" rx="5.7" ry="3.4" fill="#7564b8" opacity="0.45" transform="rotate(156 398.1 2072.3)"/>
<ellipse cx="398.1" cy="2065.4" rx="3.7" ry="2.2" fill="#7564b8" opacity="0.64" transform="rotate(12 398.1 2065.4)"/>
<circle cx="390.3" cy="2065.2" r="3.0" fill="#3d3088" opacity="0.8"/>
<circle cx="395.4" cy="2068.8" r="3.0" fill="#3d3088" opacity="0.8"/>
<circle cx="393.9" cy="2071.8" r="3.0" fill="#3d3088" opacity="0.8"/>
<ellipse cx="395.1" cy="2083.4" rx="4.2" ry="1.6" fill="#7564b8" opacity="0.57" transform="rotate(35 395.1 2083.4)"/>
<ellipse cx="388.3" cy="2098.9" rx="3.8" ry="2.3" fill="#7564b8" opacity="0.62" transform="rotate(168 388.3 2098.9)"/>
<ellipse cx="395.9" cy="2091.6" rx="5.1" ry="1.8" fill="#7564b8" opacity="0.39" transform="rotate(60 395.9 2091.6)"/>
<ellipse cx="387.3" cy="2095.0" rx="6.2" ry="2.9" fill="#7564b8" opacity="0.52" transform="rotate(179 387.3 2095.0)"/>
<ellipse cx="394.8" cy="2087.6" rx="4.4" ry="2.6" fill="#7564b8" opacity="0.39" transform="rotate(116 394.8 2087.6)"/>
<ellipse cx="389.6" cy="2084.8" rx="4.8" ry="3.3" fill="#7564b8" opacity="0.60" transform="rotate(124 389.6 2084.8)"/>
<ellipse cx="395.8" cy="2084.9" rx="4.4" ry="3.4" fill="#7564b8" opacity="0.73" transform="rotate(14 395.8 2084.9)"/>
<ellipse cx="393.2" cy="2089.5" rx="5.9" ry="2.8" fill="#7564b8" opacity="0.66" transform="rotate(62 393.2 2089.5)"/>
<circle cx="390.3" cy="2091.1" r="2.6" fill="#3d3088" opacity="0.8"/>
<circle cx="391.6" cy="2090.4" r="2.6" fill="#3d3088" opacity="0.8"/>
<ellipse cx="418.7" cy="2102.7" rx="5.0" ry="3.5" fill="#7564b8" opacity="0.74" transform="rotate(79 418.7 2102.7)"/>
<ellipse cx="418.9" cy="2104.0" rx="3.4" ry="2.7" fill="#7564b8" opacity="0.69" transform="rotate(22 418.9 2104.0)"/>
<ellipse cx="413.9" cy="2101.9" rx="3.4" ry="3.5" fill="#7564b8" opacity="0.65" transform="rotate(100 413.9 2101.9)"/>
<ellipse cx="415.0" cy="2093.0" rx="6.2" ry="2.8" fill="#7564b8" opacity="0.50" transform="rotate(147 415.0 2093.0)"/>
<ellipse cx="413.3" cy="2095.8" rx="5.6" ry="1.8" fill="#7564b8" opacity="0.58" transform="rotate(39 413.3 2095.8)"/>
<ellipse cx="410.6" cy="2097.9" rx="5.6" ry="3.0" fill="#7564b8" opacity="0.49" transform="rotate(41 410.6 2097.9)"/>
<ellipse cx="414.9" cy="2093.8" rx="5.2" ry="3.2" fill="#7564b8" opacity="0.60" transform="rotate(5 414.9 2093.8)"/>
<ellipse cx="420.2" cy="2098.6" rx="5.9" ry="3.0" fill="#7564b8" opacity="0.74" transform="rotate(126 420.2 2098.6)"/>
<circle cx="408.3" cy="2098.6" r="2.8" fill="#3d3088" opacity="0.8"/>
<circle cx="414.7" cy="2096.8" r="2.8" fill="#3d3088" opacity="0.8"/>
<ellipse cx="105.9" cy="2099.1" rx="5.1" ry="2.8" fill="#7564b8" opacity="0.43" transform="rotate(110 105.9 2099.1)"/>
<ellipse cx="99.8" cy="2099.8" rx="6.0" ry="3.3" fill="#7564b8" opacity="0.62" transform="rotate(18 99.8 2099.8)"/>
<ellipse cx="100.7" cy="2095.4" rx="3.7" ry="2.5" fill="#7564b8" opacity="0.56" transform="rotate(49 100.7 2095.4)"/>
<ellipse cx="109.9" cy="2100.3" rx="4.6" ry="3.3" fill="#7564b8" opacity="0.74" transform="rotate(152 109.9 2100.3)"/>
<ellipse cx="116.7" cy="2090.4" rx="4.9" ry="3.0" fill="#7564b8" opacity="0.36" transform="rotate(130 116.7 2090.4)"/>
<ellipse cx="108.8" cy="2094.9" rx="5.3" ry="1.9" fill="#7564b8" opacity="0.72" transform="rotate(77 108.8 2094.9)"/>
<ellipse cx="103.6" cy="2099.3" rx="6.3" ry="3.7" fill="#7564b8" opacity="0.51" transform="rotate(94 103.6 2099.3)"/>
<ellipse cx="105.1" cy="2105.3" rx="5.3" ry="3.4" fill="#7564b8" opacity="0.36" transform="rotate(91 105.1 2105.3)"/>
<circle cx="107.3" cy="2098.3" r="2.8" fill="#3d3088" opacity="0.8"/>
<circle cx="104.8" cy="2096.5" r="2.8" fill="#3d3088" opacity="0.8"/>
<ellipse cx="123.9" cy="2076.5" rx="5.3" ry="1.7" fill="#7564b8" opacity="0.54" transform="rotate(156 123.9 2076.5)"/>
<ellipse cx="122.2" cy="2075.0" rx="4.2" ry="2.4" fill="#7564b8" opacity="0.37" transform="rotate(151 122.2 2075.0)"/>
<ellipse cx="122.2" cy="2069.7" rx="3.1" ry="2.9" fill="#7564b8" opacity="0.44" transform="rotate(180 122.2 2069.7)"/>
<ellipse cx="114.2" cy="2072.0" rx="4.0" ry="2.3" fill="#7564b8" opacity="0.73" transform="rotate(79 114.2 2072.0)"/>
<ellipse cx="118.0" cy="2083.2" rx="5.4" ry="1.6" fill="#7564b8" opacity="0.69" transform="rotate(137 118.0 2083.2)"/>
<ellipse cx="122.3" cy="2077.1" rx="2.6" ry="2.7" fill="#7564b8" opacity="0.38" transform="rotate(151 122.3 2077.1)"/>
<ellipse cx="124.6" cy="2064.4" rx="2.7" ry="2.7" fill="#7564b8" opacity="0.38" transform="rotate(20 124.6 2064.4)"/>
<circle cx="122.3" cy="2073.5" r="2.2" fill="#3d3088" opacity="0.8"/>
<circle cx="121.1" cy="2067.9" r="2.2" fill="#3d3088" opacity="0.8"/>
<ellipse cx="359.4" cy="2104.9" rx="5.9" ry="2.8" fill="#7564b8" opacity="0.74" transform="rotate(124 359.4 2104.9)"/>
<ellipse cx="362.6" cy="2104.8" rx="5.9" ry="3.0" fill="#7564b8" opacity="0.41" transform="rotate(124 362.6 2104.8)"/>
<ellipse cx="363.2" cy="2108.9" rx="3.4" ry="1.7" fill="#7564b8" opacity="0.54" transform="rotate(129 363.2 2108.9)"/>
<ellipse cx="361.8" cy="2096.5" rx="6.0" ry="3.0" fill="#7564b8" opacity="0.45" transform="rotate(139 361.8 2096.5)"/>
<ellipse cx="363.6" cy="2102.3" rx="2.9" ry="3.3" fill="#7564b8" opacity="0.42" transform="rotate(157 363.6 2102.3)"/>
<ellipse cx="367.9" cy="2103.0" rx="4.6" ry="1.7" fill="#7564b8" opacity="0.38" transform="rotate(153 367.9 2103.0)"/>
<ellipse cx="361.5" cy="2102.1" rx="3.5" ry="1.7" fill="#7564b8" opacity="0.66" transform="rotate(49 361.5 2102.1)"/>
<ellipse cx="371.2" cy="2107.0" rx="3.9" ry="1.9" fill="#7564b8" opacity="0.58" transform="rotate(66 371.2 2107.0)"/>
<circle cx="360.9" cy="2103.9" r="2.6" fill="#3d3088" opacity="0.8"/>
<circle cx="361.8" cy="2103.9" r="2.6" fill="#3d3088" opacity="0.8"/>
<ellipse cx="369.7" cy="2098.3" rx="3.0" ry="2.0" fill="#7564b8" opacity="0.53" transform="rotate(81 369.7 2098.3)"/>
<ellipse cx="376.0" cy="2102.7" rx="5.2" ry="1.6" fill="#7564b8" opacity="0.53" transform="rotate(176 376.0 2102.7)"/>
<ellipse cx="384.3" cy="2098.5" rx="3.5" ry="2.2" fill="#7564b8" opacity="0.64" transform="rotate(46 384.3 2098.5)"/>
<ellipse cx="383.4" cy="2100.5" rx="5.4" ry="2.1" fill="#7564b8" opacity="0.72" transform="rotate(92 383.4 2100.5)"/>
<ellipse cx="376.5" cy="2093.6" rx="4.7" ry="2.4" fill="#7564b8" opacity="0.62" transform="rotate(128 376.5 2093.6)"/>
<ellipse cx="378.6" cy="2105.9" rx="4.2" ry="2.2" fill="#7564b8" opacity="0.60" transform="rotate(62 378.6 2105.9)"/>
<ellipse cx="379.2" cy="2106.4" rx="3.0" ry="1.9" fill="#7564b8" opacity="0.59" transform="rotate(89 379.2 2106.4)"/>
<circle cx="380.2" cy="2099.4" r="2.2" fill="#3d3088" opacity="0.8"/>
<circle cx="378.9" cy="2097.2" r="2.2" fill="#3d3088" opacity="0.8"/>
<ellipse cx="77.6" cy="2122.6" rx="3.3" ry="3.7" fill="#7564b8" opacity="0.53" transform="rotate(84 77.6 2122.6)"/>
<ellipse cx="82.2" cy="2123.5" rx="4.9" ry="3.6" fill="#7564b8" opacity="0.73" transform="rotate(72 82.2 2123.5)"/>
<ellipse cx="76.6" cy="2122.1" rx="6.1" ry="2.0" fill="#7564b8" opacity="0.47" transform="rotate(35 76.6 2122.1)"/>
<ellipse cx="79.2" cy="2113.3" rx="4.7" ry="2.4" fill="#7564b8" opacity="0.72" transform="rotate(18 79.2 2113.3)"/>
<ellipse cx="80.2" cy="2118.4" rx="6.4" ry="2.2" fill="#7564b8" opacity="0.70" transform="rotate(153 80.2 2118.4)"/>
<ellipse cx="78.6" cy="2125.2" rx="5.4" ry="1.8" fill="#7564b8" opacity="0.58" transform="rotate(56 78.6 2125.2)"/>
<ellipse cx="78.7" cy="2120.5" rx="5.6" ry="2.2" fill="#7564b8" opacity="0.58" transform="rotate(130 78.7 2120.5)"/>
<ellipse cx="81.8" cy="2125.8" rx="5.7" ry="3.1" fill="#7564b8" opacity="0.71" transform="rotate(5 81.8 2125.8)"/>
<circle cx="77.8" cy="2124.0" r="2.8" fill="#3d3088" opacity="0.8"/>
<circle cx="82.3" cy="2120.1" r="2.8" fill="#3d3088" opacity="0.8"/>
<ellipse cx="54.9" cy="2118.2" rx="3.7" ry="1.9" fill="#7564b8" opacity="0.36" transform="rotate(113 54.9 2118.2)"/>
<ellipse cx="58.7" cy="2114.0" rx="3.8" ry="2.8" fill="#7564b8" opacity="0.73" transform="rotate(173 58.7 2114.0)"/>
<ellipse cx="55.8" cy="2114.1" rx="3.5" ry="1.9" fill="#7564b8" opacity="0.67" transform="rotate(141 55.8 2114.1)"/>
<ellipse cx="56.7" cy="2114.5" rx="3.1" ry="3.0" fill="#7564b8" opacity="0.49" transform="rotate(107 56.7 2114.5)"/>
<ellipse cx="50.7" cy="2118.9" rx="2.4" ry="2.7" fill="#7564b8" opacity="0.71" transform="rotate(125 50.7 2118.9)"/>
<ellipse cx="52.6" cy="2120.8" rx="3.0" ry="2.6" fill="#7564b8" opacity="0.67" transform="rotate(107 52.6 2120.8)"/>
<ellipse cx="55.9" cy="2110.8" rx="4.7" ry="2.8" fill="#7564b8" opacity="0.65" transform="rotate(164 55.9 2110.8)"/>
<circle cx="55.7" cy="2115.5" r="2.2" fill="#3d3088" opacity="0.8"/>
<circle cx="57.4" cy="2121.1" r="2.2" fill="#3d3088" opacity="0.8"/>
<ellipse cx="124.8" cy="2129.2" rx="4.6" ry="1.6" fill="#7564b8" opacity="0.70" transform="rotate(129 124.8 2129.2)"/>
<ellipse cx="119.3" cy="2128.6" rx="4.4" ry="2.4" fill="#7564b8" opacity="0.58" transform="rotate(154 119.3 2128.6)"/>
<ellipse cx="115.7" cy="2131.8" rx="5.3" ry="2.8" fill="#7564b8" opacity="0.52" transform="rotate(44 115.7 2131.8)"/>
<ellipse cx="115.0" cy="2125.3" rx="4.4" ry="1.5" fill="#7564b8" opacity="0.47" transform="rotate(16 115.0 2125.3)"/>
<ellipse cx="120.9" cy="2127.5" rx="4.0" ry="2.7" fill="#7564b8" opacity="0.50" transform="rotate(160 120.9 2127.5)"/>
<ellipse cx="109.6" cy="2125.5" rx="3.4" ry="1.9" fill="#7564b8" opacity="0.41" transform="rotate(142 109.6 2125.5)"/>
<ellipse cx="111.3" cy="2120.5" rx="3.9" ry="2.6" fill="#7564b8" opacity="0.42" transform="rotate(168 111.3 2120.5)"/>
<circle cx="120.0" cy="2126.0" r="2.2" fill="#3d3088" opacity="0.8"/>
<circle cx="119.5" cy="2125.3" r="2.2" fill="#3d3088" opacity="0.8"/>
<ellipse cx="163.5" cy="2122.1" rx="2.8" ry="2.2" fill="#7564b8" opacity="0.67" transform="rotate(175 163.5 2122.1)"/>
<ellipse cx="143.3" cy="2123.2" rx="4.0" ry="2.8" fill="#7564b8" opacity="0.38" transform="rotate(118 143.3 2123.2)"/>
<ellipse cx="153.1" cy="2131.4" rx="3.5" ry="1.5" fill="#7564b8" opacity="0.53" transform="rotate(42 153.1 2131.4)"/>
<ellipse cx="151.1" cy="2125.3" rx="4.0" ry="1.9" fill="#7564b8" opacity="0.49" transform="rotate(110 151.1 2125.3)"/>
<ellipse cx="151.2" cy="2120.9" rx="4.0" ry="2.0" fill="#7564b8" opacity="0.59" transform="rotate(133 151.2 2120.9)"/>
<ellipse cx="151.7" cy="2127.4" rx="4.9" ry="1.9" fill="#7564b8" opacity="0.65" transform="rotate(100 151.7 2127.4)"/>
<ellipse cx="154.5" cy="2127.3" rx="5.6" ry="3.0" fill="#7564b8" opacity="0.61" transform="rotate(179 154.5 2127.3)"/>
<ellipse cx="158.4" cy="2125.0" rx="5.4" ry="2.4" fill="#7564b8" opacity="0.71" transform="rotate(51 158.4 2125.0)"/>
<circle cx="158.0" cy="2122.9" r="2.4" fill="#3d3088" opacity="0.8"/>
<circle cx="154.2" cy="2119.7" r="2.4" fill="#3d3088" opacity="0.8"/>
<ellipse cx="238.2" cy="2118.8" rx="3.6" ry="3.4" fill="#7564b8" opacity="0.38" transform="rotate(162 238.2 2118.8)"/>
<ellipse cx="244.6" cy="2116.1" rx="6.2" ry="2.4" fill="#7564b8" opacity="0.59" transform="rotate(88 244.6 2116.1)"/>
<ellipse cx="245.8" cy="2120.8" rx="4.8" ry="3.4" fill="#7564b8" opacity="0.66" transform="rotate(114 245.8 2120.8)"/>
<ellipse cx="236.3" cy="2130.5" rx="5.5" ry="2.0" fill="#7564b8" opacity="0.46" transform="rotate(26 236.3 2130.5)"/>
<ellipse cx="238.9" cy="2125.2" rx="6.3" ry="3.1" fill="#7564b8" opacity="0.40" transform="rotate(127 238.9 2125.2)"/>
<ellipse cx="241.5" cy="2124.1" rx="6.1" ry="2.8" fill="#7564b8" opacity="0.71" transform="rotate(165 241.5 2124.1)"/>
<ellipse cx="234.9" cy="2119.6" rx="3.9" ry="3.4" fill="#7564b8" opacity="0.63" transform="rotate(135 234.9 2119.6)"/>
<ellipse cx="237.9" cy="2126.4" rx="4.7" ry="2.2" fill="#7564b8" opacity="0.61" transform="rotate(122 237.9 2126.4)"/>
<ellipse cx="235.1" cy="2119.5" rx="4.3" ry="3.1" fill="#7564b8" opacity="0.67" transform="rotate(113 235.1 2119.5)"/>
<circle cx="242.3" cy="2127.5" r="3.0" fill="#3d3088" opacity="0.8"/>
<circle cx="240.3" cy="2127.7" r="3.0" fill="#3d3088" opacity="0.8"/>
<circle cx="240.1" cy="2122.7" r="3.0" fill="#3d3088" opacity="0.8"/>
<ellipse cx="300.9" cy="2132.9" rx="5.2" ry="3.6" fill="#7564b8" opacity="0.52" transform="rotate(21 300.9 2132.9)"/>
<ellipse cx="307.0" cy="2126.6" rx="3.1" ry="1.8" fill="#7564b8" opacity="0.59" transform="rotate(74 307.0 2126.6)"/>
<ellipse cx="302.0" cy="2123.3" rx="5.2" ry="2.0" fill="#7564b8" opacity="0.50" transform="rotate(44 302.0 2123.3)"/>
<ellipse cx="288.6" cy="2122.0" rx="5.2" ry="3.2" fill="#7564b8" opacity="0.68" transform="rotate(2 288.6 2122.0)"/>
<ellipse cx="304.8" cy="2127.2" rx="4.8" ry="2.5" fill="#7564b8" opacity="0.70" transform="rotate(46 304.8 2127.2)"/>
<ellipse cx="290.0" cy="2123.4" rx="5.7" ry="1.8" fill="#7564b8" opacity="0.45" transform="rotate(155 290.0 2123.4)"/>
<ellipse cx="294.6" cy="2119.4" rx="6.4" ry="2.8" fill="#7564b8" opacity="0.70" transform="rotate(49 294.6 2119.4)"/>
<ellipse cx="294.7" cy="2119.5" rx="3.0" ry="3.0" fill="#7564b8" opacity="0.56" transform="rotate(59 294.7 2119.5)"/>
<circle cx="296.8" cy="2125.0" r="2.8" fill="#3d3088" opacity="0.8"/>
<circle cx="293.1" cy="2116.9" r="2.8" fill="#3d3088" opacity="0.8"/>
<ellipse cx="422.1" cy="2105.7" rx="4.1" ry="1.7" fill="#7564b8" opacity="0.41" transform="rotate(151 422.1 2105.7)"/>
<ellipse cx="429.7" cy="2120.8" rx="6.7" ry="3.3" fill="#7564b8" opacity="0.55" transform="rotate(37 429.7 2120.8)"/>
<ellipse cx="425.2" cy="2113.9" rx="3.0" ry="2.7" fill="#7564b8" opacity="0.72" transform="rotate(179 425.2 2113.9)"/>
<ellipse cx="422.3" cy="2116.3" rx="4.7" ry="2.6" fill="#7564b8" opacity="0.61" transform="rotate(68 422.3 2116.3)"/>
<ellipse cx="416.2" cy="2121.3" rx="6.0" ry="2.2" fill="#7564b8" opacity="0.57" transform="rotate(8 416.2 2121.3)"/>
<ellipse cx="422.9" cy="2116.4" rx="5.4" ry="2.5" fill="#7564b8" opacity="0.72" transform="rotate(91 422.9 2116.4)"/>
<ellipse cx="427.4" cy="2122.9" rx="4.5" ry="2.8" fill="#7564b8" opacity="0.64" transform="rotate(72 427.4 2122.9)"/>
<ellipse cx="422.2" cy="2116.1" rx="4.2" ry="1.8" fill="#7564b8" opacity="0.55" transform="rotate(87 422.2 2116.1)"/>
<circle cx="424.2" cy="2119.0" r="2.8" fill="#3d3088" opacity="0.8"/>
<circle cx="430.4" cy="2116.8" r="2.8" fill="#3d3088" opacity="0.8"/>
<ellipse cx="75.9" cy="2057.3" rx="5.4" ry="2.6" fill="#4a3d98" opacity="0.55" transform="rotate(55 75.9 2057.3)"/>
<ellipse cx="71.8" cy="2053.1" rx="4.8" ry="2.1" fill="#4a3d98" opacity="0.70" transform="rotate(39 71.8 2053.1)"/>
<ellipse cx="76.5" cy="2049.8" rx="2.5" ry="1.6" fill="#4a3d98" opacity="0.62" transform="rotate(122 76.5 2049.8)"/>
<ellipse cx="74.3" cy="2060.1" rx="5.2" ry="3.0" fill="#4a3d98" opacity="0.71" transform="rotate(11 74.3 2060.1)"/>
<ellipse cx="73.7" cy="2055.7" rx="3.5" ry="1.8" fill="#4a3d98" opacity="0.63" transform="rotate(72 73.7 2055.7)"/>
<ellipse cx="74.3" cy="2060.4" rx="2.5" ry="2.0" fill="#4a3d98" opacity="0.64" transform="rotate(103 74.3 2060.4)"/>
<ellipse cx="81.1" cy="2057.9" rx="5.1" ry="2.2" fill="#4a3d98" opacity="0.56" transform="rotate(125 81.1 2057.9)"/>
<circle cx="72.9" cy="2058.5" r="2.2" fill="#3d3088" opacity="0.8"/>
<circle cx="71.4" cy="2058.8" r="2.2" fill="#3d3088" opacity="0.8"/>
<ellipse cx="167.5" cy="2098.5" rx="3.3" ry="2.0" fill="#7564b8" opacity="0.48" transform="rotate(28 167.5 2098.5)"/>
<ellipse cx="176.0" cy="2098.3" rx="2.7" ry="2.3" fill="#7564b8" opacity="0.66" transform="rotate(59 176.0 2098.3)"/>
<ellipse cx="170.5" cy="2100.4" rx="2.0" ry="1.5" fill="#7564b8" opacity="0.71" transform="rotate(175 170.5 2100.4)"/>
<ellipse cx="165.5" cy="2092.5" rx="2.1" ry="1.9" fill="#7564b8" opacity="0.74" transform="rotate(47 165.5 2092.5)"/>
<ellipse cx="177.9" cy="2099.4" rx="3.5" ry="2.4" fill="#7564b8" opacity="0.38" transform="rotate(150 177.9 2099.4)"/>
<ellipse cx="165.8" cy="2095.4" rx="2.8" ry="1.2" fill="#7564b8" opacity="0.60" transform="rotate(62 165.8 2095.4)"/>
<ellipse cx="171.9" cy="2099.9" rx="2.2" ry="2.0" fill="#7564b8" opacity="0.66" transform="rotate(17 171.9 2099.9)"/>
<circle cx="172.2" cy="2101.7" r="1.9" fill="#3d3088" opacity="0.8"/>
<circle cx="171.1" cy="2100.9" r="1.9" fill="#3d3088" opacity="0.8"/>
<ellipse cx="295.7" cy="2103.5" rx="3.5" ry="1.2" fill="#7564b8" opacity="0.48" transform="rotate(121 295.7 2103.5)"/>
<ellipse cx="293.7" cy="2100.0" rx="3.0" ry="1.2" fill="#7564b8" opacity="0.37" transform="rotate(21 293.7 2100.0)"/>
<ellipse cx="291.9" cy="2103.7" rx="4.2" ry="1.7" fill="#7564b8" opacity="0.65" transform="rotate(148 291.9 2103.7)"/>
<ellipse cx="295.6" cy="2098.1" rx="3.8" ry="2.4" fill="#7564b8" opacity="0.65" transform="rotate(8 295.6 2098.1)"/>
<ellipse cx="296.1" cy="2094.0" rx="3.5" ry="1.2" fill="#7564b8" opacity="0.38" transform="rotate(1 296.1 2094.0)"/>
<ellipse cx="289.7" cy="2097.1" rx="2.3" ry="2.3" fill="#7564b8" opacity="0.51" transform="rotate(25 289.7 2097.1)"/>
<ellipse cx="291.5" cy="2097.2" rx="2.5" ry="1.4" fill="#7564b8" opacity="0.67" transform="rotate(18 291.5 2097.2)"/>
<circle cx="293.6" cy="2099.5" r="1.9" fill="#3d3088" opacity="0.8"/>
<circle cx="292.1" cy="2096.0" r="1.9" fill="#3d3088" opacity="0.8"/>
</g>
<path d="M199.9,1769.8v0.3M402.9,1963.3v0.4M284.7,2063.0v0.5M409.5,1775.9v0.7M203.6,2119.0v0.8M325.5,2014.9v0.6M212.9,1902.1v0.6M106.2,1774.0v1.3M402.1,1772.6v1.3M164.2,2031.2v0.8M217.7,1886.8v0.3M237.4,1812.7v1.2M282.4,1824.7v1.1M262.7,1977.4v1.0M322.4,1796.5v1.2M327.4,2030.9v1.0M121.1,2126.7v1.0M397.8,1826.0v0.6M383.7,2134.0v1.0M86.4,1827.6v0.8M29.6,1848.9v0.9M402.0,2000.9v1.2M109.7,2079.6v0.5M128.2,1987.2v0.5M31.0,2006.0v0.4M285.6,1747.9v0.8M390.9,1883.7v0.5M388.0,2099.2v0.8M325.8,1808.7v0.3M117.3,1960.8v1.1M84.8,1764.1v0.6M131.6,1854.8v1.0M173.9,2024.5v1.0M397.4,1957.4v1.3M177.5,1939.1v0.5M109.1,1854.9v1.2M392.5,1900.5v0.7M159.1,1947.6v0.8M429.1,2000.3v0.7M255.2,1903.8v1.3M100.8,2050.2v0.6M185.5,1720.7v0.6M155.5,1817.3v0.9M75.4,1835.2v0.8M242.3,1956.2v0.5M131.8,2035.6v1.3M94.4,1740.1v1.2M431.1,1877.0v1.3M267.3,2092.5v0.3M34.9,2065.5v0.8M69.7,2037.1v0.3M104.6,2023.6v1.0M234.6,1966.3v0.9M131.5,1854.7v0.9M121.0,2044.2v1.2M280.7,1774.6v0.6M264.9,1895.7v0.7M33.6,1871.4v0.7M72.2,2129.2v1.1M417.9,1810.0v1.0M317.8,1810.0v0.9M319.4,1959.1v0.8M128.8,1817.4v0.6M229.1,1883.4v0.5M49.1,2131.3v0.7M385.6,2089.5v0.5M102.1,1802.5v0.3M115.8,1968.7v1.0M96.3,1930.7v0.9M319.6,1998.6v1.1M61.3,1759.2v1.0M207.4,2008.9v1.0M339.5,2010.7v0.7M391.9,1992.5v0.8M360.7,1851.3v0.6M267.2,2126.4v0.5M143.9,1747.7v1.0M219.7,1909.5v0.7M174.9,1953.6v0.5M220.5,1766.6v0.8M227.4,1880.7v0.6M350.8,1804.7v0.8M417.9,1861.3v0.7M303.2,1917.9v1.1M386.3,1804.5v0.8M218.2,1900.6v0.9M103.8,1824.2v0.5M202.9,1839.0v0.6M410.2,1970.2v0.6M65.5,1976.9v0.9M257.8,1722.7v0.9M349.7,1947.3v1.0M169.7,1867.2v0.6M336.2,2024.4v0.8M233.1,1829.9v1.3M41.8,1947.1v0.6M351.7,2120.7v0.9M319.0,1792.0v1.3M209.3,2079.6v0.3M160.6,2004.5v0.5M30.0,1844.2v1.0M376.1,1784.3v0.9M379.0,2032.6v0.9M225.3,1801.4v0.6M255.0,1833.9v1.0M126.7,1972.4v0.5M304.6,2085.0v1.2M196.2,2103.4v0.4M185.4,1826.5v0.7M48.5,1858.7v0.9M330.5,1895.1v1.2M300.0,2023.0v1.1M170.3,2033.1v0.8M142.7,1992.2v1.0M45.8,2011.3v1.3M39.6,2111.4v0.7M403.9,1872.9v0.8M292.2,1833.3v0.5M292.6,1849.3v0.3M144.0,2090.1v1.0M80.3,1923.1v0.9M96.7,2058.1v1.3M293.1,2043.2v0.7M126.8,1995.2v1.2M324.5,1768.3v1.3M393.6,2001.2v0.5M95.9,1753.7v1.1M249.2,2130.0v0.5M172.4,1824.2v1.2M336.7,2017.6v0.8M135.3,1875.0v0.4M315.3,1964.3v0.8M379.8,1760.2v0.9M69.7,1813.3v1.0M234.0,2080.0v0.5M171.9,1866.3v0.6M300.2,1848.4v0.7M344.8,1736.3v1.0M227.2,1880.5v0.7M95.5,1759.0v1.0M157.5,1810.8v0.5M281.9,2004.8v0.9M36.0,1893.7v0.7M97.5,2024.6v0.7M368.5,1916.3v0.5M378.2,1728.3v0.6M173.3,1750.5v0.9M148.3,2110.1v1.2M42.6,1787.8v1.0M312.6,1802.5v0.6M426.2,2106.9v0.7M311.2,2122.2v1.0M196.2,2106.6v0.9M300.1,2093.0v0.4M70.1,1731.3v0.6M420.4,2012.5v0.7M270.0,1893.1v0.8M166.8,2102.7v1.0M49.7,1966.3v1.2M182.5,1758.6v0.4M244.5,1863.7v0.8M303.6,1890.9v0.9M268.1,1949.7v0.8M111.5,1820.5v1.0M406.9,1748.8v0.4M209.1,2109.5v1.2M115.9,1967.9v0.4M353.1,1732.6v1.2M170.4,1837.0v0.6M72.6,1857.5v0.5M39.3,1905.8v1.1M333.7,1937.6v0.4M211.5,1813.2v0.8M383.4,1787.4v0.8M216.3,1893.8v0.4M397.7,2089.0v0.5M377.2,1899.7v1.2M151.4,1727.6v1.3M172.7,1721.4v0.5M161.3,2062.4v1.3M137.5,1755.9v0.4M426.4,1908.0v0.4M151.6,1924.8v0.9M242.7,2037.3v0.7M367.2,1998.8v0.9M66.0,1840.3v0.6M380.7,2079.4v1.0M302.4,1762.2v0.3M57.8,1896.0v0.6M428.5,1744.8v0.9M151.3,1782.1v1.1M359.5,1909.6v0.8M73.1,1963.0v1.0M385.9,2057.5v1.1M104.8,2101.0v0.4M122.2,1938.6v1.0M285.7,1968.7v1.0M189.2,1721.9v0.6M260.9,2013.1v0.7M249.4,2071.2v0.9M220.4,1877.7v0.4M177.5,2123.8v0.8M213.6,1987.4v0.5M206.3,1808.7v0.8M232.2,2047.1v1.1M173.2,2130.7v0.9M183.7,1773.1v0.3M170.0,1967.8v0.6M78.5,1908.2v0.4M115.2,1918.4v1.0M163.8,2000.1v0.6M82.4,2046.4v0.9M292.5,2024.4v0.8M52.9,1767.9v0.8M292.8,1718.9v1.0M397.5,1963.2v1.2M225.0,2028.2v0.3M242.7,2026.0v1.1M400.3,1878.6v0.3M328.3,2128.7v1.2M376.8,1713.1v1.0M400.4,1833.2v0.9M266.8,1868.3v1.2M63.9,1777.4v1.0M336.6,1911.1v1.2M104.5,1810.6v0.3M365.8,1833.6v0.9M222.0,1937.5v0.6M75.3,2049.6v0.7M167.0,1936.7v0.3M328.6,1849.4v0.6M133.6,1722.0v1.0M296.9,2050.2v0.8M375.8,1878.0v0.8M356.7,1834.9v0.8M169.7,1727.1v1.3M369.6,2040.7v0.3M394.1,1758.6v1.2M176.3,1710.4v1.1M36.1,2058.9v0.4M362.3,1722.9v0.4M305.0,1966.3v1.0M77.0,1946.5v1.2M355.5,2070.3v1.0M357.6,1923.1v0.8M271.5,2057.0v0.5M137.3,2062.4v0.5M74.7,2047.8v1.3M78.3,1720.7v0.8M258.5,1984.5v0.9M223.0,1747.9v0.7M218.4,2129.7v0.8M289.1,1987.1v0.9M298.7,1750.8v0.5M108.0,1888.6v0.6M388.1,1743.7v0.4M327.5,1730.3v0.3M131.7,1872.1v0.8M265.2,2027.1v1.2M131.1,1898.3v0.7M101.7,1944.7v1.2M115.9,1772.8v0.4M189.0,2134.8v0.9M73.2,2121.6v0.5M207.9,1960.6v1.3M380.0,1852.4v1.3M267.0,2056.7v0.6M281.8,2016.1v1.3M369.6,1962.1v0.4M318.8,1757.0v1.2M412.7,2077.1v0.4M270.3,1977.3v1.1M375.8,1758.4v0.5M27.8,2127.8v0.8M268.1,2078.5v0.5M158.7,1984.4v0.6M327.2,1878.3v0.9M249.0,1866.9v1.3M360.5,1825.3v0.9M271.5,1803.5v0.5M196.9,1957.2v1.1M249.2,1918.2v0.8M41.9,1838.5v1.1M287.2,1739.4v1.2M382.6,2071.0v1.1M159.3,1816.8v0.7M195.4,1726.2v0.5M305.0,2068.4v0.4M96.7,1807.7v1.1M218.9,1829.7v0.9M322.9,1951.9v0.9M349.9,1940.8v0.9M198.6,2077.6v1.2M253.9,1968.1v1.2M73.2,1853.4v0.6M264.5,2038.8v0.9M254.4,2039.0v0.7M297.2,2034.8v0.8M332.9,1710.6v0.9M321.2,2003.4v0.4M236.4,1977.5v1.0M411.5,1751.7v0.5M296.7,1721.4v0.7M46.3,1976.3v0.9M69.4,1766.0v0.6M151.8,1914.7v0.9M159.0,1712.3v0.4M373.3,1785.4v1.2M198.9,1776.6v0.9M57.0,1809.3v0.9M175.2,1738.7v1.0M128.2,2118.3v0.5M94.1,1825.9v1.1M381.8,2051.9v0.5M188.1,1936.1v0.8M404.9,2038.1v0.8M83.8,2133.5v1.3M359.4,2027.7v1.0M407.3,2027.4v0.9M246.5,1966.9v0.4M276.5,1745.8v1.2M69.6,1823.8v1.0M89.0,1785.8v0.8M406.9,2124.6v0.4M32.9,1777.7v1.1M289.3,2064.8v0.8M199.6,2061.8v0.7M359.5,1953.1v0.4M37.3,1912.0v0.6M425.4,1724.3v0.8M329.3,1839.2v1.0M182.2,1798.4v0.4M264.7,1993.1v0.9M162.7,1746.6v0.5M378.7,1867.4v0.9M95.1,1807.6v0.4M427.8,1817.3v0.7M91.1,1892.8v1.3M180.9,1705.1v0.7M273.3,1850.4v0.3M301.9,1891.2v1.2M420.9,1966.8v1.1M326.6,1735.9v0.9M338.6,2041.8v0.9M328.2,2050.2v1.1M119.2,2128.4v1.2M64.0,1832.3v0.4M239.5,1766.0v0.7M169.8,1954.3v0.6M71.1,1703.8v1.2M181.3,1980.2v0.4M54.4,1934.1v0.9M402.6,1817.6v1.2M420.8,1865.0v0.9M61.8,1992.2v1.1M363.4,1965.5v0.6M83.0,1887.3v0.9M41.7,1844.1v1.2M270.4,2099.5v0.4M232.4,1807.5v0.9M419.1,1977.6v1.3M335.5,1792.8v1.1M299.5,1990.8v1.2M78.9,2034.5v1.2M27.6,1954.1v0.8M206.4,1843.4v0.4M240.5,2074.9v1.1M33.0,1953.9v0.6M388.4,2053.3v0.7M133.8,1715.8v0.7M94.4,2037.1v0.8M231.5,1742.3v0.4M103.4,1773.3v0.4M159.0,1937.9v0.8M195.2,1921.4v0.4M191.9,1987.9v0.3M296.0,2098.6v1.3M419.1,1840.0v0.6M59.3,1729.7v1.0M221.9,1721.5v1.0M368.7,1977.4v0.7M162.4,1723.4v0.6M427.1,2070.2v0.5M374.6,1712.7v0.5M177.4,1779.8v1.1M345.8,2037.0v0.9M286.5,2101.9v1.1M297.9,2134.7v0.3M201.9,1925.5v1.0M80.6,1899.2v0.8M278.0,2042.2v0.8M416.5,1782.2v1.2M261.8,2037.4v1.2M365.9,2077.3v0.7M106.9,1889.6v0.8M245.7,2000.1v1.2M44.2,1761.1v0.5M175.6,1855.3v0.3M102.1,1793.0v0.8M147.9,2067.7v0.3M312.8,1859.6v1.1M117.4,2104.6v0.5M87.8,2090.5v1.0M338.2,1893.8v1.2M393.6,2057.4v1.1M404.5,1769.2v1.1M89.5,1989.1v0.6M185.8,1820.4v0.4M240.3,2080.6v0.7M99.6,2051.7v0.6M67.8,1724.5v1.0M415.8,2000.5v0.9M313.5,2027.9v1.3M284.1,1768.9v1.3M304.5,1874.6v1.2M388.6,1872.8v0.7M89.4,2112.9v1.0M292.2,1796.9v1.0M410.3,2077.1v0.8M61.0,1981.8v0.4M200.2,1883.3v1.2M329.3,1756.2v0.8M289.6,1809.3v0.9M46.6,2019.6v0.9M398.8,2095.7v0.6M48.2,1988.2v1.0M326.6,1840.4v0.7M353.4,1962.9v0.6M72.6,2010.5v0.6M405.2,2065.6v0.7M113.0,1713.8v0.8M317.9,1742.3v0.7M177.6,1907.4v0.9M209.9,2003.2v0.5M324.2,1911.1v0.9M276.8,2092.6v1.3M31.7,2009.5v0.8M285.8,1804.8v0.7M195.3,1879.7v1.2M148.8,1896.7v0.3M160.7,1810.9v0.7M90.3,1829.4v0.6M213.9,1905.3v0.9M286.5,1907.8v0.7M235.2,1984.9v0.7M426.4,2051.8v1.1M84.0,1797.9v0.9M378.6,1897.6v1.1M270.2,1704.9v1.3M396.3,1866.9v1.1M108.9,1981.6v0.9M184.7,2071.1v0.4M98.9,1949.0v1.0M35.3,1995.5v0.5M238.2,1919.5v1.0M190.0,2039.4v0.6M411.2,1855.9v0.5M156.8,2109.4v1.0M157.6,1749.5v1.0M317.5,1762.1v0.7M356.9,1969.1v1.3M274.0,1777.6v0.8M317.9,2134.5v0.6M85.3,2063.0v1.0M78.7,1908.4v1.3M206.0,1936.8v0.4M425.1,1863.8v0.8M148.0,2110.0v0.7M290.0,2052.7v1.1M230.2,2064.2v1.0M165.9,1915.2v0.9M253.9,1994.3v0.7M362.2,2078.1v0.5M335.7,1774.9v0.7M334.1,1716.0v1.3M114.2,2071.8v0.9M243.7,2106.3v0.6M414.5,2022.9v0.8M219.0,2052.3v0.4M118.8,1855.2v1.0M402.1,1992.5v0.5M374.4,2126.0v1.1M146.8,2042.0v0.4M260.8,2011.5v0.8M157.8,1944.2v0.9M208.2,1827.9v0.5M413.8,2108.3v0.4M101.0,1941.2v1.1M263.9,2129.5v0.6M191.0,1776.8v1.1M121.1,1807.1v1.2M94.4,1847.0v1.2M130.5,1798.1v1.2M393.9,1856.1v1.0M276.2,2036.5v1.0M81.6,2001.1v0.5M361.5,1736.9v0.5M229.8,2058.0v0.7M184.2,1768.9v1.0M150.3,1839.3v0.3M128.0,1773.5v0.4M112.2,2064.6v0.8M398.5,1943.5v0.8M256.8,2004.9v0.5M131.0,1979.3v1.0M231.0,1890.7v1.1M83.4,1750.3v1.0M345.5,1845.7v1.3M145.8,1812.7v1.0M256.4,1715.8v0.4M71.3,1854.1v0.3M331.4,1980.1v0.9M133.3,1770.5v1.2M210.5,1831.0v0.8M246.7,2088.9v0.8M134.0,1737.8v1.2M354.8,2006.8v0.5M385.9,1915.5v1.0M39.4,1924.1v1.1M353.8,2047.1v0.7M127.1,2075.8v1.2M403.2,1929.9v1.2M31.1,2089.6v0.5M105.8,1888.2v1.0M133.3,1788.1v1.1M259.0,1892.8v1.1M291.4,2098.2v0.7M87.6,1733.2v1.0M156.6,1723.7v0.8M271.2,2097.8v0.6M167.6,2098.5v1.0M86.2,1864.4v0.5M314.4,1994.8v0.8M44.0,1922.9v0.5M234.5,1799.4v0.4M386.4,1972.0v1.1M280.8,1717.9v1.3M126.2,1716.1v0.6M61.0,1876.3v1.0M232.4,1910.9v1.3M218.0,2114.2v1.0M194.3,2072.6v0.5M107.6,2094.4v0.7M213.3,1989.5v1.2M250.8,2117.2v1.0M282.0,1970.7v0.6M382.3,1800.3v1.2M322.0,1853.4v0.5M346.1,1994.6v1.1M100.5,1775.9v0.5M232.9,2029.7v0.7M68.8,1912.3v0.7M359.2,2130.9v0.8M138.1,1787.9v0.3M36.1,1780.0v0.5M188.4,2060.9v1.2M370.9,1980.2v1.3M411.4,1821.7v0.7M424.2,2130.6v0.6M127.9,2049.2v0.4M422.2,1792.9v1.1M274.3,1904.7v1.2M125.5,2009.3v0.5M338.0,1971.4v1.0M348.7,1902.5v1.0M357.6,2095.6v0.9M49.2,1907.3v1.2M309.2,1774.9v1.1M329.3,1753.4v0.4M256.6,1800.6v0.3M371.4,2102.1v1.3M126.5,2118.2v0.4M336.4,1854.2v0.8M423.6,2018.4v0.7M327.5,1878.6v0.8M49.2,2129.5v0.3M27.9,1809.7v1.0M328.1,1752.3v0.6M233.7,2102.8v0.5M90.4,1847.0v0.5M410.4,2101.1v0.3M296.8,1857.2v0.4M366.4,1826.6v0.3M126.6,2052.0v0.5M430.3,1951.8v1.1M353.6,2031.3v1.0M85.8,2079.3v0.4M171.5,2108.3v1.1M134.4,2122.3v1.0M55.5,1940.4v0.6M393.9,1740.3v0.8M116.1,1976.6v0.5M97.4,2058.7v0.9M204.2,1724.7v0.4M272.0,1831.7v1.2M122.2,2086.4v1.2M34.6,1906.3v0.7M288.1,2114.7v0.3M382.9,1890.3v0.7M305.7,1840.0v0.4M38.7,1723.9v1.3M91.3,2009.5v0.7M395.4,1794.4v0.5M110.0,1898.3v0.3M193.8,1902.2v1.0M337.6,2067.2v0.5M367.8,2125.7v1.2M142.1,2011.5v0.5M372.4,1937.5v0.6M94.7,2122.1v0.4M76.7,2089.2v1.2M36.0,2025.6v1.2M365.3,1754.2v1.2M76.6,1769.2v0.7M368.2,1903.2v1.2M30.2,2099.3v1.0M404.6,1774.0v0.4M225.0,1789.8v1.0M293.4,2115.8v0.6M249.5,2123.4v1.0M126.2,2079.0v0.8M314.2,1840.3v1.0M428.7,2073.6v0.9M160.0,1772.4v0.9M130.1,2077.7v0.5M167.6,1869.9v1.2M252.4,1756.4v0.3M108.7,1950.3v0.9M247.2,1989.1v0.6M219.1,2119.3v1.2M361.9,1819.0v1.3M412.0,1703.5v0.4M131.9,2074.3v0.8M258.1,1811.0v0.4M279.3,2072.5v1.0M334.7,1713.1v0.6M414.3,2095.7v0.8M227.8,2065.7v0.5M429.0,2030.1v1.0M204.4,1978.0v1.2M209.7,1928.5v0.6M377.6,1898.6v0.7M119.9,2118.5v1.3M334.9,1881.4v0.5M48.2,1770.0v0.9M284.7,2094.3v0.5M398.2,2100.6v1.1M293.2,1816.5v0.8M360.5,1890.3v1.1M371.0,2012.8v0.5M277.7,1719.3v0.5M59.6,1783.9v0.7M112.5,1859.5v0.7M102.8,1783.9v1.3M97.6,2125.4v0.7M256.1,2063.7v0.4M393.9,1899.8v0.4M146.5,2048.1v0.7M374.7,2078.1v1.2M280.2,2024.3v1.1M381.4,2114.1v0.3M418.6,2130.2v0.7M285.8,2072.3v1.1M70.0,2065.2v0.6M315.4,1838.0v1.1M142.9,1746.3v0.7M169.8,1763.2v1.3M415.9,1993.4v1.1M281.9,1864.8v0.8M101.4,1712.5v1.1M256.2,1951.3v0.7M334.4,2043.7v1.0M332.5,2045.2v1.1M393.0,1922.8v0.6M337.7,1869.5v0.4M59.9,2102.9v0.3M403.3,1906.6v1.2M179.0,1915.6v0.7M127.3,1973.2v0.7M221.4,1752.6v1.1M34.0,2015.1v0.5M39.3,1916.1v1.2M216.5,1733.2v0.7M320.0,2134.0v0.4M253.8,1739.5v0.7M372.1,1975.8v0.9M187.4,2008.7v0.9M251.1,2104.7v0.8M160.0,1822.3v0.7M401.5,1884.2v0.3M400.3,2034.5v1.2M315.1,2092.0v0.4M371.1,1717.4v1.3M119.4,1765.0v0.8M289.5,2068.7v0.8M390.6,1811.0v0.3M145.7,1800.0v0.9M396.8,2060.0v0.9M56.6,1961.5v1.0M317.2,1719.1v0.5M254.7,1957.6v1.2M400.0,2021.4v0.8M326.4,1903.8v0.5M277.1,1951.5v0.5M82.7,1882.2v1.0M342.9,1724.0v0.3M82.1,1842.9v0.7M147.8,1791.9v1.0M283.7,1866.4v0.8M234.9,1868.6v0.9M162.2,1716.2v0.4M37.1,2055.1v0.9M274.1,1849.8v0.8M263.6,1819.5v0.4M63.6,1882.6v1.0M271.7,1765.1v0.7M59.3,1942.3v1.3M202.1,1947.4v0.9M133.4,1899.4v0.7M124.7,1895.1v0.9M166.9,2001.3v1.2M241.2,2037.9v1.2M364.6,1993.2v1.2M195.4,1745.0v0.4M428.8,1807.7v0.5M79.4,1787.4v0.4M259.1,1926.7v1.1M379.0,1869.7v0.6M192.4,1932.9v0.7M396.5,1949.3v0.6M385.0,1949.5v0.8M101.3,1863.6v0.8M373.3,2044.9v0.3M80.6,1828.6v0.6M131.2,2076.0v1.2M91.1,1773.4v0.5M118.1,1748.0v0.4M390.7,1868.9v0.9M385.3,2113.2v1.0M218.0,1913.4v0.5M164.9,2123.5v0.3M418.1,1792.8v1.1M176.2,2110.5v0.7M256.4,1776.4v0.8M90.0,2003.8v0.9M42.6,1747.8v1.2M266.2,1757.9v0.4M138.2,2108.0v0.5M377.6,2063.0v0.4M236.1,1786.7v0.3M378.3,1926.2v0.3M91.2,1848.8v1.1M349.7,1862.2v0.7M186.5,1864.7v0.6M247.0,1761.3v1.1M57.1,2133.4v0.8M233.2,1896.2v0.5M88.4,1732.4v0.5M64.2,1926.1v1.0M39.0,2034.7v0.6M425.1,1905.4v0.7M37.1,2052.3v0.6M244.1,1706.6v1.0M72.9,1764.5v0.3M153.3,2005.2v0.7M42.8,2131.5v1.0M339.9,2003.4v0.5M405.9,2062.7v1.0M195.3,1906.9v1.3M167.0,2125.3v1.0M201.9,1789.3v1.0M350.0,1922.7v0.5M204.3,1984.6v1.2M257.0,1953.1v0.9M338.9,1906.4v0.3M53.5,1823.4v1.0M272.5,2107.2v1.3M149.1,2066.7v1.0M360.7,2027.0v0.8M368.1,2076.1v0.4M408.3,1998.0v0.4M28.4,1851.5v1.1M186.5,2128.7v0.3M287.1,1923.3v0.9M257.9,1814.4v0.6M95.9,1878.1v0.8M76.0,2100.8v0.9M58.8,1824.8v0.4M290.3,1864.6v0.7M165.8,1763.3v1.2M67.8,1788.7v0.9M400.9,1725.3v0.8M316.0,2000.4v1.1M269.5,2105.4v0.9M135.4,2017.2v0.4M198.6,1771.2v0.3M280.3,2069.8v0.6M99.7,1997.5v0.9M264.3,1979.6v0.3M205.3,2113.3v0.6M398.5,1800.3v0.5M107.1,1913.0v1.1M331.0,2051.4v0.9M395.0,2071.7v0.6M80.9,1710.6v0.6M90.4,1935.3v0.5M265.6,1738.5v0.5M151.5,2052.7v0.9M406.3,2013.5v1.2M217.7,1796.6v0.5M411.0,2013.3v0.8M343.5,2046.5v0.3M83.1,1735.3v0.7M79.0,2011.5v0.7M332.8,2000.7v0.6M393.4,1900.1v0.3M186.4,1742.1v0.6M323.4,1711.4v1.2M387.7,1914.7v1.0M306.4,1914.1v0.5M375.1,2015.4v0.6M427.0,2020.5v0.4M92.0,2079.7v1.0M164.1,1801.3v0.7M147.9,1923.3v0.5M78.2,1724.2v1.0M232.6,1758.8v0.7M115.5,1846.6v1.0M171.0,2037.8v0.8M302.6,2126.8v0.8M418.0,1787.2v1.0M314.5,1714.0v1.0M193.4,1947.5v0.9M349.5,1723.3v0.8M404.5,1970.8v0.8M178.0,1841.8v0.4M55.0,2132.8v0.5M326.7,1806.7v0.9M146.9,2021.8v1.3M364.8,2034.2v0.8M286.5,1961.3v0.6M372.6,1797.7v0.7M97.4,1993.3v0.4M326.0,1895.4v1.1M319.2,2109.6v0.9M56.2,2020.6v0.7M56.4,1762.8v0.7M314.2,2107.8v0.7M415.5,2041.2v0.7M193.3,2101.0v0.4M427.7,1714.3v1.1M238.6,2047.3v1.2M268.4,2046.7v0.9M214.4,2040.7v0.7M200.3,1854.5v0.9M359.3,1971.1v0.3M52.1,1931.4v0.8M70.9,1751.4v0.4M143.7,1804.3v1.0M273.1,1751.3v0.6M225.6,1981.1v0.7M177.4,1713.8v0.4M314.3,2062.7v1.0M240.8,2038.1v0.4M349.0,1728.7v0.9M223.7,1876.6v1.0M337.8,1955.6v0.9M49.6,1742.9v0.3M188.7,1827.4v0.5M129.2,1733.7v0.4M231.0,2100.0v1.0M328.1,1715.5v0.8M417.5,2081.5v0.3M149.9,1814.8v0.5M91.7,1805.6v0.4M163.4,2116.0v1.2M341.1,2082.2v0.5M252.6,1822.3v0.6M43.2,2010.6v0.7M108.9,1926.7v0.7M108.7,2126.5v0.9M94.0,1766.1v1.1M428.3,1776.1v0.8M160.8,1776.5v0.9M146.3,1976.7v0.9M261.5,1884.7v0.4M414.5,1721.3v0.4M191.6,2104.8v0.8M160.3,1740.0v0.5M281.5,2130.3v1.3M399.3,2116.7v0.6M53.2,1989.1v0.3M233.8,2056.9v0.6M117.7,1803.2v0.9M273.7,1821.9v1.1M228.8,1894.4v0.3M211.1,1852.1v0.5M378.0,2068.5v0.5M107.2,2034.4v0.8M396.3,2105.6v1.0M162.1,1928.5v0.9M370.0,1830.3v0.7M172.6,2039.7v0.6M183.9,1713.7v1.2M91.6,2120.5v0.4M31.8,1847.3v0.7M393.9,2113.8v0.4M201.0,1810.8v0.9M110.3,1820.8v0.8M358.7,2116.7v0.9M324.1,1798.9v0.7M225.7,1803.7v0.5M31.1,1959.4v0.9M197.8,1986.8v1.1M131.2,1979.2v1.1M121.1,2056.1v0.4M126.7,1819.3v0.9M171.7,1907.9v1.1M85.1,1992.9v0.4M48.7,2091.7v0.5M337.2,2120.9v0.9M365.3,2124.6v1.0M365.8,2021.5v1.2M157.1,2013.1v1.0M363.0,1743.2v0.7M398.2,2037.5v1.0M215.2,2074.8v0.7M91.8,1755.4v0.9M36.1,2116.1v0.4M90.0,2005.5v0.3M299.3,1892.1v0.9M351.8,1853.8v1.1M230.9,2080.0v0.5M236.1,2120.4v0.9M232.6,1792.4v0.6M88.3,1880.2v0.8M100.0,1710.5v0.9M247.9,1875.3v0.4M65.2,1820.7v1.2M68.3,1747.2v0.4M48.0,1942.9v0.8M360.0,2065.0v0.6M207.9,2044.0v0.8M251.8,1714.1v0.3M170.9,1779.9v0.7M126.6,1948.5v0.5M90.3,2080.9v1.2M242.7,1856.7v0.8M375.7,1895.6v0.6M429.9,1839.0v0.4M26.6,1915.8v1.0M140.2,2132.8v0.5M423.3,2128.9v0.6M428.1,1746.0v0.7M222.9,2001.6v0.9M52.9,1970.0v0.6M350.4,1905.3v1.3M415.1,1971.5v0.8M188.2,1832.2v1.1M253.6,2016.2v0.6M218.5,2036.2v0.7M120.6,1910.6v0.9M289.0,1777.2v0.4M218.6,2086.6v0.5M371.0,1825.3v1.0M125.6,1704.2v1.3M379.1,1889.9v1.2M50.4,1955.4v0.9M88.7,1706.1v0.7M251.1,1882.5v0.8M65.6,1824.4v0.9M262.0,1839.0v1.0M40.1,1712.1v0.6M28.2,1946.1v1.3M330.6,1723.9v0.8M360.9,2032.6v1.1M101.4,1964.9v0.8M72.5,2057.8v0.4M221.9,1879.4v0.6M66.2,1913.5v0.3M420.1,1785.3v0.5M237.9,1929.0v1.2M119.9,2092.0v1.0M151.8,2000.7v1.3M412.9,2045.8v0.8M36.5,1832.5v0.5M367.1,1815.4v1.0M327.7,1889.4v1.0M365.5,1963.3v0.8M365.0,2006.3v0.9M371.6,2070.9v0.6M413.7,1901.9v1.0M214.8,2121.7v0.4M370.3,1768.6v1.3M362.9,1703.9v0.6M44.6,1984.0v1.0M65.6,1933.0v0.8M96.9,1887.0v1.3M116.2,1745.9v1.0M162.6,1954.0v0.3M318.5,2003.1v0.8M399.8,2097.3v1.2M431.2,2093.1v0.4M330.7,2109.1v1.3M133.7,2101.1v1.2M279.1,1968.9v0.7M170.0,1852.1v1.1M290.7,1858.3v1.0M325.0,1785.7v0.5M371.8,1760.1v0.5M340.3,1796.1v1.0M401.6,1932.9v0.8M113.1,2106.7v1.1M163.8,1937.5v1.2M201.2,1849.6v0.8M358.9,2025.9v0.4M224.2,2073.0v1.0M421.4,2000.7v0.8M107.0,1882.8v1.0M170.7,1915.2v0.3M362.5,1737.4v0.8M131.7,1971.7v0.4M78.7,1947.3v0.9M59.0,1981.6v1.1M311.7,1915.5v0.4M236.5,1884.3v0.7M48.4,1728.1v0.8M238.4,1947.2v0.5M124.8,1727.2v1.1M135.5,1808.4v1.1M76.9,1902.6v1.2M377.8,1729.6v0.6M138.2,1974.9v1.2M248.4,2042.6v0.5M97.8,1930.1v0.9M245.4,1795.8v1.3M353.2,1949.2v1.1M321.3,1950.4v0.6M289.5,2008.7v0.6M41.7,1933.6v0.6M367.8,2096.1v0.3M411.6,1873.0v1.2M55.0,1958.0v1.2M40.6,1727.9v1.3M172.0,1983.3v1.0M130.2,1719.8v0.6M391.6,1783.1v0.5M397.0,1927.6v0.9M143.3,1775.9v0.9M356.5,1787.1v0.9M241.1,1969.2v0.6M320.6,1780.8v1.1M361.7,1861.3v0.6M218.4,1995.0v1.0M280.5,2029.4v0.8M205.0,1704.7v0.5M247.9,2055.3v1.2M252.9,1948.1v0.6M355.7,1838.8v1.0M184.8,1755.0v0.8M117.0,1704.3v0.9M259.9,1848.2v1.2M368.2,2108.0v0.6M386.4,1874.6v0.6M129.9,2077.6v0.5M180.2,2038.8v0.3M396.4,1975.8v0.8M194.7,1791.5v1.3M120.1,1931.2v0.6M96.0,1927.9v1.0M70.4,1760.6v0.8M93.0,1962.8v0.7M63.8,2047.8v0.6M402.3,2060.6v0.9M406.1,1836.3v1.0M187.9,1858.3v0.7M366.1,1775.0v1.0M390.4,2002.4v1.2M267.6,2022.1v0.6M375.3,1848.5v1.1M291.8,2049.2v1.2M232.0,1822.2v0.5M285.3,2063.4v0.5M161.1,2001.6v0.8M50.8,1971.2v0.4M300.3,1712.5v0.8M250.1,1791.7v0.7M94.0,2083.1v1.3M415.2,2067.1v0.9M391.7,2133.0v0.5M49.4,1989.5v0.7M274.0,1851.9v0.8M225.0,1714.0v1.2M76.6,1792.9v1.1M82.0,1915.8v1.3M255.4,1902.9v0.4M326.3,2089.2v1.0M135.4,1972.7v1.2M123.4,2061.8v1.3M348.9,1798.8v1.0M353.0,1940.3v0.4M373.0,2053.9v0.7M129.3,1909.8v1.2M403.5,2122.8v1.1M254.3,1766.0v0.7M87.1,1966.3v1.2M361.7,2125.7v0.3M79.6,2014.0v0.6M59.3,1779.3v0.7M190.0,2073.6v1.0M409.1,1871.3v1.1M413.7,2108.0v0.9M57.2,2007.9v0.9M342.6,2069.3v0.8M253.6,1976.3v0.8M116.2,1713.8v1.2M403.9,1717.3v0.9M299.7,1996.6v1.1M223.6,1832.0v0.9M411.8,1783.4v0.6M47.1,1844.5v1.2M63.6,1795.1v0.6M292.1,1808.7v1.0M106.2,1796.5v1.1M386.8,2114.0v0.4M155.4,1772.1v0.5M357.5,1879.1v0.6M376.2,1885.3v1.2M132.1,1863.3v0.8M305.2,2074.1v1.1M89.2,1859.5v1.1M412.9,1863.3v1.0M119.8,2110.9v0.7M406.5,1933.9v1.2M102.4,2132.9v0.8M63.7,1872.8v0.7M376.3,2060.0v0.6M284.8,1720.7v0.6M323.5,1844.0v0.7M29.0,1839.1v1.1M268.1,1775.2v0.8M119.4,2099.3v0.3M136.9,1813.2v1.2M302.4,2054.4v1.2M74.3,1886.7v0.4M328.2,1903.4v1.1M291.7,2112.4v1.0M89.7,1795.8v0.5M129.5,1954.4v0.9M284.1,1811.5v1.0M360.6,2013.0v1.3M226.6,1739.8v1.1M42.7,2030.0v1.0M339.1,1941.0v0.6M232.8,1946.7v0.6M310.7,1730.2v0.3M328.5,1970.6v0.7M204.1,1854.7v0.6M174.1,2063.6v0.9M405.3,2009.9v0.6M258.3,2027.6v0.4M250.9,2079.0v0.4M224.5,2051.9v0.9M375.8,1948.4v0.5M408.8,2051.4v1.1M418.1,1956.6v1.2M423.1,1826.7v1.0M425.8,2031.4v0.5M211.0,1804.4v0.6M251.1,1897.2v1.1M276.4,2062.6v0.9M103.0,1791.9v0.4M56.9,1864.8v0.4M298.1,2065.1v0.7M318.5,2113.2v1.2M303.9,1816.9v1.2M312.5,2041.2v0.6M91.6,1846.6v0.5M394.1,1791.2v0.8M350.2,1939.9v0.4M242.5,1716.3v1.0M210.7,2008.0v1.2M224.9,1864.4v0.5M359.5,2044.8v1.2M350.5,1819.1v0.5M213.1,2043.6v0.7M329.0,1787.5v0.8M169.6,2036.7v0.6M378.5,1776.2v0.8M425.6,1775.4v0.7M189.3,1893.7v1.1M282.9,1970.8v0.7M84.9,1894.2v1.1M234.8,1974.7v0.4M366.6,2075.6v0.6M31.6,1755.1v0.5M65.2,2103.0v1.2M184.6,2094.8v1.1M155.2,1902.3v0.4M334.6,1799.9v0.7M82.1,2057.5v0.7M321.3,1772.7v1.0M83.7,1881.6v0.6M416.9,1873.9v0.7M149.8,2063.8v0.4M391.3,2119.8v0.5M283.6,1758.9v0.9M100.8,2100.6v0.4M277.2,1827.9v0.3M29.7,2057.5v1.1M57.6,1900.0v0.4M83.9,2123.4v1.3M214.3,1815.3v0.5M339.7,1928.8v0.5M234.9,1912.8v1.1M338.0,2107.6v0.9M424.7,1789.6v0.5M136.7,1927.0v0.9M191.1,1868.8v1.1M309.9,1849.8v0.3M94.8,1937.9v1.3M61.8,1823.6v1.0M109.9,2091.7v1.1M154.6,1877.0v0.3M114.9,2000.5v0.6M144.3,1955.1v0.6M37.3,2034.6v0.3M189.8,1877.6v0.5M86.8,1726.5v0.7M158.3,2078.5v0.8M162.3,1847.3v0.6M210.7,2073.2v1.2M55.8,2099.5v0.5M420.1,1835.4v0.4M193.8,1832.0v1.2M203.7,1880.9v0.7M359.8,1886.2v1.3M340.9,1758.1v0.4M135.1,1764.7v1.1M112.8,2026.2v1.2M213.3,1851.9v0.9M431.1,1851.5v0.7M304.9,2090.1v1.1M113.4,1764.6v1.2M75.4,2000.0v0.5M387.5,1772.2v1.3M212.4,1830.5v0.3M166.6,1983.4v0.4M72.6,2008.3v0.5M266.9,1721.9v0.7M127.9,2011.4v0.4M144.4,2055.1v0.8M188.0,1815.4v0.8M78.3,1846.3v0.3M339.2,1984.1v0.3M114.1,2019.7v0.6M168.6,2036.7v0.5M266.7,1718.7v0.4M117.4,2116.0v1.3M293.0,2113.1v0.9M39.3,1744.9v0.5M182.2,1859.1v0.4M312.8,2064.9v0.8M285.5,1735.8v0.8M345.0,1864.6v0.6M297.5,2051.8v0.7M230.4,1756.3v1.1M137.2,1782.2v0.5M195.8,2057.2v0.7M85.7,1901.5v0.5M251.9,2118.2v0.5M405.2,2054.6v0.3M66.8,1954.9v0.8M140.8,1755.4v0.9M403.8,1954.9v0.6M175.5,1764.1v0.5M214.9,2024.9v0.3M383.7,1804.0v0.6M378.9,1845.7v0.7M42.3,1830.6v0.7M84.8,2118.8v1.1M144.1,1718.7v0.3M392.6,1816.2v0.4M221.3,1940.1v0.3M292.2,1771.9v1.1M353.5,2003.3v0.6M427.2,1799.9v0.5M345.0,1724.0v0.7M246.3,1867.3v0.8M225.8,1853.7v0.4M398.4,2098.5v0.9M148.9,1754.6v0.8M35.9,1892.4v0.4M417.2,1937.7v1.2M147.6,2092.9v0.6M340.4,1975.6v0.7M257.4,2008.3v1.2M115.3,1954.5v0.4M112.4,1728.3v1.2M379.0,1737.9v0.7M145.4,2008.0v1.3M134.9,1755.4v0.5M172.0,1724.1v0.9M355.6,1732.5v1.2M390.6,1942.3v0.6M157.2,1813.1v0.7M334.7,1899.6v0.6M115.4,2055.9v1.1M328.9,1967.7v0.7M396.0,1925.3v0.5M136.4,1810.0v0.8M289.5,1813.1v1.0M365.5,2126.5v1.1M27.5,1938.3v1.1M54.6,2077.1v0.8M424.1,2047.7v1.2M298.4,2040.4v0.4M355.7,2093.8v0.8M88.0,2040.1v0.8M172.7,1976.1v0.3M290.0,1976.5v0.4M127.4,2106.6v1.0M411.9,1889.9v0.7M136.1,2127.1v1.1M74.1,1880.9v0.7M155.0,2091.6v0.9M218.5,2087.3v1.1M395.9,1811.0v1.1M182.1,2104.9v0.7M128.8,1932.8v0.6M286.4,1779.2v1.1M103.8,1961.3v1.1M130.6,1887.0v1.0M293.0,1801.8v0.4M416.7,2052.2v1.1M191.4,1877.2v0.3M285.6,2055.9v1.3M324.3,1926.3v0.8M189.9,1935.9v0.5M319.7,1961.4v0.4M249.9,1709.6v0.4M62.3,1904.6v0.8M51.9,1874.8v0.8M284.8,1719.8v1.2M323.1,1740.9v0.6M167.2,2017.5v0.6M265.0,1933.7v1.1M267.1,1824.0v1.2M378.9,1837.6v0.9M336.6,1864.0v0.9M80.6,2062.8v0.7M401.4,1826.9v0.5M158.6,1867.9v0.6M300.9,2041.1v1.0M387.8,1809.5v0.7M419.3,2100.8v1.1M158.4,1725.4v1.0M315.7,1716.0v1.1M136.1,1891.5v0.3M55.4,1707.4v0.9M184.5,1850.7v0.9M386.8,1787.1v0.7M114.2,1974.6v0.5M159.6,1863.6v0.5M142.6,2007.6v0.4M281.5,1766.1v0.3M248.2,1985.2v0.7M111.4,1710.6v1.1M77.3,1760.6v0.7M158.3,1787.1v1.1M143.4,1733.7v0.8M117.0,1761.1v1.0M120.3,2134.2v0.8M119.7,1851.1v1.0M118.8,1851.7v1.0M415.2,1979.7v0.5M128.2,1797.5v0.4M349.8,2079.7v0.9M154.4,2064.6v0.8M316.2,1867.5v0.9M72.9,2034.7v0.3M194.5,1792.0v0.8M334.3,2096.7v1.1M314.1,2050.9v1.1M110.5,1886.2v0.8M389.1,2064.8v1.3M237.0,2133.5v0.8M96.4,1870.5v1.2M188.5,1899.8v0.5M167.1,2032.0v1.2M79.7,1748.9v0.7M38.7,1758.3v0.3M326.2,1967.1v1.3M192.6,2022.3v0.4M43.1,1967.8v0.4M158.7,2025.2v0.6M295.7,2128.7v1.0M131.8,1765.0v0.4M249.7,1832.6v1.2M289.1,1879.7v1.0M405.5,1889.2v0.9M377.5,2076.0v0.7M96.7,2126.2v0.8M398.6,2099.2v1.3M230.9,1961.6v0.6M250.0,2102.6v1.0M55.8,1788.7v1.2M146.7,1957.8v0.6M389.3,2069.8v0.6M322.2,1980.1v0.4M139.5,1977.9v1.0M248.0,1964.0v0.6M120.5,1966.3v0.7M38.0,2034.3v1.2M417.1,1973.6v0.7M265.1,1902.5v1.0M207.9,1748.2v1.2M158.3,1996.4v0.6M94.5,1739.2v1.1M149.2,1877.1v0.5M254.6,1848.9v0.4M315.7,1845.8v1.0M203.4,1899.5v0.5M410.1,1835.7v0.6M357.9,1902.9v0.5M167.5,1831.6v0.9M403.8,1936.5v1.2M111.7,2042.4v1.0M273.6,1703.5v1.2M46.0,1997.3v0.3M27.2,1760.8v0.6M90.0,1903.0v0.6M180.4,1783.6v1.1M317.8,2084.4v0.7M172.0,1732.8v0.9M289.7,1949.2v1.2M287.4,2000.3v0.7M77.2,1948.8v1.2M144.7,2130.8v1.0M294.0,1859.2v1.1M431.1,1765.1v0.4M126.6,1944.6v0.7M329.0,2048.7v0.3M321.9,1978.6v0.5M321.0,1739.7v0.6M262.9,1744.8v0.9M162.1,2004.6v0.4M276.9,1751.9v0.7M93.1,1892.2v1.1M96.3,1843.1v1.0M145.0,1822.0v0.9M109.5,1707.7v1.1M166.8,1811.9v1.1M398.8,1872.1v0.8M265.6,2059.2v0.5M102.5,2074.3v0.9M312.0,1841.2v0.5M361.8,2041.9v1.1M75.8,2078.7v0.7M317.6,2001.3v1.0M231.6,1798.6v1.1M53.4,2037.8v0.6M227.4,1893.8v1.1M306.3,1784.6v1.2M335.1,1833.3v1.2M72.2,1923.3v1.2M107.6,2071.4v1.2M239.3,2051.2v0.9M353.0,1980.8v0.6M394.8,1738.6v1.2M390.7,1882.8v0.6M182.9,1802.4v0.5M234.8,1956.9v1.1M257.4,1934.1v0.9M195.5,2064.6v1.3M289.5,1786.7v0.7M185.9,2117.9v0.6M170.4,1790.6v0.9M388.9,1977.6v0.5M322.7,2126.4v1.2M271.4,1828.9v0.5M285.7,1922.6v0.9M327.8,1766.2v0.7M280.8,2128.2v1.3M280.2,1925.8v0.9M343.9,1981.2v1.1M205.8,1953.7v0.9M253.6,1856.1v0.9M416.8,2056.2v0.6M109.4,1992.1v0.6M419.1,1708.7v1.2M100.9,2021.5v1.0M120.7,1903.5v1.3M92.1,1935.9v0.7M256.2,1727.5v1.0M114.4,2004.1v0.5M220.2,2049.5v0.7M394.2,1991.7v0.7M115.5,1853.5v1.1M102.7,1984.3v0.7M189.1,2068.1v0.9M109.6,2102.6v0.9M217.5,2007.1v1.1M404.8,1860.4v0.4M89.2,1937.2v0.6M105.7,1803.9v1.0M319.6,1759.1v0.8M240.5,1804.8v1.0M337.6,2047.7v0.9M203.7,1843.2v1.2M256.4,2101.4v1.2M243.4,1717.6v0.4M118.0,1918.4v0.9M51.1,1726.0v0.4M427.9,2131.1v1.3M224.1,1925.1v0.4M94.3,2036.5v1.0M100.6,1749.5v1.0M184.1,2107.0v1.1M119.4,1924.6v0.3M129.7,1869.5v1.0M401.7,2068.2v0.9M87.3,1849.1v0.6M300.9,1997.5v0.3M173.0,1938.6v0.7M326.4,2120.6v0.5M325.4,1727.9v0.6M337.6,1959.4v0.8M276.7,1978.3v1.0M267.9,1873.5v0.6M377.0,2087.3v0.6M214.1,2011.6v1.1M347.5,1958.4v0.7M40.7,1772.7v1.1M340.8,1976.3v1.3M90.5,1739.6v1.1M207.6,1956.7v0.8M365.0,1821.8v0.9M403.9,1960.8v1.1M43.0,1969.7v0.7M82.7,2125.3v1.0M203.7,1834.1v0.9M205.9,1745.5v1.2M167.3,1713.9v1.0M190.7,1804.2v1.0M76.5,1713.0v1.0M81.8,1850.8v1.0M387.2,2074.2v0.6M390.3,1934.2v0.9M26.0,1916.1v0.9M44.4,1735.7v0.8M268.2,1891.7v0.7M421.1,1799.6v1.1M31.9,1950.9v0.6M49.8,1922.6v0.8M211.4,1983.6v1.2M154.6,1967.4v0.6M283.4,2102.5v1.0M328.0,1722.6v0.6M369.2,1927.4v0.4M215.8,2122.2v1.0M50.3,2106.7v1.3M102.3,1941.1v1.2M262.4,2084.1v1.1M191.0,1790.0v0.5M175.8,1914.4v0.8M263.2,1971.0v0.7M141.6,2034.8v0.5M115.9,2108.6v1.3M275.5,2037.4v0.7M256.6,2003.4v0.5M363.1,1807.4v1.2M31.3,2016.9v0.9M430.6,1815.4v0.5M197.6,1709.4v0.6M70.8,1926.3v1.1M140.4,1981.4v0.5M97.2,1995.3v0.4M364.5,2033.4v1.1M257.7,2032.8v0.7M263.5,1759.7v0.6M136.3,2083.1v0.6M316.0,1814.5v1.3M73.4,2050.3v0.7M175.6,1931.9v0.7M221.9,1795.7v0.9M170.6,1736.8v1.0M286.5,1997.3v0.7M106.7,1854.7v0.7M207.6,2112.4v0.8M318.4,1973.1v0.3M94.1,1799.5v0.5M34.5,1779.6v0.7M302.1,1759.8v0.8M111.4,1887.7v1.0M303.2,1854.5v1.2M63.4,1860.2v0.3M49.0,1864.8v0.6M204.2,2121.0v0.7M112.9,1875.1v1.3M383.2,1889.3v0.7M244.3,1991.4v0.4M79.7,1916.1v0.9M343.1,2076.3v1.2M68.5,2083.1v0.4M181.8,2118.3v0.6M315.5,2129.5v0.3M131.0,1877.9v1.0M249.4,2057.0v0.9M335.9,1874.6v0.4M397.3,1753.3v1.0M259.2,1899.9v0.6M246.1,2082.5v0.4M268.8,2109.2v1.0M426.5,1775.7v0.7M54.7,2097.4v0.7M386.5,2085.2v0.5M310.3,1880.9v0.9M30.4,2106.9v1.1M414.5,1943.7v1.1M343.0,1707.0v0.5M310.0,2099.7v0.3M189.1,2118.0v0.9M375.9,1946.6v0.8M375.1,2120.6v0.6M111.9,1851.8v0.9M57.2,1830.1v0.9M186.1,1915.8v0.9M262.2,2072.8v0.8M324.7,1827.5v0.7M259.7,2134.7v0.8M268.0,1774.7v0.9M360.8,1714.8v0.5M198.1,2062.7v0.8M236.3,1862.1v0.5M72.5,2087.6v1.1M94.6,2035.7v0.8M278.3,1886.4v0.9M350.0,1760.0v0.9M145.7,1938.1v1.1M99.5,1822.8v0.8M205.6,2015.1v0.3M52.5,1896.3v1.3M427.5,1873.7v0.9M200.1,1917.6v0.5M80.0,1895.5v0.4M242.2,1988.5v0.3M206.8,1795.2v0.7M393.0,1789.2v1.1M221.2,1925.0v0.3M73.3,2134.4v0.5M330.7,1977.3v0.6M362.8,2024.8v1.3M297.3,1926.5v0.6M206.9,1898.6v0.3M188.9,2115.3v0.5M103.4,1966.0v1.0M96.5,2103.4v0.6M152.1,2035.6v0.6M56.0,1807.9v0.6M379.3,2095.0v0.8M292.2,1971.8v0.3M330.7,1767.2v0.5M140.2,1901.4v0.7M259.2,2070.6v0.9M342.6,1918.3v1.0M395.6,1737.1v0.8M252.8,1897.9v0.9M59.5,2013.9v1.2M243.2,2062.7v1.3M186.2,1782.4v0.4M150.0,1998.0v0.7M423.2,2005.5v0.4M207.2,2062.3v1.0M226.4,1724.3v1.2M154.0,1786.9v0.3M27.5,2086.0v1.1M75.4,1855.3v0.4M320.9,1981.2v0.6M239.7,1931.1v0.4M192.6,1833.1v0.8M373.5,2021.0v0.9M337.6,1738.3v0.4M294.2,2010.6v1.0M88.2,1943.8v1.0M50.4,1974.1v0.4M131.9,1944.4v0.4M226.0,2047.1v0.7M173.1,1825.1v1.2M138.7,1711.1v0.7M150.8,2130.1v0.5M365.8,1711.9v0.7M249.0,2070.9v0.4M217.7,2013.9v1.1M426.3,1768.0v1.0M124.2,1783.6v1.2M268.2,2007.2v0.6M355.8,2045.1v0.5M286.3,1756.2v0.9M142.2,1943.2v0.3" stroke="#42447a" stroke-width="1.8" stroke-linecap="round" fill="none" opacity="0.85"/>
<path d="M401.1,1854.4v0.5M381.0,2101.0v0.6M217.8,1717.0v0.2M301.5,1893.7v0.6M45.6,1917.8v0.6M93.3,1895.0v0.3M423.2,2006.9v0.9M137.0,1714.3v0.5M62.0,1900.6v0.6M367.3,2132.4v0.7M299.4,1717.5v0.9M195.5,2092.1v0.2M388.0,1754.8v0.7M69.6,1930.7v0.7M44.3,1832.3v0.4M151.5,1709.2v0.9M288.3,1714.2v0.5M275.6,1804.5v0.4M401.1,1966.6v0.9M120.6,2110.9v0.4M83.9,1720.9v0.4M156.7,2099.4v0.8M221.1,1752.6v0.5M244.1,2026.4v0.2M120.3,2093.7v0.4M356.8,1721.3v0.8M349.3,1927.2v0.4M165.7,1892.4v0.7M287.2,1745.7v0.8M283.8,1840.4v0.5M170.0,2058.4v0.5M343.6,1975.9v0.7M325.1,1836.3v0.6M194.8,1950.7v0.7M150.2,1828.9v0.4M224.4,1787.3v0.3M417.1,1786.1v0.6M77.0,1941.0v0.5M283.8,2077.6v0.5M335.6,1797.8v0.6M180.5,1990.8v0.3M59.4,2079.3v0.3M54.4,1708.6v0.7M323.5,2109.3v0.7M366.7,2028.4v0.9M408.6,1719.0v0.8M196.0,1960.1v0.7M80.7,2031.9v0.2M153.8,1856.2v0.6M217.7,2131.8v0.7M365.2,2082.8v0.4M391.0,1943.5v0.4M124.9,2052.1v0.3M320.0,1731.9v0.6M292.9,1961.8v0.3M332.7,2037.5v0.3M126.1,1881.4v0.7M128.0,2073.5v0.8M395.1,1815.9v0.5M148.3,2113.4v0.4M191.9,1907.8v0.3M125.9,1946.7v0.3M58.7,1757.8v0.6M37.7,2045.7v0.6M207.7,1711.1v0.3M306.8,1783.2v0.7M417.7,1830.7v0.5M353.2,1990.8v0.7M343.1,2110.0v0.9M254.5,1964.0v0.7M174.2,1824.8v0.6M202.4,1830.0v0.4M382.0,1738.3v0.5M292.6,1998.9v0.9M371.1,2085.4v0.5M125.4,2084.3v0.7M61.8,1931.6v0.4M281.9,2006.5v0.4M241.4,1956.2v0.3M316.3,1857.1v0.9M113.9,1776.6v0.8M373.1,1831.3v0.7M233.5,1883.5v0.7M172.3,1889.9v0.4M124.2,1942.1v0.9M322.8,1723.0v0.7M351.5,1826.1v0.4M291.3,1989.1v0.4M228.6,1820.9v0.8M199.7,1919.5v0.5M115.4,1825.9v0.4M181.2,1817.6v0.5M365.9,2071.9v0.3M198.7,2067.1v0.3M276.0,1840.1v0.3M121.2,1957.0v0.8M259.3,1827.3v0.4M404.7,1767.4v0.4M205.7,1881.5v0.4M247.9,1835.8v0.5M426.6,2036.3v0.8M132.6,1889.1v0.3M64.2,1750.7v0.9M412.7,1833.8v0.7M323.9,1784.9v0.5M145.8,2010.0v0.7M300.5,1832.4v0.7M77.2,2088.7v0.8M374.7,1929.4v0.7M370.9,2058.2v0.5M194.2,2112.0v0.7M178.9,1862.6v0.6M333.9,1846.4v0.5M190.2,1805.2v0.7M179.1,1910.6v0.9M107.8,2125.8v0.3M320.3,1896.3v0.4M355.9,1772.8v0.5M114.8,1861.9v0.5M429.5,2076.3v0.7M114.9,1769.3v0.8M255.3,1988.8v0.7M250.1,1977.5v0.7M125.8,1732.2v0.3M178.8,2118.9v0.4M130.7,1808.6v0.2M49.8,2043.2v0.7M298.2,2119.3v0.3M388.0,1740.0v0.5M261.8,2060.3v0.3M314.4,1881.9v0.7M382.8,1960.5v0.9M413.4,2101.2v0.8M43.8,1862.3v0.6M137.6,1763.9v0.8M309.3,1963.0v0.9M288.0,2005.9v0.7M108.2,1739.7v0.2M107.7,2009.2v0.7M310.8,1754.2v0.3M221.9,1810.6v0.6M353.0,1722.1v0.8M265.9,1836.1v0.4M154.5,1806.6v0.4M35.8,1862.2v0.8M215.4,1755.7v0.6M336.5,1953.2v0.5M262.4,1801.7v0.8M91.9,1960.6v0.9M83.1,1812.3v0.6M184.4,1824.9v0.6M117.8,2036.9v0.5M255.1,1819.3v0.7M239.2,1757.5v0.4M52.5,2011.4v0.7M349.9,1754.1v0.9M300.5,2012.3v0.6M305.4,1954.7v0.3M397.3,1863.5v0.4M304.7,1867.6v0.5M184.5,1934.7v0.9M61.6,1743.2v0.4M323.3,1880.7v0.8M228.4,2078.0v0.5M426.9,1984.7v0.9M292.5,2087.9v0.8M289.4,2019.9v0.7M415.4,1838.4v0.8M368.8,2083.9v0.8M370.4,1995.6v0.5M278.0,1852.4v0.3M251.6,1773.3v0.4M396.9,1920.0v0.5M335.3,1967.1v0.5M305.8,2060.2v0.9M225.7,1703.4v0.6M153.4,2089.9v0.4M351.6,1812.4v0.3M81.2,2030.8v0.7M324.6,1739.3v0.5M341.6,1891.8v0.9M410.0,2054.8v0.4M251.1,1735.9v0.6M142.7,1852.1v0.3M161.9,1795.2v0.4M96.0,1873.2v0.8M242.3,1907.0v0.8M361.2,1963.4v0.4M419.4,2125.2v0.8M233.5,2084.3v0.4M314.5,1959.0v0.5M364.9,1966.9v0.6M373.9,1836.1v0.4M250.5,2106.0v0.5M288.6,2117.9v0.8M353.3,2020.5v0.3M418.0,1992.5v0.5M128.2,1992.4v0.7M206.7,1953.2v0.5M262.7,1739.0v0.8M128.4,1831.4v0.6M294.2,1888.6v0.9M167.5,1841.1v0.8M97.6,1856.9v0.6M329.8,1769.7v0.4M218.4,1843.7v0.6M409.2,1752.8v0.5M280.6,1934.1v0.3M41.2,1754.1v0.3M390.1,1773.4v0.7M182.8,2007.9v0.9M399.9,1838.6v0.7M224.3,2124.4v0.8M411.7,1827.5v0.3M368.3,2131.9v0.4M327.3,1732.5v0.4M408.4,1982.9v0.9M100.6,1785.2v0.4M94.9,1719.7v0.9M72.4,2118.2v0.6M401.5,1894.6v0.7M262.7,2041.2v0.6M157.0,1818.3v0.4M70.5,1819.1v0.7M113.4,1778.7v0.6M130.5,1708.1v0.7M164.9,1904.8v0.3M313.4,2048.1v0.4M236.5,1772.5v0.7M233.2,1931.3v0.4M198.0,1889.5v0.3M228.4,2000.0v0.7M415.1,1792.5v0.8M211.4,2077.9v0.3M304.1,1815.2v0.4M306.2,1904.5v0.5M95.2,1915.1v0.3M359.8,1817.2v0.5M365.9,1996.0v0.7M89.3,2104.8v0.5M31.7,2121.1v0.5M259.6,1865.2v0.8M332.6,2082.3v0.6M238.9,2050.5v0.3M312.8,2062.1v0.8M166.6,1779.0v0.8M268.1,2069.3v0.5M396.1,1712.2v0.6M314.1,1766.5v0.7M48.1,2046.2v0.6M418.9,2080.6v0.5M124.8,1854.4v0.5M190.3,1924.1v0.8M75.9,1854.2v0.3M368.1,1984.1v0.4M321.7,1981.1v0.2M388.8,1896.1v0.7M301.5,2132.3v0.6M147.6,1721.9v0.4M114.4,1992.9v0.2M343.1,1823.7v0.3M255.9,2006.1v0.3M222.8,1828.2v0.7M230.5,2019.6v0.4M70.3,1958.1v0.7M162.5,1847.8v0.7M357.2,1978.6v0.4M406.4,1901.3v0.5M299.5,2046.9v0.5M112.4,2050.5v0.2M75.8,2036.6v0.8M97.6,1728.9v0.8M371.5,1856.0v0.6M404.2,1945.2v0.7M357.3,1906.9v0.5M310.5,1746.0v0.8M379.5,1966.1v0.4M288.8,2107.2v0.6M346.5,2123.7v0.4M133.0,2043.9v0.8M74.4,1790.4v0.8M166.6,1707.8v0.4M109.7,1982.1v0.5M132.2,1964.1v0.7M286.2,1982.1v0.3M404.8,1935.2v0.6M409.2,1820.5v0.4M317.2,1985.4v0.5M160.1,1916.8v0.2M173.0,2080.4v0.3M370.4,2108.1v0.5M258.7,1863.3v0.5M211.9,1875.7v0.8M194.0,1774.9v0.9M214.1,2032.8v0.4M132.5,1868.8v0.5M91.7,1969.2v0.7M327.1,1758.6v0.9M223.8,1873.1v0.7M179.8,1840.1v0.9M95.3,1734.2v0.8M319.0,1862.2v0.7M166.1,1971.7v0.7M427.7,2074.1v0.6M67.4,1925.2v0.3M258.2,2106.0v0.7M228.3,1997.4v0.3M307.0,1956.0v0.7M253.3,2132.7v0.8M236.6,1972.4v0.7M418.8,2113.2v0.3M179.0,1893.2v0.6M251.0,1767.3v0.3M110.9,2041.6v0.8M230.9,2126.7v0.3M104.6,2117.0v0.8M75.7,1917.8v0.4M224.9,2065.1v0.9M119.4,2039.9v0.8M294.2,1959.0v0.7M206.6,1957.4v0.6M357.3,1787.1v0.8M326.5,2053.8v0.3M93.7,1966.1v0.4M339.6,1819.7v0.8M348.2,2130.1v0.8M222.1,1732.0v0.6M338.4,2109.0v0.3M232.5,1716.9v0.8M155.9,2090.6v0.9M190.0,1794.9v0.5M365.4,1794.8v0.5M73.8,1930.0v0.5M83.8,2101.7v0.7M251.6,1770.1v0.5M298.2,2073.9v0.2M344.6,1850.4v0.8M283.7,1780.4v0.4M229.9,1938.0v0.7M336.8,2101.7v0.8M252.2,2082.1v0.7M292.5,1771.6v0.6M256.0,1811.9v0.9M35.5,1920.8v0.2M389.1,1885.3v0.5M100.6,1796.9v0.5M423.0,2099.1v0.4M386.4,2005.2v0.3M191.7,2123.5v0.7M346.8,2039.7v0.5M248.1,1713.1v0.8M97.9,1971.5v0.6M357.8,1910.6v0.3M284.2,1832.4v0.7M88.1,1965.1v0.5M270.2,2093.5v0.4M96.1,2011.6v0.4M26.3,2061.6v0.4M106.4,1732.2v0.8M46.6,2015.8v0.7M205.6,1793.1v0.8M349.6,1933.6v0.9M265.3,2052.8v0.6M104.0,1945.7v0.8M412.0,1763.1v0.7M237.2,1979.1v0.5M378.1,1867.4v0.7M170.5,1895.8v0.6M403.6,1893.1v0.3M135.6,1820.2v0.9M195.7,1813.1v0.5M26.4,1961.4v0.7M91.9,1792.3v0.7M39.7,1707.3v0.7M48.6,2073.9v0.4M248.1,1918.3v0.9M262.0,1764.7v0.7M112.7,2120.9v0.4M165.3,1899.9v0.7M159.2,1783.6v0.4M355.8,1862.9v0.8M105.5,1783.9v0.7M102.9,2111.1v0.8M250.3,1900.1v0.3M224.8,2018.7v0.4M341.8,1798.8v0.2M417.5,2076.8v0.8M383.1,2111.1v0.5M229.1,1960.9v0.5M193.8,1736.9v0.3M407.1,1956.7v0.7M334.8,1888.7v0.4M351.5,1950.9v0.7M97.8,1743.4v0.5M225.9,2048.4v0.3M66.4,1913.9v0.3M323.7,2043.5v0.6M81.1,1826.0v0.7M207.8,1941.7v0.3M47.4,1983.5v0.5M424.1,2019.1v0.2M254.4,1828.4v0.5M298.9,1726.9v0.9M277.3,1914.5v0.5M332.9,1925.8v0.3M159.4,2124.0v0.9M272.6,2095.2v0.4M165.3,1844.2v0.8M400.0,1985.5v0.2M131.1,1903.7v0.7M404.6,2058.5v0.6M234.1,2040.3v0.3M148.6,1796.7v0.7M224.9,1898.2v0.8M403.2,2097.0v0.5M131.4,1802.5v0.6M227.5,1949.5v0.5M232.2,1744.9v0.5M294.6,2086.5v0.4M277.3,1970.7v0.5M307.3,2081.7v0.3M301.2,1749.2v0.2M352.4,1703.8v0.4M291.1,1938.4v0.7M275.0,1808.2v0.3M65.3,1860.1v0.4M424.0,1883.1v0.7M425.2,2041.5v0.7M200.5,1868.2v0.6M44.6,1953.1v0.5M111.0,1895.3v0.7M355.5,2107.0v0.5M117.5,2026.4v0.8M380.4,1885.0v0.3M415.4,1769.0v0.2M340.0,1730.5v0.7M363.0,1876.2v0.8M288.4,1873.5v0.2M230.2,1930.8v0.8M168.1,1866.2v0.6M159.3,1995.3v0.2M346.9,2024.6v0.3M100.1,1897.8v0.7M109.3,1861.8v0.7M278.3,2003.0v0.3M422.8,1751.8v0.4M75.4,2076.3v0.6M72.6,1729.7v0.6M357.7,1880.4v0.8M258.1,1901.2v0.9M294.8,1863.1v0.9M276.0,1874.8v0.3M58.1,1727.0v0.8M424.8,1958.7v0.7M313.1,1799.1v0.5M382.2,1761.6v0.2M270.9,1894.1v0.5M231.1,1889.8v0.7M316.5,1836.4v0.8M82.8,1981.4v0.5M414.2,1722.9v0.5M322.9,2071.3v0.6M110.8,2000.0v0.9M281.6,1726.6v0.4M185.3,1755.6v0.5M235.7,2115.0v0.7M39.0,2112.8v0.5M251.2,1947.4v0.8M53.4,1716.2v0.2M154.1,2121.2v0.2M255.2,2070.7v0.7M378.0,1850.0v0.8M365.2,2032.9v0.9M424.0,1821.1v0.3M408.3,1774.7v0.6M185.4,1818.6v0.3M422.4,1721.2v0.4M182.2,1703.4v0.4M231.7,1710.3v0.6M141.2,1989.6v0.2M37.4,2113.5v0.4M321.9,1916.6v0.5M30.5,1888.3v0.7M105.6,1751.7v0.3M205.1,1756.2v0.9M201.3,2049.9v0.4M231.5,2129.9v0.2M271.2,1729.3v0.6M159.3,2119.1v0.8M353.0,1920.0v0.3M262.1,2069.5v0.9M275.4,2037.3v0.2M236.4,1884.5v0.8M406.1,1908.5v0.2M374.3,1880.6v0.8M292.2,1755.0v0.4M106.6,1759.7v0.2M43.1,1733.4v0.9M258.3,1775.3v0.8M70.2,1730.3v0.4M97.4,2037.6v0.3M125.5,2053.8v0.8M96.2,1713.0v0.6M304.4,2002.2v0.5M169.0,2113.5v0.8M403.0,1800.6v0.3M171.8,2125.6v0.5M389.4,2067.7v0.6M269.1,2088.3v0.6M316.8,2080.7v0.8M270.0,1721.9v0.4M315.9,1851.4v0.5M254.2,1993.5v0.3M180.4,1961.1v0.3M156.1,1732.8v0.6M229.2,1816.3v0.5M169.5,1987.4v0.5M147.1,1974.7v0.5M76.4,1998.7v0.5M137.5,1974.2v0.8M93.5,1794.4v0.7M41.3,1830.4v0.5M366.4,1703.4v0.4M338.0,2132.0v0.9M108.7,1999.9v0.8M72.4,1812.7v0.7M71.3,1891.0v0.6M177.3,1948.3v0.3M182.5,1971.4v0.2M260.3,2090.1v0.6M91.8,2098.1v0.7M241.5,1870.1v0.6M404.9,1779.0v0.7M259.2,2124.4v0.8M418.3,1961.7v0.4M420.8,1888.6v0.6M313.1,2090.8v0.8M140.8,2106.9v0.8M199.0,2099.5v0.8M252.7,1747.5v0.6M106.3,2032.4v0.3M160.9,1919.5v0.2M95.1,2075.1v0.5M112.5,2101.3v0.6M423.5,2124.8v0.8M304.2,1963.5v0.3M209.9,1843.4v0.6M104.1,2130.1v0.4M298.6,1787.1v0.8M297.8,1862.4v0.8M300.0,1824.9v0.7M158.0,1807.3v0.4M298.2,1886.1v0.2M154.4,1979.4v0.8M26.7,1937.0v0.2M128.1,1814.5v0.3M141.2,2080.4v0.4M189.2,1909.1v0.7M412.9,2023.5v0.4M361.5,1915.3v0.8M151.9,1965.3v0.6M159.5,1788.0v0.9M190.9,1879.2v0.7M125.3,1821.6v0.5M123.2,2067.5v0.4M294.2,1890.5v0.6M284.5,2042.1v0.2M258.5,2000.7v0.4M117.4,1898.9v0.8M248.2,1810.4v0.8M427.6,1712.3v0.6M147.6,1751.8v0.3M41.2,1738.4v0.4M417.7,1894.7v0.8M81.8,1732.6v0.4M359.0,1929.1v0.9M140.8,1722.1v0.3M179.0,2072.1v0.8M49.7,1816.7v0.8M42.7,2048.5v0.2M236.8,1740.4v0.4M141.3,2045.5v0.3M120.7,1923.4v0.3M26.8,2024.1v0.3M281.0,2103.3v0.8M299.7,2043.2v0.5M421.9,1902.2v0.7M377.1,1908.8v0.7M315.6,1956.9v0.6M39.7,1721.1v0.8M27.5,1937.4v0.6M140.4,2056.0v0.6M29.0,1731.9v0.3M153.6,1773.0v0.8M248.9,1806.7v0.9M129.1,1846.7v0.5M188.7,1934.3v0.5M68.4,1739.2v0.3M46.7,1870.4v0.5M371.3,1716.3v0.7M319.1,2095.7v0.9M154.0,1786.8v0.9M335.9,1964.7v0.6M320.2,1973.7v0.8M63.1,1918.8v0.4M296.5,1727.5v0.7M360.0,1801.4v0.8M317.5,1810.9v0.6M301.8,1893.2v0.8M431.3,1935.4v0.7M298.0,1928.3v0.4M218.7,2113.2v0.8M239.1,2075.1v0.3M295.4,1980.1v0.5M238.9,1950.9v0.6M298.7,2133.4v0.3M337.5,1823.9v0.7M72.2,2071.6v0.3M411.3,1973.8v0.5M353.1,1723.4v0.3M59.1,1736.8v0.5M180.2,2099.3v0.2M91.4,1751.9v0.6M172.1,1821.7v0.8M289.8,1782.2v0.3M346.3,2106.8v0.8M253.3,1933.9v0.3M192.1,1795.4v0.5M275.6,1858.0v0.9M367.0,1744.3v0.6M63.1,1891.4v0.9M306.9,1884.4v0.4M209.6,1838.6v0.9M389.2,2006.4v0.4M160.8,1711.9v0.5M55.3,1727.5v0.5M34.0,2034.8v0.7M212.1,1734.4v0.9M194.5,1953.6v0.4M417.8,1835.5v0.6M186.7,1909.9v0.8M134.5,1924.6v0.6M202.2,2033.0v0.3M39.2,1966.4v0.3M48.6,2067.6v0.5M94.8,1872.5v0.3M330.8,2034.7v0.8M28.9,1911.7v0.5M416.9,1959.0v0.8M37.6,2080.8v0.7M422.7,1903.0v0.7M112.9,1741.6v0.2M74.8,1766.3v0.6M315.0,1738.5v0.3M302.7,2081.3v0.6M279.9,2005.7v0.6M369.8,1704.8v0.6M254.5,2101.1v0.9M169.3,1721.1v0.5M324.9,2101.3v0.3M329.5,1827.7v0.5M128.9,2005.4v0.5M359.3,2070.9v0.2M108.1,1981.1v0.2M100.9,2093.6v0.8M123.0,1979.6v0.4M418.1,2065.8v0.3M234.3,1763.9v0.5M431.5,1915.8v0.5M251.8,1865.0v0.2M171.6,1968.3v0.8M258.7,2060.3v0.3M423.0,1814.2v0.8M85.1,2011.1v0.8M333.8,2012.7v0.5M109.9,1875.0v0.8M374.8,1929.4v0.4M262.6,1705.3v0.7M283.8,1728.7v0.8M357.1,1792.5v0.7M316.9,1781.5v0.9M206.7,2041.6v0.4M277.0,2056.7v0.9M410.2,1975.1v0.7M265.0,1836.0v0.7M252.1,1733.3v0.6M160.4,1950.0v0.7M270.8,1993.9v0.7M33.8,1785.0v0.9M144.7,1994.1v0.8M211.9,1784.5v0.3M68.6,1780.6v0.4M248.8,1990.2v0.5M209.8,1839.3v0.6M47.3,2067.3v0.9M283.4,1794.8v0.4M401.7,1731.7v0.5M279.2,1812.5v0.5M38.7,1960.0v0.4M108.0,1767.7v0.5M223.9,1738.8v0.3M30.3,1752.1v0.5M30.3,1722.6v0.9M290.3,1766.4v0.5M30.9,2078.8v0.8M27.5,2017.7v0.3M393.2,1955.9v0.5M167.9,2077.9v0.5M150.4,2039.3v0.4M292.2,1915.1v0.8M195.0,2038.0v0.6M62.9,1899.4v0.6M108.4,2051.1v0.4M44.3,2116.8v0.8M180.7,2023.0v0.4M42.6,1800.5v0.4M72.8,1821.7v0.3M123.7,1745.6v0.4M295.8,1926.5v0.5M40.9,1731.8v0.3M229.9,1912.0v0.6M137.9,1969.6v0.8M264.5,2051.2v0.4M110.8,2102.5v0.8M231.1,1799.7v0.6M37.8,1996.1v0.4M346.1,2118.1v0.2M314.7,1801.3v0.8M421.9,1912.2v0.7M178.2,2085.3v0.5M321.5,1796.3v0.7M55.6,1902.1v0.3M316.1,1728.8v0.9M174.8,1814.3v0.2M142.8,1949.9v0.8M347.7,1759.2v0.7M329.1,1903.2v0.5M254.1,1911.7v0.9M295.5,2062.9v0.5M222.8,1714.8v0.3M115.9,1820.8v0.5M134.2,2062.4v0.2M137.5,1999.9v0.9M210.5,1725.6v0.4M426.1,2000.9v0.8M425.9,1862.1v0.5M179.0,1737.1v0.2M392.2,2055.2v0.5M386.7,1721.9v0.9M105.3,2103.7v0.9M73.5,1743.0v0.7M212.1,1720.3v0.6M171.3,2104.4v0.3M344.8,2062.0v0.4M331.0,1839.2v0.5M390.3,2080.0v0.9M283.0,2091.5v0.4M34.3,1765.3v0.9M232.1,1709.8v0.3M197.3,2118.3v0.2M186.7,1783.3v0.4M92.9,2134.8v0.9M28.5,2110.8v0.8M206.9,1895.1v0.8M229.6,2010.4v0.7M341.4,2021.7v0.6M42.4,2133.8v0.7M280.4,1910.5v0.9M28.1,1900.2v0.7M368.2,2096.3v0.7M212.3,1716.0v0.5M254.5,1833.9v0.8M168.6,1754.1v0.5M99.5,1941.8v0.6M90.8,1993.2v0.8M274.7,1843.6v0.2M294.9,1801.5v0.4M217.0,1980.5v0.9M227.0,2009.0v0.8M374.8,1995.8v0.7M359.1,2035.4v0.7M330.0,2090.2v0.8M296.8,2076.8v0.2M215.9,2035.7v0.3M100.4,1911.6v0.7M108.0,2039.0v0.8M278.1,2111.1v0.7M411.3,1872.9v0.8M269.5,1930.6v0.8M313.1,1960.3v0.5M44.7,2021.7v0.8M175.5,2099.2v0.6M284.3,1710.9v0.5M424.3,1813.7v0.5M277.9,1712.3v0.3M301.3,1703.4v0.3M242.3,2040.1v0.9M38.3,2100.7v0.5M246.8,1899.8v0.9M69.4,1915.1v0.8M359.3,1935.9v0.7M417.7,2007.8v0.8M311.7,1839.9v0.3M87.2,2059.4v0.9M396.8,1902.0v0.9M112.3,1761.3v0.6M180.1,1794.7v0.3M97.8,1753.6v0.6M77.4,1906.3v0.5M330.7,1703.9v0.3M172.6,1832.3v0.5M379.3,1965.3v0.2M112.3,1771.5v0.4M268.6,1940.7v0.7M33.7,1846.2v0.4M293.4,1961.4v0.2M180.6,1990.2v0.8M371.4,1950.3v0.6M306.3,1875.2v0.4M328.3,1912.0v0.2M72.1,1760.6v0.4M402.4,2125.6v0.2M176.9,2050.6v0.7M223.8,1818.5v0.5M139.1,2042.9v0.6M42.1,1947.2v0.6M126.6,1946.3v0.9M395.1,1989.6v0.7M176.1,1979.4v0.6M116.2,1913.5v0.3M118.5,2031.4v0.9M199.5,1854.3v0.8M324.5,2078.7v0.8M231.3,2128.6v0.8M96.8,1896.7v0.9M426.5,1869.1v0.4M316.7,1958.8v0.9M46.2,1843.3v0.3M217.9,2060.4v0.5M209.2,1950.9v0.6M274.4,2096.7v0.8M192.7,1993.9v0.4M352.4,2130.5v0.8M317.2,1964.8v0.7M408.8,1994.8v0.8M302.1,1823.0v0.4M120.6,2057.5v0.7M424.8,1935.5v0.8M55.8,1795.0v0.7M72.3,1736.2v0.6M420.9,2081.3v0.5M366.8,2127.9v0.4M371.2,1800.2v0.6M207.0,2059.2v0.8M287.6,1785.6v0.5M321.3,1758.4v0.7M404.4,2088.3v0.3M61.3,1852.4v0.5M398.9,1857.7v0.4M429.0,1972.2v0.8M306.7,1725.7v0.4M349.8,1837.7v0.7M50.0,1865.8v0.8M198.6,1836.9v0.4M89.7,1773.9v0.2M223.8,1896.4v0.5M213.6,2014.2v0.7M132.2,2113.6v0.3M195.7,1708.3v0.3M74.0,1911.5v0.5M419.8,1873.1v0.6M107.3,1913.3v0.6M295.3,1871.7v0.2M419.3,2091.5v0.7M245.9,1796.1v0.4M318.0,1931.4v0.8M49.4,2030.5v0.8M258.4,1863.6v0.5M157.3,2120.7v0.5M166.8,1729.8v0.9M160.0,2005.3v0.8M394.9,1807.0v0.7M419.5,1965.1v0.3M125.5,2109.9v0.6M206.5,1895.5v0.8M367.9,1728.5v0.5M124.3,2105.6v0.4M61.1,1755.7v0.8M81.2,1782.4v0.7M288.7,2061.5v0.3M195.9,1929.9v0.8M330.0,2068.8v0.6M33.8,1797.0v0.7M135.1,1822.2v0.8M210.9,1870.0v0.6M83.3,1889.3v0.9M401.3,1965.2v0.8M84.4,1816.1v0.2M386.2,1946.7v0.2M321.0,1766.9v0.4" stroke="#6c6e8c" stroke-width="1.4" stroke-linecap="round" fill="none" opacity="0.7"/>
</g>
<rect x="400" y="2123.4" width="28.5" height="8" fill="#fff" stroke="#222" stroke-width="0.6"/>
<text transform="translate(414.3,2129.7)" font-family='"Liberation Sans", Arial, sans-serif' font-size="3.6" font-weight="normal" text-anchor="middle" fill="#222" >100 μm</text>
<path d="M353.1,1812.1l-0.8,1.0M355.7,1819.3l0.2,0.3M355.7,1820.9l0.0,1.1M363.0,1817.9l-1.0,0.9M343.3,1815.5l-1.0,-0.5M358.5,1820.0l0.1,-0.9M352.5,1817.6l-0.9,0.2M345.3,1818.6l-1.3,1.0M359.2,1815.1l0.7,1.0M356.0,1818.7l-1.3,0.8M349.8,1815.4l-0.2,0.8M349.7,1815.2l1.3,-1.3M358.6,1805.8l0.8,1.3M348.7,1815.3l-0.1,0.7M352.4,1811.5l1.3,-1.4M350.6,1816.0l-0.4,1.5M361.5,1824.8l1.2,0.6M356.6,1817.7l0.6,-1.2M351.2,1817.8l1.0,1.2M358.5,1812.5l0.2,-1.3M344.3,1816.8l0.8,-1.4M353.8,1816.0l1.3,-1.2M301.6,1772.8l1.2,-1.1M304.9,1777.3l-1.2,-1.0M316.7,1771.4l-0.8,0.0M296.3,1778.3l0.6,0.3M302.0,1769.8l1.0,-1.2M302.8,1767.0l-0.7,-0.1M307.7,1775.2l-1.3,-1.4M306.7,1771.1l1.1,0.0M302.1,1762.5l-1.0,1.4M301.8,1772.9l-0.0,0.6M305.8,1766.6l1.0,-0.2M305.4,1778.6l1.1,1.1M301.1,1778.5l0.8,1.4M306.1,1751.1l-0.1,0.7M306.6,1764.2l0.0,-0.3M308.5,1766.4l0.7,0.2M304.5,1765.9l-1.3,0.5M308.1,1772.9l0.8,-1.4M310.6,1766.4l0.2,0.5M306.4,1769.9l0.7,0.3M300.1,1763.1l-0.7,-1.0M307.1,1769.3l0.0,0.4M374.6,1775.0l0.6,-1.3M366.8,1777.4l1.0,-1.4M372.7,1773.0l-0.3,1.4M373.8,1774.1l-1.5,-1.4M373.0,1774.3l0.9,0.9M377.1,1765.9l0.4,1.0M366.3,1773.8l-1.3,0.2M377.2,1775.3l0.6,-1.0M367.2,1776.2l0.8,-0.5M369.9,1776.1l0.2,1.3M367.8,1779.9l0.2,-0.9M371.7,1772.6l0.3,1.5M370.4,1781.8l-0.5,0.4M374.7,1780.5l0.9,-0.9M370.8,1778.1l-1.0,0.5M375.5,1770.8l-0.2,-0.6M373.5,1786.3l-0.1,0.5M372.3,1778.3l-1.5,-0.6M368.0,1778.2l0.4,0.6M378.5,1769.9l0.6,0.9M367.8,1774.2l1.2,1.2M365.9,1781.5l-0.2,0.8M404.2,2009.7l1.3,-0.2M402.9,2003.8l-1.4,-1.3M392.4,2019.2l0.5,0.3M400.8,2005.5l-1.1,-0.2M400.4,2007.3l-0.0,-0.6M396.9,2010.3l1.2,-0.7M398.9,2006.1l-0.2,-1.4M393.6,2005.9l-0.2,-0.9M397.4,2007.8l1.3,-0.1M394.6,2005.7l-1.4,-1.4M397.4,2003.6l-0.7,0.1M401.9,2004.9l0.1,0.3M399.0,2007.9l0.5,0.2M397.6,2006.1l1.0,0.9M396.3,2019.5l-1.3,0.1M400.7,2010.2l0.4,0.6M394.8,2009.2l0.1,-0.2M394.7,2011.8l-0.1,-0.4M402.0,2012.4l-0.6,0.9M405.3,2006.7l-0.5,-0.1M398.0,2005.5l0.9,-1.4M403.8,2007.6l0.8,0.3M411.4,1945.1l-1.2,-0.9M408.3,1936.0l-0.8,-0.0M409.4,1945.2l-0.8,0.8M411.7,1951.7l0.3,-0.0M413.5,1947.3l-0.3,-0.9M409.2,1947.6l-1.5,-0.4M409.8,1945.7l-0.1,-1.2M406.7,1959.4l1.1,-1.2M413.5,1947.6l-1.1,-0.4M411.4,1948.3l0.8,1.3M415.1,1945.1l1.3,-1.2M404.7,1938.1l0.1,-1.5M407.4,1953.7l-0.3,0.7M408.9,1949.4l0.5,1.5M401.9,1949.7l0.6,0.5M408.9,1947.9l0.6,-0.2M402.5,1954.3l-1.1,1.3M411.9,1941.1l1.3,-0.8M400.5,1943.5l0.1,0.5M413.9,1953.0l-1.4,0.0M412.4,1949.6l-1.2,-0.7M413.3,1953.9l0.1,0.8M285.7,1990.2l0.3,0.1M283.7,1992.0l-0.4,-0.3M286.1,1997.3l0.4,-0.3M281.3,1997.7l-1.0,1.1M284.4,1992.8l1.2,0.2M283.1,1994.2l1.4,-0.1M284.2,1998.1l-1.3,-1.5M284.4,1988.9l-0.7,-0.6M285.9,1995.1l1.2,1.0M278.9,1999.5l-0.3,-0.4M281.1,1990.3l1.5,-1.1M281.1,2001.9l0.9,1.5M283.9,1995.0l0.8,-0.8M281.5,1997.5l-1.4,-0.2M285.8,1994.2l-1.4,0.6M282.7,1998.7l-0.9,1.1M287.4,1993.7l-0.1,0.6M280.6,2000.5l0.8,0.5M287.5,1993.0l1.0,1.0M283.6,2003.2l0.2,-1.0M283.9,2001.2l1.3,-1.4M293.8,1994.3l-0.3,0.4M37.5,1791.8l-1.4,0.7M38.6,1795.8l-0.6,-1.5M34.0,1793.6l1.4,0.0M42.4,1789.7l1.0,0.1M48.0,1792.0l0.6,0.2M37.4,1790.7l1.1,-1.3M44.0,1795.4l-0.6,-0.5M37.2,1795.5l0.9,-0.5M41.8,1794.7l-0.4,1.2M42.3,1792.3l-0.2,0.9M41.0,1797.9l0.2,1.0M39.8,1785.5l0.7,-1.1M38.0,1787.4l0.2,-1.0M42.3,1789.0l0.5,0.0M36.8,1787.8l0.8,-0.3M31.4,1782.4l0.5,0.8M32.9,1790.9l1.2,-0.1M41.7,1791.4l-0.1,-1.5M42.7,1793.9l-1.0,1.3M40.7,1793.2l-1.2,-0.4M44.1,1790.9l-1.1,-1.2M36.6,1792.3l-0.7,1.3M30.5,1913.4l0.5,0.5M28.8,1908.5l0.4,-1.1M35.5,1907.7l-1.4,-0.1M37.6,1909.8l0.2,-0.8M31.0,1902.3l-0.5,0.1M39.0,1908.3l-1.0,1.3M28.3,1905.3l-0.9,-1.3M35.7,1910.6l-1.0,1.2M32.0,1911.6l-0.4,-0.4M36.4,1913.2l1.0,0.2M34.3,1914.8l-1.4,0.6M30.7,1908.2l1.4,-1.3M30.6,1913.1l-1.4,0.8M36.3,1907.1l1.1,-1.4M35.3,1905.1l-0.4,-0.6M29.8,1901.9l-1.0,-0.7M35.8,1900.7l1.1,-0.4M33.2,1905.1l-0.9,-1.3M35.1,1904.9l-0.1,-0.5M33.0,1909.5l-0.2,-0.0M413.9,2061.3l1.1,0.1M417.9,2061.7l-0.4,-0.6M419.9,2060.3l-0.1,-0.8M422.8,2060.8l0.2,-0.5M419.8,2062.0l0.8,-0.6M415.8,2066.2l1.3,0.2M418.7,2062.3l-1.0,-1.0M421.1,2061.9l0.9,-0.5M421.2,2057.5l1.2,-0.3M422.8,2066.2l0.3,-1.1M415.1,2055.9l-1.5,1.4M417.5,2067.6l1.3,0.4M427.5,2059.9l1.2,0.8M417.3,2062.4l0.4,1.0M428.3,2065.3l-0.3,-0.9M426.7,2067.0l-0.2,-1.4M420.7,2063.9l-0.7,-1.0M419.0,2063.5l-1.5,0.5M427.3,2060.0l-1.1,1.4M426.3,2053.2l-0.3,0.1M409.2,2053.6l1.3,-0.5M426.6,2063.4l0.8,-1.3M90.2,1947.8l0.6,0.9M92.4,1948.3l0.0,-1.2M85.4,1937.9l1.3,-1.5M99.0,1959.1l1.3,0.7M89.3,1944.2l0.4,1.2M84.5,1950.4l-0.7,-0.1M86.0,1947.3l-1.1,-0.8M90.6,1950.7l-0.2,0.8M83.4,1953.1l-0.0,0.1M91.1,1947.8l0.5,-0.6M86.3,1954.7l1.5,-1.4M85.7,1958.3l-0.9,-0.1M89.0,1951.4l0.6,1.1M84.4,1943.3l-0.6,1.1M87.0,1951.7l0.3,-0.9M91.0,1945.0l1.1,0.4M91.5,1948.5l-0.8,0.3M89.1,1954.7l-0.7,0.5M91.4,1939.4l0.7,-0.9M88.7,1958.9l0.4,-1.2M86.9,1945.7l0.8,-1.3M90.7,1945.7l1.4,1.4M393.2,2044.0l-0.3,1.4M387.7,2038.6l1.3,-1.4M382.7,2035.1l1.4,1.3M387.9,2031.0l1.1,-0.1M401.3,2037.1l1.0,-0.1M392.8,2034.6l1.3,-0.1M395.5,2039.0l-0.7,-0.4M387.2,2038.3l1.0,-1.2M386.9,2032.2l-0.5,-0.5M398.4,2038.2l-1.1,0.5M404.4,2037.2l0.5,-1.0M390.2,2035.0l-0.2,1.0M396.6,2030.3l0.6,0.2M404.9,2038.6l-1.1,0.8M384.8,2035.5l-0.8,0.7M396.5,2033.4l-0.7,1.0M389.3,2036.9l0.2,0.7M406.6,2036.4l-0.1,-1.5M389.6,2033.2l-0.4,0.2M399.3,2039.1l-0.5,0.6M393.0,2039.5l1.5,1.0M390.7,2032.7l-1.1,0.3M407.1,1982.1l-1.5,0.2M419.9,1979.9l-0.3,-0.4M418.1,1980.2l-1.1,-0.7M414.8,1975.3l1.0,-0.4M416.9,1978.8l0.1,-1.1M413.8,1976.3l-0.4,1.1M414.5,1983.4l-1.1,0.6M410.5,1977.7l0.5,0.4M421.9,1971.6l0.4,0.4M414.8,1979.0l-1.1,0.2M417.8,1972.8l-0.4,-0.7M415.6,1978.2l1.4,0.9M418.7,1986.2l0.4,-0.2M423.2,1987.6l-0.1,0.8M419.5,1981.8l-1.2,-1.1M413.8,1972.9l-0.0,-1.4M417.8,1972.5l-1.5,-0.4M411.4,1976.6l-0.2,-1.0M415.0,1975.2l1.2,-0.3M416.2,1978.2l-0.8,0.8M415.2,1980.9l-0.4,0.8M412.6,1972.0l0.0,-0.0M227.9,2076.0l-0.7,0.3M235.2,2068.3l1.2,-0.8M225.1,2070.9l1.1,-0.7M226.6,2071.3l-1.5,1.2M227.7,2074.8l1.2,-1.2M229.9,2073.0l0.4,-0.7M235.1,2087.9l1.0,-0.2M227.6,2069.5l0.6,0.8M223.3,2074.8l-0.5,-1.2M229.2,2074.3l0.4,-0.4M229.6,2065.7l0.3,-1.1M225.1,2070.0l0.3,1.4M227.3,2063.4l0.5,-0.7M234.6,2074.2l-1.2,-1.5M241.3,2079.4l0.7,-0.2M227.0,2073.2l0.1,0.2M231.1,2072.1l-0.7,-0.2M238.0,2063.0l-1.3,1.0M229.9,2077.0l0.9,-0.2M227.9,2064.1l-0.6,-0.8M235.9,2070.5l-0.8,-1.3M223.2,2073.6l1.0,-1.2M267.0,2072.1l0.2,1.5M261.1,2075.5l0.3,-1.3M271.0,2079.2l-0.6,0.1M263.7,2081.2l-1.3,-1.3M264.7,2080.0l0.4,0.5M266.6,2078.0l1.0,1.1M256.3,2073.7l0.5,-1.0M266.6,2072.8l-1.0,0.8M270.5,2069.6l0.8,-0.6M258.5,2079.6l-0.3,-1.1M264.6,2076.6l-0.5,-0.8M263.8,2076.4l1.4,-1.2M260.7,2083.1l0.1,-0.0M263.0,2063.2l-0.6,0.2M263.0,2075.0l-0.2,-1.2M257.1,2075.0l0.8,-1.2M262.3,2076.8l0.2,1.1M263.2,2072.5l-1.4,-1.0M263.1,2076.2l-1.2,-0.7M268.6,2080.8l1.4,0.4M265.9,2077.1l1.5,1.1M258.4,2074.9l1.4,0.6" stroke="#3a3d3a" stroke-width="1.1" stroke-linecap="round" fill="none" opacity="0.55"/>
<clipPath id="tw2"><rect x="448.6" y="1703.6" width="406.4" height="431.5"/></clipPath>
<g clip-path="url(#tw2)">
<rect x="448.6" y="1703.6" width="406.4" height="431.5" fill="#d5d7d4"/>
<rect x="448.6" y="1703.6" width="406.4" height="431.5" fill="#fff" filter="url(#lowf)"/>
<rect x="448.6" y="1703.6" width="406.4" height="431.5" fill="#fff" filter="url(#grainW)"/>
<rect x="448.6" y="1703.6" width="406.4" height="431.5" fill="#fff" filter="url(#grainD)"/>
<rect x="448.6" y="1703.6" width="406.4" height="431.5" fill="#fff" filter="url(#grain)"/>
<g filter="url(#blur1)">
<ellipse cx="579.0" cy="1755.2" rx="4.1" ry="4.0" fill="#7564b8" opacity="0.35" transform="rotate(91 579.0 1755.2)"/>
<ellipse cx="585.6" cy="1752.8" rx="5.9" ry="3.4" fill="#7564b8" opacity="0.37" transform="rotate(68 585.6 1752.8)"/>
<ellipse cx="582.2" cy="1748.6" rx="6.6" ry="2.3" fill="#7564b8" opacity="0.45" transform="rotate(20 582.2 1748.6)"/>
<ellipse cx="572.1" cy="1753.6" rx="6.0" ry="3.8" fill="#7564b8" opacity="0.50" transform="rotate(134 572.1 1753.6)"/>
<ellipse cx="587.3" cy="1756.6" rx="6.4" ry="3.7" fill="#7564b8" opacity="0.52" transform="rotate(16 587.3 1756.6)"/>
<ellipse cx="583.5" cy="1757.6" rx="4.7" ry="3.9" fill="#7564b8" opacity="0.43" transform="rotate(160 583.5 1757.6)"/>
<ellipse cx="585.1" cy="1752.9" rx="5.1" ry="3.1" fill="#7564b8" opacity="0.36" transform="rotate(76 585.1 1752.9)"/>
<ellipse cx="585.9" cy="1752.7" rx="6.0" ry="2.2" fill="#7564b8" opacity="0.58" transform="rotate(161 585.9 1752.7)"/>
<ellipse cx="584.0" cy="1754.7" rx="3.8" ry="3.2" fill="#7564b8" opacity="0.36" transform="rotate(15 584.0 1754.7)"/>
<circle cx="576.5" cy="1754.2" r="3.2" fill="#3d3088" opacity="0.8"/>
<circle cx="581.0" cy="1755.6" r="3.2" fill="#3d3088" opacity="0.8"/>
<circle cx="582.9" cy="1753.0" r="3.2" fill="#3d3088" opacity="0.8"/>
<ellipse cx="653.9" cy="1710.2" rx="4.1" ry="2.8" fill="#4a3d98" opacity="0.37" transform="rotate(100 653.9 1710.2)"/>
<ellipse cx="654.2" cy="1710.0" rx="3.1" ry="2.9" fill="#4a3d98" opacity="0.75" transform="rotate(22 654.2 1710.0)"/>
<ellipse cx="653.4" cy="1703.1" rx="3.0" ry="2.3" fill="#4a3d98" opacity="0.37" transform="rotate(66 653.4 1703.1)"/>
<ellipse cx="653.6" cy="1707.1" rx="4.5" ry="1.4" fill="#4a3d98" opacity="0.49" transform="rotate(156 653.6 1707.1)"/>
<ellipse cx="652.5" cy="1709.3" rx="3.5" ry="2.9" fill="#4a3d98" opacity="0.58" transform="rotate(3 652.5 1709.3)"/>
<ellipse cx="656.7" cy="1708.3" rx="3.6" ry="1.6" fill="#4a3d98" opacity="0.53" transform="rotate(58 656.7 1708.3)"/>
<ellipse cx="659.9" cy="1713.8" rx="2.6" ry="2.5" fill="#4a3d98" opacity="0.36" transform="rotate(141 659.9 1713.8)"/>
<circle cx="656.7" cy="1708.8" r="2.2" fill="#3d3088" opacity="0.8"/>
<circle cx="655.4" cy="1709.6" r="2.2" fill="#3d3088" opacity="0.8"/>
<ellipse cx="837.6" cy="1744.0" rx="3.2" ry="3.1" fill="#7564b8" opacity="0.51" transform="rotate(67 837.6 1744.0)"/>
<ellipse cx="840.2" cy="1745.2" rx="4.6" ry="1.7" fill="#7564b8" opacity="0.69" transform="rotate(47 840.2 1745.2)"/>
<ellipse cx="847.5" cy="1751.1" rx="3.0" ry="3.0" fill="#7564b8" opacity="0.74" transform="rotate(109 847.5 1751.1)"/>
<ellipse cx="839.2" cy="1748.0" rx="3.1" ry="2.1" fill="#7564b8" opacity="0.59" transform="rotate(174 839.2 1748.0)"/>
<ellipse cx="836.6" cy="1749.6" rx="4.2" ry="1.6" fill="#7564b8" opacity="0.38" transform="rotate(100 836.6 1749.6)"/>
<ellipse cx="837.4" cy="1746.6" rx="3.9" ry="2.6" fill="#7564b8" opacity="0.66" transform="rotate(69 837.4 1746.6)"/>
<ellipse cx="839.6" cy="1746.5" rx="4.7" ry="2.7" fill="#7564b8" opacity="0.70" transform="rotate(89 839.6 1746.5)"/>
<circle cx="838.5" cy="1748.4" r="2.3" fill="#3d3088" opacity="0.8"/>
<circle cx="836.4" cy="1747.7" r="2.3" fill="#3d3088" opacity="0.8"/>
<ellipse cx="581.5" cy="1874.1" rx="3.8" ry="1.4" fill="#4a3d98" opacity="0.36" transform="rotate(32 581.5 1874.1)"/>
<ellipse cx="578.8" cy="1875.9" rx="2.9" ry="1.3" fill="#4a3d98" opacity="0.54" transform="rotate(170 578.8 1875.9)"/>
<ellipse cx="575.6" cy="1873.4" rx="2.0" ry="2.4" fill="#4a3d98" opacity="0.71" transform="rotate(98 575.6 1873.4)"/>
<ellipse cx="578.8" cy="1874.4" rx="4.1" ry="1.2" fill="#4a3d98" opacity="0.61" transform="rotate(98 578.8 1874.4)"/>
<ellipse cx="580.9" cy="1879.3" rx="3.6" ry="1.2" fill="#4a3d98" opacity="0.63" transform="rotate(82 580.9 1879.3)"/>
<ellipse cx="578.2" cy="1875.2" rx="2.0" ry="1.9" fill="#4a3d98" opacity="0.50" transform="rotate(158 578.2 1875.2)"/>
<ellipse cx="582.9" cy="1880.3" rx="3.7" ry="1.9" fill="#4a3d98" opacity="0.70" transform="rotate(6 582.9 1880.3)"/>
<circle cx="580.3" cy="1873.5" r="1.8" fill="#3d3088" opacity="0.8"/>
<circle cx="581.5" cy="1873.3" r="1.8" fill="#3d3088" opacity="0.8"/>
<ellipse cx="663.9" cy="1996.8" rx="4.1" ry="1.6" fill="#4a3d98" opacity="0.38" transform="rotate(64 663.9 1996.8)"/>
<ellipse cx="657.7" cy="1996.6" rx="2.4" ry="2.5" fill="#4a3d98" opacity="0.48" transform="rotate(141 657.7 1996.6)"/>
<ellipse cx="670.5" cy="1996.3" rx="4.0" ry="2.8" fill="#4a3d98" opacity="0.74" transform="rotate(150 670.5 1996.3)"/>
<ellipse cx="664.4" cy="1997.8" rx="3.0" ry="2.5" fill="#4a3d98" opacity="0.43" transform="rotate(40 664.4 1997.8)"/>
<ellipse cx="663.2" cy="1997.0" rx="5.0" ry="2.8" fill="#4a3d98" opacity="0.50" transform="rotate(133 663.2 1997.0)"/>
<ellipse cx="657.8" cy="1996.7" rx="3.4" ry="2.3" fill="#4a3d98" opacity="0.44" transform="rotate(46 657.8 1996.7)"/>
<ellipse cx="659.6" cy="1995.6" rx="3.6" ry="2.8" fill="#4a3d98" opacity="0.36" transform="rotate(19 659.6 1995.6)"/>
<circle cx="662.1" cy="1995.1" r="2.2" fill="#3d3088" opacity="0.8"/>
<circle cx="661.9" cy="2000.1" r="2.2" fill="#3d3088" opacity="0.8"/>
<ellipse cx="846.0" cy="1958.6" rx="3.3" ry="2.3" fill="#7564b8" opacity="0.47" transform="rotate(144 846.0 1958.6)"/>
<ellipse cx="856.6" cy="1959.4" rx="6.5" ry="3.7" fill="#7564b8" opacity="0.70" transform="rotate(166 856.6 1959.4)"/>
<ellipse cx="850.6" cy="1960.2" rx="4.3" ry="2.3" fill="#7564b8" opacity="0.59" transform="rotate(89 850.6 1960.2)"/>
<ellipse cx="843.6" cy="1967.8" rx="4.6" ry="2.2" fill="#7564b8" opacity="0.46" transform="rotate(83 843.6 1967.8)"/>
<ellipse cx="844.0" cy="1956.8" rx="4.8" ry="2.1" fill="#7564b8" opacity="0.51" transform="rotate(59 844.0 1956.8)"/>
<ellipse cx="851.3" cy="1965.7" rx="3.8" ry="3.2" fill="#7564b8" opacity="0.61" transform="rotate(25 851.3 1965.7)"/>
<ellipse cx="845.6" cy="1957.7" rx="4.8" ry="3.0" fill="#7564b8" opacity="0.65" transform="rotate(159 845.6 1957.7)"/>
<ellipse cx="848.3" cy="1957.5" rx="5.2" ry="2.4" fill="#7564b8" opacity="0.36" transform="rotate(99 848.3 1957.5)"/>
<circle cx="842.9" cy="1961.7" r="2.9" fill="#3d3088" opacity="0.8"/>
<circle cx="846.1" cy="1965.5" r="2.9" fill="#3d3088" opacity="0.8"/>
<ellipse cx="500.4" cy="2063.0" rx="6.6" ry="2.6" fill="#7564b8" opacity="0.56" transform="rotate(13 500.4 2063.0)"/>
<ellipse cx="514.4" cy="2064.0" rx="3.6" ry="2.3" fill="#7564b8" opacity="0.42" transform="rotate(17 514.4 2064.0)"/>
<ellipse cx="510.3" cy="2048.0" rx="6.3" ry="2.9" fill="#7564b8" opacity="0.71" transform="rotate(91 510.3 2048.0)"/>
<ellipse cx="508.0" cy="2069.1" rx="5.0" ry="2.6" fill="#7564b8" opacity="0.48" transform="rotate(69 508.0 2069.1)"/>
<ellipse cx="505.7" cy="2069.7" rx="7.2" ry="3.3" fill="#7564b8" opacity="0.35" transform="rotate(123 505.7 2069.7)"/>
<ellipse cx="508.6" cy="2063.9" rx="7.2" ry="3.6" fill="#7564b8" opacity="0.71" transform="rotate(136 508.6 2063.9)"/>
<ellipse cx="502.3" cy="2066.0" rx="5.4" ry="3.6" fill="#7564b8" opacity="0.44" transform="rotate(60 502.3 2066.0)"/>
<ellipse cx="502.7" cy="2058.4" rx="6.1" ry="3.2" fill="#7564b8" opacity="0.72" transform="rotate(5 502.7 2058.4)"/>
<ellipse cx="506.2" cy="2071.5" rx="6.3" ry="2.2" fill="#7564b8" opacity="0.40" transform="rotate(38 506.2 2071.5)"/>
<circle cx="496.0" cy="2061.3" r="3.2" fill="#3d3088" opacity="0.8"/>
<circle cx="503.2" cy="2065.3" r="3.2" fill="#3d3088" opacity="0.8"/>
<circle cx="501.4" cy="2060.0" r="3.2" fill="#3d3088" opacity="0.8"/>
<ellipse cx="548.3" cy="2037.3" rx="5.0" ry="2.4" fill="#7564b8" opacity="0.55" transform="rotate(11 548.3 2037.3)"/>
<ellipse cx="542.2" cy="2044.6" rx="3.6" ry="2.3" fill="#7564b8" opacity="0.74" transform="rotate(100 542.2 2044.6)"/>
<ellipse cx="548.8" cy="2043.5" rx="2.5" ry="1.9" fill="#7564b8" opacity="0.71" transform="rotate(138 548.8 2043.5)"/>
<ellipse cx="543.2" cy="2047.4" rx="3.8" ry="2.8" fill="#7564b8" opacity="0.57" transform="rotate(121 543.2 2047.4)"/>
<ellipse cx="543.1" cy="2047.5" rx="2.5" ry="2.6" fill="#7564b8" opacity="0.58" transform="rotate(36 543.1 2047.5)"/>
<ellipse cx="542.4" cy="2045.4" rx="2.7" ry="1.8" fill="#7564b8" opacity="0.36" transform="rotate(73 542.4 2045.4)"/>
<ellipse cx="541.7" cy="2044.1" rx="5.1" ry="1.4" fill="#7564b8" opacity="0.42" transform="rotate(26 541.7 2044.1)"/>
<circle cx="539.7" cy="2047.2" r="2.2" fill="#3d3088" opacity="0.8"/>
<circle cx="539.7" cy="2045.6" r="2.2" fill="#3d3088" opacity="0.8"/>
<ellipse cx="539.9" cy="2104.2" rx="6.9" ry="4.1" fill="#7564b8" opacity="0.41" transform="rotate(68 539.9 2104.2)"/>
<ellipse cx="553.7" cy="2107.8" rx="4.7" ry="3.1" fill="#7564b8" opacity="0.42" transform="rotate(153 553.7 2107.8)"/>
<ellipse cx="547.1" cy="2107.3" rx="7.6" ry="3.2" fill="#7564b8" opacity="0.45" transform="rotate(110 547.1 2107.3)"/>
<ellipse cx="553.2" cy="2107.6" rx="3.5" ry="2.4" fill="#7564b8" opacity="0.37" transform="rotate(95 553.2 2107.6)"/>
<ellipse cx="544.8" cy="2118.5" rx="4.3" ry="2.0" fill="#7564b8" opacity="0.54" transform="rotate(22 544.8 2118.5)"/>
<ellipse cx="547.3" cy="2112.5" rx="4.2" ry="3.5" fill="#7564b8" opacity="0.72" transform="rotate(67 547.3 2112.5)"/>
<ellipse cx="545.7" cy="2105.6" rx="7.4" ry="3.3" fill="#7564b8" opacity="0.36" transform="rotate(134 545.7 2105.6)"/>
<ellipse cx="549.0" cy="2110.6" rx="3.5" ry="3.9" fill="#7564b8" opacity="0.63" transform="rotate(64 549.0 2110.6)"/>
<ellipse cx="541.1" cy="2106.2" rx="3.8" ry="3.6" fill="#7564b8" opacity="0.63" transform="rotate(170 541.1 2106.2)"/>
<circle cx="552.6" cy="2110.6" r="3.2" fill="#3d3088" opacity="0.8"/>
<circle cx="542.4" cy="2108.8" r="3.2" fill="#3d3088" opacity="0.8"/>
<circle cx="545.5" cy="2112.7" r="3.2" fill="#3d3088" opacity="0.8"/>
<ellipse cx="540.7" cy="2125.4" rx="4.1" ry="2.9" fill="#7564b8" opacity="0.36" transform="rotate(175 540.7 2125.4)"/>
<ellipse cx="536.3" cy="2131.3" rx="3.4" ry="2.8" fill="#7564b8" opacity="0.56" transform="rotate(135 536.3 2131.3)"/>
<ellipse cx="544.1" cy="2132.1" rx="5.1" ry="2.6" fill="#7564b8" opacity="0.44" transform="rotate(47 544.1 2132.1)"/>
<ellipse cx="536.6" cy="2127.9" rx="5.5" ry="2.1" fill="#7564b8" opacity="0.73" transform="rotate(33 536.6 2127.9)"/>
<ellipse cx="533.9" cy="2122.1" rx="4.5" ry="2.1" fill="#7564b8" opacity="0.36" transform="rotate(78 533.9 2122.1)"/>
<ellipse cx="531.0" cy="2133.2" rx="5.5" ry="3.0" fill="#7564b8" opacity="0.74" transform="rotate(30 531.0 2133.2)"/>
<ellipse cx="541.0" cy="2128.0" rx="2.5" ry="1.6" fill="#7564b8" opacity="0.58" transform="rotate(36 541.0 2128.0)"/>
<circle cx="536.2" cy="2126.0" r="2.3" fill="#3d3088" opacity="0.8"/>
<circle cx="537.0" cy="2133.5" r="2.3" fill="#3d3088" opacity="0.8"/>
<ellipse cx="509.7" cy="2117.6" rx="3.2" ry="2.0" fill="#7564b8" opacity="0.41" transform="rotate(134 509.7 2117.6)"/>
<ellipse cx="508.8" cy="2110.9" rx="3.1" ry="1.9" fill="#7564b8" opacity="0.54" transform="rotate(135 508.8 2110.9)"/>
<ellipse cx="505.8" cy="2110.2" rx="3.6" ry="2.1" fill="#7564b8" opacity="0.54" transform="rotate(106 505.8 2110.2)"/>
<ellipse cx="505.2" cy="2109.7" rx="2.1" ry="1.6" fill="#7564b8" opacity="0.66" transform="rotate(130 505.2 2109.7)"/>
<ellipse cx="510.3" cy="2113.6" rx="3.3" ry="1.8" fill="#7564b8" opacity="0.41" transform="rotate(116 510.3 2113.6)"/>
<ellipse cx="506.2" cy="2108.8" rx="4.2" ry="1.8" fill="#7564b8" opacity="0.35" transform="rotate(51 506.2 2108.8)"/>
<ellipse cx="507.0" cy="2111.0" rx="4.2" ry="2.0" fill="#7564b8" opacity="0.66" transform="rotate(31 507.0 2111.0)"/>
<circle cx="511.0" cy="2112.3" r="1.8" fill="#3d3088" opacity="0.8"/>
<circle cx="505.4" cy="2112.0" r="1.8" fill="#3d3088" opacity="0.8"/>
<ellipse cx="820.2" cy="1980.1" rx="2.3" ry="1.7" fill="#7564b8" opacity="0.41" transform="rotate(176 820.2 1980.1)"/>
<ellipse cx="823.4" cy="1978.6" rx="2.5" ry="1.8" fill="#7564b8" opacity="0.48" transform="rotate(126 823.4 1978.6)"/>
<ellipse cx="829.0" cy="1977.4" rx="2.0" ry="1.7" fill="#7564b8" opacity="0.59" transform="rotate(146 829.0 1977.4)"/>
<ellipse cx="826.3" cy="1981.5" rx="2.4" ry="1.7" fill="#7564b8" opacity="0.53" transform="rotate(8 826.3 1981.5)"/>
<ellipse cx="825.2" cy="1984.7" rx="3.2" ry="1.5" fill="#7564b8" opacity="0.38" transform="rotate(139 825.2 1984.7)"/>
<ellipse cx="825.4" cy="1979.1" rx="2.5" ry="1.2" fill="#7564b8" opacity="0.37" transform="rotate(132 825.4 1979.1)"/>
<circle cx="824.4" cy="1981.1" r="1.4" fill="#3d3088" opacity="0.8"/>
<ellipse cx="789.8" cy="1906.5" rx="3.0" ry="1.7" fill="#7564b8" opacity="0.45" transform="rotate(67 789.8 1906.5)"/>
<ellipse cx="789.5" cy="1910.6" rx="3.4" ry="1.6" fill="#7564b8" opacity="0.55" transform="rotate(97 789.5 1910.6)"/>
<ellipse cx="785.8" cy="1909.1" rx="2.1" ry="1.1" fill="#7564b8" opacity="0.63" transform="rotate(46 785.8 1909.1)"/>
<ellipse cx="792.6" cy="1906.8" rx="1.9" ry="0.9" fill="#7564b8" opacity="0.59" transform="rotate(24 792.6 1906.8)"/>
<ellipse cx="785.8" cy="1907.1" rx="3.1" ry="1.3" fill="#7564b8" opacity="0.57" transform="rotate(147 785.8 1907.1)"/>
<ellipse cx="790.3" cy="1908.6" rx="3.1" ry="1.2" fill="#7564b8" opacity="0.72" transform="rotate(15 790.3 1908.6)"/>
<circle cx="790.1" cy="1907.8" r="1.4" fill="#3d3088" opacity="0.8"/>
<ellipse cx="559.0" cy="1829.5" rx="1.7" ry="1.2" fill="#7564b8" opacity="0.71" transform="rotate(169 559.0 1829.5)"/>
<ellipse cx="559.8" cy="1827.9" rx="2.3" ry="0.9" fill="#7564b8" opacity="0.38" transform="rotate(143 559.8 1827.9)"/>
<ellipse cx="560.8" cy="1830.2" rx="2.7" ry="0.9" fill="#7564b8" opacity="0.44" transform="rotate(27 560.8 1830.2)"/>
<ellipse cx="563.3" cy="1827.1" rx="1.6" ry="0.8" fill="#7564b8" opacity="0.71" transform="rotate(23 563.3 1827.1)"/>
<ellipse cx="560.2" cy="1826.0" rx="2.3" ry="1.2" fill="#7564b8" opacity="0.52" transform="rotate(51 560.2 1826.0)"/>
<ellipse cx="560.2" cy="1828.1" rx="2.1" ry="1.0" fill="#7564b8" opacity="0.50" transform="rotate(160 560.2 1828.1)"/>
<circle cx="559.2" cy="1828.3" r="1.3" fill="#3d3088" opacity="0.8"/>
<ellipse cx="666.4" cy="2122.8" rx="3.0" ry="1.8" fill="#7564b8" opacity="0.65" transform="rotate(94 666.4 2122.8)"/>
<ellipse cx="669.6" cy="2118.3" rx="2.1" ry="1.0" fill="#7564b8" opacity="0.49" transform="rotate(3 669.6 2118.3)"/>
<ellipse cx="666.6" cy="2123.8" rx="1.6" ry="1.3" fill="#7564b8" opacity="0.35" transform="rotate(87 666.6 2123.8)"/>
<ellipse cx="668.6" cy="2119.9" rx="1.6" ry="1.6" fill="#7564b8" opacity="0.43" transform="rotate(145 668.6 2119.9)"/>
<ellipse cx="664.7" cy="2120.6" rx="2.4" ry="1.9" fill="#7564b8" opacity="0.43" transform="rotate(162 664.7 2120.6)"/>
<ellipse cx="666.8" cy="2123.8" rx="2.0" ry="0.9" fill="#7564b8" opacity="0.68" transform="rotate(33 666.8 2123.8)"/>
<circle cx="665.4" cy="2122.3" r="1.4" fill="#3d3088" opacity="0.8"/>
</g>
<path d="M594.3,2042.7v0.8M557.2,2025.1v0.4M465.2,2003.4v1.2M759.6,2004.5v1.2M825.0,1948.3v0.5M684.0,1887.8v1.0M590.4,1734.9v0.5M506.5,2019.7v1.0M665.2,1840.7v1.0M630.5,1916.9v0.5M853.8,1894.6v0.8M533.1,1896.9v0.8M621.4,2024.7v0.6M701.7,1992.8v0.4M783.0,1733.8v0.6M786.4,1755.0v0.6M616.4,2111.7v1.3M537.1,1980.1v1.1M657.5,1839.3v0.5M477.0,1722.9v0.3M742.9,1958.7v0.4M829.2,2129.0v0.7M595.8,2081.4v1.0M751.4,1782.3v1.0M628.4,1727.5v0.3M556.0,1804.7v0.6M819.1,1875.1v0.5M491.2,1727.7v0.7M619.5,1737.8v0.8M588.6,1711.8v0.8M512.6,1781.4v1.1M622.8,1857.6v0.9M746.8,1974.2v1.2M739.4,1850.8v1.3M455.0,1784.7v0.4M603.7,1856.2v0.7M705.8,1853.7v0.8M723.8,2103.3v1.3M598.4,1869.7v1.3M789.9,2082.2v0.4M566.3,1886.8v0.6M637.0,2110.9v0.7M654.2,1843.3v0.9M670.2,1782.0v0.4M754.3,2062.0v0.6M529.7,1747.3v0.9M683.8,2107.2v1.0M681.6,1960.0v1.2M822.7,1776.0v0.4M500.7,1709.0v1.2M840.0,1919.6v1.1M717.8,1986.7v0.7M837.6,1836.3v0.4M470.1,2043.6v1.1M795.2,2048.6v0.5M596.2,1824.6v1.2M449.4,1835.3v1.0M707.5,1704.9v0.4M517.2,1798.2v0.8M461.1,2060.7v0.8M713.7,1859.7v1.1M490.8,2077.6v0.5M657.6,1946.3v1.0M669.1,2014.2v0.4M665.9,1919.6v0.9M492.0,2008.9v0.4M467.5,1726.0v1.3M514.4,1998.8v0.4M694.6,1797.5v0.9M748.7,1995.6v0.8M740.2,1704.5v0.4M544.9,1898.6v1.1M459.3,1792.4v0.8M580.6,1739.1v0.6M459.2,1709.9v1.1M576.9,2012.5v0.5M749.2,2084.6v0.3M693.5,2095.5v1.1M497.9,2018.7v1.1M513.7,1987.5v0.9M529.7,2057.5v1.2M478.9,1907.1v0.9M451.9,1926.9v1.2M583.8,1917.1v1.2M803.7,2114.6v0.4M854.9,1846.7v0.7M523.7,2051.6v0.9M634.9,1917.3v0.8M685.4,1769.0v1.0M555.2,1712.5v1.3M488.4,2049.5v1.1M622.7,1966.5v0.5M536.3,2084.8v1.0M760.8,1901.2v0.3M762.9,2117.5v0.6M702.8,1767.3v1.3M737.1,1730.9v1.0M723.3,1891.7v0.9M827.3,1997.8v0.8M842.1,1979.0v1.1M674.5,2030.1v1.1M651.5,1904.2v0.5M713.8,2017.3v0.7M475.6,2008.1v0.9M711.7,1769.4v1.2M744.6,2048.9v0.4M558.9,1933.6v0.3M844.1,1778.8v0.5M771.7,1805.4v0.9M713.3,1791.2v0.3M734.4,2081.2v1.1M490.6,1847.9v0.8M462.0,2085.1v1.1M842.5,2098.5v1.1M569.5,1985.0v1.2M451.9,1735.3v1.3M485.7,2095.4v0.7M547.9,1865.9v1.2M711.8,1757.3v1.1M589.4,2059.8v0.8M798.7,1940.5v0.7M851.4,2127.0v0.8M660.9,1963.8v1.0M558.9,2105.1v0.7M853.7,1951.1v1.2M823.1,1822.3v0.3M684.5,1951.4v0.6M592.3,1821.8v0.4M635.1,1929.0v0.7M792.1,1891.8v1.1M755.3,1922.0v0.8M543.8,1999.7v1.2M843.2,2049.5v1.3M685.8,1898.7v1.3M721.6,1734.2v1.2M690.5,2072.9v0.7M705.4,1961.2v0.9M806.9,1873.9v1.0M830.6,1741.8v1.2M729.3,1893.6v0.3M649.5,1775.0v0.5M653.8,1974.1v1.2M704.9,2034.8v0.8M458.9,1845.8v0.4M694.6,1834.8v0.9M585.5,1723.0v0.5M827.7,1897.7v1.0M668.0,1902.8v1.0M816.6,1976.1v1.1M590.5,1822.9v0.3M665.6,1730.6v0.6M636.5,1864.6v0.5M619.4,2100.0v0.9M717.7,2134.7v0.9M835.3,2003.6v1.1M695.7,2134.8v0.8M585.4,1986.1v0.4M621.2,2110.1v0.4M614.7,1834.6v0.9M795.8,1842.1v0.9M461.2,1806.7v0.7M708.6,2082.8v1.2M655.4,1816.1v1.1M792.5,2045.6v1.0M705.0,1873.4v0.9M598.0,2007.5v1.2M571.6,2021.0v0.4M484.5,1785.1v0.6M625.0,1871.4v1.2M470.6,2077.3v0.5M571.1,1905.4v0.7M680.4,1717.6v0.9M465.7,1773.7v0.6M656.7,2018.2v0.3M460.9,1881.5v0.5M739.6,2054.5v1.2M849.6,2118.7v0.5M678.9,1759.7v0.8M733.1,1976.6v1.3M601.3,1886.7v1.2M773.2,1783.7v0.7M763.4,1729.3v1.1M812.2,1983.2v0.4M673.0,1770.1v1.2M550.2,1725.6v0.8M545.1,2075.9v0.5M497.2,1864.9v0.7M668.1,2118.7v0.7M804.2,1760.2v0.8M810.4,2064.1v0.9M484.3,2134.6v0.7M718.7,1746.5v0.4M617.0,2044.7v1.1M605.6,1813.9v0.9M629.1,1811.0v0.4M471.1,1741.6v1.1M836.8,2049.9v1.0M630.2,1822.7v0.8M611.9,2062.0v1.3M612.3,1822.7v1.0M823.4,2122.1v1.3M771.4,2061.5v0.8M730.6,1796.1v1.3M544.2,2034.0v1.1M805.5,1863.0v0.8M455.4,2082.0v0.9M506.1,1850.5v0.7M641.7,1835.2v0.6M661.0,2029.3v0.8M629.6,1868.8v1.2M757.8,2001.9v0.4M758.3,1890.6v1.0M639.3,1738.8v0.8M744.1,1776.9v0.9M558.1,1708.4v0.3M607.2,1810.5v0.5M582.4,2042.1v0.8M681.6,2093.3v0.5M811.7,1996.0v1.0M822.4,1772.3v0.7M667.3,1932.5v1.3M544.6,1820.4v1.1M771.0,1842.4v0.4M650.8,1946.1v1.2M681.7,1938.2v1.1M718.2,1973.9v0.3M736.0,1893.3v0.8M668.5,2040.7v0.5M804.1,1764.7v1.1M792.1,1718.9v0.9M782.6,1839.9v0.5M831.2,1798.8v1.3M587.3,2111.0v0.9M480.0,1803.9v0.9M453.1,1802.3v0.7M491.4,2110.7v0.8M596.3,1860.8v0.4M693.6,1991.6v1.0M799.2,2076.6v0.7M542.2,1743.1v1.0M710.1,1751.4v1.0M808.9,1716.3v0.9M765.1,2022.6v0.6M601.4,1740.1v0.5M684.2,2089.6v0.6M718.5,2107.8v1.0M535.9,1846.9v1.2M454.9,1916.2v0.7M520.5,1945.8v0.6M560.3,2060.0v1.0M809.1,1705.5v1.1M640.7,1920.7v1.2M661.2,2091.6v1.1M477.2,2078.2v0.6M667.4,1923.3v0.9M475.3,1929.3v1.0M564.3,2043.8v0.8M633.1,1784.6v0.5M592.9,1910.5v1.2M729.1,1773.4v0.5M821.9,1717.1v1.2M775.6,2075.4v0.5M792.3,1913.7v0.7M558.1,1850.1v1.0M561.7,2121.0v1.1M808.0,1994.1v1.0M550.9,1762.2v0.4M705.4,2094.1v0.7M668.7,1818.0v1.0M814.1,2012.7v0.8M817.8,1895.0v1.2M780.7,2015.9v1.0M610.4,1869.9v0.6M724.7,2080.2v0.5M647.6,1829.7v0.6M531.3,2076.0v0.8M773.4,1776.8v1.0M678.4,2109.6v0.7M573.2,1733.6v1.1M762.6,1710.9v0.8M730.9,1856.4v0.4M599.6,1957.8v0.8M704.0,1704.4v0.8M609.1,2092.9v1.1M810.4,1899.8v1.0M718.3,2086.5v0.7M733.0,1914.3v0.7M558.6,1738.9v0.6M677.7,2113.0v0.5M808.7,2043.5v1.0M642.6,1911.0v0.9M760.4,2087.2v0.3M810.5,2050.7v1.2M573.7,1837.6v1.1M797.2,1881.7v0.7M560.3,1771.1v0.5M574.5,1785.0v0.9M757.6,1932.4v0.6M541.7,1902.1v0.5M616.9,1772.1v1.0M754.4,1745.1v0.5M581.5,1793.6v1.2M639.0,1712.8v0.7M715.5,2097.1v0.6M821.1,1780.1v0.5M737.7,1961.0v0.7M502.3,1931.3v0.5M811.5,2122.4v1.0M700.0,1749.1v0.4M619.5,1867.5v1.0M828.9,1903.9v1.0M846.1,1798.2v0.3M499.6,2036.4v0.9M736.9,2123.4v0.4M690.3,1918.7v0.8M651.6,1940.5v1.1M657.9,2057.4v0.7M817.0,1953.1v1.0M653.5,2004.0v0.8M732.6,2058.6v0.3M638.3,1842.8v0.4M471.8,2023.1v0.3M716.6,1728.8v0.5M630.2,2015.2v1.0M621.7,1922.9v0.9M468.4,1882.8v0.8M453.3,1926.6v0.8M735.0,1758.0v1.1M710.6,1851.5v0.3M786.6,1982.7v1.3M844.9,1813.1v0.9M647.7,2041.3v0.7M675.5,1726.7v1.2M470.3,1907.8v1.1M537.1,1826.0v1.0M483.9,1919.8v1.3M558.1,2017.4v0.8M618.3,1917.0v1.3M502.2,1952.7v0.7M503.7,1840.2v1.2M636.4,1896.8v1.3M463.5,1953.9v1.2M853.1,1839.3v0.6M745.7,1903.6v0.4M506.0,2078.4v0.9M803.1,2049.7v0.6M615.0,1877.6v0.8M553.5,1862.6v0.5M591.5,1988.6v0.8M471.7,1964.1v1.2M833.1,2050.1v1.2M522.3,2053.1v0.7M573.0,1876.1v1.2M736.9,2001.3v0.6M738.4,1794.9v0.7M777.1,2129.2v0.9M673.6,1888.1v0.4M704.3,1970.4v0.4M588.0,1838.1v1.2M772.1,1828.3v0.6M590.9,1755.2v0.5M557.1,1784.3v1.0M472.1,2044.7v1.0M548.7,1856.9v0.9M837.8,1756.1v1.1M564.9,2036.5v1.0M596.8,1779.6v0.6M723.8,1975.5v0.5M551.9,1869.1v0.3M680.2,2079.3v0.4M475.7,2021.2v1.0M798.8,1910.9v1.3M793.3,1832.7v0.7M468.4,1930.3v0.9M675.8,1944.1v1.2M812.2,1830.1v0.3M495.3,2115.4v0.6M841.6,1976.0v0.3M645.0,1789.1v0.6M592.2,1788.3v0.3M469.8,2115.7v0.7M659.1,1747.1v0.8M764.7,2090.9v0.5M845.8,2022.7v0.6M499.8,1809.2v0.5M502.6,1967.6v1.2M647.7,2036.6v1.2M849.9,1928.8v0.9M724.8,2097.6v0.9M752.2,1949.1v1.1M785.3,1754.0v1.2M609.8,1982.0v1.1M474.4,1973.9v1.0M678.5,1928.4v1.0M625.3,1930.3v1.1M763.7,1977.5v1.3M719.0,2023.1v0.9M684.5,2030.3v1.2M655.5,1723.2v0.7M579.4,2065.7v1.0M727.6,2054.4v0.8M643.2,1718.5v0.7M763.8,1778.4v0.8M564.8,1804.2v0.6M548.6,2016.2v0.5M821.2,1722.8v1.3M784.1,2092.5v0.6M448.8,2036.2v0.8M517.5,2086.8v0.6M514.7,2043.6v1.0M514.6,1830.4v0.9M712.5,2065.0v0.5M831.0,1837.4v0.5M734.3,1955.5v0.8M672.4,2001.7v0.9M608.4,1853.4v0.4M489.8,1846.8v0.4M777.1,1725.1v0.9M656.3,2070.2v1.0M623.4,1795.6v0.9M496.8,1804.0v1.2M794.3,2110.4v1.2M673.4,1743.6v1.0M802.3,1739.6v0.7M786.4,1802.6v0.6M561.7,2081.3v0.3M509.5,1835.6v0.8M654.5,2112.1v0.3M571.3,1927.7v0.4M561.5,2123.4v1.3M679.4,2119.2v0.6M776.6,2029.3v1.2M531.6,1949.6v1.3M759.2,1962.5v0.7M808.4,2080.5v0.5M787.4,1839.2v1.1M549.7,1963.7v1.3M518.8,1933.3v0.5M484.3,1706.0v0.6M525.9,2041.2v0.4M614.3,1715.1v0.3M720.1,2031.5v0.9M689.8,1704.0v0.7M542.7,2019.5v1.0M616.1,1870.7v0.3M636.3,1719.7v1.2M476.1,2038.8v0.9M687.4,1798.7v0.7M608.6,1840.7v1.0M536.1,1769.0v0.9M490.4,2109.5v0.9M487.6,2094.2v0.8M498.9,1917.7v1.1M563.0,1976.0v0.6M476.3,1904.5v0.7M614.3,2083.2v1.2M657.8,2015.7v1.1M597.2,2026.9v0.4M543.2,1826.2v0.9M476.8,2119.8v0.9M779.5,1870.0v1.2M719.5,2027.0v0.7M605.9,2028.2v0.4M567.3,1879.6v0.8M477.1,1827.6v0.6M781.4,2052.0v1.2M793.7,2105.5v1.2M638.9,1773.0v0.6M619.1,1834.7v0.3M622.6,2131.1v0.4M605.6,1778.9v0.6M781.9,1940.8v1.0M502.2,1900.6v0.8M517.0,1867.6v0.7M769.7,2124.9v1.0M828.8,1929.3v0.6M459.6,1784.0v1.2M772.5,2029.6v0.3M687.3,1745.8v0.5M688.1,1949.4v1.1M653.3,2087.9v1.2M750.5,1751.1v0.8M464.5,1842.3v1.1M591.0,2093.9v1.1M682.2,1826.2v0.6M801.7,2029.0v0.8M592.0,1908.7v0.7M460.1,1867.4v1.3M814.2,1896.5v1.0M736.4,1767.2v1.2M691.2,1707.9v0.9M543.7,1982.6v1.3M543.4,2008.4v1.1M684.2,1906.7v1.1M665.9,1910.1v0.9M496.6,2071.9v1.2M590.5,1916.1v0.5M647.9,1769.5v0.5M597.7,2114.4v1.0M520.1,1942.8v1.0M600.5,2122.0v1.2M620.3,1990.4v1.3M818.5,2081.3v0.6M848.6,2002.3v0.6M673.4,1898.6v0.9M790.7,1738.7v1.0M836.8,1757.1v1.1M684.9,1973.2v0.8M717.5,1820.9v0.3M525.9,1717.3v0.4M493.8,1728.7v0.9M770.9,1794.2v1.0M679.8,1732.7v0.5M671.5,2022.3v1.2M470.6,1895.0v1.1M635.2,1840.8v0.5M544.8,1992.0v0.4M518.9,1789.0v1.0M477.1,2080.6v0.9M845.3,1947.2v0.8M677.2,2059.7v0.5M474.4,1864.3v0.5M850.8,2128.7v0.8M680.9,1758.0v0.5M559.3,1885.7v1.1M585.0,1881.3v0.3M764.2,1945.5v1.0M523.4,1871.8v0.8M715.0,1732.0v1.0M669.1,1835.5v0.6M842.0,1746.2v1.1M741.3,1905.1v0.4M575.3,2117.6v1.3M495.6,1996.4v1.3M501.6,2121.0v0.9M508.9,1828.8v0.9M499.8,1816.7v1.1M535.3,2037.4v1.2M821.3,1731.1v0.6M594.1,1898.2v0.3M661.3,1762.9v1.2M715.9,1838.1v0.9M524.6,2093.3v0.8M625.4,1923.6v0.6M555.6,2110.9v1.1M681.0,1717.9v0.9M805.4,1715.3v0.6M844.4,2104.8v0.6M455.2,1834.1v0.6M519.3,1928.3v0.9M764.7,2029.7v1.0M489.4,1860.2v0.7M718.2,1706.5v0.9M698.6,1960.5v1.2M765.8,1718.8v1.2M556.6,1820.8v0.8M814.3,1833.3v0.5M572.8,1707.3v0.6M584.4,2074.7v1.1M483.2,1928.7v1.1M467.7,1771.6v0.9M591.2,2076.5v0.8M812.5,1931.2v1.0M456.3,1951.3v0.7M616.8,1843.8v1.1M581.6,1884.8v1.1M655.9,1860.3v0.9M458.5,1951.9v0.3M733.5,1795.9v0.4M669.8,1979.1v1.2M774.2,1756.9v0.5M664.3,2098.2v0.7M716.6,1850.2v1.0M457.1,1837.7v0.9M752.8,1897.0v0.5M681.5,2129.8v0.8M694.1,2062.3v1.1M789.7,1984.0v0.9M808.4,2023.4v0.9M511.2,1770.7v0.7M852.0,2074.9v1.0M694.0,1839.6v0.4M480.9,1982.3v0.7M466.3,1973.3v0.7M770.6,2056.8v0.3M454.2,1916.4v0.4M634.4,2080.5v0.6M508.4,2003.2v0.4M844.6,2057.8v1.1M669.4,1827.0v1.1M499.6,1976.4v0.4M456.8,2113.3v1.3M849.3,1866.9v0.6M740.1,1838.3v1.1M820.4,1777.1v0.3M574.6,1865.6v1.1M644.1,1869.3v1.3M450.2,1734.7v0.3M449.1,2084.4v1.0M832.8,1793.8v1.2M510.6,1921.9v1.2M650.2,1722.5v0.8M611.9,1922.9v0.5M559.7,2011.0v0.4M471.4,2119.1v0.7M570.7,1861.8v0.9M461.2,1950.1v1.3M646.6,2106.4v1.2M615.8,1850.7v0.3M655.2,2078.5v1.3M707.3,1732.0v1.0M485.4,1877.3v1.0M696.5,1985.6v0.7M672.4,2026.4v1.2M517.0,1857.6v1.0M455.1,1863.3v0.6M825.9,1847.2v0.8M789.9,1763.1v0.9M460.4,1752.7v1.2M502.0,1725.9v0.5M813.2,1752.0v1.2M573.8,1788.3v0.5M751.1,1967.1v0.7M518.7,1705.6v0.8M787.5,1750.1v0.5M628.2,1983.6v0.3M496.0,2016.0v0.8M852.4,1790.8v0.7M596.4,2006.2v0.5M696.2,1793.8v0.6M601.1,2023.8v1.1M685.0,1821.6v0.5M608.6,2067.4v1.2M812.0,2043.4v0.6M457.9,1912.0v0.8M511.0,2041.5v0.9M515.8,2012.3v0.9M762.3,1802.8v1.2M753.6,1818.6v0.9M531.5,1893.1v1.0M787.3,1986.8v0.7M524.5,1977.7v1.0M741.9,2044.9v1.0M824.8,1957.1v0.5M579.3,1770.4v1.1M731.5,1708.7v0.9M679.5,1827.1v1.1M548.3,2027.0v0.5M699.9,1868.3v0.6M754.2,1904.8v1.3M501.7,1928.2v0.6M797.9,2026.4v0.7M550.8,1786.1v0.4M691.4,2114.5v0.5M667.7,1834.6v1.0M742.6,2083.0v0.9M824.5,1706.8v1.1M480.7,1904.2v0.4M722.4,1839.6v0.7M827.6,1891.9v0.7M562.0,1729.9v0.4M742.7,1917.3v0.3M805.2,1771.6v0.5M631.7,2070.2v1.0M533.3,1830.0v0.7M528.0,2037.4v0.5M647.3,1727.0v0.6M557.1,2014.4v1.2M731.0,1941.3v1.1M708.6,1718.6v0.9M476.0,1780.1v1.0M703.6,1707.3v0.4M463.8,2004.4v1.3M501.6,1977.1v1.1M739.3,1965.3v1.1M490.7,2106.7v0.9M771.1,2054.8v0.7M795.3,1779.9v1.2M470.0,1912.3v0.3M606.3,2105.9v1.0M537.6,2057.9v0.9M580.1,1751.4v0.5M633.2,1843.8v0.6M541.2,1811.2v1.0M563.7,2101.6v0.8M618.9,1839.1v1.2M523.0,1822.5v0.8M674.5,1815.9v1.0M593.9,2002.1v0.5M647.7,2060.0v0.7M770.6,1889.7v0.6M751.2,2050.7v1.2M477.6,1973.6v1.1M769.6,1879.4v1.2M511.4,1919.0v0.6M811.3,1963.3v1.0M729.1,1735.4v0.5M601.7,1921.5v0.5M618.2,1827.7v0.8M756.1,1781.9v0.9M600.5,1871.9v0.3M516.8,2061.3v1.2M504.9,2018.0v0.5M520.3,1845.6v1.1M581.9,1784.4v0.9M773.6,2108.5v0.9M682.4,2062.2v1.0M801.4,1986.2v0.3M769.9,2133.8v1.1M479.1,1738.2v1.0M786.8,2049.9v0.4M631.5,1725.1v1.0M702.5,1888.7v0.9M636.4,1723.3v0.6M728.7,1868.7v1.3M759.0,1828.5v0.5M776.1,2021.7v0.4M559.2,2043.6v0.5M635.6,1964.2v0.6M690.7,2032.0v1.2M477.5,2034.6v0.9M830.1,1881.3v1.1M642.1,2113.4v0.4M574.9,1957.2v1.2M638.2,2056.0v1.1M835.0,1915.6v1.1M762.7,1728.3v1.1M700.3,2089.9v0.4M734.9,1720.1v1.3M697.4,1723.1v1.0M813.7,2120.2v0.8M554.0,1818.5v1.2M494.3,1887.4v1.3M702.8,1766.1v1.0M679.9,2061.2v0.5M822.1,2015.9v0.4M824.8,2064.9v0.4M466.3,1722.3v1.0M542.0,1845.6v1.0M543.1,1909.7v0.7M853.6,2078.6v0.6M825.7,1833.4v0.7M466.0,1975.8v0.6M533.9,2071.3v0.5M591.2,1806.1v1.1M660.1,1728.3v0.7M644.8,1704.3v1.3M757.3,1745.1v0.6M754.6,1753.6v1.1M723.4,1828.8v1.2M464.8,1770.1v0.4M604.3,1777.8v0.5M487.2,1784.6v1.2M489.6,1767.4v0.5M852.5,1797.9v0.4M461.6,1796.9v0.4M622.1,1704.7v0.4M671.6,2080.1v0.8M521.8,1850.8v0.4M706.4,1980.0v0.6M669.6,1738.2v1.2M684.6,2098.7v1.3M755.6,1707.4v0.8M743.0,1811.0v1.0M845.7,1922.4v0.7M652.5,1850.5v0.7M681.0,1789.1v1.1M556.0,1967.3v1.0M583.6,2048.1v1.2M566.0,1974.6v0.7M802.3,2098.1v0.7M750.2,2008.8v0.6M535.0,1888.7v0.5M802.7,1788.1v0.7M515.6,1915.3v1.0M809.7,1982.0v0.7M740.2,2106.4v1.1M654.0,1834.9v0.9M566.0,1737.0v0.8M501.5,1921.2v1.0M721.9,2093.4v0.6M796.9,2044.2v0.4M641.1,2098.2v0.8M476.5,1921.3v1.1M511.1,2037.7v0.6M739.3,2112.0v0.5M842.1,1814.5v1.2M588.7,1933.6v1.3M730.2,1902.8v0.3M613.9,1805.1v0.8M709.6,1805.3v0.7M740.7,1925.0v0.9M751.8,1880.7v0.3M682.7,2006.3v1.0M519.9,2018.4v1.2M789.0,2090.4v0.4M770.4,2124.2v0.6M816.1,2080.7v1.0M666.9,2035.0v0.4M836.4,1809.1v0.3M633.7,1861.5v1.1M722.1,1751.1v0.8M711.6,1961.7v0.5M690.8,1754.0v0.7M821.0,2097.8v0.6M549.7,1757.7v0.5M683.1,1899.0v0.6M449.7,1948.9v0.8M530.1,1838.7v0.5M470.3,1814.6v1.0M567.2,2102.7v0.7M822.6,1788.6v1.2M532.4,1766.6v0.5M555.2,2069.8v0.8M628.1,1786.3v0.4M767.5,1802.5v0.4M685.5,2019.5v0.6M636.3,2026.6v0.4M716.6,1824.5v0.7M658.2,1901.4v1.2M481.4,1704.9v0.4M690.5,1808.2v0.7M660.3,1975.9v0.6M482.7,1970.3v1.1M609.1,1855.8v0.9M531.4,1947.1v0.5M783.3,2023.3v0.4M814.6,1807.0v0.4M585.8,2021.8v0.4M813.3,1883.3v0.9M622.8,1905.2v0.9M603.9,1815.9v0.6M539.1,1817.6v1.1M597.3,2052.0v1.1M617.5,2127.1v0.5M625.5,1878.5v0.3M464.9,2132.7v0.6M852.0,2013.4v1.3M612.6,1945.5v0.3M555.0,1756.6v0.8M817.1,1834.6v0.7M752.5,1950.6v0.8M602.0,1914.2v0.4M510.6,1999.3v0.5M472.6,2122.0v0.4M691.3,2017.3v0.4M831.4,2053.2v1.0M685.6,1926.9v0.3M696.8,2062.0v1.0M727.6,1932.0v0.7M573.1,1823.2v1.1M728.0,2105.1v0.8M488.1,1946.8v1.1M464.9,1755.5v0.8M532.5,2011.6v1.2M749.8,1966.2v1.2M484.8,2043.4v1.2M596.4,1815.3v0.7M738.1,1996.0v0.8M486.5,1717.5v1.0M737.8,1821.6v1.2M690.7,1981.8v0.8M646.5,2028.9v0.6M755.9,1947.2v0.6M788.2,1809.9v1.1M531.9,1885.6v1.0M785.0,2015.7v1.1M697.2,1789.0v0.5M831.5,1772.1v1.0M738.6,2081.8v1.0M836.0,1754.7v1.3M810.2,1956.2v0.5M699.3,1719.8v0.3M702.9,1837.6v0.8M449.8,2041.3v0.3M766.2,1977.6v0.6M845.5,1924.6v1.2M667.1,1759.5v0.8M813.8,1790.4v0.5M467.7,1885.2v1.2M644.5,1942.8v0.4M640.5,2075.3v1.3M752.3,1975.5v0.8M579.3,2124.3v0.4M664.8,1791.1v0.7M542.9,2054.2v0.9M838.2,1795.2v1.1M804.3,1930.3v0.7M740.6,2060.3v0.7M618.9,1850.4v0.6M704.6,1862.7v0.8M533.3,1762.2v0.9M738.5,1869.7v1.0M693.2,2044.9v1.0M595.3,2005.3v1.3M778.4,2086.9v0.5M612.3,1951.0v0.9M541.2,1856.3v0.4M548.4,1847.3v1.1M751.4,1908.2v1.2M751.8,1944.1v0.3M724.3,2049.8v0.6M577.7,1843.6v0.8M639.8,2026.0v1.3M719.4,1822.7v1.1M502.4,2042.2v0.8M455.1,1734.2v0.3M479.0,2116.1v0.3M464.8,2117.9v0.3M765.3,2018.6v1.3M593.1,2066.1v0.8M802.0,1713.8v1.1M799.9,1927.5v1.3M489.0,1922.4v0.8M575.9,1706.7v1.1M841.5,1880.8v0.4M634.7,1991.6v1.1M521.4,1742.8v0.3M558.6,1927.8v0.7M468.3,1954.8v1.2M781.7,1983.2v0.4M593.4,2091.4v0.3M567.4,2079.2v0.9M713.3,2023.9v0.6M478.5,1888.1v1.1M555.9,1725.8v1.2M844.8,1915.1v0.7M808.3,2058.5v0.5M833.8,2105.4v1.0M810.1,1875.8v1.2M628.7,1711.1v0.6M831.1,1935.9v0.4M474.8,1874.2v0.7M540.6,1790.4v0.8M535.9,1847.4v0.6M518.2,1964.2v0.9M595.1,1961.5v1.0M668.6,1856.5v0.5M776.2,1813.5v0.7M810.2,1856.7v0.6M607.9,1964.4v0.5M533.7,2034.9v0.9M687.1,2014.7v0.4M504.3,1797.7v0.6M497.7,1741.4v0.5M552.5,1944.8v0.8M518.7,1763.1v0.9M836.2,2041.7v0.5M497.8,1878.8v1.0M697.4,2121.9v1.3M549.3,1893.7v0.7M794.8,1830.5v0.3M799.7,1882.5v0.6M627.3,2039.4v0.5M454.9,1777.7v0.3M503.2,1959.0v0.9M508.6,1884.6v0.7M666.6,1781.6v1.1M618.6,1734.9v1.0M595.5,2082.4v0.9M586.1,1777.7v1.3M684.1,1929.9v0.5M490.0,1764.9v1.0M565.9,1774.4v0.6M652.5,1846.2v1.0M634.5,1710.8v0.7M823.6,1780.7v0.6M631.5,1882.5v0.8M520.6,1961.4v0.8M840.3,2105.8v0.4M542.9,1722.2v0.7M756.3,1732.9v0.9M632.2,2126.9v1.1M830.6,2008.2v1.0M488.3,1841.4v1.0M631.2,1899.4v1.2M577.7,1816.9v1.2M590.0,2127.8v0.7M750.9,2065.3v1.1M732.6,1819.3v0.9M817.9,2117.2v0.4M710.6,1901.9v0.9M647.5,2026.1v0.8M505.2,1745.8v0.4M589.4,1774.8v0.9M693.2,1845.1v0.9M623.0,1903.1v1.0M597.4,1715.8v0.9M486.8,1876.5v1.0M830.1,1914.9v1.2M512.6,1902.7v0.5M668.2,2081.2v0.3M723.1,1933.6v1.0M522.1,2033.7v0.6M674.3,2047.7v0.8M799.8,2011.0v1.0M698.3,2029.2v0.3M660.7,1953.1v0.5M565.3,1920.6v0.6M597.5,1972.8v1.0M509.9,2006.9v0.4M479.6,1738.7v1.2M507.5,1748.1v0.9M537.1,1725.1v0.9M808.7,1924.0v1.2M685.8,1771.8v1.1M567.1,2041.2v1.0M736.5,2089.0v0.4M575.8,1984.6v1.0M515.5,1804.2v0.9M753.5,1710.6v0.5M548.2,1862.6v1.1M579.3,1881.4v0.7M472.7,2096.8v0.9M631.2,1997.6v0.4M507.2,1997.7v1.2M470.3,2120.8v1.3M825.8,2046.2v1.1M460.3,1987.6v1.3M527.5,1936.5v0.7M706.7,1975.3v0.5M716.2,1750.4v0.5M755.9,2054.1v0.6M605.3,2012.0v0.9M758.9,2062.9v0.3M553.2,2052.6v1.0M612.8,2056.3v0.8M461.4,1774.9v0.9M795.4,1965.3v0.4M456.0,2094.2v1.1M559.9,1781.4v1.3M561.7,2061.7v0.9M821.1,1846.5v0.7M767.4,1838.8v1.2M851.0,1787.1v1.3M603.5,1904.2v1.2M559.5,1982.3v0.3M838.4,2129.5v1.0M652.5,1716.0v0.9M567.1,1973.8v0.9M538.9,1999.5v0.5M807.6,1712.5v0.5M452.9,1771.9v0.6M569.2,2075.4v0.6M590.1,1736.2v0.8M672.7,2112.2v0.6M699.4,1968.4v0.9M520.1,1996.5v0.6M717.1,1766.8v1.3M700.9,1846.1v0.3M513.3,1713.6v0.7M590.4,1825.7v0.6M449.2,1782.0v0.4M744.8,2075.3v0.8M459.9,2091.1v0.5M516.1,2099.5v1.3M602.5,1836.2v0.6M522.7,1722.5v0.7M822.4,2129.3v0.6M601.5,1777.4v0.8M530.0,1863.8v1.0M595.2,2086.2v1.0M505.6,2093.0v0.9M686.6,1879.0v0.7M780.0,1832.8v0.8M508.9,2085.7v0.6M797.2,2079.4v0.4M830.9,1841.3v1.2M732.3,1979.8v0.5M513.9,1929.9v0.8M659.3,2122.5v1.2M763.6,1940.4v0.4M779.6,1821.5v0.8M620.9,2094.8v1.0M798.8,1827.8v0.9M840.1,1776.9v0.5M667.3,2082.4v0.4M617.7,1729.9v0.9M820.8,1759.5v0.6M518.1,2118.4v1.2M527.8,2132.1v1.0M489.0,1896.2v0.5M462.3,1713.6v0.8M738.1,1744.7v0.4M501.5,1951.8v1.3M564.3,1707.0v0.4M814.0,1963.3v1.1M727.2,1817.9v0.8M710.9,1821.7v0.6M481.8,1912.9v0.6M641.0,2034.8v1.2M665.9,2113.4v1.2M660.2,1779.4v0.5M595.3,1920.8v0.7M467.5,1958.0v0.7M746.6,2092.6v0.9M581.7,1984.5v0.3M682.1,1992.2v1.0M572.9,2014.5v0.6M607.6,1833.0v0.7M628.2,1870.5v1.1M702.2,1800.6v0.4M478.9,2090.8v1.0M632.6,2051.8v0.7M701.9,1739.9v1.0M550.8,2083.9v1.2M540.7,2006.4v0.8M585.8,1907.4v0.8M526.6,1993.3v0.8M572.5,2005.1v0.7M693.5,1776.5v0.4M583.3,2011.5v1.2M834.1,1897.5v1.3M458.3,1891.5v0.6M481.1,1924.7v1.1M802.2,1973.2v1.0M827.6,2091.9v1.3M707.1,1826.4v0.8M567.1,1792.0v1.1M799.9,2066.0v0.8M734.7,1770.3v1.2M451.6,2109.6v1.0M486.6,1734.1v1.0M698.9,1900.7v0.6M627.6,2040.7v0.7M805.3,1746.4v1.2M556.9,1947.1v0.6M662.6,1843.3v0.4M598.2,1868.2v1.1M805.7,1887.7v0.5M688.3,1713.5v1.1M598.9,1866.5v0.8M593.4,1878.8v0.7M667.5,1718.3v1.3M725.0,1844.8v1.1M775.7,2090.6v0.6M661.3,1834.5v0.7M688.4,2005.6v1.2M806.7,1913.9v0.5M551.9,2081.2v0.8M531.4,1815.1v1.0M561.7,1953.7v1.0M628.4,2019.1v1.3M787.6,2109.7v0.4M752.1,1708.1v0.3M847.2,1990.0v0.8M696.9,1961.3v0.6M558.6,2102.5v1.2M543.1,1800.8v0.8M851.2,2030.1v1.1M815.3,1874.0v0.8M847.2,1773.3v0.5M696.8,2017.7v0.7M714.5,1720.8v0.4M640.2,1881.6v0.9M777.8,1803.2v0.3M492.1,1714.6v1.0M817.0,1732.7v0.6M828.8,1921.5v0.8M646.3,1763.5v1.2M679.1,1713.5v0.7M550.1,2108.7v1.2M724.8,1929.9v0.4M454.9,1785.9v0.9M664.2,2084.8v1.3M852.8,2046.4v0.3M541.5,1967.4v1.1M496.1,1872.2v0.5M759.3,2042.2v1.0M829.8,2021.5v0.7M613.2,1975.7v0.5M652.8,1772.9v0.7M520.6,1960.4v0.9M598.0,1803.8v1.0M676.5,1742.7v1.2M508.1,1879.9v0.6M786.6,2049.3v0.5M715.6,1772.7v0.5M836.1,1902.8v1.1M753.9,2097.4v1.2M696.3,1762.1v0.3M684.5,1940.0v0.7M715.7,2054.5v0.5M680.3,2125.6v0.3M765.5,2034.4v0.6M675.6,2093.5v0.4M684.6,1964.8v0.4M620.2,1797.8v1.1M848.3,2029.3v0.8M487.7,1919.3v0.9M668.8,1753.8v0.7M760.4,1871.4v0.9M737.6,1899.6v0.4M594.2,1786.6v1.3M497.4,1856.4v1.0M724.4,1768.9v1.3M618.2,1852.7v0.3M575.1,2107.7v0.7M697.6,1956.5v0.4M820.7,1977.7v0.8M453.5,1925.8v0.4M518.9,1998.6v0.8M512.5,1917.6v0.4M588.9,1867.7v0.8M733.8,1725.9v1.2M800.9,2113.0v0.7M488.2,1996.9v0.3M732.1,1979.3v0.3M851.6,2040.2v0.8M814.7,1944.3v0.5M611.0,2092.0v0.4M560.1,1744.8v1.2M748.7,1866.9v1.0M612.1,1927.1v0.5M602.5,2045.9v1.0M826.3,2046.6v1.2M682.4,1730.6v0.5M676.6,1980.9v0.7M703.9,1989.0v1.0M530.7,2060.6v0.7M849.1,1743.6v0.3M771.2,1983.4v0.6M762.6,1964.7v0.4M449.9,1767.2v1.0M526.5,2019.5v1.0M741.1,1875.6v0.6M552.0,2010.7v1.1M459.2,1949.1v0.6M689.7,1709.3v0.7M789.1,1939.4v0.4M638.1,2077.1v0.4M764.3,1779.0v0.7M834.8,1719.9v1.0M750.1,2131.0v0.7M529.4,1961.2v0.6M455.1,1806.2v0.3M518.3,1836.2v0.4M854.3,1859.2v1.2M515.3,1784.3v1.2M843.8,1910.8v1.1M482.2,1895.8v1.2M491.1,2086.9v0.3M575.0,1934.8v0.9M659.5,1764.3v0.7M485.9,1857.9v0.9M795.1,1814.7v1.0M496.0,1843.1v0.5M512.4,2088.0v0.5M505.3,1994.8v0.5M741.7,2126.5v0.6M691.3,2091.6v1.2M540.5,1763.8v1.1M603.4,2076.4v1.2M580.8,2005.7v0.3M533.3,2076.9v0.6M570.6,1752.9v1.0M610.9,1835.5v0.9M764.5,1987.9v0.4M665.5,1725.5v1.3M804.2,1910.0v1.0M790.2,1833.0v1.0M797.1,1836.7v0.8M785.3,2131.0v0.4M531.8,2011.6v1.2M848.9,1948.3v0.9M477.4,1975.6v0.9M544.2,1842.3v1.1M598.6,1837.7v0.3M555.4,2097.0v0.4M811.0,1804.2v0.5M737.6,1737.8v0.4M449.8,2064.2v1.1M804.3,1800.2v0.5M676.4,2086.2v0.3M829.3,2063.5v1.0M647.7,1920.9v0.9M687.0,1868.9v0.7M670.9,1833.8v0.6M673.5,2007.2v0.8M474.6,1915.4v0.3M803.2,1847.7v0.4M513.8,1837.6v1.1M620.1,1919.2v0.5M757.5,1978.6v0.4M766.5,2054.2v0.7M507.2,1834.7v0.3M671.8,1921.1v0.8M662.9,1741.0v0.9M687.8,2025.7v0.8M575.6,1806.5v0.3M736.8,1867.0v0.3M694.3,1947.0v1.2M529.9,2132.5v1.1M598.0,1853.4v0.7M585.0,2126.0v0.8M689.0,1922.0v0.6M626.1,1885.6v0.4M780.0,2049.1v0.8M772.1,1920.0v0.4M552.2,1930.3v0.8M745.0,1816.6v0.9M804.6,2034.4v0.3M658.9,2023.8v0.8M576.1,1848.7v1.0M783.7,1850.2v0.6M562.8,2135.1v0.7M694.7,1820.1v1.0M642.2,2095.6v0.5M587.7,1754.2v0.8M592.4,1748.7v1.3M617.9,2015.6v1.2M850.3,2038.2v0.7M752.9,1817.6v1.0M844.6,1727.9v0.9M849.6,2106.6v0.7M542.0,2057.1v1.3M717.3,1812.4v0.5M601.6,1721.6v1.0M744.6,2094.0v1.1M752.3,2071.2v1.2M692.5,2020.5v1.1M621.6,1740.6v0.6M758.2,2038.6v1.0M463.0,2085.3v1.2M810.6,1999.6v0.8M823.5,1794.0v1.1M757.9,1739.0v0.4M499.7,1739.1v0.7M473.1,2111.9v1.3M735.5,1742.9v0.7M510.9,1757.2v0.6M806.5,2090.5v1.1M617.9,1744.7v0.9M797.9,1944.3v0.8M611.8,1755.8v0.9M478.4,1710.5v0.5M513.7,1906.6v1.2M619.7,1875.4v0.8M743.7,2109.8v1.3M745.0,1740.5v1.0M809.1,2073.9v1.1M708.7,2123.6v0.8M842.4,1725.6v1.2M611.9,2099.7v0.6M829.9,1763.7v0.6M788.1,1929.5v0.5M477.1,1787.0v0.4M597.9,1991.6v0.4M647.0,2057.7v0.4M700.1,1708.2v1.0M601.5,1825.0v1.1M462.6,1902.9v1.2M765.8,1944.8v0.8M481.1,2027.7v1.3M618.4,1886.2v0.9M826.1,2099.6v0.7M671.0,1771.8v1.2M732.5,1726.7v0.8M834.2,1894.7v0.9M556.3,2042.2v1.3M701.5,2081.8v0.5M463.4,1832.6v0.9M782.9,2064.4v1.2M720.1,1733.8v1.1M705.8,1777.2v1.1M770.9,1854.1v0.9M841.5,1709.3v0.6M849.1,2043.8v1.3M697.6,1957.1v0.5M660.0,1863.0v1.1M522.1,1736.3v0.6M482.6,1911.6v1.2M588.1,1857.0v0.5M816.0,1978.1v1.2M744.2,1946.1v0.8M676.4,1709.0v1.3M780.6,1724.7v0.4M814.0,2049.6v0.7M688.7,2041.7v0.5M592.7,2003.8v1.3M802.7,1883.2v0.9M816.5,1868.5v1.1M690.9,1931.9v1.2M785.1,1795.2v1.1M594.5,1944.2v1.0M831.4,2056.7v0.6M521.5,1864.1v1.1M590.1,2102.8v1.3M560.8,1842.8v1.1M769.3,1850.1v0.7M555.4,2089.1v0.4M736.0,1828.6v0.9M590.1,1973.1v1.1M780.2,2121.2v1.0M511.0,1849.4v1.2M768.1,2010.2v0.7M597.2,1880.5v0.6M639.7,2040.9v0.4M825.8,1724.2v1.3M755.2,1812.4v0.8M542.9,1877.9v1.1M612.8,1986.0v1.0M743.6,1921.2v0.9M640.9,2012.9v0.5M517.5,2028.3v1.2M494.1,1726.0v0.3M495.3,2025.3v0.7M615.1,2086.0v0.7M829.9,1773.1v0.6M511.2,1848.0v0.9M469.7,1868.4v1.0M517.2,1945.0v1.2M823.7,1959.1v1.2M577.2,1846.1v0.9M679.8,1874.5v0.3M556.6,2017.0v0.3M691.9,1773.4v0.9M827.7,1944.0v0.4M460.8,1723.5v1.1M667.1,1973.4v0.4M807.4,1952.2v0.4M497.6,1794.3v1.3M826.5,1993.5v0.9M468.4,1776.4v1.0M449.3,2007.9v0.8M793.6,1777.8v1.1M713.8,2035.9v1.1M665.9,1969.0v0.4M660.8,1919.3v0.5M554.9,1752.1v0.8M501.2,2063.2v0.7M817.2,1989.1v1.2M760.3,1820.9v0.6M522.2,1754.8v1.0M469.3,1705.2v0.6M639.7,2103.4v0.9M687.3,1746.8v1.2M599.5,2114.5v1.0M478.4,1773.3v1.0M593.6,1931.2v0.8M723.0,1728.2v0.3M569.0,1895.4v0.9M766.9,1761.0v0.6M838.7,1770.4v0.5M475.5,2107.3v1.1M709.0,1789.3v0.6M587.4,1807.3v0.6M678.2,1736.6v0.9M826.5,2095.4v0.8M520.6,2052.7v0.5M542.6,1821.3v0.6M752.9,1940.0v0.6M725.0,2065.8v0.6M845.9,1788.2v1.3M451.8,1987.1v0.4M634.8,2115.3v0.6M735.0,1895.5v0.6M756.8,2080.2v1.0M634.4,2099.3v0.9M788.2,2003.0v1.3M567.3,1735.7v0.8M678.6,1820.6v0.4M550.6,2096.4v0.4M545.4,1720.1v0.9M557.8,1815.4v1.0M759.7,2027.6v0.6M506.1,1931.1v1.1M726.4,2010.2v1.2M605.9,2112.6v0.7M540.6,2103.6v1.0M483.5,1844.4v0.8M655.0,1969.9v0.7M463.5,1711.6v0.9M536.6,1802.7v0.4M833.7,1789.5v0.7M590.6,1919.1v0.7M721.3,1849.6v1.1M806.2,2083.3v1.1M461.1,1958.0v1.0M645.0,2011.6v0.6M820.9,1912.7v0.9M555.9,1935.1v0.7M840.0,1925.4v1.0M644.4,2043.0v0.3M689.3,1812.9v0.6M748.4,1982.1v0.8M822.5,1782.3v0.5M590.7,2126.7v1.0M791.3,2127.6v0.8M813.5,1975.8v1.1M621.7,2068.7v0.7M680.5,1856.0v1.0M674.6,2133.9v0.7M491.2,1992.9v0.7M662.6,1781.7v0.4M482.5,1838.7v0.6M782.4,1859.3v1.2M565.1,2114.2v0.7M618.9,1841.5v0.6M719.5,2072.4v1.2M506.3,1710.1v0.4M785.3,1980.8v0.5M545.3,2032.5v0.7M477.0,1777.0v0.6M547.5,2060.4v1.2M709.3,1726.7v0.4M798.2,1756.7v0.7M775.2,1995.0v0.8M704.9,1901.8v1.1M466.1,1868.9v0.7M789.7,1974.8v1.0M582.2,2042.4v0.8M505.3,1729.2v0.7M633.3,1782.7v0.4M568.8,1787.1v1.1M534.9,2024.5v0.4M505.2,1846.4v0.7M586.0,2053.5v0.5M531.5,1971.3v0.4M541.6,2097.3v1.0M490.3,2067.2v0.6M568.1,1788.4v0.8M789.0,1725.6v0.7M579.1,1767.1v0.6M727.2,1967.9v0.4M450.6,1719.3v0.8M710.9,2072.2v1.2M636.3,1966.6v1.1M636.6,1816.9v0.3M621.5,2065.7v0.6M566.2,1707.6v0.4M764.1,1737.4v0.8M463.4,2106.9v1.1M498.0,1844.0v1.1M529.4,1858.9v0.7M831.5,2017.7v0.4M840.8,1995.6v0.6M496.1,1985.9v0.7M485.6,2065.9v0.4M620.6,1994.6v0.5M699.6,1828.1v0.9M487.2,1744.5v0.9M506.3,1775.2v0.4M627.1,1821.0v0.9M850.0,1877.4v0.9M689.2,1853.3v0.8M818.9,2045.4v0.5M559.6,1998.5v1.1M552.9,1706.4v1.2M594.6,2079.8v1.0M806.6,1979.0v0.8M815.6,1990.6v0.8M770.6,1749.0v0.8M619.5,1852.0v1.1M575.8,1739.3v1.0M818.8,1741.9v0.3M550.8,1798.2v0.4M623.2,1907.7v1.1M584.1,2036.9v0.8M712.0,1826.6v0.6M729.1,1743.0v1.0M769.9,2095.9v1.2M703.1,1798.5v0.3M636.3,2045.5v0.7M483.0,2105.5v1.3M654.1,2120.7v0.9M754.6,1906.9v0.3M507.9,1720.0v0.9M512.3,1860.1v1.0M755.1,2108.4v1.1M830.4,1766.4v1.3M624.1,1940.9v0.4M818.7,1820.2v0.8M478.0,1821.0v0.7M493.2,1979.0v0.9M621.7,2053.9v0.5M774.1,1854.8v1.0M614.7,1743.9v0.8M850.8,2090.7v0.5M683.0,1945.2v1.0M731.9,1973.8v1.3M800.7,2055.2v0.8M646.6,1729.9v0.3M637.7,1812.1v0.6M677.9,1850.5v1.0M590.8,1856.1v0.4M704.5,1818.9v0.7M666.3,1740.2v1.0M462.6,2128.2v1.2M690.7,1907.1v0.9M670.6,1806.5v0.5M804.6,2081.4v0.8M805.9,1915.8v1.0M595.2,1762.9v1.0M707.6,1947.5v1.1M510.9,1825.7v0.9M466.3,1767.4v0.8M849.3,1971.2v0.3M493.6,2032.8v0.7M659.6,2023.7v1.0M721.1,1882.7v0.7M660.8,1926.6v0.9M472.3,1722.8v0.4M714.2,1733.6v1.0M530.6,1804.0v0.4M598.7,1899.8v0.4M468.0,2042.7v0.5M694.7,1949.5v1.2M775.8,1822.6v0.4M695.3,1731.3v0.6M651.3,2035.6v0.7M471.4,1786.3v0.7M847.6,1798.7v1.1M548.7,1926.0v0.3M687.4,1888.4v0.6M639.3,2047.0v0.9M646.6,1867.3v1.0M596.0,1942.7v0.8M491.3,1783.9v1.2M823.8,2026.6v1.3M713.6,1798.5v0.7M780.5,2126.1v0.9M678.7,1782.1v0.6M495.5,1752.5v0.4M811.7,2120.1v0.9M810.5,1706.2v0.6M766.7,2130.1v0.6M496.8,1721.7v0.8M493.5,1723.2v0.5M825.4,1876.0v0.8M669.8,1929.1v0.5M723.1,1768.3v1.2M543.6,2002.7v1.0M495.9,1834.5v0.5M553.8,1985.8v0.9M502.0,2128.4v0.5M649.1,1963.4v1.0M785.4,1794.3v0.7M598.2,1717.8v0.4M488.7,2046.6v0.6M853.6,2096.4v0.3M794.8,1788.5v1.2M805.6,1768.9v0.4M647.0,1962.9v0.5M832.8,1913.9v1.2M658.1,1726.4v0.4M460.1,1921.4v0.7M626.0,1758.7v0.8M466.2,1715.5v1.1M757.5,1793.1v1.3M702.9,1844.5v0.6M468.2,1704.3v1.2M536.3,1995.7v1.0M708.1,1867.8v0.5M524.4,2072.9v0.7M582.4,1913.0v0.8M819.5,1844.6v0.7M750.3,1801.2v0.8M671.2,1908.7v1.1M570.7,1867.3v1.2M758.0,1853.5v0.5M761.5,1930.5v0.6M493.1,1860.3v1.2M601.6,1900.4v0.7M660.8,2017.9v0.5M726.5,2003.4v0.3M582.0,2106.3v0.6M713.2,1981.5v0.8M715.6,1947.9v0.9M472.3,1857.9v0.8M468.3,1747.3v1.2M686.4,1902.4v1.3M551.5,1853.6v1.2M757.1,1744.6v1.0M760.1,1739.7v0.5M605.0,1849.5v0.3M669.4,2040.7v1.1M609.5,2067.0v0.4M543.5,1770.4v0.8M807.4,2117.8v0.8M555.2,1840.4v0.9M460.3,1881.1v0.7M471.3,1728.5v0.8M582.5,2095.7v0.3M632.5,1728.5v1.2M598.1,1738.5v0.7M818.6,2002.8v0.5M524.7,1894.6v0.3M664.1,2033.9v0.6M821.9,1892.9v0.6M805.6,2081.4v1.0M660.7,2124.4v0.9M665.8,1815.5v0.5M742.9,1958.6v0.7M509.4,1972.4v0.7M519.6,1749.4v0.7M558.1,1708.0v1.0M539.4,1871.2v0.9M710.2,1887.4v1.1M699.1,2122.1v0.8M574.6,1779.9v1.1M687.5,2086.5v1.1M684.2,1723.9v0.8M505.2,1826.5v0.5M671.5,1727.8v0.5M662.3,1828.0v1.0M844.4,1748.5v0.5M567.6,1767.0v0.7M624.3,1822.1v0.3M517.0,1768.5v0.8M607.8,2091.9v0.4M607.8,1707.1v0.9M783.7,2076.7v0.5M560.1,1944.0v0.8M775.9,1848.8v0.3M703.4,1739.2v0.6M716.8,1717.4v0.8M667.8,1765.6v0.9M781.5,2085.7v0.5M489.2,1784.1v1.3M718.7,2109.0v0.8M634.0,2031.0v1.1M654.4,2081.8v0.4M713.8,1757.3v1.2M509.0,2041.2v1.1M807.5,1766.3v0.4M534.7,1761.2v0.4M599.0,1831.9v0.6M678.0,2090.9v0.4M819.1,1850.7v0.5M563.8,1734.6v0.5M626.1,1711.7v0.5M561.9,1866.2v0.7M580.1,2032.3v1.1M531.0,2101.7v0.4M685.8,1914.9v1.1M544.9,1954.7v0.8M676.4,1930.7v1.2M467.8,1733.0v0.5M630.7,2024.5v1.1M796.1,2028.4v0.4M723.5,1780.1v0.8M803.3,1923.5v0.8M555.2,2106.1v1.3M768.3,1746.7v1.0M639.9,2127.0v0.9M671.0,1731.5v1.2M786.3,2084.0v0.6M662.1,1804.8v1.3M633.2,1736.5v0.7M720.9,1880.1v0.5M837.2,1767.9v0.5M765.7,2061.5v1.0M575.1,2039.1v1.2M515.5,1776.5v1.1M782.9,1968.9v0.4M706.1,1900.5v1.0M728.1,2067.9v0.3M509.8,1744.5v0.8M807.1,1739.7v1.0M719.2,1950.7v0.7M509.0,1835.3v0.8M502.4,1802.2v0.4M819.4,2008.4v1.2M846.6,1915.9v1.1M609.1,2065.0v0.8M624.4,2055.4v1.2M627.1,1738.4v0.7M466.2,1736.9v0.4M812.1,2045.4v1.0M838.5,1953.5v0.4M623.1,1819.8v0.9M554.0,1806.9v0.7M627.0,2132.8v0.8M573.8,1868.1v0.6M520.9,1948.8v1.2M691.4,1854.8v0.6M843.6,2112.1v0.5M525.2,1714.3v0.5M814.9,2043.0v1.1M582.6,2077.2v1.1M480.1,1998.9v0.7M621.3,1962.9v1.0M813.5,1789.7v1.2M590.5,1765.0v0.5M499.1,2026.3v1.1M462.5,1840.5v1.2M757.5,1728.0v0.7M815.0,1887.5v0.4M569.3,1866.1v1.0M837.7,1881.0v0.5M730.8,2060.2v1.2M811.6,1774.4v1.0M785.4,1770.2v1.1M544.5,2078.5v0.8M676.4,1844.4v0.5M556.5,2116.3v0.3M526.2,2097.1v1.2M561.1,2047.9v0.5M792.1,2014.4v0.3M579.4,1943.3v1.3M774.3,1929.2v0.9M623.4,1774.6v1.0M681.9,2031.3v1.2M850.9,2000.9v1.0M730.5,2088.2v0.5M603.1,2116.3v0.4M790.9,1722.2v0.5M786.2,2127.7v0.6M454.0,1745.0v0.7M484.7,1725.3v1.3M646.6,2056.2v0.6M574.4,1915.4v0.6M645.6,2052.3v0.5M656.2,2134.9v1.2M572.0,2126.3v0.6M605.2,2016.7v0.8M834.9,1899.5v0.8M812.7,1907.9v0.3M672.9,1908.2v0.3M716.2,1984.9v1.1M834.7,2052.8v1.0M644.9,1902.0v0.3M710.2,1858.3v0.6M644.2,1831.7v0.5M795.4,2039.2v0.8M762.5,1720.0v0.5M709.1,1954.3v1.2M710.2,2031.3v1.1M677.7,1770.8v0.5M794.6,1834.8v0.7M760.9,2061.7v1.1M452.7,1718.8v1.1M836.0,1823.4v1.0M705.1,1953.7v1.1M528.5,1712.2v0.4M850.3,1843.3v1.0M606.7,1994.7v1.0M711.6,1748.3v1.1M755.2,1935.9v1.1M675.1,1949.0v1.1M660.1,1904.9v1.1M487.9,2033.1v1.2M528.4,1918.3v0.9M667.0,1856.9v0.3M804.2,1711.3v1.1M802.2,1774.5v1.0M567.5,1950.1v0.7M484.9,2014.8v0.3M565.6,1851.6v1.2M616.2,1945.3v0.4M658.3,1941.9v0.9M555.7,2046.6v0.4M671.9,1746.5v0.7M528.7,2085.6v1.0M565.5,2084.8v1.1M558.5,1920.1v1.3M727.1,1775.7v0.4M773.0,2013.6v0.6M552.3,1777.9v0.7M498.9,2110.3v0.5M506.9,2120.4v0.3M606.9,1961.9v1.0M822.3,1717.8v0.4M782.0,1855.1v0.4M645.5,1750.0v1.0M821.6,2056.4v0.7M779.9,1806.3v0.5M713.0,2106.7v0.9M658.0,1870.8v1.2M832.1,1779.4v1.0M696.3,1961.8v0.3M755.6,1740.4v0.5M462.0,2131.7v0.5M482.1,1754.1v0.5M713.4,2017.9v1.3M722.0,1961.0v1.2M546.3,1766.8v1.1M680.5,2045.1v1.2M527.1,1923.2v1.1M592.2,1781.8v0.5M673.1,1972.9v0.4M734.5,1870.8v1.3M745.7,1850.8v0.9M451.6,1968.5v0.8M527.0,1993.0v0.5M513.6,1885.5v1.0M464.1,2062.4v0.4M518.5,1747.5v1.0M687.6,1722.0v0.4M668.9,1723.6v1.0M678.2,1742.5v1.1M679.0,2075.4v0.8M501.0,1818.3v0.5M754.1,1718.8v1.1M542.4,1937.3v1.0M511.6,1764.4v1.3M714.7,1947.2v1.0M829.3,2109.6v1.3M548.3,1860.2v0.8" stroke="#42447a" stroke-width="1.8" stroke-linecap="round" fill="none" opacity="0.85"/>
<path d="M648.1,1878.0v0.6M794.2,2075.4v0.4M522.3,1802.8v0.7M746.0,1773.2v0.7M828.0,1860.3v0.3M490.4,2037.3v0.2M830.7,1813.6v0.3M575.0,1784.9v0.3M604.6,1742.0v0.6M837.9,1774.4v0.4M649.4,1815.2v0.4M512.9,1808.9v0.3M796.8,1888.9v0.3M570.6,1989.8v0.3M664.4,1906.7v0.3M750.7,1921.5v0.4M461.5,1885.7v0.3M585.2,2042.0v0.8M562.2,1741.2v0.8M763.8,1964.3v0.6M550.4,2095.4v0.7M667.3,2088.8v0.8M644.9,2127.1v0.2M630.3,1950.3v0.4M756.2,1963.5v0.9M582.0,2028.7v0.8M695.3,1884.9v0.5M462.0,2053.9v0.4M593.0,1736.9v0.8M461.2,1804.9v0.6M767.0,1721.5v0.5M761.0,1907.5v0.7M538.8,1723.5v0.3M503.6,1792.1v0.4M627.5,1876.1v0.3M737.5,1772.7v0.6M764.6,2098.6v0.2M828.6,2118.7v0.4M532.1,1959.6v0.6M709.2,2031.1v0.7M594.0,1822.2v0.4M645.5,1810.5v0.8M459.3,1761.7v0.4M512.3,1930.4v0.3M741.4,1860.1v0.8M482.2,2040.6v0.7M622.6,2073.6v0.4M607.3,1780.1v0.3M689.9,2055.3v0.4M736.9,1829.3v0.8M667.4,2120.3v0.6M751.8,2055.4v0.4M620.4,2040.3v0.5M662.5,1888.8v0.9M829.5,1944.6v0.4M690.0,1870.4v0.6M691.6,1853.9v0.7M769.9,1866.0v0.2M621.3,1890.3v0.3M845.4,1848.9v0.7M523.2,1818.6v0.5M533.4,1933.0v0.9M497.6,1917.9v0.7M728.9,2010.6v0.4M669.0,1830.7v0.8M670.5,2018.3v0.5M846.4,1903.0v0.7M738.4,1707.2v0.8M582.6,1768.1v0.7M464.3,1802.8v0.9M670.8,2119.0v0.3M568.0,1716.0v0.8M454.9,2074.1v0.3M829.6,2047.0v0.2M702.8,1836.8v0.8M766.1,1851.9v0.8M840.3,1977.6v0.7M591.9,1868.3v0.6M695.4,1957.1v0.4M539.6,2089.2v0.5M466.3,1880.9v0.3M773.0,1921.5v0.5M450.2,1949.3v0.4M630.8,1815.7v0.8M807.8,2006.9v0.4M650.6,1821.8v0.5M640.9,2075.4v0.3M548.3,2003.3v0.5M714.7,1718.2v0.8M645.6,2002.9v0.8M576.0,1898.6v0.8M797.7,1740.4v0.8M696.6,2028.9v0.4M546.8,2062.3v0.8M600.2,1738.8v0.3M752.1,2056.7v0.6M459.3,1808.1v0.6M641.4,2048.0v0.2M723.4,2092.3v0.2M652.2,2066.0v0.3M488.9,2060.3v0.5M537.8,1773.1v0.9M679.0,1779.2v0.5M677.3,1735.1v0.6M841.8,2134.2v0.6M654.3,2129.0v0.8M639.2,1911.0v0.6M603.7,1906.4v0.8M624.5,1850.1v0.2M769.0,1929.8v0.3M657.2,1839.6v0.4M842.5,2037.4v0.3M659.9,2056.4v0.6M539.7,2042.4v0.2M674.8,1820.8v0.6M723.1,2131.0v0.4M791.1,1781.6v0.9M702.8,1745.9v0.5M561.7,1931.8v0.8M850.0,2073.6v0.3M709.8,2048.4v0.3M493.6,1797.8v0.3M587.7,1999.3v0.2M472.1,2121.3v0.4M450.3,2087.1v0.2M824.1,1953.3v0.8M499.8,1948.2v0.7M650.9,2060.8v0.6M470.0,1912.3v0.5M841.5,1938.0v0.4M480.3,1944.4v0.4M844.7,2113.4v0.3M618.3,1883.4v0.6M509.9,1976.2v0.6M493.7,1866.2v0.7M664.8,2024.1v0.9M633.2,1987.7v0.7M602.5,1778.6v0.6M584.3,1834.7v0.7M593.1,1806.8v0.3M728.1,2110.0v0.6M665.6,1804.8v0.3M507.6,2049.0v0.7M712.5,1709.3v0.9M557.4,2017.0v0.9M461.6,1912.9v0.3M644.1,2039.0v0.3M596.0,1810.2v0.7M689.3,2134.1v0.5M494.5,1988.5v0.3M519.3,1996.1v0.3M504.6,1844.0v0.5M708.4,1729.0v0.5M575.2,1781.8v0.5M825.3,2098.6v0.5M510.6,2064.2v0.7M826.2,1774.9v0.7M697.8,1798.7v0.5M851.0,1821.7v0.6M729.0,2043.4v0.8M474.0,1714.3v0.3M473.2,1777.1v0.3M756.5,1789.7v0.7M802.9,2058.5v0.2M777.0,1873.6v0.8M475.3,1842.5v0.9M604.9,1783.6v0.2M568.8,1968.7v0.6M688.6,1707.5v0.6M521.7,2084.6v0.6M484.0,1889.8v0.5M811.7,2019.5v0.3M475.4,1879.2v0.5M818.3,1821.6v0.6M824.1,1862.1v0.7M613.2,1907.1v0.6M564.4,1934.1v0.5M665.0,2060.3v0.6M705.5,1941.2v0.2M501.9,1971.8v0.3M775.2,2038.3v0.4M602.6,1749.9v0.7M673.1,1963.0v0.3M767.7,1976.3v0.6M477.5,2002.3v0.3M592.3,2011.2v0.5M666.5,1933.5v0.7M712.2,2106.8v0.4M765.3,2012.9v0.3M792.8,2084.8v0.8M572.2,2025.4v0.4M483.9,1810.0v0.8M481.5,2028.2v0.4M753.7,1883.5v0.6M609.1,1829.3v0.4M617.7,1795.9v0.5M566.9,2092.4v0.3M482.2,1916.4v0.6M555.4,1742.6v0.3M705.0,1732.7v0.7M503.8,1908.3v0.3M545.2,1801.5v0.3M465.0,1801.4v0.8M492.8,1876.0v0.4M726.3,1764.2v0.3M705.6,1762.9v0.4M743.0,1847.5v0.5M546.4,2004.8v0.4M854.3,1751.6v0.6M700.5,1941.1v0.4M524.3,1842.3v0.2M519.8,1933.9v0.6M578.7,1734.3v0.5M656.3,1933.4v0.3M808.5,1730.4v0.9M682.7,1987.8v0.2M622.6,2068.3v0.3M634.0,1907.3v0.3M669.1,1937.8v0.3M739.5,2035.5v0.6M641.6,1783.3v0.6M460.1,1935.8v0.6M731.2,2100.1v0.7M643.1,1936.2v0.4M748.2,2029.7v0.6M522.3,1901.4v0.5M670.9,2124.1v0.9M835.4,1826.9v0.5M524.4,1721.5v0.9M675.0,1848.3v0.9M628.2,1869.4v0.6M801.3,1813.4v0.7M784.3,1954.3v0.8M529.1,1776.9v0.6M614.2,1737.0v0.5M619.2,1843.7v0.6M682.3,1707.1v0.8M659.8,1871.1v0.7M715.1,2013.8v0.7M565.1,2067.1v0.5M742.8,1975.4v0.3M610.7,2021.0v0.8M545.3,1738.4v0.5M692.0,1904.0v0.6M832.0,1754.0v0.7M525.8,1777.9v0.8M574.7,1881.3v0.3M757.3,1900.8v0.6M702.5,2026.2v0.6M458.6,1848.9v0.7M687.4,2066.6v0.2M553.4,1842.6v0.7M644.0,1772.3v0.5M473.1,2034.7v0.9M525.5,1914.4v0.6M555.4,1923.6v0.3M820.4,2091.5v0.2M755.3,1704.0v0.4M472.9,2014.9v0.9M769.8,2018.4v0.7M633.7,1959.2v0.5M674.1,1883.6v0.7M530.3,1806.0v0.9M705.0,1874.8v0.5M710.6,2131.0v0.8M505.3,1795.1v0.6M642.2,2021.7v0.4M804.0,1732.3v0.5M814.4,1874.7v0.3M776.5,1884.8v0.5M735.6,1930.5v0.4M692.8,2048.0v0.6M834.4,2092.4v0.2M744.7,1975.6v0.3M749.5,1719.1v0.7M544.8,1844.9v0.7M834.8,1742.9v0.2M450.0,1814.5v0.3M797.8,2111.9v0.6M546.6,1796.0v0.6M854.6,1744.9v0.7M483.6,1997.3v0.8M715.7,1944.7v0.9M472.7,1718.6v0.3M806.7,1750.4v0.6M752.7,1703.9v0.4M522.8,1957.2v0.8M843.5,2015.4v0.7M735.0,1806.2v0.2M854.7,1706.5v0.8M738.3,1939.0v0.7M575.4,1725.3v0.7M715.1,1877.6v0.7M603.5,1958.6v0.5M849.4,1751.3v0.4M813.7,2051.5v0.3M735.1,2094.0v0.3M624.8,2039.3v0.9M662.6,1851.0v0.8M658.9,2015.7v0.3M515.3,1879.4v0.4M790.7,2134.8v0.2M519.0,2028.9v0.3M707.5,1967.5v0.9M637.1,2046.7v0.7M653.6,1915.5v0.7M479.8,1817.5v0.8M684.5,1734.9v0.2M692.4,1852.1v0.8M482.3,1836.6v0.5M588.8,1816.2v0.6M850.0,1802.2v0.8M478.2,1980.7v0.5M470.1,1813.3v0.5M592.8,1742.6v0.4M632.1,1787.3v0.2M631.4,1792.9v0.4M641.1,1870.7v0.2M479.8,1706.1v0.3M485.4,1898.7v0.3M548.9,2111.0v0.5M710.7,2071.1v0.3M630.8,1987.2v0.8M606.9,1963.5v0.5M472.5,2093.7v0.7M584.5,2105.8v0.8M488.0,1831.4v0.4M706.2,1983.9v0.7M527.8,1975.8v0.8M517.6,1905.3v0.8M762.7,1842.9v0.8M799.3,1831.7v0.5M472.4,2072.9v0.8M596.5,2028.5v0.4M785.6,1989.9v0.7M547.0,1952.6v0.8M716.3,1719.9v0.9M803.4,2108.4v0.6M766.1,1971.7v0.7M458.9,1755.1v0.7M627.5,1828.3v0.8M705.0,1717.5v0.8M478.9,1721.3v0.2M685.5,1842.4v0.4M845.2,2010.5v0.2M550.4,2034.8v0.6M551.4,1878.3v0.7M464.4,1722.1v0.7M714.0,1959.6v0.2M743.6,1927.0v0.6M799.3,1940.6v0.3M492.0,1829.2v0.5M658.2,1770.7v0.6M739.2,1773.2v0.3M577.1,1810.8v0.9M850.5,1922.1v0.6M685.5,1745.4v0.7M520.7,1940.1v0.4M733.4,2117.4v0.5M739.3,1775.4v0.8M584.2,1929.7v0.6M777.3,1719.2v0.5M828.5,2017.7v0.3M608.0,1733.1v0.8M451.8,1765.3v0.3M563.8,2089.2v0.5M646.1,1983.3v0.4M780.4,2047.2v0.7M643.7,2064.7v0.4M765.6,1981.2v0.4M544.4,1734.5v0.7M624.8,2032.8v0.6M615.0,1774.8v0.2M574.8,2134.9v0.7M625.4,1921.2v0.5M536.8,2074.7v0.5M461.3,2084.4v0.3M485.7,1772.5v0.8M753.3,1844.1v0.4M842.5,1703.6v0.5M716.3,2062.5v0.6M588.2,1933.0v0.5M669.3,2116.2v0.6M765.2,2096.1v0.9M723.1,1939.8v0.2M453.3,1933.9v0.7M609.6,1732.1v0.8M658.4,1789.3v0.3M823.0,2031.1v0.5M766.4,1787.0v0.5M696.0,1861.0v0.7M564.2,2074.6v0.3M618.4,1744.2v0.8M711.6,1909.0v0.9M615.7,1842.9v0.5M552.1,1905.4v0.6M535.4,2127.8v0.5M695.8,1988.0v0.6M738.4,1961.2v0.7M526.3,2008.4v0.3M809.9,1958.7v0.5M784.3,1953.8v0.2M514.4,2116.2v0.3M501.0,1870.5v0.4M525.2,1941.3v0.7M621.9,1979.8v0.7M650.3,1901.5v0.7M644.8,1813.0v0.5M612.8,2016.4v0.9M684.0,1826.4v0.2M454.9,2011.4v0.3M534.6,1866.2v0.8M800.6,1944.1v0.5M714.2,1945.3v0.5M596.6,2117.8v0.5M616.4,2069.5v0.4M599.2,1732.4v0.4M774.2,1819.2v0.5M473.7,1708.3v0.4M673.5,1923.3v0.8M602.3,1932.7v0.2M761.3,1756.9v0.6M812.8,2028.1v0.3M827.3,1729.4v0.3M784.2,1974.5v0.4M815.6,1853.3v0.8M573.0,2105.6v0.7M746.3,2039.2v0.9M802.1,1750.0v0.4M620.4,1771.1v0.7M691.8,1743.8v0.5M627.2,2093.9v0.6M854.2,1912.2v0.7M478.4,1922.1v0.8M592.4,1853.4v0.7M774.2,1719.7v0.6M593.8,2034.8v0.6M586.6,1857.5v0.6M854.7,1959.7v0.3M688.7,1729.7v0.6M693.1,1987.6v0.9M773.1,1843.8v0.4M565.6,1959.2v0.7M658.4,2036.6v0.7M466.5,1900.7v0.8M658.5,2031.6v0.8M794.2,2118.5v0.8M807.8,1874.5v0.7M613.6,1888.7v0.6M724.8,2096.9v0.9M613.2,1914.8v0.5M787.7,2018.9v0.7M793.5,1711.6v0.2M823.6,2102.9v0.3M522.6,2049.2v0.7M475.1,1819.1v0.5M816.9,1786.9v0.7M646.0,1746.7v0.5M468.6,1752.7v0.3M743.2,1703.9v0.3M765.4,1850.7v0.5M851.1,1938.5v0.3M786.0,1735.6v0.3M657.5,1941.9v0.2M798.1,1783.9v0.8M773.3,1704.3v0.3M637.0,1790.9v0.4M545.1,1751.4v0.5M468.6,2131.3v0.9M493.5,1916.5v0.3M718.7,1712.9v0.3M593.2,1793.8v0.4M836.2,1854.7v0.5M552.0,2060.7v0.8M560.6,2096.0v0.4M665.3,1894.4v0.2M597.4,1909.3v0.8M599.1,1847.0v0.6M781.3,1703.9v0.5M818.5,1921.9v0.7M684.4,2049.1v0.3M618.2,1893.6v0.9M553.5,1946.7v0.6M574.2,1902.3v0.2M833.7,2045.5v0.7M573.8,1930.0v0.3M767.6,1958.6v0.3M465.9,1787.2v0.8M820.9,1733.4v0.3M543.8,1789.6v0.2M523.0,1986.4v0.6M473.1,1872.6v0.6M524.9,1868.7v0.4M460.7,1889.8v0.8M771.4,1735.1v0.3M499.0,1840.2v0.3M775.9,1757.5v0.4M768.0,1773.3v0.3M851.6,1998.0v0.7M606.7,2097.9v0.8M477.6,2010.6v0.5M515.4,2008.3v0.4M525.0,1899.3v0.5M759.8,1965.4v0.4M479.2,2021.7v0.6M672.1,2069.2v0.5M717.7,1956.1v0.4M793.4,1756.9v0.3M600.4,1752.4v0.3M637.7,1739.0v0.8M540.6,2060.3v0.3M770.9,1840.6v0.7M451.0,1883.9v0.3M700.7,1853.0v0.6M836.3,1868.4v0.5M546.2,1939.6v0.9M592.8,2101.6v0.8M493.6,2013.8v0.5M462.4,1854.5v0.8M527.8,1890.9v0.6M842.3,1937.2v0.6M729.1,1898.3v0.5M690.4,1993.8v0.3M669.4,1705.9v0.9M675.9,1970.0v0.2M741.0,1967.0v0.3M636.0,1961.1v0.6M488.2,1842.4v0.5M496.4,1755.9v0.6M711.7,2099.4v0.4M565.4,2022.2v0.6M821.2,2120.1v0.4M559.8,2032.7v0.3M565.3,1902.8v0.8M765.2,1973.3v0.3M801.8,1935.3v0.6M777.5,1752.4v0.5M528.7,1709.2v0.2M719.6,1788.0v0.6M787.1,1929.3v0.8M836.4,1928.3v0.9M669.5,1954.8v0.2M641.3,1845.7v0.2M456.8,1728.3v0.7M850.3,1879.5v0.4M501.3,2089.4v0.2M644.8,2060.5v0.8M554.2,2002.8v0.9M598.4,1753.1v0.6M716.8,1830.6v0.7M586.0,2005.3v0.6M599.3,1972.2v0.4M572.0,1900.3v0.4M589.0,2099.8v0.3M825.6,2112.8v0.6M479.6,1862.0v0.4M546.6,2077.7v0.8M733.1,1937.5v0.3M853.3,1731.0v0.8M854.7,1816.5v0.3M485.9,2046.3v0.5M528.4,2011.6v0.8M719.5,2101.1v0.9M701.2,1834.9v0.6M618.1,2113.2v0.9M751.0,2014.1v0.6M495.4,1903.0v0.8M457.8,1706.6v0.5M472.9,2094.7v0.7M561.1,2012.8v0.3M538.8,2111.8v0.5M609.6,1794.9v0.8M566.5,2054.6v0.8M771.5,1801.1v0.2M452.8,1901.8v0.3M546.5,1962.2v0.9M741.0,2039.5v0.7M488.7,1916.4v0.8M489.1,1826.9v0.3M685.9,1983.6v0.2M548.7,2059.7v0.6M826.0,1837.5v0.2M768.4,1758.3v0.7M505.8,2020.0v0.3M676.1,1965.0v0.3M819.9,1731.0v0.7M843.3,1836.6v0.3M667.3,1776.2v0.4M701.9,1886.6v0.8M801.9,1943.3v0.3M690.6,1922.4v0.7M486.8,1775.9v0.6M776.7,2087.9v0.9M782.9,1777.0v0.8M820.1,1912.3v0.4M775.4,2129.9v0.7M610.3,2102.7v0.2M473.7,2051.9v0.3M481.3,1984.8v0.9M621.7,1858.9v0.8M580.7,2043.4v0.7M699.0,1945.5v0.6M846.7,1860.3v0.5M747.0,1773.4v0.8M506.4,1763.2v0.9M828.5,1782.9v0.7M745.5,1872.4v0.7M472.0,1800.6v0.6M475.4,1959.8v0.3M797.4,1999.7v0.7M758.2,2022.7v0.7M851.5,1923.9v0.8M585.7,2066.6v0.9M590.1,1726.2v0.8M721.1,2000.5v0.4M843.6,1920.0v0.6M565.4,1802.4v0.2M619.4,2124.2v0.2M564.9,1859.1v0.7M583.8,1926.0v0.6M554.8,2070.3v0.8M510.5,2054.0v0.6M762.7,1796.4v0.3M733.1,1814.2v0.6M653.1,2045.7v0.6M838.2,1930.6v0.3M669.0,1858.8v0.2M607.4,1750.1v0.5M535.7,1776.1v0.5M700.8,1769.7v0.6M570.6,2082.5v0.5M702.6,1837.9v0.8M842.9,1991.7v0.6M852.4,2025.4v0.3M848.8,2048.4v0.8M448.9,2086.8v0.2M631.6,1728.9v0.8M630.4,2055.0v0.7M480.6,1821.8v0.3M760.0,2130.4v0.4M708.8,1966.1v0.8M787.4,1973.4v0.4M693.8,1708.6v0.6M529.8,1781.3v0.4M601.2,2068.7v0.8M613.6,1780.1v0.5M652.5,2125.2v0.7M589.8,1907.9v0.7M599.8,2113.9v0.5M626.1,2042.8v0.3M809.7,1807.8v0.6M546.6,1772.3v0.5M461.4,1991.4v0.6M594.0,1748.8v0.5M584.8,1782.4v0.2M657.2,2093.0v0.9M606.6,1728.1v0.9M710.8,1897.6v0.6M471.8,1799.0v0.6M715.4,1908.3v0.4M499.5,2133.4v0.4M451.9,1751.2v0.7M703.4,1982.1v0.6M518.6,1744.9v0.4M792.7,1834.2v0.7M826.8,1803.0v0.4M649.4,1779.4v0.3M745.8,1817.5v0.6M512.4,1926.9v0.8M595.3,1773.2v0.6M619.5,1731.9v0.3M722.7,1877.9v0.2M728.9,2028.8v0.6M821.1,2007.2v0.3M797.2,1824.1v0.5M813.9,1733.6v0.5M543.7,1846.7v0.9M709.3,1774.9v0.3M830.4,2063.4v0.4M718.2,1870.0v0.7M808.2,1875.1v0.8M730.3,2060.2v0.5M763.8,2101.9v0.6M702.5,2057.2v0.2M506.4,1928.1v0.8M527.5,2017.4v0.7M589.3,1842.3v0.5M827.7,1736.6v0.4M684.5,1990.7v0.8M810.4,1796.9v0.6M510.9,1839.1v0.9M730.9,2078.5v0.4M795.4,1929.0v0.5M531.7,2091.5v0.8M465.9,1862.1v0.3M472.6,1948.7v0.6M637.9,1819.9v0.3M768.8,1791.1v0.6M521.2,1867.7v0.7M506.4,1716.2v0.5M524.9,2006.2v0.6M808.2,1883.6v0.8M517.9,1966.2v0.7M707.2,2052.8v0.6M628.6,1820.7v0.3M801.6,1834.4v0.8M717.7,1974.9v0.6M787.9,1831.9v0.8M680.5,1791.8v0.8M517.0,1771.3v0.5M478.8,2112.9v0.6M754.5,1954.7v0.9M679.6,1976.3v0.5M670.1,2069.4v0.6M638.1,1956.2v0.2M754.6,1789.0v0.5M695.4,1762.8v0.5M617.2,1801.8v0.4M608.4,1864.0v0.6M760.2,1931.0v0.7M514.2,1813.5v0.3M571.3,2090.9v0.8M707.1,2034.0v0.2M797.9,1783.3v0.9M811.0,2123.0v0.3M587.3,1797.1v0.5M663.3,1737.1v0.9M552.2,1895.4v0.2M840.0,1804.6v0.5M493.5,2053.1v0.6M599.5,2112.7v0.8M566.6,1800.4v0.3M533.7,1754.1v0.2M513.7,2091.2v0.4M823.4,1926.2v0.6M744.2,1804.9v0.6M455.8,2021.3v0.5M569.6,1898.4v0.3M616.6,1774.5v0.6M697.6,2066.1v0.9M713.9,1898.9v0.8M704.1,1923.0v0.7M639.6,1834.6v0.3M646.3,2084.1v0.2M810.1,2009.3v0.5M473.0,2099.3v0.8M823.5,1845.9v0.7M498.4,1826.4v0.6M655.7,2129.6v0.8M607.7,2130.7v0.3M517.3,2007.8v0.7M496.8,1796.7v0.6M534.1,2010.0v0.9M789.0,2049.7v0.9M551.4,2113.0v0.3M630.4,1996.0v0.2M619.8,1905.4v0.6M629.4,1812.8v0.9M584.8,2089.0v0.8M549.8,1862.0v0.6M556.6,1984.8v0.6M592.2,1993.9v0.7M597.2,2091.7v0.4M467.5,2087.4v0.9M520.6,1730.1v0.6M520.5,1867.0v0.8M815.7,2062.1v0.8M505.1,2076.7v0.7M592.1,2097.2v0.8M593.8,1973.1v0.4M696.0,2127.2v0.4M550.7,2092.9v0.6M675.0,2081.2v0.9M844.5,2107.0v0.3M755.5,1741.5v0.7M608.7,1883.8v0.5M480.3,2061.7v0.9M479.6,1748.0v0.8M578.9,1976.1v0.9M772.6,1792.5v0.5M612.9,1869.0v0.9M449.2,2132.8v0.3M486.1,1931.3v0.3M572.3,1720.4v0.5M768.5,1884.9v0.3M451.0,1943.8v0.9M448.8,1853.3v0.6M511.0,2062.3v0.4M478.8,2046.6v0.5M839.5,2134.5v0.5M740.1,1989.3v0.3M451.0,2118.1v0.2M700.3,1767.0v0.4M697.9,1902.2v0.9M675.8,2093.9v0.7M558.8,2111.6v0.2M637.7,2022.7v0.7M619.0,1955.5v0.4M629.5,1948.5v0.7M486.3,1767.1v0.2M658.2,1727.8v0.8M558.8,1710.3v0.4M684.7,1841.4v0.7M539.3,1974.9v0.5M486.4,2087.0v0.3M541.7,1843.3v0.6M564.5,1763.1v0.2M840.9,1945.3v0.6M522.6,1754.6v0.5M744.9,1855.4v0.2M517.6,1818.0v0.2M853.8,2114.8v0.4M805.5,1810.3v0.2M682.9,1861.5v0.8M762.8,1749.4v0.3M533.8,2053.1v0.8M707.3,1732.5v0.7M721.7,1977.4v0.8M643.2,2010.5v0.7M517.3,2028.1v0.7M465.3,1714.7v0.8M720.7,2111.2v0.7M738.5,2051.0v0.5M453.0,1755.8v0.8M693.7,2015.0v0.8M756.1,1957.2v0.6M827.4,2071.5v0.4M732.9,1883.1v0.7M483.9,2132.8v0.6M489.4,2012.2v0.4M760.7,1977.8v0.2M742.0,1942.5v0.8M556.1,1856.1v0.6M480.4,2048.7v0.7M663.6,1735.0v0.5M641.7,2078.3v0.8M665.7,1817.8v0.5M716.1,1859.3v0.7M847.7,1885.9v0.4M682.6,1754.5v0.8M565.2,1754.0v0.4M747.4,2038.8v0.7M679.4,2024.2v0.7M533.7,1822.9v0.3M780.4,2119.6v0.4M734.7,1718.6v0.4M541.2,2027.3v0.7M664.6,2026.8v0.6M490.4,1929.4v0.5M514.2,2114.3v0.7M830.2,1948.8v0.6M821.8,1823.5v0.5M780.5,1991.1v0.6M763.6,1966.4v0.4M678.2,1919.1v0.4M506.6,1804.3v0.4M482.0,2101.0v0.7M538.2,1802.0v0.6M504.6,1965.6v0.8M810.5,2086.8v0.6M730.2,2117.7v0.3M732.8,1965.7v0.6M560.9,1953.9v0.7M845.7,1892.4v0.2M833.6,2080.0v0.3M853.9,1787.1v0.6M467.8,1995.9v0.2M575.2,1889.2v0.5M746.4,1788.8v0.3M593.1,2054.4v0.8M685.0,2019.1v0.7M605.5,1766.8v0.6M789.7,1763.0v0.6M684.1,2070.0v0.5M612.6,2114.9v0.7M776.7,2117.3v0.4M495.9,1785.1v0.8M732.8,1816.0v0.6M562.3,1962.0v0.5M558.6,2118.6v0.3M526.7,2043.9v0.7M670.3,2003.9v0.5M708.9,2052.1v0.5M628.7,2098.1v0.4M718.5,1751.3v0.3M796.0,1935.7v0.7M556.6,1745.8v0.3M748.6,1823.5v0.9M788.5,1941.3v0.4M824.3,2129.1v0.3M641.9,2059.3v0.5M506.8,1990.3v0.5M678.3,2052.6v0.5M579.0,2125.6v0.4M850.1,2117.0v0.5M619.4,1793.1v0.5M564.6,1870.4v0.9M667.8,2109.5v0.7M484.9,1713.8v0.7M650.4,1732.1v0.5" stroke="#6c6e8c" stroke-width="1.4" stroke-linecap="round" fill="none" opacity="0.7"/>
</g>
<rect x="823.0" y="2123.6" width="28.5" height="8" fill="#fff" stroke="#222" stroke-width="0.6"/>
<text transform="translate(837.3,2129.9)" font-family='"Liberation Sans", Arial, sans-serif' font-size="3.6" font-weight="normal" text-anchor="middle" fill="#222" >100 μm</text>
<rect x="1099.2" y="1817" width="70.6" height="74.3" fill="#D2D2D2" stroke="#3f3a39" stroke-width="1.3"/>
<rect x="1206.2" y="1880.5" width="69.7" height="10.8" fill="#8B2329"/>
<line x1="1133.6" y1="1792.2" x2="1133.6" y2="1841.8" stroke="#000" stroke-width="1.8" stroke-linecap="butt" />
<line x1="1115.8" y1="1792.2" x2="1151.4" y2="1792.2" stroke="#000" stroke-width="1.8" stroke-linecap="butt" />
<line x1="1115.8" y1="1841.8" x2="1151.4" y2="1841.8" stroke="#000" stroke-width="1.8" stroke-linecap="butt" />
<line x1="1240.4" y1="1872.8" x2="1240.4" y2="1885.0" stroke="#000" stroke-width="1.8" stroke-linecap="butt" />
<line x1="1223.0" y1="1872.8" x2="1257.8" y2="1872.8" stroke="#000" stroke-width="1.8" stroke-linecap="butt" />
<line x1="1063.8" y1="1687.2" x2="1063.8" y2="1893.5" stroke="#000" stroke-width="3.9" stroke-linecap="butt" />
<line x1="1047.6" y1="1891.5" x2="1313.5" y2="1891.5" stroke="#000" stroke-width="3.9" stroke-linecap="butt" />
<line x1="1047.6" y1="1689.2" x2="1063.8" y2="1689.2" stroke="#000" stroke-width="3.9" stroke-linecap="butt" />
<text transform="translate(1044.6,1698.8) scale(1.01,1)" font-family='"Liberation Sans", Arial, sans-serif' font-size="25.6" font-weight="bold" text-anchor="end" fill="#000" >300</text>
<line x1="1047.6" y1="1756.6" x2="1063.8" y2="1756.6" stroke="#000" stroke-width="3.9" stroke-linecap="butt" />
<text transform="translate(1044.6,1766.2) scale(1.01,1)" font-family='"Liberation Sans", Arial, sans-serif' font-size="25.6" font-weight="bold" text-anchor="end" fill="#000" >200</text>
<line x1="1047.6" y1="1824.1" x2="1063.8" y2="1824.1" stroke="#000" stroke-width="3.9" stroke-linecap="butt" />
<text transform="translate(1044.6,1833.7) scale(1.01,1)" font-family='"Liberation Sans", Arial, sans-serif' font-size="25.6" font-weight="bold" text-anchor="end" fill="#000" >100</text>
<line x1="1047.6" y1="1891.5" x2="1063.8" y2="1891.5" stroke="#000" stroke-width="3.9" stroke-linecap="butt" />
<text transform="translate(1044.6,1901.1) scale(1.01,1)" font-family='"Liberation Sans", Arial, sans-serif' font-size="25.6" font-weight="bold" text-anchor="end" fill="#000" >0</text>
<line x1="1133.6" y1="1891.5" x2="1133.6" y2="1907.5" stroke="#000" stroke-width="3.9" stroke-linecap="butt" />
<line x1="1240.4" y1="1891.5" x2="1240.4" y2="1907.5" stroke="#000" stroke-width="3.9" stroke-linecap="butt" />
<g fill="#fff" stroke="#000" stroke-width="1.3">
<circle cx="1134.4" cy="1762.3" r="5.7"/>
<circle cx="1104.6" cy="1813.0" r="5.7"/>
<circle cx="1164.9" cy="1807.9" r="5.7"/>
<circle cx="1124.5" cy="1815.6" r="5.7"/>
<circle cx="1144.4" cy="1818.4" r="5.7"/>
<circle cx="1164.9" cy="1819.3" r="5.7"/>
<circle cx="1124.5" cy="1828.7" r="5.7"/>
<circle cx="1143.6" cy="1836.9" r="5.7"/>
<circle cx="1134.4" cy="1854.3" r="5.7"/>
</g>
<g fill="#fff" stroke="#000" stroke-width="1.3">
<circle cx="1240.9" cy="1866.3" r="5.7"/>
<circle cx="1225.6" cy="1880.5" r="5.7"/>
<circle cx="1255.4" cy="1881.9" r="5.7"/>
<circle cx="1210.5" cy="1884.8" r="5.7"/>
<circle cx="1240.9" cy="1884.2" r="5.7"/>
<circle cx="1270.2" cy="1884.8" r="5.7"/>
</g>
<line x1="1134.4" y1="1718.8" x2="1240.4" y2="1718.8" stroke="#000" stroke-width="3.9" stroke-linecap="butt" />
<text transform="translate(1186.3,1702.3)" font-family='"Liberation Sans", Arial, sans-serif' font-size="24.8" font-weight="bold" text-anchor="middle" fill="#000" >&lt;0.0001</text>
<text transform="translate(984.0,1792.2) scale(1.04,1) rotate(-90)" font-family='"Liberation Sans", Arial, sans-serif' font-size="28.2" font-weight="bold" text-anchor="middle" fill="#000" >Migration cell number</text>
<text transform="translate(1143.0,1933.0) scale(1.05,1) rotate(-45)" font-family='"Liberation Sans", Arial, sans-serif' font-size="27" font-weight="bold" text-anchor="end" fill="#000" >Control</text>
<text transform="translate(1247.0,1935.0) scale(1.05,1) rotate(-45)" font-family='"Liberation Sans", Arial, sans-serif' font-size="27" font-weight="bold" text-anchor="end" fill="#000" >Dihydroergotamine</text>
</svg></body></html>
